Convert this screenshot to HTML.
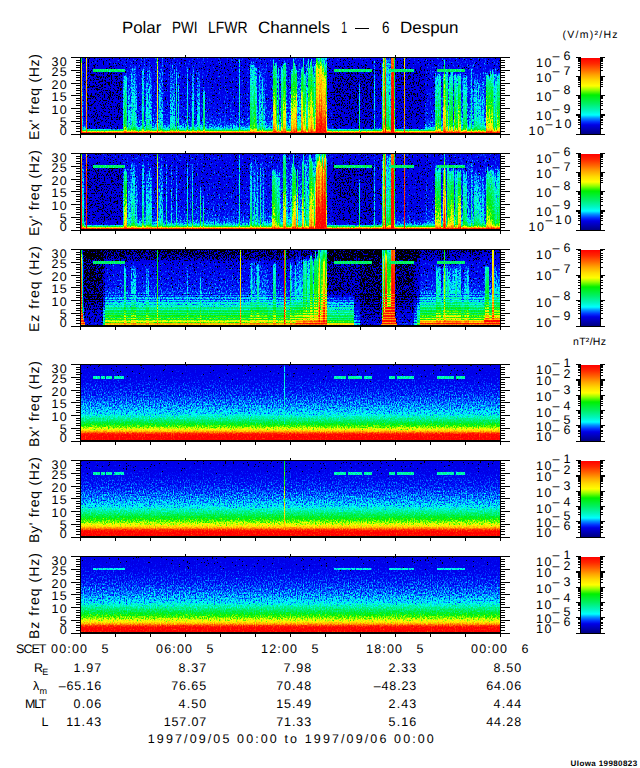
<!DOCTYPE html><html><head><meta charset="utf-8"><title>Polar PWI LFWR</title><style>html,body{margin:0;padding:0;background:#fff}svg{display:block}text{font-family:"Liberation Sans",sans-serif}</style></head><body><svg width="640" height="768" viewBox="0 0 640 768" shape-rendering="crispEdges" text-rendering="geometricPrecision"><rect width="640" height="768" fill="#fff"/><defs><filter id="f1" filterUnits="userSpaceOnUse" x="81" y="57" width="420" height="77" color-interpolation-filters="sRGB"><feTurbulence type="fractalNoise" baseFrequency="0.83 0.55" numOctaves="2" seed="3"/><feColorMatrix type="matrix" values="1 0 0 0 0 1 0 0 0 0 1 0 0 0 0 0 0 0 0 1"/><feComponentTransfer result="nz"><feFuncR type="table" tableValues="0.326 0.354 0.382 0.409 0.434 0.459 0.483 0.507 0.529 0.551 0.572 0.592 0.612 0.631 0.650 0.668 0.685 0.702 0.719 0.735 0.750 0.765 0.780 0.794 0.808 0.821 0.834 0.847 0.859 0.871 0.883 0.895 0.906 0.917 0.928 0.938 0.948 0.958 0.968 0.978 0.987"/><feFuncG type="table" tableValues="0.326 0.354 0.382 0.409 0.434 0.459 0.483 0.507 0.529 0.551 0.572 0.592 0.612 0.631 0.650 0.668 0.685 0.702 0.719 0.735 0.750 0.765 0.780 0.794 0.808 0.821 0.834 0.847 0.859 0.871 0.883 0.895 0.906 0.917 0.928 0.938 0.948 0.958 0.968 0.978 0.987"/><feFuncB type="table" tableValues="0.326 0.354 0.382 0.409 0.434 0.459 0.483 0.507 0.529 0.551 0.572 0.592 0.612 0.631 0.650 0.668 0.685 0.702 0.719 0.735 0.750 0.765 0.780 0.794 0.808 0.821 0.834 0.847 0.859 0.871 0.883 0.895 0.906 0.917 0.928 0.938 0.948 0.958 0.968 0.978 0.987"/></feComponentTransfer><feComponentTransfer in="SourceGraphic" result="amp"><feFuncR type="table" tableValues="1 1 1 1 1 1 1 1 1 1 1 1 1 1 1 1 1 1 1 1 1 0.996 0.99 0.983 0.976 0.97 0.963 0.957 0.95 0.944 0.937 0.931 0.924 0.918 0.911 0.905 0.898 0.892 0.885 0.878 0.872 0.865 0.859 0.852 0.846 0.839 0.833 0.826 0.82 0.813 0.807 0.8"/><feFuncG type="table" tableValues="1 1 1 1 1 1 1 1 1 1 1 1 1 1 1 1 1 1 1 1 1 0.996 0.99 0.983 0.976 0.97 0.963 0.957 0.95 0.944 0.937 0.931 0.924 0.918 0.911 0.905 0.898 0.892 0.885 0.878 0.872 0.865 0.859 0.852 0.846 0.839 0.833 0.826 0.82 0.813 0.807 0.8"/><feFuncB type="table" tableValues="1 1 1 1 1 1 1 1 1 1 1 1 1 1 1 1 1 1 1 1 1 0.996 0.99 0.983 0.976 0.97 0.963 0.957 0.95 0.944 0.937 0.931 0.924 0.918 0.911 0.905 0.898 0.892 0.885 0.878 0.872 0.865 0.859 0.852 0.846 0.839 0.833 0.826 0.82 0.813 0.807 0.8"/></feComponentTransfer><feComponentTransfer in="SourceGraphic" result="iamp"><feFuncR type="table" tableValues="0 0 0 0 0 0 0 0 0 0 0 0 0 0 0 0 0 0 0 0 0 0.004 0.01 0.017 0.024 0.03 0.037 0.043 0.05 0.056 0.063 0.069 0.076 0.082 0.089 0.095 0.102 0.108 0.115 0.122 0.128 0.135 0.141 0.148 0.154 0.161 0.167 0.174 0.18 0.187 0.193 0.2"/><feFuncG type="table" tableValues="0 0 0 0 0 0 0 0 0 0 0 0 0 0 0 0 0 0 0 0 0 0.004 0.01 0.017 0.024 0.03 0.037 0.043 0.05 0.056 0.063 0.069 0.076 0.082 0.089 0.095 0.102 0.108 0.115 0.122 0.128 0.135 0.141 0.148 0.154 0.161 0.167 0.174 0.18 0.187 0.193 0.2"/><feFuncB type="table" tableValues="0 0 0 0 0 0 0 0 0 0 0 0 0 0 0 0 0 0 0 0 0 0.004 0.01 0.017 0.024 0.03 0.037 0.043 0.05 0.056 0.063 0.069 0.076 0.082 0.089 0.095 0.102 0.108 0.115 0.122 0.128 0.135 0.141 0.148 0.154 0.161 0.167 0.174 0.18 0.187 0.193 0.2"/></feComponentTransfer><feComponentTransfer in="SourceGraphic" result="thr"><feFuncR type="table" tableValues="0.631 0.63 0.63 0.629 0.628 0.628 0.627 0.626 0.625 0.625 0.624 0.607 0.529 0.466 0.424 0.388 0.355 0.32 0.281 0.228 0 0 0 0 0 0 0 0 0 0 0 0 0 0 0 0 0 0 0 0 0 0 0 0 0 0 0 0 0 0 0 0"/><feFuncG type="table" tableValues="0.631 0.63 0.63 0.629 0.628 0.628 0.627 0.626 0.625 0.625 0.624 0.607 0.529 0.466 0.424 0.388 0.355 0.32 0.281 0.228 0 0 0 0 0 0 0 0 0 0 0 0 0 0 0 0 0 0 0 0 0 0 0 0 0 0 0 0 0 0 0 0"/><feFuncB type="table" tableValues="0.631 0.63 0.63 0.629 0.628 0.628 0.627 0.626 0.625 0.625 0.624 0.607 0.529 0.466 0.424 0.388 0.355 0.32 0.281 0.228 0 0 0 0 0 0 0 0 0 0 0 0 0 0 0 0 0 0 0 0 0 0 0 0 0 0 0 0 0 0 0 0"/></feComponentTransfer><feComposite in="amp" in2="nz" operator="arithmetic" k1="1" k2="0" k3="0" k4="0" result="m"/><feComposite in="SourceGraphic" in2="m" operator="arithmetic" k1="0" k2="0.5" k3="0.2344" k4="0" result="v1"/><feComposite in="v1" in2="iamp" operator="arithmetic" k1="0" k2="2" k3="0.3516" k4="-0.3516" result="v2"/><feTurbulence type="fractalNoise" baseFrequency="0.87 0.63" numOctaves="2" seed="53"/><feColorMatrix type="matrix" values="1 0 0 0 0 1 0 0 0 0 1 0 0 0 0 0 0 0 0 1" result="n2"/><feComposite in="n2" in2="thr" operator="arithmetic" k1="0" k2="1" k3="-1" k4="1"/><feComponentTransfer result="mask"><feFuncR type="linear" slope="30" intercept="-29"/><feFuncG type="linear" slope="30" intercept="-29"/><feFuncB type="linear" slope="30" intercept="-29"/></feComponentTransfer><feComposite in="v2" in2="mask" operator="arithmetic" k1="1" k2="0" k3="0" k4="0"/><feComponentTransfer><feFuncR type="table" tableValues="0 0 0 0 0 0 0 0 0 0 0 0 0 0 0 0 0 0 0 0 0 0 0 0 0 0 0 0 0 0 0 0 0 0 0 0 0 0 0 0 0 0 0 0 0 0 0 0 0 0 0 0 0 0 0 0 0 0 0 0 0 0 0 0 0 0 0 0 0 0 0 0 0 0 0 0 0 0 0 0 0 0 0.069 0.16 0.252 0.343 0.435 0.526 0.614 0.695 0.776 0.857 0.938 1 1 1 1 1 1 1 1 1 1 1 1 1 1 1 1 1 1 1 1 1 1 1 1 1 1 1 1 1 1 1 1 1 1 1 1"/><feFuncG type="table" tableValues="0 0 0 0 0 0 0 0 0 0 0 0 0 0 0 0 0 0 0 0 0 0 0 0 0 0 0 0 0 0 0 0 0 0 0 0 0 0 0 0 0 0 0 0 0.025 0.076 0.127 0.178 0.248 0.33 0.412 0.493 0.575 0.678 0.786 0.893 1 0.993 0.986 0.98 0.973 0.966 0.96 0.958 0.956 0.953 0.951 0.949 0.947 0.944 0.942 0.941 0.941 0.941 0.941 0.941 0.941 0.941 0.941 0.941 0.941 0.941 0.948 0.957 0.966 0.975 0.985 0.994 1 1 1 1 1 0.995 0.974 0.952 0.931 0.91 0.888 0.867 0.839 0.809 0.779 0.749 0.719 0.689 0.659 0.626 0.59 0.555 0.52 0.484 0.449 0.413 0.379 0.346 0.314 0.281 0.248 0.216 0.183 0.153 0.131 0.109 0.087 0.065 0.044 0.022 0"/><feFuncB type="table" tableValues="0 0 0 0 0 0 0 0 0 0 0 0 0 0 0 0 0 0 0 0 0 0 0 0.109 0.29 0.472 0.653 0.834 0.873 0.875 0.877 0.88 0.882 0.885 0.887 0.89 0.892 0.896 0.903 0.91 0.917 0.924 0.931 0.938 0.949 0.964 0.979 0.994 1 1 1 1 1 1 1 1 1 0.956 0.911 0.867 0.823 0.779 0.735 0.694 0.654 0.613 0.572 0.531 0.49 0.449 0.408 0.37 0.334 0.298 0.262 0.226 0.19 0.154 0.117 0.081 0.045 0.009 0 0 0 0 0 0 0 0 0 0 0 0 0 0 0 0 0 0 0 0 0 0 0 0 0 0 0 0 0 0 0 0 0 0 0 0 0 0 0 0 0 0 0 0 0 0 0"/></feComponentTransfer></filter><linearGradient id="c0" x1="0" y1="0" x2="0" y2="1"><stop offset="0" stop-color="#7d7d7d"/><stop offset="0.07" stop-color="#b3b3b3"/><stop offset="0.08" stop-color="#b5b5b5"/><stop offset="0.16" stop-color="#c9c9c9"/><stop offset="0.2" stop-color="#cbcbcb"/><stop offset="0.331" stop-color="#d1d1d1"/><stop offset="0.45" stop-color="#d7d7d7"/><stop offset="0.5" stop-color="#d9d9d9"/><stop offset="0.591" stop-color="#e2e2e2"/><stop offset="0.75" stop-color="#f0f0f0"/><stop offset="0.76" stop-color="#f1f1f1"/><stop offset="0.864" stop-color="#ffffff"/><stop offset="0.903" stop-color="#ffffff"/><stop offset="0.929" stop-color="#ffffff"/><stop offset="0.942" stop-color="#ffffff"/><stop offset="0.955" stop-color="#ffffff"/><stop offset="0.968" stop-color="#ffffff"/><stop offset="0.981" stop-color="#ffffff"/><stop offset="1" stop-color="#ffffff"/></linearGradient><linearGradient id="c1" x1="0" y1="0" x2="0" y2="1"><stop offset="0" stop-color="#545454"/><stop offset="0.08" stop-color="#545454"/><stop offset="0.1" stop-color="#545454"/><stop offset="0.16" stop-color="#5c5c5c"/><stop offset="0.2" stop-color="#5d5d5d"/><stop offset="0.331" stop-color="#5f5f5f"/><stop offset="0.45" stop-color="#636363"/><stop offset="0.591" stop-color="#676767"/><stop offset="0.76" stop-color="#6c6c6c"/><stop offset="0.864" stop-color="#737373"/><stop offset="0.903" stop-color="#7b7b7b"/><stop offset="0.929" stop-color="#878787"/><stop offset="0.942" stop-color="#929292"/><stop offset="0.955" stop-color="#a8a8a8"/><stop offset="0.968" stop-color="#c9c9c9"/><stop offset="0.981" stop-color="#f3f3f3"/><stop offset="1" stop-color="#ffffff"/></linearGradient><linearGradient id="c2" x1="0" y1="0" x2="0" y2="1"><stop offset="0" stop-color="#4f4f4f"/><stop offset="0.08" stop-color="#4f4f4f"/><stop offset="0.2" stop-color="#4f4f4f"/><stop offset="0.331" stop-color="#4f4f4f"/><stop offset="0.45" stop-color="#505050"/><stop offset="0.591" stop-color="#525252"/><stop offset="0.76" stop-color="#545454"/><stop offset="0.864" stop-color="#595959"/><stop offset="0.903" stop-color="#616161"/><stop offset="0.929" stop-color="#6c6c6c"/><stop offset="0.942" stop-color="#7f7f7f"/><stop offset="0.955" stop-color="#999999"/><stop offset="0.968" stop-color="#c0c0c0"/><stop offset="0.981" stop-color="#f1f1f1"/><stop offset="1" stop-color="#ffffff"/></linearGradient><linearGradient id="c3" x1="0" y1="0" x2="0" y2="1"><stop offset="0" stop-color="#bbbbbb"/><stop offset="0.08" stop-color="#c1c1c1"/><stop offset="0.2" stop-color="#cacaca"/><stop offset="0.331" stop-color="#d1d1d1"/><stop offset="0.45" stop-color="#d3d3d3"/><stop offset="0.591" stop-color="#d5d5d5"/><stop offset="0.76" stop-color="#d7d7d7"/><stop offset="0.864" stop-color="#dadada"/><stop offset="0.903" stop-color="#dcdcdc"/><stop offset="0.929" stop-color="#e0e0e0"/><stop offset="0.942" stop-color="#e2e2e2"/><stop offset="0.955" stop-color="#e8e8e8"/><stop offset="0.968" stop-color="#f1f1f1"/><stop offset="0.981" stop-color="#fcfcfc"/><stop offset="1" stop-color="#ffffff"/></linearGradient><linearGradient id="c4" x1="0" y1="0" x2="0" y2="1"><stop offset="0" stop-color="#515151"/><stop offset="0.08" stop-color="#505050"/><stop offset="0.2" stop-color="#454545"/><stop offset="0.331" stop-color="#454545"/><stop offset="0.45" stop-color="#454545"/><stop offset="0.591" stop-color="#464646"/><stop offset="0.76" stop-color="#474747"/><stop offset="0.864" stop-color="#494949"/><stop offset="0.903" stop-color="#4c4c4c"/><stop offset="0.929" stop-color="#525252"/><stop offset="0.942" stop-color="#777777"/><stop offset="0.955" stop-color="#939393"/><stop offset="0.968" stop-color="#bcbcbc"/><stop offset="0.981" stop-color="#f0f0f0"/><stop offset="1" stop-color="#ffffff"/></linearGradient><linearGradient id="c5" x1="0" y1="0" x2="0" y2="1"><stop offset="0" stop-color="#515151"/><stop offset="0.08" stop-color="#505050"/><stop offset="0.2" stop-color="#474747"/><stop offset="0.331" stop-color="#474747"/><stop offset="0.45" stop-color="#484848"/><stop offset="0.591" stop-color="#494949"/><stop offset="0.76" stop-color="#4a4a4a"/><stop offset="0.864" stop-color="#4c4c4c"/><stop offset="0.903" stop-color="#4f4f4f"/><stop offset="0.929" stop-color="#545454"/><stop offset="0.942" stop-color="#797979"/><stop offset="0.955" stop-color="#959595"/><stop offset="0.968" stop-color="#bdbdbd"/><stop offset="0.981" stop-color="#f0f0f0"/><stop offset="1" stop-color="#ffffff"/></linearGradient><linearGradient id="c6" x1="0" y1="0" x2="0" y2="1"><stop offset="0" stop-color="#515151"/><stop offset="0.08" stop-color="#505050"/><stop offset="0.2" stop-color="#454545"/><stop offset="0.331" stop-color="#454545"/><stop offset="0.45" stop-color="#464646"/><stop offset="0.591" stop-color="#474747"/><stop offset="0.76" stop-color="#484848"/><stop offset="0.864" stop-color="#4a4a4a"/><stop offset="0.903" stop-color="#4d4d4d"/><stop offset="0.929" stop-color="#525252"/><stop offset="0.942" stop-color="#787878"/><stop offset="0.955" stop-color="#939393"/><stop offset="0.968" stop-color="#bcbcbc"/><stop offset="0.981" stop-color="#f0f0f0"/><stop offset="1" stop-color="#ffffff"/></linearGradient><linearGradient id="c7" x1="0" y1="0" x2="0" y2="1"><stop offset="0" stop-color="#515151"/><stop offset="0.08" stop-color="#505050"/><stop offset="0.2" stop-color="#464646"/><stop offset="0.331" stop-color="#464646"/><stop offset="0.45" stop-color="#474747"/><stop offset="0.591" stop-color="#484848"/><stop offset="0.76" stop-color="#494949"/><stop offset="0.864" stop-color="#4b4b4b"/><stop offset="0.903" stop-color="#4e4e4e"/><stop offset="0.929" stop-color="#535353"/><stop offset="0.942" stop-color="#787878"/><stop offset="0.955" stop-color="#949494"/><stop offset="0.968" stop-color="#bdbdbd"/><stop offset="0.981" stop-color="#f0f0f0"/><stop offset="1" stop-color="#ffffff"/></linearGradient><linearGradient id="c8" x1="0" y1="0" x2="0" y2="1"><stop offset="0" stop-color="#515151"/><stop offset="0.08" stop-color="#505050"/><stop offset="0.2" stop-color="#444444"/><stop offset="0.331" stop-color="#444444"/><stop offset="0.45" stop-color="#444444"/><stop offset="0.591" stop-color="#454545"/><stop offset="0.76" stop-color="#464646"/><stop offset="0.864" stop-color="#484848"/><stop offset="0.903" stop-color="#4b4b4b"/><stop offset="0.929" stop-color="#515151"/><stop offset="0.942" stop-color="#767676"/><stop offset="0.955" stop-color="#929292"/><stop offset="0.968" stop-color="#bcbcbc"/><stop offset="0.981" stop-color="#f0f0f0"/><stop offset="1" stop-color="#ffffff"/></linearGradient><linearGradient id="c9" x1="0" y1="0" x2="0" y2="1"><stop offset="0" stop-color="#545454"/><stop offset="0.08" stop-color="#545454"/><stop offset="0.2" stop-color="#545454"/><stop offset="0.26" stop-color="#616161"/><stop offset="0.331" stop-color="#646464"/><stop offset="0.45" stop-color="#696969"/><stop offset="0.591" stop-color="#6f6f6f"/><stop offset="0.76" stop-color="#757575"/><stop offset="0.864" stop-color="#7d7d7d"/><stop offset="0.903" stop-color="#848484"/><stop offset="0.929" stop-color="#909090"/><stop offset="0.942" stop-color="#9a9a9a"/><stop offset="0.955" stop-color="#afafaf"/><stop offset="0.968" stop-color="#cdcdcd"/><stop offset="0.981" stop-color="#f4f4f4"/><stop offset="1" stop-color="#ffffff"/></linearGradient><linearGradient id="c10" x1="0" y1="0" x2="0" y2="1"><stop offset="0" stop-color="#545454"/><stop offset="0.08" stop-color="#545454"/><stop offset="0.2" stop-color="#545454"/><stop offset="0.26" stop-color="#717171"/><stop offset="0.331" stop-color="#777777"/><stop offset="0.45" stop-color="#828282"/><stop offset="0.591" stop-color="#8c8c8c"/><stop offset="0.76" stop-color="#969696"/><stop offset="0.864" stop-color="#9f9f9f"/><stop offset="0.903" stop-color="#a6a6a6"/><stop offset="0.929" stop-color="#b0b0b0"/><stop offset="0.942" stop-color="#b7b7b7"/><stop offset="0.955" stop-color="#c6c6c6"/><stop offset="0.968" stop-color="#dcdcdc"/><stop offset="0.981" stop-color="#f7f7f7"/><stop offset="1" stop-color="#ffffff"/></linearGradient><linearGradient id="c11" x1="0" y1="0" x2="0" y2="1"><stop offset="0" stop-color="#545454"/><stop offset="0.08" stop-color="#545454"/><stop offset="0.2" stop-color="#545454"/><stop offset="0.26" stop-color="#6f6f6f"/><stop offset="0.331" stop-color="#747474"/><stop offset="0.45" stop-color="#7e7e7e"/><stop offset="0.591" stop-color="#888888"/><stop offset="0.76" stop-color="#929292"/><stop offset="0.864" stop-color="#9a9a9a"/><stop offset="0.903" stop-color="#a2a2a2"/><stop offset="0.929" stop-color="#ababab"/><stop offset="0.942" stop-color="#b3b3b3"/><stop offset="0.955" stop-color="#c3c3c3"/><stop offset="0.968" stop-color="#dadada"/><stop offset="0.981" stop-color="#f7f7f7"/><stop offset="1" stop-color="#ffffff"/></linearGradient><linearGradient id="c12" x1="0" y1="0" x2="0" y2="1"><stop offset="0" stop-color="#545454"/><stop offset="0.08" stop-color="#545454"/><stop offset="0.2" stop-color="#545454"/><stop offset="0.26" stop-color="#6a6a6a"/><stop offset="0.331" stop-color="#6f6f6f"/><stop offset="0.45" stop-color="#777777"/><stop offset="0.591" stop-color="#7f7f7f"/><stop offset="0.76" stop-color="#888888"/><stop offset="0.864" stop-color="#919191"/><stop offset="0.903" stop-color="#989898"/><stop offset="0.929" stop-color="#a2a2a2"/><stop offset="0.942" stop-color="#ababab"/><stop offset="0.955" stop-color="#bcbcbc"/><stop offset="0.968" stop-color="#d6d6d6"/><stop offset="0.981" stop-color="#f6f6f6"/><stop offset="1" stop-color="#ffffff"/></linearGradient><linearGradient id="c13" x1="0" y1="0" x2="0" y2="1"><stop offset="0" stop-color="#575757"/><stop offset="0.08" stop-color="#575757"/><stop offset="0.2" stop-color="#575757"/><stop offset="0.331" stop-color="#575757"/><stop offset="0.45" stop-color="#585858"/><stop offset="0.591" stop-color="#5a5a5a"/><stop offset="0.76" stop-color="#5d5d5d"/><stop offset="0.864" stop-color="#626262"/><stop offset="0.903" stop-color="#6b6b6b"/><stop offset="0.929" stop-color="#787878"/><stop offset="0.942" stop-color="#848484"/><stop offset="0.955" stop-color="#9d9d9d"/><stop offset="0.968" stop-color="#c2c2c2"/><stop offset="0.981" stop-color="#f2f2f2"/><stop offset="1" stop-color="#ffffff"/></linearGradient><linearGradient id="c14" x1="0" y1="0" x2="0" y2="1"><stop offset="0" stop-color="#545454"/><stop offset="0.08" stop-color="#545454"/><stop offset="0.2" stop-color="#545454"/><stop offset="0.25" stop-color="#545454"/><stop offset="0.31" stop-color="#616161"/><stop offset="0.331" stop-color="#626262"/><stop offset="0.45" stop-color="#696969"/><stop offset="0.591" stop-color="#6f6f6f"/><stop offset="0.76" stop-color="#757575"/><stop offset="0.864" stop-color="#7d7d7d"/><stop offset="0.903" stop-color="#848484"/><stop offset="0.929" stop-color="#909090"/><stop offset="0.942" stop-color="#9a9a9a"/><stop offset="0.955" stop-color="#afafaf"/><stop offset="0.968" stop-color="#cdcdcd"/><stop offset="0.981" stop-color="#f4f4f4"/><stop offset="1" stop-color="#ffffff"/></linearGradient><linearGradient id="c15" x1="0" y1="0" x2="0" y2="1"><stop offset="0" stop-color="#545454"/><stop offset="0.08" stop-color="#545454"/><stop offset="0.2" stop-color="#545454"/><stop offset="0.26" stop-color="#5c5c5c"/><stop offset="0.331" stop-color="#5e5e5e"/><stop offset="0.45" stop-color="#626262"/><stop offset="0.591" stop-color="#676767"/><stop offset="0.76" stop-color="#6c6c6c"/><stop offset="0.864" stop-color="#737373"/><stop offset="0.903" stop-color="#7b7b7b"/><stop offset="0.929" stop-color="#878787"/><stop offset="0.942" stop-color="#929292"/><stop offset="0.955" stop-color="#a8a8a8"/><stop offset="0.968" stop-color="#c9c9c9"/><stop offset="0.981" stop-color="#f3f3f3"/><stop offset="1" stop-color="#ffffff"/></linearGradient><linearGradient id="c16" x1="0" y1="0" x2="0" y2="1"><stop offset="0" stop-color="#545454"/><stop offset="0.08" stop-color="#545454"/><stop offset="0.1" stop-color="#545454"/><stop offset="0.16" stop-color="#5a5a5a"/><stop offset="0.2" stop-color="#5b5b5b"/><stop offset="0.331" stop-color="#5c5c5c"/><stop offset="0.45" stop-color="#5f5f5f"/><stop offset="0.591" stop-color="#636363"/><stop offset="0.76" stop-color="#676767"/><stop offset="0.864" stop-color="#6e6e6e"/><stop offset="0.903" stop-color="#767676"/><stop offset="0.929" stop-color="#828282"/><stop offset="0.942" stop-color="#8d8d8d"/><stop offset="0.955" stop-color="#a5a5a5"/><stop offset="0.968" stop-color="#c7c7c7"/><stop offset="0.981" stop-color="#f3f3f3"/><stop offset="1" stop-color="#ffffff"/></linearGradient><linearGradient id="c17" x1="0" y1="0" x2="0" y2="1"><stop offset="0" stop-color="#545454"/><stop offset="0.08" stop-color="#545454"/><stop offset="0.1" stop-color="#545454"/><stop offset="0.16" stop-color="#616161"/><stop offset="0.2" stop-color="#626262"/><stop offset="0.331" stop-color="#656565"/><stop offset="0.45" stop-color="#6a6a6a"/><stop offset="0.591" stop-color="#6f6f6f"/><stop offset="0.76" stop-color="#757575"/><stop offset="0.864" stop-color="#7d7d7d"/><stop offset="0.903" stop-color="#848484"/><stop offset="0.929" stop-color="#909090"/><stop offset="0.942" stop-color="#9a9a9a"/><stop offset="0.955" stop-color="#afafaf"/><stop offset="0.968" stop-color="#cdcdcd"/><stop offset="0.981" stop-color="#f4f4f4"/><stop offset="1" stop-color="#ffffff"/></linearGradient><linearGradient id="c18" x1="0" y1="0" x2="0" y2="1"><stop offset="0" stop-color="#545454"/><stop offset="0.08" stop-color="#545454"/><stop offset="0.1" stop-color="#545454"/><stop offset="0.16" stop-color="#666666"/><stop offset="0.2" stop-color="#676767"/><stop offset="0.331" stop-color="#6c6c6c"/><stop offset="0.45" stop-color="#717171"/><stop offset="0.591" stop-color="#777777"/><stop offset="0.76" stop-color="#7f7f7f"/><stop offset="0.864" stop-color="#878787"/><stop offset="0.903" stop-color="#8e8e8e"/><stop offset="0.929" stop-color="#999999"/><stop offset="0.942" stop-color="#a2a2a2"/><stop offset="0.955" stop-color="#b6b6b6"/><stop offset="0.968" stop-color="#d1d1d1"/><stop offset="0.981" stop-color="#f5f5f5"/><stop offset="1" stop-color="#ffffff"/></linearGradient><linearGradient id="c19" x1="0" y1="0" x2="0" y2="1"><stop offset="0" stop-color="#545454"/><stop offset="0.08" stop-color="#545454"/><stop offset="0.1" stop-color="#545454"/><stop offset="0.16" stop-color="#5f5f5f"/><stop offset="0.2" stop-color="#606060"/><stop offset="0.331" stop-color="#626262"/><stop offset="0.45" stop-color="#666666"/><stop offset="0.591" stop-color="#6b6b6b"/><stop offset="0.76" stop-color="#707070"/><stop offset="0.864" stop-color="#787878"/><stop offset="0.903" stop-color="#808080"/><stop offset="0.929" stop-color="#8c8c8c"/><stop offset="0.942" stop-color="#969696"/><stop offset="0.955" stop-color="#acacac"/><stop offset="0.968" stop-color="#cbcbcb"/><stop offset="0.981" stop-color="#f3f3f3"/><stop offset="1" stop-color="#ffffff"/></linearGradient><linearGradient id="c20" x1="0" y1="0" x2="0" y2="1"><stop offset="0" stop-color="#545454"/><stop offset="0.08" stop-color="#545454"/><stop offset="0.2" stop-color="#545454"/><stop offset="0.26" stop-color="#5f5f5f"/><stop offset="0.331" stop-color="#616161"/><stop offset="0.45" stop-color="#666666"/><stop offset="0.591" stop-color="#6b6b6b"/><stop offset="0.76" stop-color="#707070"/><stop offset="0.864" stop-color="#787878"/><stop offset="0.903" stop-color="#808080"/><stop offset="0.929" stop-color="#8c8c8c"/><stop offset="0.942" stop-color="#969696"/><stop offset="0.955" stop-color="#acacac"/><stop offset="0.968" stop-color="#cbcbcb"/><stop offset="0.981" stop-color="#f3f3f3"/><stop offset="1" stop-color="#ffffff"/></linearGradient><linearGradient id="c21" x1="0" y1="0" x2="0" y2="1"><stop offset="0" stop-color="#525252"/><stop offset="0.08" stop-color="#525252"/><stop offset="0.2" stop-color="#525252"/><stop offset="0.331" stop-color="#525252"/><stop offset="0.45" stop-color="#545454"/><stop offset="0.591" stop-color="#555555"/><stop offset="0.76" stop-color="#585858"/><stop offset="0.864" stop-color="#5e5e5e"/><stop offset="0.903" stop-color="#676767"/><stop offset="0.929" stop-color="#757575"/><stop offset="0.942" stop-color="#818181"/><stop offset="0.955" stop-color="#9b9b9b"/><stop offset="0.968" stop-color="#c1c1c1"/><stop offset="0.981" stop-color="#f1f1f1"/><stop offset="1" stop-color="#ffffff"/></linearGradient><linearGradient id="c22" x1="0" y1="0" x2="0" y2="1"><stop offset="0" stop-color="#515151"/><stop offset="0.08" stop-color="#515151"/><stop offset="0.2" stop-color="#515151"/><stop offset="0.331" stop-color="#515151"/><stop offset="0.45" stop-color="#535353"/><stop offset="0.591" stop-color="#545454"/><stop offset="0.76" stop-color="#575757"/><stop offset="0.864" stop-color="#5d5d5d"/><stop offset="0.903" stop-color="#666666"/><stop offset="0.929" stop-color="#747474"/><stop offset="0.942" stop-color="#808080"/><stop offset="0.955" stop-color="#9a9a9a"/><stop offset="0.968" stop-color="#c0c0c0"/><stop offset="0.981" stop-color="#f1f1f1"/><stop offset="1" stop-color="#ffffff"/></linearGradient><linearGradient id="c23" x1="0" y1="0" x2="0" y2="1"><stop offset="0" stop-color="#545454"/><stop offset="0.08" stop-color="#545454"/><stop offset="0.2" stop-color="#545454"/><stop offset="0.331" stop-color="#545454"/><stop offset="0.45" stop-color="#555555"/><stop offset="0.591" stop-color="#575757"/><stop offset="0.76" stop-color="#5a5a5a"/><stop offset="0.864" stop-color="#606060"/><stop offset="0.903" stop-color="#686868"/><stop offset="0.929" stop-color="#767676"/><stop offset="0.942" stop-color="#828282"/><stop offset="0.955" stop-color="#9c9c9c"/><stop offset="0.968" stop-color="#c1c1c1"/><stop offset="0.981" stop-color="#f1f1f1"/><stop offset="1" stop-color="#ffffff"/></linearGradient><linearGradient id="c24" x1="0" y1="0" x2="0" y2="1"><stop offset="0" stop-color="#585858"/><stop offset="0.08" stop-color="#585858"/><stop offset="0.2" stop-color="#585858"/><stop offset="0.331" stop-color="#585858"/><stop offset="0.45" stop-color="#595959"/><stop offset="0.591" stop-color="#5b5b5b"/><stop offset="0.76" stop-color="#5e5e5e"/><stop offset="0.864" stop-color="#636363"/><stop offset="0.903" stop-color="#6c6c6c"/><stop offset="0.929" stop-color="#797979"/><stop offset="0.942" stop-color="#858585"/><stop offset="0.955" stop-color="#9e9e9e"/><stop offset="0.968" stop-color="#c3c3c3"/><stop offset="0.981" stop-color="#f2f2f2"/><stop offset="1" stop-color="#ffffff"/></linearGradient><linearGradient id="c25" x1="0" y1="0" x2="0" y2="1"><stop offset="0" stop-color="#545454"/><stop offset="0.08" stop-color="#545454"/><stop offset="0.1" stop-color="#545454"/><stop offset="0.16" stop-color="#686868"/><stop offset="0.2" stop-color="#696969"/><stop offset="0.331" stop-color="#6f6f6f"/><stop offset="0.45" stop-color="#757575"/><stop offset="0.591" stop-color="#7b7b7b"/><stop offset="0.76" stop-color="#838383"/><stop offset="0.864" stop-color="#8c8c8c"/><stop offset="0.903" stop-color="#939393"/><stop offset="0.929" stop-color="#9e9e9e"/><stop offset="0.942" stop-color="#a6a6a6"/><stop offset="0.955" stop-color="#b9b9b9"/><stop offset="0.968" stop-color="#d3d3d3"/><stop offset="0.981" stop-color="#f5f5f5"/><stop offset="1" stop-color="#ffffff"/></linearGradient><linearGradient id="c26" x1="0" y1="0" x2="0" y2="1"><stop offset="0" stop-color="#545454"/><stop offset="0.08" stop-color="#545454"/><stop offset="0.2" stop-color="#545454"/><stop offset="0.25" stop-color="#545454"/><stop offset="0.31" stop-color="#636363"/><stop offset="0.331" stop-color="#646464"/><stop offset="0.45" stop-color="#6c6c6c"/><stop offset="0.591" stop-color="#737373"/><stop offset="0.76" stop-color="#7a7a7a"/><stop offset="0.864" stop-color="#828282"/><stop offset="0.903" stop-color="#898989"/><stop offset="0.929" stop-color="#959595"/><stop offset="0.942" stop-color="#9e9e9e"/><stop offset="0.955" stop-color="#b2b2b2"/><stop offset="0.968" stop-color="#cfcfcf"/><stop offset="0.981" stop-color="#f4f4f4"/><stop offset="1" stop-color="#ffffff"/></linearGradient><linearGradient id="c27" x1="0" y1="0" x2="0" y2="1"><stop offset="0" stop-color="#545454"/><stop offset="0.05" stop-color="#545454"/><stop offset="0.08" stop-color="#5c5c5c"/><stop offset="0.11" stop-color="#636363"/><stop offset="0.2" stop-color="#666666"/><stop offset="0.331" stop-color="#696969"/><stop offset="0.45" stop-color="#6e6e6e"/><stop offset="0.591" stop-color="#737373"/><stop offset="0.76" stop-color="#7a7a7a"/><stop offset="0.864" stop-color="#828282"/><stop offset="0.903" stop-color="#898989"/><stop offset="0.929" stop-color="#959595"/><stop offset="0.942" stop-color="#9e9e9e"/><stop offset="0.955" stop-color="#b2b2b2"/><stop offset="0.968" stop-color="#cfcfcf"/><stop offset="0.981" stop-color="#f4f4f4"/><stop offset="1" stop-color="#ffffff"/></linearGradient><linearGradient id="c28" x1="0" y1="0" x2="0" y2="1"><stop offset="0" stop-color="#545454"/><stop offset="0.08" stop-color="#545454"/><stop offset="0.15" stop-color="#545454"/><stop offset="0.2" stop-color="#5b5b5b"/><stop offset="0.21" stop-color="#5c5c5c"/><stop offset="0.331" stop-color="#5f5f5f"/><stop offset="0.45" stop-color="#636363"/><stop offset="0.591" stop-color="#676767"/><stop offset="0.76" stop-color="#6c6c6c"/><stop offset="0.864" stop-color="#737373"/><stop offset="0.903" stop-color="#7b7b7b"/><stop offset="0.929" stop-color="#878787"/><stop offset="0.942" stop-color="#929292"/><stop offset="0.955" stop-color="#a8a8a8"/><stop offset="0.968" stop-color="#c9c9c9"/><stop offset="0.981" stop-color="#f3f3f3"/><stop offset="1" stop-color="#ffffff"/></linearGradient><linearGradient id="c29" x1="0" y1="0" x2="0" y2="1"><stop offset="0" stop-color="#505050"/><stop offset="0.08" stop-color="#505050"/><stop offset="0.2" stop-color="#505050"/><stop offset="0.331" stop-color="#505050"/><stop offset="0.45" stop-color="#515151"/><stop offset="0.591" stop-color="#535353"/><stop offset="0.76" stop-color="#565656"/><stop offset="0.864" stop-color="#5b5b5b"/><stop offset="0.903" stop-color="#636363"/><stop offset="0.929" stop-color="#707070"/><stop offset="0.942" stop-color="#7f7f7f"/><stop offset="0.955" stop-color="#9a9a9a"/><stop offset="0.968" stop-color="#c0c0c0"/><stop offset="0.981" stop-color="#f1f1f1"/><stop offset="1" stop-color="#ffffff"/></linearGradient><linearGradient id="c30" x1="0" y1="0" x2="0" y2="1"><stop offset="0" stop-color="#565656"/><stop offset="0.08" stop-color="#565656"/><stop offset="0.2" stop-color="#565656"/><stop offset="0.331" stop-color="#565656"/><stop offset="0.45" stop-color="#575757"/><stop offset="0.591" stop-color="#595959"/><stop offset="0.76" stop-color="#5c5c5c"/><stop offset="0.864" stop-color="#626262"/><stop offset="0.903" stop-color="#6a6a6a"/><stop offset="0.929" stop-color="#787878"/><stop offset="0.942" stop-color="#838383"/><stop offset="0.955" stop-color="#9d9d9d"/><stop offset="0.968" stop-color="#c2c2c2"/><stop offset="0.981" stop-color="#f1f1f1"/><stop offset="1" stop-color="#ffffff"/></linearGradient><linearGradient id="c31" x1="0" y1="0" x2="0" y2="1"><stop offset="0" stop-color="#555555"/><stop offset="0.08" stop-color="#555555"/><stop offset="0.2" stop-color="#555555"/><stop offset="0.331" stop-color="#555555"/><stop offset="0.45" stop-color="#565656"/><stop offset="0.591" stop-color="#585858"/><stop offset="0.76" stop-color="#5b5b5b"/><stop offset="0.864" stop-color="#616161"/><stop offset="0.903" stop-color="#696969"/><stop offset="0.929" stop-color="#777777"/><stop offset="0.942" stop-color="#838383"/><stop offset="0.955" stop-color="#9c9c9c"/><stop offset="0.968" stop-color="#c2c2c2"/><stop offset="0.981" stop-color="#f1f1f1"/><stop offset="1" stop-color="#ffffff"/></linearGradient><linearGradient id="c32" x1="0" y1="0" x2="0" y2="1"><stop offset="0" stop-color="#ababab"/><stop offset="0.08" stop-color="#b0b0b0"/><stop offset="0.2" stop-color="#b8b8b8"/><stop offset="0.331" stop-color="#bebebe"/><stop offset="0.45" stop-color="#c0c0c0"/><stop offset="0.591" stop-color="#c2c2c2"/><stop offset="0.76" stop-color="#c4c4c4"/><stop offset="0.864" stop-color="#c7c7c7"/><stop offset="0.903" stop-color="#cbcbcb"/><stop offset="0.929" stop-color="#d0d0d0"/><stop offset="0.942" stop-color="#d4d4d4"/><stop offset="0.955" stop-color="#dddddd"/><stop offset="0.968" stop-color="#eaeaea"/><stop offset="0.981" stop-color="#fafafa"/><stop offset="1" stop-color="#ffffff"/></linearGradient><linearGradient id="c33" x1="0" y1="0" x2="0" y2="1"><stop offset="0" stop-color="#545454"/><stop offset="0.05" stop-color="#545454"/><stop offset="0.08" stop-color="#565656"/><stop offset="0.11" stop-color="#585858"/><stop offset="0.2" stop-color="#585858"/><stop offset="0.331" stop-color="#595959"/><stop offset="0.45" stop-color="#5c5c5c"/><stop offset="0.591" stop-color="#5e5e5e"/><stop offset="0.76" stop-color="#626262"/><stop offset="0.864" stop-color="#696969"/><stop offset="0.903" stop-color="#717171"/><stop offset="0.929" stop-color="#7e7e7e"/><stop offset="0.942" stop-color="#898989"/><stop offset="0.955" stop-color="#a2a2a2"/><stop offset="0.968" stop-color="#c5c5c5"/><stop offset="0.981" stop-color="#f2f2f2"/><stop offset="1" stop-color="#ffffff"/></linearGradient><linearGradient id="c34" x1="0" y1="0" x2="0" y2="1"><stop offset="0" stop-color="#545454"/><stop offset="0.08" stop-color="#545454"/><stop offset="0.15" stop-color="#545454"/><stop offset="0.2" stop-color="#5f5f5f"/><stop offset="0.21" stop-color="#616161"/><stop offset="0.331" stop-color="#656565"/><stop offset="0.45" stop-color="#6a6a6a"/><stop offset="0.591" stop-color="#6f6f6f"/><stop offset="0.76" stop-color="#757575"/><stop offset="0.864" stop-color="#7d7d7d"/><stop offset="0.903" stop-color="#848484"/><stop offset="0.929" stop-color="#909090"/><stop offset="0.942" stop-color="#9a9a9a"/><stop offset="0.955" stop-color="#afafaf"/><stop offset="0.968" stop-color="#cdcdcd"/><stop offset="0.981" stop-color="#f4f4f4"/><stop offset="1" stop-color="#ffffff"/></linearGradient><linearGradient id="c35" x1="0" y1="0" x2="0" y2="1"><stop offset="0" stop-color="#545454"/><stop offset="0.08" stop-color="#545454"/><stop offset="0.15" stop-color="#545454"/><stop offset="0.2" stop-color="#5d5d5d"/><stop offset="0.21" stop-color="#5f5f5f"/><stop offset="0.331" stop-color="#626262"/><stop offset="0.45" stop-color="#666666"/><stop offset="0.591" stop-color="#6b6b6b"/><stop offset="0.76" stop-color="#707070"/><stop offset="0.864" stop-color="#787878"/><stop offset="0.903" stop-color="#808080"/><stop offset="0.929" stop-color="#8c8c8c"/><stop offset="0.942" stop-color="#969696"/><stop offset="0.955" stop-color="#acacac"/><stop offset="0.968" stop-color="#cbcbcb"/><stop offset="0.981" stop-color="#f3f3f3"/><stop offset="1" stop-color="#ffffff"/></linearGradient><linearGradient id="c36" x1="0" y1="0" x2="0" y2="1"><stop offset="0" stop-color="#545454"/><stop offset="0.05" stop-color="#545454"/><stop offset="0.08" stop-color="#585858"/><stop offset="0.11" stop-color="#5c5c5c"/><stop offset="0.2" stop-color="#5e5e5e"/><stop offset="0.331" stop-color="#606060"/><stop offset="0.45" stop-color="#636363"/><stop offset="0.591" stop-color="#676767"/><stop offset="0.76" stop-color="#6c6c6c"/><stop offset="0.864" stop-color="#737373"/><stop offset="0.903" stop-color="#7b7b7b"/><stop offset="0.929" stop-color="#878787"/><stop offset="0.942" stop-color="#929292"/><stop offset="0.955" stop-color="#a8a8a8"/><stop offset="0.968" stop-color="#c9c9c9"/><stop offset="0.981" stop-color="#f3f3f3"/><stop offset="1" stop-color="#ffffff"/></linearGradient><linearGradient id="c37" x1="0" y1="0" x2="0" y2="1"><stop offset="0" stop-color="#545454"/><stop offset="0.06" stop-color="#5c5c5c"/><stop offset="0.08" stop-color="#5d5d5d"/><stop offset="0.2" stop-color="#5e5e5e"/><stop offset="0.331" stop-color="#606060"/><stop offset="0.45" stop-color="#636363"/><stop offset="0.591" stop-color="#676767"/><stop offset="0.76" stop-color="#6c6c6c"/><stop offset="0.864" stop-color="#737373"/><stop offset="0.903" stop-color="#7b7b7b"/><stop offset="0.929" stop-color="#878787"/><stop offset="0.942" stop-color="#929292"/><stop offset="0.955" stop-color="#a8a8a8"/><stop offset="0.968" stop-color="#c9c9c9"/><stop offset="0.981" stop-color="#f3f3f3"/><stop offset="1" stop-color="#ffffff"/></linearGradient><linearGradient id="c38" x1="0" y1="0" x2="0" y2="1"><stop offset="0" stop-color="#535353"/><stop offset="0.08" stop-color="#535353"/><stop offset="0.2" stop-color="#535353"/><stop offset="0.331" stop-color="#535353"/><stop offset="0.45" stop-color="#545454"/><stop offset="0.591" stop-color="#565656"/><stop offset="0.76" stop-color="#595959"/><stop offset="0.864" stop-color="#5f5f5f"/><stop offset="0.903" stop-color="#686868"/><stop offset="0.929" stop-color="#757575"/><stop offset="0.942" stop-color="#818181"/><stop offset="0.955" stop-color="#9b9b9b"/><stop offset="0.968" stop-color="#c1c1c1"/><stop offset="0.981" stop-color="#f1f1f1"/><stop offset="1" stop-color="#ffffff"/></linearGradient><linearGradient id="c39" x1="0" y1="0" x2="0" y2="1"><stop offset="0" stop-color="#545454"/><stop offset="0.05" stop-color="#545454"/><stop offset="0.08" stop-color="#595959"/><stop offset="0.11" stop-color="#5f5f5f"/><stop offset="0.2" stop-color="#606060"/><stop offset="0.331" stop-color="#636363"/><stop offset="0.45" stop-color="#666666"/><stop offset="0.591" stop-color="#6b6b6b"/><stop offset="0.76" stop-color="#707070"/><stop offset="0.864" stop-color="#787878"/><stop offset="0.903" stop-color="#808080"/><stop offset="0.929" stop-color="#8c8c8c"/><stop offset="0.942" stop-color="#969696"/><stop offset="0.955" stop-color="#acacac"/><stop offset="0.968" stop-color="#cbcbcb"/><stop offset="0.981" stop-color="#f3f3f3"/><stop offset="1" stop-color="#ffffff"/></linearGradient><linearGradient id="c40" x1="0" y1="0" x2="0" y2="1"><stop offset="0" stop-color="#545454"/><stop offset="0.08" stop-color="#545454"/><stop offset="0.1" stop-color="#545454"/><stop offset="0.16" stop-color="#6a6a6a"/><stop offset="0.2" stop-color="#6c6c6c"/><stop offset="0.331" stop-color="#727272"/><stop offset="0.45" stop-color="#787878"/><stop offset="0.591" stop-color="#7f7f7f"/><stop offset="0.76" stop-color="#888888"/><stop offset="0.864" stop-color="#919191"/><stop offset="0.903" stop-color="#989898"/><stop offset="0.929" stop-color="#a2a2a2"/><stop offset="0.942" stop-color="#ababab"/><stop offset="0.955" stop-color="#bcbcbc"/><stop offset="0.968" stop-color="#d6d6d6"/><stop offset="0.981" stop-color="#f6f6f6"/><stop offset="1" stop-color="#ffffff"/></linearGradient><linearGradient id="c41" x1="0" y1="0" x2="0" y2="1"><stop offset="0" stop-color="#545454"/><stop offset="0.08" stop-color="#545454"/><stop offset="0.1" stop-color="#545454"/><stop offset="0.16" stop-color="#636363"/><stop offset="0.2" stop-color="#656565"/><stop offset="0.331" stop-color="#696969"/><stop offset="0.45" stop-color="#6d6d6d"/><stop offset="0.591" stop-color="#737373"/><stop offset="0.76" stop-color="#7a7a7a"/><stop offset="0.864" stop-color="#828282"/><stop offset="0.903" stop-color="#898989"/><stop offset="0.929" stop-color="#959595"/><stop offset="0.942" stop-color="#9e9e9e"/><stop offset="0.955" stop-color="#b2b2b2"/><stop offset="0.968" stop-color="#cfcfcf"/><stop offset="0.981" stop-color="#f4f4f4"/><stop offset="1" stop-color="#ffffff"/></linearGradient><linearGradient id="c42" x1="0" y1="0" x2="0" y2="1"><stop offset="0" stop-color="#545454"/><stop offset="0.08" stop-color="#545454"/><stop offset="0.2" stop-color="#545454"/><stop offset="0.331" stop-color="#545454"/><stop offset="0.4" stop-color="#555555"/><stop offset="0.45" stop-color="#686868"/><stop offset="0.46" stop-color="#6c6c6c"/><stop offset="0.591" stop-color="#7f7f7f"/><stop offset="0.76" stop-color="#888888"/><stop offset="0.864" stop-color="#909090"/><stop offset="0.903" stop-color="#989898"/><stop offset="0.929" stop-color="#a2a2a2"/><stop offset="0.942" stop-color="#ababab"/><stop offset="0.955" stop-color="#bcbcbc"/><stop offset="0.968" stop-color="#d6d6d6"/><stop offset="0.981" stop-color="#f6f6f6"/><stop offset="1" stop-color="#ffffff"/></linearGradient><linearGradient id="c43" x1="0" y1="0" x2="0" y2="1"><stop offset="0" stop-color="#6d6d6d"/><stop offset="0.08" stop-color="#6f6f6f"/><stop offset="0.2" stop-color="#737373"/><stop offset="0.331" stop-color="#757575"/><stop offset="0.45" stop-color="#777777"/><stop offset="0.591" stop-color="#797979"/><stop offset="0.76" stop-color="#7c7c7c"/><stop offset="0.864" stop-color="#818181"/><stop offset="0.903" stop-color="#888888"/><stop offset="0.929" stop-color="#939393"/><stop offset="0.942" stop-color="#9c9c9c"/><stop offset="0.955" stop-color="#b1b1b1"/><stop offset="0.968" stop-color="#cecece"/><stop offset="0.981" stop-color="#f4f4f4"/><stop offset="1" stop-color="#ffffff"/></linearGradient><linearGradient id="c44" x1="0" y1="0" x2="0" y2="1"><stop offset="0" stop-color="#545454"/><stop offset="0.05" stop-color="#545454"/><stop offset="0.08" stop-color="#616161"/><stop offset="0.11" stop-color="#6f6f6f"/><stop offset="0.2" stop-color="#737373"/><stop offset="0.331" stop-color="#797979"/><stop offset="0.45" stop-color="#808080"/><stop offset="0.591" stop-color="#888888"/><stop offset="0.76" stop-color="#929292"/><stop offset="0.864" stop-color="#9a9a9a"/><stop offset="0.903" stop-color="#a2a2a2"/><stop offset="0.929" stop-color="#ababab"/><stop offset="0.942" stop-color="#b3b3b3"/><stop offset="0.955" stop-color="#c3c3c3"/><stop offset="0.968" stop-color="#dadada"/><stop offset="0.981" stop-color="#f7f7f7"/><stop offset="1" stop-color="#ffffff"/></linearGradient><linearGradient id="c45" x1="0" y1="0" x2="0" y2="1"><stop offset="0" stop-color="#545454"/><stop offset="0.05" stop-color="#545454"/><stop offset="0.08" stop-color="#5f5f5f"/><stop offset="0.11" stop-color="#6a6a6a"/><stop offset="0.2" stop-color="#6e6e6e"/><stop offset="0.331" stop-color="#737373"/><stop offset="0.45" stop-color="#787878"/><stop offset="0.591" stop-color="#7f7f7f"/><stop offset="0.76" stop-color="#888888"/><stop offset="0.864" stop-color="#919191"/><stop offset="0.903" stop-color="#989898"/><stop offset="0.929" stop-color="#a2a2a2"/><stop offset="0.942" stop-color="#ababab"/><stop offset="0.955" stop-color="#bcbcbc"/><stop offset="0.968" stop-color="#d6d6d6"/><stop offset="0.981" stop-color="#f6f6f6"/><stop offset="1" stop-color="#ffffff"/></linearGradient><linearGradient id="c46" x1="0" y1="0" x2="0" y2="1"><stop offset="0" stop-color="#545454"/><stop offset="0.08" stop-color="#545454"/><stop offset="0.1" stop-color="#545454"/><stop offset="0.16" stop-color="#737373"/><stop offset="0.2" stop-color="#767676"/><stop offset="0.331" stop-color="#7e7e7e"/><stop offset="0.45" stop-color="#868686"/><stop offset="0.591" stop-color="#909090"/><stop offset="0.76" stop-color="#9b9b9b"/><stop offset="0.864" stop-color="#a4a4a4"/><stop offset="0.903" stop-color="#ababab"/><stop offset="0.929" stop-color="#b4b4b4"/><stop offset="0.942" stop-color="#bbbbbb"/><stop offset="0.955" stop-color="#c9c9c9"/><stop offset="0.968" stop-color="#dedede"/><stop offset="0.981" stop-color="#f8f8f8"/><stop offset="1" stop-color="#ffffff"/></linearGradient><linearGradient id="c47" x1="0" y1="0" x2="0" y2="1"><stop offset="0" stop-color="#545454"/><stop offset="0.08" stop-color="#545454"/><stop offset="0.1" stop-color="#545454"/><stop offset="0.16" stop-color="#6f6f6f"/><stop offset="0.2" stop-color="#717171"/><stop offset="0.331" stop-color="#787878"/><stop offset="0.45" stop-color="#7f7f7f"/><stop offset="0.591" stop-color="#888888"/><stop offset="0.76" stop-color="#929292"/><stop offset="0.864" stop-color="#9a9a9a"/><stop offset="0.903" stop-color="#a2a2a2"/><stop offset="0.929" stop-color="#ababab"/><stop offset="0.942" stop-color="#b3b3b3"/><stop offset="0.955" stop-color="#c3c3c3"/><stop offset="0.968" stop-color="#dadada"/><stop offset="0.981" stop-color="#f7f7f7"/><stop offset="1" stop-color="#ffffff"/></linearGradient><linearGradient id="c48" x1="0" y1="0" x2="0" y2="1"><stop offset="0" stop-color="#545454"/><stop offset="0.08" stop-color="#545454"/><stop offset="0.2" stop-color="#545454"/><stop offset="0.26" stop-color="#686868"/><stop offset="0.331" stop-color="#6c6c6c"/><stop offset="0.45" stop-color="#747474"/><stop offset="0.591" stop-color="#7b7b7b"/><stop offset="0.76" stop-color="#838383"/><stop offset="0.864" stop-color="#8c8c8c"/><stop offset="0.903" stop-color="#939393"/><stop offset="0.929" stop-color="#9e9e9e"/><stop offset="0.942" stop-color="#a6a6a6"/><stop offset="0.955" stop-color="#b9b9b9"/><stop offset="0.968" stop-color="#d3d3d3"/><stop offset="0.981" stop-color="#f5f5f5"/><stop offset="1" stop-color="#ffffff"/></linearGradient><linearGradient id="c49" x1="0" y1="0" x2="0" y2="1"><stop offset="0" stop-color="#545454"/><stop offset="0.06" stop-color="#838383"/><stop offset="0.08" stop-color="#858585"/><stop offset="0.2" stop-color="#8e8e8e"/><stop offset="0.331" stop-color="#979797"/><stop offset="0.45" stop-color="#a0a0a0"/><stop offset="0.591" stop-color="#adadad"/><stop offset="0.76" stop-color="#bdbdbd"/><stop offset="0.864" stop-color="#c7c7c7"/><stop offset="0.903" stop-color="#cdcdcd"/><stop offset="0.929" stop-color="#d4d4d4"/><stop offset="0.942" stop-color="#d8d8d8"/><stop offset="0.955" stop-color="#e1e1e1"/><stop offset="0.968" stop-color="#ececec"/><stop offset="0.981" stop-color="#fbfbfb"/><stop offset="1" stop-color="#ffffff"/></linearGradient><linearGradient id="c50" x1="0" y1="0" x2="0" y2="1"><stop offset="0" stop-color="#545454"/><stop offset="0.08" stop-color="#545454"/><stop offset="0.1" stop-color="#545454"/><stop offset="0.16" stop-color="#888888"/><stop offset="0.2" stop-color="#8c8c8c"/><stop offset="0.331" stop-color="#9a9a9a"/><stop offset="0.45" stop-color="#a7a7a7"/><stop offset="0.591" stop-color="#b5b5b5"/><stop offset="0.76" stop-color="#c6c6c6"/><stop offset="0.864" stop-color="#d1d1d1"/><stop offset="0.903" stop-color="#d7d7d7"/><stop offset="0.929" stop-color="#dddddd"/><stop offset="0.942" stop-color="#e1e1e1"/><stop offset="0.955" stop-color="#e7e7e7"/><stop offset="0.968" stop-color="#f0f0f0"/><stop offset="0.981" stop-color="#fcfcfc"/><stop offset="1" stop-color="#ffffff"/></linearGradient><linearGradient id="c51" x1="0" y1="0" x2="0" y2="1"><stop offset="0" stop-color="#545454"/><stop offset="0.05" stop-color="#545454"/><stop offset="0.08" stop-color="#6a6a6a"/><stop offset="0.11" stop-color="#818181"/><stop offset="0.2" stop-color="#888888"/><stop offset="0.331" stop-color="#929292"/><stop offset="0.45" stop-color="#9c9c9c"/><stop offset="0.591" stop-color="#a9a9a9"/><stop offset="0.76" stop-color="#b8b8b8"/><stop offset="0.864" stop-color="#c2c2c2"/><stop offset="0.903" stop-color="#c9c9c9"/><stop offset="0.929" stop-color="#cfcfcf"/><stop offset="0.942" stop-color="#d4d4d4"/><stop offset="0.955" stop-color="#dddddd"/><stop offset="0.968" stop-color="#eaeaea"/><stop offset="0.981" stop-color="#fafafa"/><stop offset="1" stop-color="#ffffff"/></linearGradient><linearGradient id="c52" x1="0" y1="0" x2="0" y2="1"><stop offset="0" stop-color="#545454"/><stop offset="0.05" stop-color="#545454"/><stop offset="0.08" stop-color="#666666"/><stop offset="0.11" stop-color="#787878"/><stop offset="0.2" stop-color="#7e7e7e"/><stop offset="0.331" stop-color="#868686"/><stop offset="0.45" stop-color="#8e8e8e"/><stop offset="0.591" stop-color="#989898"/><stop offset="0.76" stop-color="#a5a5a5"/><stop offset="0.864" stop-color="#aeaeae"/><stop offset="0.903" stop-color="#b5b5b5"/><stop offset="0.929" stop-color="#bdbdbd"/><stop offset="0.942" stop-color="#c4c4c4"/><stop offset="0.955" stop-color="#d0d0d0"/><stop offset="0.968" stop-color="#e2e2e2"/><stop offset="0.981" stop-color="#f9f9f9"/><stop offset="1" stop-color="#ffffff"/></linearGradient><linearGradient id="c53" x1="0" y1="0" x2="0" y2="1"><stop offset="0" stop-color="#545454"/><stop offset="0.08" stop-color="#545454"/><stop offset="0.1" stop-color="#545454"/><stop offset="0.16" stop-color="#787878"/><stop offset="0.2" stop-color="#7b7b7b"/><stop offset="0.331" stop-color="#848484"/><stop offset="0.45" stop-color="#8e8e8e"/><stop offset="0.591" stop-color="#989898"/><stop offset="0.76" stop-color="#a5a5a5"/><stop offset="0.864" stop-color="#aeaeae"/><stop offset="0.903" stop-color="#b5b5b5"/><stop offset="0.929" stop-color="#bdbdbd"/><stop offset="0.942" stop-color="#c4c4c4"/><stop offset="0.955" stop-color="#d0d0d0"/><stop offset="0.968" stop-color="#e2e2e2"/><stop offset="0.981" stop-color="#f9f9f9"/><stop offset="1" stop-color="#ffffff"/></linearGradient><linearGradient id="c54" x1="0" y1="0" x2="0" y2="1"><stop offset="0" stop-color="#545454"/><stop offset="0.08" stop-color="#545454"/><stop offset="0.1" stop-color="#545454"/><stop offset="0.16" stop-color="#717171"/><stop offset="0.2" stop-color="#737373"/><stop offset="0.331" stop-color="#7b7b7b"/><stop offset="0.45" stop-color="#838383"/><stop offset="0.591" stop-color="#8c8c8c"/><stop offset="0.76" stop-color="#969696"/><stop offset="0.864" stop-color="#9f9f9f"/><stop offset="0.903" stop-color="#a6a6a6"/><stop offset="0.929" stop-color="#b0b0b0"/><stop offset="0.942" stop-color="#b7b7b7"/><stop offset="0.955" stop-color="#c6c6c6"/><stop offset="0.968" stop-color="#dcdcdc"/><stop offset="0.981" stop-color="#f7f7f7"/><stop offset="1" stop-color="#ffffff"/></linearGradient><linearGradient id="c55" x1="0" y1="0" x2="0" y2="1"><stop offset="0" stop-color="#545454"/><stop offset="0.05" stop-color="#545454"/><stop offset="0.08" stop-color="#6c6c6c"/><stop offset="0.11" stop-color="#838383"/><stop offset="0.2" stop-color="#8b8b8b"/><stop offset="0.331" stop-color="#959595"/><stop offset="0.45" stop-color="#a0a0a0"/><stop offset="0.591" stop-color="#adadad"/><stop offset="0.76" stop-color="#bdbdbd"/><stop offset="0.864" stop-color="#c7c7c7"/><stop offset="0.903" stop-color="#cdcdcd"/><stop offset="0.929" stop-color="#d4d4d4"/><stop offset="0.942" stop-color="#d8d8d8"/><stop offset="0.955" stop-color="#e1e1e1"/><stop offset="0.968" stop-color="#ececec"/><stop offset="0.981" stop-color="#fbfbfb"/><stop offset="1" stop-color="#ffffff"/></linearGradient><linearGradient id="c56" x1="0" y1="0" x2="0" y2="1"><stop offset="0" stop-color="#595959"/><stop offset="0.08" stop-color="#595959"/><stop offset="0.2" stop-color="#595959"/><stop offset="0.331" stop-color="#595959"/><stop offset="0.45" stop-color="#5a5a5a"/><stop offset="0.591" stop-color="#5c5c5c"/><stop offset="0.76" stop-color="#5e5e5e"/><stop offset="0.864" stop-color="#646464"/><stop offset="0.903" stop-color="#6d6d6d"/><stop offset="0.929" stop-color="#7a7a7a"/><stop offset="0.942" stop-color="#868686"/><stop offset="0.955" stop-color="#9e9e9e"/><stop offset="0.968" stop-color="#c3c3c3"/><stop offset="0.981" stop-color="#f2f2f2"/><stop offset="1" stop-color="#ffffff"/></linearGradient><linearGradient id="c57" x1="0" y1="0" x2="0" y2="1"><stop offset="0" stop-color="#545454"/><stop offset="0.08" stop-color="#545454"/><stop offset="0.2" stop-color="#545454"/><stop offset="0.3" stop-color="#545454"/><stop offset="0.331" stop-color="#575757"/><stop offset="0.36" stop-color="#5b5b5b"/><stop offset="0.45" stop-color="#5e5e5e"/><stop offset="0.591" stop-color="#636363"/><stop offset="0.76" stop-color="#676767"/><stop offset="0.864" stop-color="#6e6e6e"/><stop offset="0.903" stop-color="#767676"/><stop offset="0.929" stop-color="#828282"/><stop offset="0.942" stop-color="#8d8d8d"/><stop offset="0.955" stop-color="#a5a5a5"/><stop offset="0.968" stop-color="#c7c7c7"/><stop offset="0.981" stop-color="#f3f3f3"/><stop offset="1" stop-color="#ffffff"/></linearGradient><linearGradient id="c58" x1="0" y1="0" x2="0" y2="1"><stop offset="0" stop-color="#545454"/><stop offset="0.08" stop-color="#545454"/><stop offset="0.15" stop-color="#545454"/><stop offset="0.2" stop-color="#7d7d7d"/><stop offset="0.21" stop-color="#868686"/><stop offset="0.331" stop-color="#949494"/><stop offset="0.45" stop-color="#a2a2a2"/><stop offset="0.591" stop-color="#b1b1b1"/><stop offset="0.76" stop-color="#c1c1c1"/><stop offset="0.864" stop-color="#cccccc"/><stop offset="0.903" stop-color="#d2d2d2"/><stop offset="0.929" stop-color="#d8d8d8"/><stop offset="0.942" stop-color="#dddddd"/><stop offset="0.955" stop-color="#e4e4e4"/><stop offset="0.968" stop-color="#eeeeee"/><stop offset="0.981" stop-color="#fbfbfb"/><stop offset="1" stop-color="#ffffff"/></linearGradient><linearGradient id="c59" x1="0" y1="0" x2="0" y2="1"><stop offset="0" stop-color="#545454"/><stop offset="0.08" stop-color="#545454"/><stop offset="0.15" stop-color="#545454"/><stop offset="0.2" stop-color="#787878"/><stop offset="0.21" stop-color="#7f7f7f"/><stop offset="0.331" stop-color="#8b8b8b"/><stop offset="0.45" stop-color="#989898"/><stop offset="0.591" stop-color="#a5a5a5"/><stop offset="0.76" stop-color="#b3b3b3"/><stop offset="0.864" stop-color="#bdbdbd"/><stop offset="0.903" stop-color="#c4c4c4"/><stop offset="0.929" stop-color="#cbcbcb"/><stop offset="0.942" stop-color="#d0d0d0"/><stop offset="0.955" stop-color="#dadada"/><stop offset="0.968" stop-color="#e8e8e8"/><stop offset="0.981" stop-color="#fafafa"/><stop offset="1" stop-color="#ffffff"/></linearGradient><linearGradient id="c60" x1="0" y1="0" x2="0" y2="1"><stop offset="0" stop-color="#545454"/><stop offset="0.06" stop-color="#868686"/><stop offset="0.08" stop-color="#878787"/><stop offset="0.2" stop-color="#909090"/><stop offset="0.331" stop-color="#9a9a9a"/><stop offset="0.45" stop-color="#a4a4a4"/><stop offset="0.591" stop-color="#b1b1b1"/><stop offset="0.76" stop-color="#c1c1c1"/><stop offset="0.864" stop-color="#cccccc"/><stop offset="0.903" stop-color="#d2d2d2"/><stop offset="0.929" stop-color="#d8d8d8"/><stop offset="0.942" stop-color="#dddddd"/><stop offset="0.955" stop-color="#e4e4e4"/><stop offset="0.968" stop-color="#eeeeee"/><stop offset="0.981" stop-color="#fbfbfb"/><stop offset="1" stop-color="#ffffff"/></linearGradient><linearGradient id="c61" x1="0" y1="0" x2="0" y2="1"><stop offset="0" stop-color="#545454"/><stop offset="0.05" stop-color="#545454"/><stop offset="0.08" stop-color="#6d6d6d"/><stop offset="0.11" stop-color="#868686"/><stop offset="0.2" stop-color="#8d8d8d"/><stop offset="0.331" stop-color="#999999"/><stop offset="0.45" stop-color="#a4a4a4"/><stop offset="0.591" stop-color="#b1b1b1"/><stop offset="0.76" stop-color="#c1c1c1"/><stop offset="0.864" stop-color="#cccccc"/><stop offset="0.903" stop-color="#d2d2d2"/><stop offset="0.929" stop-color="#d8d8d8"/><stop offset="0.942" stop-color="#dddddd"/><stop offset="0.955" stop-color="#e4e4e4"/><stop offset="0.968" stop-color="#eeeeee"/><stop offset="0.981" stop-color="#fbfbfb"/><stop offset="1" stop-color="#ffffff"/></linearGradient><linearGradient id="c62" x1="0" y1="0" x2="0" y2="1"><stop offset="0" stop-color="#545454"/><stop offset="0.08" stop-color="#545454"/><stop offset="0.1" stop-color="#545454"/><stop offset="0.16" stop-color="#838383"/><stop offset="0.2" stop-color="#878787"/><stop offset="0.331" stop-color="#939393"/><stop offset="0.45" stop-color="#9f9f9f"/><stop offset="0.591" stop-color="#adadad"/><stop offset="0.76" stop-color="#bdbdbd"/><stop offset="0.864" stop-color="#c7c7c7"/><stop offset="0.903" stop-color="#cdcdcd"/><stop offset="0.929" stop-color="#d4d4d4"/><stop offset="0.942" stop-color="#d8d8d8"/><stop offset="0.955" stop-color="#e1e1e1"/><stop offset="0.968" stop-color="#ececec"/><stop offset="0.981" stop-color="#fbfbfb"/><stop offset="1" stop-color="#ffffff"/></linearGradient><linearGradient id="c63" x1="0" y1="0" x2="0" y2="1"><stop offset="0" stop-color="#545454"/><stop offset="0.08" stop-color="#545454"/><stop offset="0.15" stop-color="#545454"/><stop offset="0.2" stop-color="#858585"/><stop offset="0.21" stop-color="#8f8f8f"/><stop offset="0.331" stop-color="#9f9f9f"/><stop offset="0.45" stop-color="#b0b0b0"/><stop offset="0.591" stop-color="#c2c2c2"/><stop offset="0.76" stop-color="#d4d4d4"/><stop offset="0.864" stop-color="#e0e0e0"/><stop offset="0.903" stop-color="#e6e6e6"/><stop offset="0.929" stop-color="#eaeaea"/><stop offset="0.942" stop-color="#ededed"/><stop offset="0.955" stop-color="#f1f1f1"/><stop offset="0.968" stop-color="#f7f7f7"/><stop offset="0.981" stop-color="#fdfdfd"/><stop offset="1" stop-color="#ffffff"/></linearGradient><linearGradient id="c64" x1="0" y1="0" x2="0" y2="1"><stop offset="0" stop-color="#545454"/><stop offset="0.08" stop-color="#545454"/><stop offset="0.15" stop-color="#545454"/><stop offset="0.2" stop-color="#818181"/><stop offset="0.21" stop-color="#8a8a8a"/><stop offset="0.331" stop-color="#9a9a9a"/><stop offset="0.45" stop-color="#a9a9a9"/><stop offset="0.591" stop-color="#b9b9b9"/><stop offset="0.76" stop-color="#cbcbcb"/><stop offset="0.864" stop-color="#d6d6d6"/><stop offset="0.903" stop-color="#dcdcdc"/><stop offset="0.929" stop-color="#e1e1e1"/><stop offset="0.942" stop-color="#e5e5e5"/><stop offset="0.955" stop-color="#ebebeb"/><stop offset="0.968" stop-color="#f2f2f2"/><stop offset="0.981" stop-color="#fcfcfc"/><stop offset="1" stop-color="#ffffff"/></linearGradient><linearGradient id="c65" x1="0" y1="0" x2="0" y2="1"><stop offset="0" stop-color="#545454"/><stop offset="0.06" stop-color="#7a7a7a"/><stop offset="0.08" stop-color="#7b7b7b"/><stop offset="0.2" stop-color="#828282"/><stop offset="0.331" stop-color="#8a8a8a"/><stop offset="0.45" stop-color="#929292"/><stop offset="0.591" stop-color="#9c9c9c"/><stop offset="0.76" stop-color="#a9a9a9"/><stop offset="0.864" stop-color="#b3b3b3"/><stop offset="0.903" stop-color="#bababa"/><stop offset="0.929" stop-color="#c2c2c2"/><stop offset="0.942" stop-color="#c8c8c8"/><stop offset="0.955" stop-color="#d3d3d3"/><stop offset="0.968" stop-color="#e4e4e4"/><stop offset="0.981" stop-color="#f9f9f9"/><stop offset="1" stop-color="#ffffff"/></linearGradient><linearGradient id="c66" x1="0" y1="0" x2="0" y2="1"><stop offset="0" stop-color="#545454"/><stop offset="0.08" stop-color="#545454"/><stop offset="0.2" stop-color="#545454"/><stop offset="0.26" stop-color="#787878"/><stop offset="0.331" stop-color="#7f7f7f"/><stop offset="0.45" stop-color="#8c8c8c"/><stop offset="0.591" stop-color="#989898"/><stop offset="0.76" stop-color="#a5a5a5"/><stop offset="0.864" stop-color="#aeaeae"/><stop offset="0.903" stop-color="#b5b5b5"/><stop offset="0.929" stop-color="#bdbdbd"/><stop offset="0.942" stop-color="#c4c4c4"/><stop offset="0.955" stop-color="#d0d0d0"/><stop offset="0.968" stop-color="#e2e2e2"/><stop offset="0.981" stop-color="#f9f9f9"/><stop offset="1" stop-color="#ffffff"/></linearGradient><linearGradient id="c67" x1="0" y1="0" x2="0" y2="1"><stop offset="0" stop-color="#545454"/><stop offset="0.08" stop-color="#545454"/><stop offset="0.2" stop-color="#545454"/><stop offset="0.26" stop-color="#818181"/><stop offset="0.331" stop-color="#8a8a8a"/><stop offset="0.45" stop-color="#9a9a9a"/><stop offset="0.591" stop-color="#a9a9a9"/><stop offset="0.76" stop-color="#b8b8b8"/><stop offset="0.864" stop-color="#c2c2c2"/><stop offset="0.903" stop-color="#c9c9c9"/><stop offset="0.929" stop-color="#cfcfcf"/><stop offset="0.942" stop-color="#d4d4d4"/><stop offset="0.955" stop-color="#dddddd"/><stop offset="0.968" stop-color="#eaeaea"/><stop offset="0.981" stop-color="#fafafa"/><stop offset="1" stop-color="#ffffff"/></linearGradient><linearGradient id="c68" x1="0" y1="0" x2="0" y2="1"><stop offset="0" stop-color="#545454"/><stop offset="0.05" stop-color="#545454"/><stop offset="0.08" stop-color="#5d5d5d"/><stop offset="0.11" stop-color="#666666"/><stop offset="0.2" stop-color="#686868"/><stop offset="0.331" stop-color="#6c6c6c"/><stop offset="0.45" stop-color="#717171"/><stop offset="0.591" stop-color="#777777"/><stop offset="0.76" stop-color="#7f7f7f"/><stop offset="0.864" stop-color="#878787"/><stop offset="0.903" stop-color="#8e8e8e"/><stop offset="0.929" stop-color="#999999"/><stop offset="0.942" stop-color="#a2a2a2"/><stop offset="0.955" stop-color="#b6b6b6"/><stop offset="0.968" stop-color="#d1d1d1"/><stop offset="0.981" stop-color="#f5f5f5"/><stop offset="1" stop-color="#ffffff"/></linearGradient><linearGradient id="c69" x1="0" y1="0" x2="0" y2="1"><stop offset="0" stop-color="#545454"/><stop offset="0.06" stop-color="#818181"/><stop offset="0.08" stop-color="#838383"/><stop offset="0.2" stop-color="#8b8b8b"/><stop offset="0.331" stop-color="#949494"/><stop offset="0.45" stop-color="#9d9d9d"/><stop offset="0.591" stop-color="#a9a9a9"/><stop offset="0.76" stop-color="#b8b8b8"/><stop offset="0.864" stop-color="#c2c2c2"/><stop offset="0.903" stop-color="#c9c9c9"/><stop offset="0.929" stop-color="#cfcfcf"/><stop offset="0.942" stop-color="#d4d4d4"/><stop offset="0.955" stop-color="#dddddd"/><stop offset="0.968" stop-color="#eaeaea"/><stop offset="0.981" stop-color="#fafafa"/><stop offset="1" stop-color="#ffffff"/></linearGradient><linearGradient id="c70" x1="0" y1="0" x2="0" y2="1"><stop offset="0" stop-color="#545454"/><stop offset="0.08" stop-color="#545454"/><stop offset="0.1" stop-color="#545454"/><stop offset="0.16" stop-color="#7f7f7f"/><stop offset="0.2" stop-color="#828282"/><stop offset="0.331" stop-color="#8d8d8d"/><stop offset="0.45" stop-color="#989898"/><stop offset="0.591" stop-color="#a5a5a5"/><stop offset="0.76" stop-color="#b3b3b3"/><stop offset="0.864" stop-color="#bdbdbd"/><stop offset="0.903" stop-color="#c4c4c4"/><stop offset="0.929" stop-color="#cbcbcb"/><stop offset="0.942" stop-color="#d0d0d0"/><stop offset="0.955" stop-color="#dadada"/><stop offset="0.968" stop-color="#e8e8e8"/><stop offset="0.981" stop-color="#fafafa"/><stop offset="1" stop-color="#ffffff"/></linearGradient><linearGradient id="c71" x1="0" y1="0" x2="0" y2="1"><stop offset="0" stop-color="#545454"/><stop offset="0.06" stop-color="#8a8a8a"/><stop offset="0.08" stop-color="#8c8c8c"/><stop offset="0.2" stop-color="#969696"/><stop offset="0.331" stop-color="#a1a1a1"/><stop offset="0.45" stop-color="#ababab"/><stop offset="0.591" stop-color="#b9b9b9"/><stop offset="0.76" stop-color="#cbcbcb"/><stop offset="0.864" stop-color="#d6d6d6"/><stop offset="0.903" stop-color="#dcdcdc"/><stop offset="0.929" stop-color="#e1e1e1"/><stop offset="0.942" stop-color="#e5e5e5"/><stop offset="0.955" stop-color="#ebebeb"/><stop offset="0.968" stop-color="#f2f2f2"/><stop offset="0.981" stop-color="#fcfcfc"/><stop offset="1" stop-color="#ffffff"/></linearGradient><linearGradient id="c72" x1="0" y1="0" x2="0" y2="1"><stop offset="0" stop-color="#545454"/><stop offset="0.08" stop-color="#545454"/><stop offset="0.1" stop-color="#545454"/><stop offset="0.16" stop-color="#818181"/><stop offset="0.2" stop-color="#858585"/><stop offset="0.331" stop-color="#909090"/><stop offset="0.45" stop-color="#9c9c9c"/><stop offset="0.591" stop-color="#a9a9a9"/><stop offset="0.76" stop-color="#b8b8b8"/><stop offset="0.864" stop-color="#c2c2c2"/><stop offset="0.903" stop-color="#c9c9c9"/><stop offset="0.929" stop-color="#cfcfcf"/><stop offset="0.942" stop-color="#d4d4d4"/><stop offset="0.955" stop-color="#dddddd"/><stop offset="0.968" stop-color="#eaeaea"/><stop offset="0.981" stop-color="#fafafa"/><stop offset="1" stop-color="#ffffff"/></linearGradient><linearGradient id="c73" x1="0" y1="0" x2="0" y2="1"><stop offset="0" stop-color="#5a5a5a"/><stop offset="0.08" stop-color="#5e5e5e"/><stop offset="0.2" stop-color="#636363"/><stop offset="0.27" stop-color="#828282"/><stop offset="0.331" stop-color="#8b8b8b"/><stop offset="0.36" stop-color="#8f8f8f"/><stop offset="0.45" stop-color="#969696"/><stop offset="0.5" stop-color="#999999"/><stop offset="0.591" stop-color="#9e9e9e"/><stop offset="0.75" stop-color="#a8a8a8"/><stop offset="0.76" stop-color="#a9a9a9"/><stop offset="0.864" stop-color="#b3b3b3"/><stop offset="0.903" stop-color="#bababa"/><stop offset="0.929" stop-color="#c2c2c2"/><stop offset="0.942" stop-color="#c8c8c8"/><stop offset="0.955" stop-color="#d3d3d3"/><stop offset="0.968" stop-color="#e4e4e4"/><stop offset="0.981" stop-color="#f9f9f9"/><stop offset="1" stop-color="#ffffff"/></linearGradient><linearGradient id="c74" x1="0" y1="0" x2="0" y2="1"><stop offset="0" stop-color="#5b5b5b"/><stop offset="0.08" stop-color="#636363"/><stop offset="0.1" stop-color="#646464"/><stop offset="0.17" stop-color="#858585"/><stop offset="0.2" stop-color="#898989"/><stop offset="0.26" stop-color="#929292"/><stop offset="0.331" stop-color="#959595"/><stop offset="0.45" stop-color="#9b9b9b"/><stop offset="0.5" stop-color="#9d9d9d"/><stop offset="0.591" stop-color="#a2a2a2"/><stop offset="0.75" stop-color="#acacac"/><stop offset="0.76" stop-color="#adadad"/><stop offset="0.864" stop-color="#b8b8b8"/><stop offset="0.903" stop-color="#bebebe"/><stop offset="0.929" stop-color="#c6c6c6"/><stop offset="0.942" stop-color="#cbcbcb"/><stop offset="0.955" stop-color="#d6d6d6"/><stop offset="0.968" stop-color="#e6e6e6"/><stop offset="0.981" stop-color="#f9f9f9"/><stop offset="1" stop-color="#ffffff"/></linearGradient><linearGradient id="c75" x1="0" y1="0" x2="0" y2="1"><stop offset="0" stop-color="#7a7a7a"/><stop offset="0.07" stop-color="#adadad"/><stop offset="0.08" stop-color="#afafaf"/><stop offset="0.16" stop-color="#c3c3c3"/><stop offset="0.2" stop-color="#c4c4c4"/><stop offset="0.331" stop-color="#cacaca"/><stop offset="0.45" stop-color="#cfcfcf"/><stop offset="0.5" stop-color="#d2d2d2"/><stop offset="0.591" stop-color="#dadada"/><stop offset="0.75" stop-color="#e8e8e8"/><stop offset="0.76" stop-color="#e9e9e9"/><stop offset="0.864" stop-color="#f6f6f6"/><stop offset="0.903" stop-color="#fafafa"/><stop offset="0.929" stop-color="#fdfdfd"/><stop offset="0.942" stop-color="#ffffff"/><stop offset="0.955" stop-color="#ffffff"/><stop offset="0.968" stop-color="#ffffff"/><stop offset="0.981" stop-color="#ffffff"/><stop offset="1" stop-color="#ffffff"/></linearGradient><linearGradient id="c76" x1="0" y1="0" x2="0" y2="1"><stop offset="0" stop-color="#787878"/><stop offset="0.07" stop-color="#aaaaaa"/><stop offset="0.08" stop-color="#acacac"/><stop offset="0.16" stop-color="#bfbfbf"/><stop offset="0.2" stop-color="#c1c1c1"/><stop offset="0.331" stop-color="#c6c6c6"/><stop offset="0.45" stop-color="#cccccc"/><stop offset="0.5" stop-color="#cecece"/><stop offset="0.591" stop-color="#d6d6d6"/><stop offset="0.75" stop-color="#e3e3e3"/><stop offset="0.76" stop-color="#e5e5e5"/><stop offset="0.864" stop-color="#f1f1f1"/><stop offset="0.903" stop-color="#f6f6f6"/><stop offset="0.929" stop-color="#f9f9f9"/><stop offset="0.942" stop-color="#fbfbfb"/><stop offset="0.955" stop-color="#fcfcfc"/><stop offset="0.968" stop-color="#fdfdfd"/><stop offset="0.981" stop-color="#ffffff"/><stop offset="1" stop-color="#ffffff"/></linearGradient><linearGradient id="c77" x1="0" y1="0" x2="0" y2="1"><stop offset="0" stop-color="#686868"/><stop offset="0.05" stop-color="#757575"/><stop offset="0.08" stop-color="#898989"/><stop offset="0.12" stop-color="#a4a4a4"/><stop offset="0.2" stop-color="#b6b6b6"/><stop offset="0.21" stop-color="#b8b8b8"/><stop offset="0.331" stop-color="#bebebe"/><stop offset="0.45" stop-color="#c4c4c4"/><stop offset="0.5" stop-color="#c6c6c6"/><stop offset="0.591" stop-color="#cecece"/><stop offset="0.75" stop-color="#dbdbdb"/><stop offset="0.76" stop-color="#dcdcdc"/><stop offset="0.864" stop-color="#e8e8e8"/><stop offset="0.903" stop-color="#ededed"/><stop offset="0.929" stop-color="#f1f1f1"/><stop offset="0.942" stop-color="#f4f4f4"/><stop offset="0.955" stop-color="#f7f7f7"/><stop offset="0.968" stop-color="#fafafa"/><stop offset="0.981" stop-color="#fefefe"/><stop offset="1" stop-color="#ffffff"/></linearGradient><linearGradient id="c78" x1="0" y1="0" x2="0" y2="1"><stop offset="0" stop-color="#6d6d6d"/><stop offset="0.05" stop-color="#7b7b7b"/><stop offset="0.08" stop-color="#929292"/><stop offset="0.12" stop-color="#b0b0b0"/><stop offset="0.2" stop-color="#c4c4c4"/><stop offset="0.21" stop-color="#c6c6c6"/><stop offset="0.331" stop-color="#cccccc"/><stop offset="0.45" stop-color="#d3d3d3"/><stop offset="0.5" stop-color="#d5d5d5"/><stop offset="0.591" stop-color="#dedede"/><stop offset="0.75" stop-color="#ececec"/><stop offset="0.76" stop-color="#ededed"/><stop offset="0.864" stop-color="#fafafa"/><stop offset="0.903" stop-color="#ffffff"/><stop offset="0.929" stop-color="#ffffff"/><stop offset="0.942" stop-color="#ffffff"/><stop offset="0.955" stop-color="#ffffff"/><stop offset="0.968" stop-color="#ffffff"/><stop offset="0.981" stop-color="#ffffff"/><stop offset="1" stop-color="#ffffff"/></linearGradient><linearGradient id="c79" x1="0" y1="0" x2="0" y2="1"><stop offset="0" stop-color="#6e6e6e"/><stop offset="0.05" stop-color="#7d7d7d"/><stop offset="0.08" stop-color="#949494"/><stop offset="0.12" stop-color="#b3b3b3"/><stop offset="0.2" stop-color="#c7c7c7"/><stop offset="0.21" stop-color="#c9c9c9"/><stop offset="0.331" stop-color="#d0d0d0"/><stop offset="0.45" stop-color="#d6d6d6"/><stop offset="0.5" stop-color="#d9d9d9"/><stop offset="0.591" stop-color="#e2e2e2"/><stop offset="0.75" stop-color="#f0f0f0"/><stop offset="0.76" stop-color="#f1f1f1"/><stop offset="0.864" stop-color="#ffffff"/><stop offset="0.903" stop-color="#ffffff"/><stop offset="0.929" stop-color="#ffffff"/><stop offset="0.942" stop-color="#ffffff"/><stop offset="0.955" stop-color="#ffffff"/><stop offset="0.968" stop-color="#ffffff"/><stop offset="0.981" stop-color="#ffffff"/><stop offset="1" stop-color="#ffffff"/></linearGradient><linearGradient id="c80" x1="0" y1="0" x2="0" y2="1"><stop offset="0" stop-color="#696969"/><stop offset="0.08" stop-color="#747474"/><stop offset="0.1" stop-color="#777777"/><stop offset="0.17" stop-color="#a7a7a7"/><stop offset="0.2" stop-color="#aeaeae"/><stop offset="0.26" stop-color="#bcbcbc"/><stop offset="0.331" stop-color="#c0c0c0"/><stop offset="0.45" stop-color="#c7c7c7"/><stop offset="0.5" stop-color="#cacaca"/><stop offset="0.591" stop-color="#d2d2d2"/><stop offset="0.75" stop-color="#dfdfdf"/><stop offset="0.76" stop-color="#e0e0e0"/><stop offset="0.864" stop-color="#ededed"/><stop offset="0.903" stop-color="#f2f2f2"/><stop offset="0.929" stop-color="#f5f5f5"/><stop offset="0.942" stop-color="#f7f7f7"/><stop offset="0.955" stop-color="#f9f9f9"/><stop offset="0.968" stop-color="#fcfcfc"/><stop offset="0.981" stop-color="#fefefe"/><stop offset="1" stop-color="#ffffff"/></linearGradient><linearGradient id="c81" x1="0" y1="0" x2="0" y2="1"><stop offset="0" stop-color="#696969"/><stop offset="0.05" stop-color="#777777"/><stop offset="0.08" stop-color="#8b8b8b"/><stop offset="0.12" stop-color="#a7a7a7"/><stop offset="0.2" stop-color="#b9b9b9"/><stop offset="0.21" stop-color="#bcbcbc"/><stop offset="0.331" stop-color="#c1c1c1"/><stop offset="0.45" stop-color="#c8c8c8"/><stop offset="0.5" stop-color="#cacaca"/><stop offset="0.591" stop-color="#d2d2d2"/><stop offset="0.75" stop-color="#dfdfdf"/><stop offset="0.76" stop-color="#e0e0e0"/><stop offset="0.864" stop-color="#ededed"/><stop offset="0.903" stop-color="#f2f2f2"/><stop offset="0.929" stop-color="#f5f5f5"/><stop offset="0.942" stop-color="#f7f7f7"/><stop offset="0.955" stop-color="#f9f9f9"/><stop offset="0.968" stop-color="#fcfcfc"/><stop offset="0.981" stop-color="#fefefe"/><stop offset="1" stop-color="#ffffff"/></linearGradient><linearGradient id="c82" x1="0" y1="0" x2="0" y2="1"><stop offset="0" stop-color="#696969"/><stop offset="0.08" stop-color="#707070"/><stop offset="0.15" stop-color="#777777"/><stop offset="0.2" stop-color="#999999"/><stop offset="0.22" stop-color="#a7a7a7"/><stop offset="0.31" stop-color="#bcbcbc"/><stop offset="0.331" stop-color="#bdbdbd"/><stop offset="0.45" stop-color="#c6c6c6"/><stop offset="0.5" stop-color="#cacaca"/><stop offset="0.591" stop-color="#d2d2d2"/><stop offset="0.75" stop-color="#dfdfdf"/><stop offset="0.76" stop-color="#e0e0e0"/><stop offset="0.864" stop-color="#ededed"/><stop offset="0.903" stop-color="#f2f2f2"/><stop offset="0.929" stop-color="#f5f5f5"/><stop offset="0.942" stop-color="#f7f7f7"/><stop offset="0.955" stop-color="#f9f9f9"/><stop offset="0.968" stop-color="#fcfcfc"/><stop offset="0.981" stop-color="#fefefe"/><stop offset="1" stop-color="#ffffff"/></linearGradient><linearGradient id="c83" x1="0" y1="0" x2="0" y2="1"><stop offset="0" stop-color="#6a6a6a"/><stop offset="0.08" stop-color="#727272"/><stop offset="0.15" stop-color="#787878"/><stop offset="0.2" stop-color="#9c9c9c"/><stop offset="0.22" stop-color="#aaaaaa"/><stop offset="0.31" stop-color="#bfbfbf"/><stop offset="0.331" stop-color="#c1c1c1"/><stop offset="0.45" stop-color="#cacaca"/><stop offset="0.5" stop-color="#cecece"/><stop offset="0.591" stop-color="#d6d6d6"/><stop offset="0.75" stop-color="#e3e3e3"/><stop offset="0.76" stop-color="#e5e5e5"/><stop offset="0.864" stop-color="#f1f1f1"/><stop offset="0.903" stop-color="#f6f6f6"/><stop offset="0.929" stop-color="#f9f9f9"/><stop offset="0.942" stop-color="#fbfbfb"/><stop offset="0.955" stop-color="#fcfcfc"/><stop offset="0.968" stop-color="#fdfdfd"/><stop offset="0.981" stop-color="#ffffff"/><stop offset="1" stop-color="#ffffff"/></linearGradient><linearGradient id="c84" x1="0" y1="0" x2="0" y2="1"><stop offset="0" stop-color="#5c5c5c"/><stop offset="0.05" stop-color="#666666"/><stop offset="0.08" stop-color="#747474"/><stop offset="0.12" stop-color="#878787"/><stop offset="0.2" stop-color="#949494"/><stop offset="0.21" stop-color="#969696"/><stop offset="0.331" stop-color="#9a9a9a"/><stop offset="0.45" stop-color="#9f9f9f"/><stop offset="0.5" stop-color="#a1a1a1"/><stop offset="0.591" stop-color="#a6a6a6"/><stop offset="0.75" stop-color="#b0b0b0"/><stop offset="0.76" stop-color="#b1b1b1"/><stop offset="0.864" stop-color="#bcbcbc"/><stop offset="0.903" stop-color="#c2c2c2"/><stop offset="0.929" stop-color="#cacaca"/><stop offset="0.942" stop-color="#cfcfcf"/><stop offset="0.955" stop-color="#d9d9d9"/><stop offset="0.968" stop-color="#e8e8e8"/><stop offset="0.981" stop-color="#fafafa"/><stop offset="1" stop-color="#ffffff"/></linearGradient><linearGradient id="c85" x1="0" y1="0" x2="0" y2="1"><stop offset="0" stop-color="#515151"/><stop offset="0.08" stop-color="#505050"/><stop offset="0.2" stop-color="#4d4d4d"/><stop offset="0.331" stop-color="#4d4d4d"/><stop offset="0.45" stop-color="#4e4e4e"/><stop offset="0.591" stop-color="#505050"/><stop offset="0.76" stop-color="#515151"/><stop offset="0.864" stop-color="#555555"/><stop offset="0.903" stop-color="#5b5b5b"/><stop offset="0.929" stop-color="#656565"/><stop offset="0.942" stop-color="#7d7d7d"/><stop offset="0.955" stop-color="#989898"/><stop offset="0.968" stop-color="#bfbfbf"/><stop offset="0.981" stop-color="#f1f1f1"/><stop offset="1" stop-color="#ffffff"/></linearGradient><linearGradient id="c86" x1="0" y1="0" x2="0" y2="1"><stop offset="0" stop-color="#515151"/><stop offset="0.08" stop-color="#505050"/><stop offset="0.2" stop-color="#4c4c4c"/><stop offset="0.331" stop-color="#4c4c4c"/><stop offset="0.45" stop-color="#4d4d4d"/><stop offset="0.591" stop-color="#4e4e4e"/><stop offset="0.76" stop-color="#505050"/><stop offset="0.864" stop-color="#535353"/><stop offset="0.903" stop-color="#595959"/><stop offset="0.929" stop-color="#616161"/><stop offset="0.942" stop-color="#7c7c7c"/><stop offset="0.955" stop-color="#979797"/><stop offset="0.968" stop-color="#bfbfbf"/><stop offset="0.981" stop-color="#f1f1f1"/><stop offset="1" stop-color="#ffffff"/></linearGradient><linearGradient id="c87" x1="0" y1="0" x2="0" y2="1"><stop offset="0" stop-color="#515151"/><stop offset="0.08" stop-color="#505050"/><stop offset="0.2" stop-color="#4a4a4a"/><stop offset="0.331" stop-color="#4a4a4a"/><stop offset="0.45" stop-color="#4b4b4b"/><stop offset="0.591" stop-color="#4c4c4c"/><stop offset="0.76" stop-color="#4d4d4d"/><stop offset="0.864" stop-color="#505050"/><stop offset="0.903" stop-color="#535353"/><stop offset="0.929" stop-color="#595959"/><stop offset="0.942" stop-color="#7b7b7b"/><stop offset="0.955" stop-color="#969696"/><stop offset="0.968" stop-color="#bebebe"/><stop offset="0.981" stop-color="#f1f1f1"/><stop offset="1" stop-color="#ffffff"/></linearGradient><linearGradient id="c88" x1="0" y1="0" x2="0" y2="1"><stop offset="0" stop-color="#515151"/><stop offset="0.08" stop-color="#505050"/><stop offset="0.2" stop-color="#4b4b4b"/><stop offset="0.331" stop-color="#4b4b4b"/><stop offset="0.45" stop-color="#4c4c4c"/><stop offset="0.591" stop-color="#4d4d4d"/><stop offset="0.76" stop-color="#4e4e4e"/><stop offset="0.864" stop-color="#525252"/><stop offset="0.903" stop-color="#565656"/><stop offset="0.929" stop-color="#5d5d5d"/><stop offset="0.942" stop-color="#7c7c7c"/><stop offset="0.955" stop-color="#979797"/><stop offset="0.968" stop-color="#bebebe"/><stop offset="0.981" stop-color="#f1f1f1"/><stop offset="1" stop-color="#ffffff"/></linearGradient><linearGradient id="c89" x1="0" y1="0" x2="0" y2="1"><stop offset="0" stop-color="#515151"/><stop offset="0.08" stop-color="#505050"/><stop offset="0.2" stop-color="#434343"/><stop offset="0.331" stop-color="#434343"/><stop offset="0.45" stop-color="#434343"/><stop offset="0.591" stop-color="#444444"/><stop offset="0.76" stop-color="#454545"/><stop offset="0.864" stop-color="#474747"/><stop offset="0.903" stop-color="#4b4b4b"/><stop offset="0.929" stop-color="#505050"/><stop offset="0.942" stop-color="#757575"/><stop offset="0.955" stop-color="#929292"/><stop offset="0.968" stop-color="#bbbbbb"/><stop offset="0.981" stop-color="#f0f0f0"/><stop offset="1" stop-color="#ffffff"/></linearGradient><linearGradient id="c90" x1="0" y1="0" x2="0" y2="1"><stop offset="0" stop-color="#545454"/><stop offset="0.08" stop-color="#545454"/><stop offset="0.2" stop-color="#545454"/><stop offset="0.3" stop-color="#545454"/><stop offset="0.331" stop-color="#5e5e5e"/><stop offset="0.36" stop-color="#686868"/><stop offset="0.45" stop-color="#727272"/><stop offset="0.591" stop-color="#7b7b7b"/><stop offset="0.76" stop-color="#838383"/><stop offset="0.864" stop-color="#8c8c8c"/><stop offset="0.903" stop-color="#939393"/><stop offset="0.929" stop-color="#9e9e9e"/><stop offset="0.942" stop-color="#a6a6a6"/><stop offset="0.955" stop-color="#b9b9b9"/><stop offset="0.968" stop-color="#d3d3d3"/><stop offset="0.981" stop-color="#f5f5f5"/><stop offset="1" stop-color="#ffffff"/></linearGradient><linearGradient id="c91" x1="0" y1="0" x2="0" y2="1"><stop offset="0" stop-color="#515151"/><stop offset="0.08" stop-color="#505050"/><stop offset="0.2" stop-color="#494949"/><stop offset="0.331" stop-color="#494949"/><stop offset="0.45" stop-color="#4a4a4a"/><stop offset="0.591" stop-color="#4b4b4b"/><stop offset="0.76" stop-color="#4c4c4c"/><stop offset="0.864" stop-color="#4e4e4e"/><stop offset="0.903" stop-color="#515151"/><stop offset="0.929" stop-color="#565656"/><stop offset="0.942" stop-color="#7a7a7a"/><stop offset="0.955" stop-color="#969696"/><stop offset="0.968" stop-color="#bebebe"/><stop offset="0.981" stop-color="#f0f0f0"/><stop offset="1" stop-color="#ffffff"/></linearGradient><linearGradient id="c92" x1="0" y1="0" x2="0" y2="1"><stop offset="0" stop-color="#646464"/><stop offset="0.08" stop-color="#656565"/><stop offset="0.2" stop-color="#686868"/><stop offset="0.331" stop-color="#6a6a6a"/><stop offset="0.45" stop-color="#6c6c6c"/><stop offset="0.591" stop-color="#6e6e6e"/><stop offset="0.76" stop-color="#707070"/><stop offset="0.864" stop-color="#767676"/><stop offset="0.903" stop-color="#7d7d7d"/><stop offset="0.929" stop-color="#898989"/><stop offset="0.942" stop-color="#949494"/><stop offset="0.955" stop-color="#aaaaaa"/><stop offset="0.968" stop-color="#cacaca"/><stop offset="0.981" stop-color="#f3f3f3"/><stop offset="1" stop-color="#ffffff"/></linearGradient><linearGradient id="c93" x1="0" y1="0" x2="0" y2="1"><stop offset="0" stop-color="#b2b2b2"/><stop offset="0.08" stop-color="#b7b7b7"/><stop offset="0.2" stop-color="#bfbfbf"/><stop offset="0.331" stop-color="#c6c6c6"/><stop offset="0.45" stop-color="#c8c8c8"/><stop offset="0.591" stop-color="#c9c9c9"/><stop offset="0.76" stop-color="#cccccc"/><stop offset="0.864" stop-color="#cfcfcf"/><stop offset="0.903" stop-color="#d2d2d2"/><stop offset="0.929" stop-color="#d6d6d6"/><stop offset="0.942" stop-color="#dadada"/><stop offset="0.955" stop-color="#e1e1e1"/><stop offset="0.968" stop-color="#ededed"/><stop offset="0.981" stop-color="#fbfbfb"/><stop offset="1" stop-color="#ffffff"/></linearGradient><linearGradient id="c94" x1="0" y1="0" x2="0" y2="1"><stop offset="0" stop-color="#919191"/><stop offset="0.08" stop-color="#959595"/><stop offset="0.2" stop-color="#9b9b9b"/><stop offset="0.331" stop-color="#a0a0a0"/><stop offset="0.45" stop-color="#a1a1a1"/><stop offset="0.591" stop-color="#a3a3a3"/><stop offset="0.76" stop-color="#a6a6a6"/><stop offset="0.864" stop-color="#aaaaaa"/><stop offset="0.903" stop-color="#aeaeae"/><stop offset="0.929" stop-color="#b6b6b6"/><stop offset="0.942" stop-color="#bcbcbc"/><stop offset="0.955" stop-color="#cacaca"/><stop offset="0.968" stop-color="#dedede"/><stop offset="0.981" stop-color="#f8f8f8"/><stop offset="1" stop-color="#ffffff"/></linearGradient><linearGradient id="c95" x1="0" y1="0" x2="0" y2="1"><stop offset="0" stop-color="#d5d5d5"/><stop offset="0.08" stop-color="#dcdcdc"/><stop offset="0.2" stop-color="#e7e7e7"/><stop offset="0.331" stop-color="#f0f0f0"/><stop offset="0.45" stop-color="#f2f2f2"/><stop offset="0.591" stop-color="#f4f4f4"/><stop offset="0.76" stop-color="#f6f6f6"/><stop offset="0.864" stop-color="#f7f7f7"/><stop offset="0.903" stop-color="#f8f8f8"/><stop offset="0.929" stop-color="#f9f9f9"/><stop offset="0.942" stop-color="#fafafa"/><stop offset="0.955" stop-color="#fbfbfb"/><stop offset="0.968" stop-color="#fdfdfd"/><stop offset="0.981" stop-color="#fefefe"/><stop offset="1" stop-color="#ffffff"/></linearGradient><linearGradient id="c96" x1="0" y1="0" x2="0" y2="1"><stop offset="0" stop-color="#545454"/><stop offset="0.06" stop-color="#6f6f6f"/><stop offset="0.08" stop-color="#707070"/><stop offset="0.2" stop-color="#757575"/><stop offset="0.331" stop-color="#7a7a7a"/><stop offset="0.45" stop-color="#808080"/><stop offset="0.591" stop-color="#888888"/><stop offset="0.76" stop-color="#929292"/><stop offset="0.864" stop-color="#9a9a9a"/><stop offset="0.903" stop-color="#a2a2a2"/><stop offset="0.929" stop-color="#ababab"/><stop offset="0.942" stop-color="#b3b3b3"/><stop offset="0.955" stop-color="#c3c3c3"/><stop offset="0.968" stop-color="#dadada"/><stop offset="0.981" stop-color="#f7f7f7"/><stop offset="1" stop-color="#ffffff"/></linearGradient><linearGradient id="c97" x1="0" y1="0" x2="0" y2="1"><stop offset="0" stop-color="#545454"/><stop offset="0.06" stop-color="#6a6a6a"/><stop offset="0.08" stop-color="#6b6b6b"/><stop offset="0.2" stop-color="#6f6f6f"/><stop offset="0.331" stop-color="#737373"/><stop offset="0.45" stop-color="#797979"/><stop offset="0.591" stop-color="#7f7f7f"/><stop offset="0.76" stop-color="#888888"/><stop offset="0.864" stop-color="#919191"/><stop offset="0.903" stop-color="#989898"/><stop offset="0.929" stop-color="#a2a2a2"/><stop offset="0.942" stop-color="#ababab"/><stop offset="0.955" stop-color="#bcbcbc"/><stop offset="0.968" stop-color="#d6d6d6"/><stop offset="0.981" stop-color="#f6f6f6"/><stop offset="1" stop-color="#ffffff"/></linearGradient><linearGradient id="c98" x1="0" y1="0" x2="0" y2="1"><stop offset="0" stop-color="#545454"/><stop offset="0.06" stop-color="#666666"/><stop offset="0.08" stop-color="#666666"/><stop offset="0.2" stop-color="#696969"/><stop offset="0.331" stop-color="#6d6d6d"/><stop offset="0.45" stop-color="#717171"/><stop offset="0.591" stop-color="#777777"/><stop offset="0.76" stop-color="#7f7f7f"/><stop offset="0.864" stop-color="#878787"/><stop offset="0.903" stop-color="#8e8e8e"/><stop offset="0.929" stop-color="#999999"/><stop offset="0.942" stop-color="#a2a2a2"/><stop offset="0.955" stop-color="#b6b6b6"/><stop offset="0.968" stop-color="#d1d1d1"/><stop offset="0.981" stop-color="#f5f5f5"/><stop offset="1" stop-color="#ffffff"/></linearGradient><linearGradient id="c99" x1="0" y1="0" x2="0" y2="1"><stop offset="0" stop-color="#dcdcdc"/><stop offset="0.08" stop-color="#e3e3e3"/><stop offset="0.2" stop-color="#eeeeee"/><stop offset="0.331" stop-color="#f8f8f8"/><stop offset="0.45" stop-color="#f9f9f9"/><stop offset="0.591" stop-color="#fbfbfb"/><stop offset="0.76" stop-color="#fdfdfd"/><stop offset="0.864" stop-color="#ffffff"/><stop offset="0.903" stop-color="#ffffff"/><stop offset="0.929" stop-color="#ffffff"/><stop offset="0.942" stop-color="#ffffff"/><stop offset="0.955" stop-color="#ffffff"/><stop offset="0.968" stop-color="#ffffff"/><stop offset="0.981" stop-color="#ffffff"/><stop offset="1" stop-color="#ffffff"/></linearGradient><linearGradient id="c100" x1="0" y1="0" x2="0" y2="1"><stop offset="0" stop-color="#515151"/><stop offset="0.08" stop-color="#505050"/><stop offset="0.2" stop-color="#484848"/><stop offset="0.331" stop-color="#484848"/><stop offset="0.45" stop-color="#494949"/><stop offset="0.591" stop-color="#4a4a4a"/><stop offset="0.76" stop-color="#4b4b4b"/><stop offset="0.864" stop-color="#4d4d4d"/><stop offset="0.903" stop-color="#505050"/><stop offset="0.929" stop-color="#555555"/><stop offset="0.942" stop-color="#7a7a7a"/><stop offset="0.955" stop-color="#959595"/><stop offset="0.968" stop-color="#bdbdbd"/><stop offset="0.981" stop-color="#f0f0f0"/><stop offset="1" stop-color="#ffffff"/></linearGradient><linearGradient id="c101" x1="0" y1="0" x2="0" y2="1"><stop offset="0" stop-color="#545454"/><stop offset="0.08" stop-color="#545454"/><stop offset="0.15" stop-color="#545454"/><stop offset="0.2" stop-color="#656565"/><stop offset="0.21" stop-color="#686868"/><stop offset="0.331" stop-color="#6e6e6e"/><stop offset="0.45" stop-color="#747474"/><stop offset="0.591" stop-color="#7b7b7b"/><stop offset="0.76" stop-color="#838383"/><stop offset="0.864" stop-color="#8c8c8c"/><stop offset="0.903" stop-color="#939393"/><stop offset="0.929" stop-color="#9e9e9e"/><stop offset="0.942" stop-color="#a6a6a6"/><stop offset="0.955" stop-color="#b9b9b9"/><stop offset="0.968" stop-color="#d3d3d3"/><stop offset="0.981" stop-color="#f5f5f5"/><stop offset="1" stop-color="#ffffff"/></linearGradient><linearGradient id="c102" x1="0" y1="0" x2="0" y2="1"><stop offset="0" stop-color="#545454"/><stop offset="0.08" stop-color="#545454"/><stop offset="0.2" stop-color="#545454"/><stop offset="0.26" stop-color="#737373"/><stop offset="0.331" stop-color="#7a7a7a"/><stop offset="0.45" stop-color="#858585"/><stop offset="0.591" stop-color="#909090"/><stop offset="0.76" stop-color="#9b9b9b"/><stop offset="0.864" stop-color="#a4a4a4"/><stop offset="0.903" stop-color="#ababab"/><stop offset="0.929" stop-color="#b4b4b4"/><stop offset="0.942" stop-color="#bbbbbb"/><stop offset="0.955" stop-color="#c9c9c9"/><stop offset="0.968" stop-color="#dedede"/><stop offset="0.981" stop-color="#f8f8f8"/><stop offset="1" stop-color="#ffffff"/></linearGradient><linearGradient id="c103" x1="0" y1="0" x2="0" y2="1"><stop offset="0" stop-color="#545454"/><stop offset="0.08" stop-color="#545454"/><stop offset="0.15" stop-color="#545454"/><stop offset="0.2" stop-color="#666666"/><stop offset="0.21" stop-color="#6a6a6a"/><stop offset="0.331" stop-color="#707070"/><stop offset="0.45" stop-color="#787878"/><stop offset="0.591" stop-color="#7f7f7f"/><stop offset="0.76" stop-color="#888888"/><stop offset="0.864" stop-color="#919191"/><stop offset="0.903" stop-color="#989898"/><stop offset="0.929" stop-color="#a2a2a2"/><stop offset="0.942" stop-color="#ababab"/><stop offset="0.955" stop-color="#bcbcbc"/><stop offset="0.968" stop-color="#d6d6d6"/><stop offset="0.981" stop-color="#f6f6f6"/><stop offset="1" stop-color="#ffffff"/></linearGradient><linearGradient id="c104" x1="0" y1="0" x2="0" y2="1"><stop offset="0" stop-color="#636363"/><stop offset="0.05" stop-color="#6f6f6f"/><stop offset="0.08" stop-color="#818181"/><stop offset="0.12" stop-color="#999999"/><stop offset="0.2" stop-color="#a8a8a8"/><stop offset="0.21" stop-color="#aaaaaa"/><stop offset="0.331" stop-color="#afafaf"/><stop offset="0.45" stop-color="#b5b5b5"/><stop offset="0.5" stop-color="#b7b7b7"/><stop offset="0.591" stop-color="#bebebe"/><stop offset="0.75" stop-color="#cacaca"/><stop offset="0.76" stop-color="#cbcbcb"/><stop offset="0.864" stop-color="#d7d7d7"/><stop offset="0.903" stop-color="#dcdcdc"/><stop offset="0.929" stop-color="#e1e1e1"/><stop offset="0.942" stop-color="#e5e5e5"/><stop offset="0.955" stop-color="#ebebeb"/><stop offset="0.968" stop-color="#f2f2f2"/><stop offset="0.981" stop-color="#fcfcfc"/><stop offset="1" stop-color="#ffffff"/></linearGradient><linearGradient id="c105" x1="0" y1="0" x2="0" y2="1"><stop offset="0" stop-color="#545454"/><stop offset="0.08" stop-color="#545454"/><stop offset="0.15" stop-color="#545454"/><stop offset="0.2" stop-color="#6c6c6c"/><stop offset="0.21" stop-color="#717171"/><stop offset="0.331" stop-color="#797979"/><stop offset="0.45" stop-color="#828282"/><stop offset="0.591" stop-color="#8c8c8c"/><stop offset="0.76" stop-color="#969696"/><stop offset="0.864" stop-color="#9f9f9f"/><stop offset="0.903" stop-color="#a6a6a6"/><stop offset="0.929" stop-color="#b0b0b0"/><stop offset="0.942" stop-color="#b7b7b7"/><stop offset="0.955" stop-color="#c6c6c6"/><stop offset="0.968" stop-color="#dcdcdc"/><stop offset="0.981" stop-color="#f7f7f7"/><stop offset="1" stop-color="#ffffff"/></linearGradient><linearGradient id="c106" x1="0" y1="0" x2="0" y2="1"><stop offset="0" stop-color="#545454"/><stop offset="0.08" stop-color="#545454"/><stop offset="0.15" stop-color="#545454"/><stop offset="0.2" stop-color="#747474"/><stop offset="0.21" stop-color="#7a7a7a"/><stop offset="0.331" stop-color="#858585"/><stop offset="0.45" stop-color="#919191"/><stop offset="0.591" stop-color="#9c9c9c"/><stop offset="0.76" stop-color="#a9a9a9"/><stop offset="0.864" stop-color="#b3b3b3"/><stop offset="0.903" stop-color="#bababa"/><stop offset="0.929" stop-color="#c2c2c2"/><stop offset="0.942" stop-color="#c8c8c8"/><stop offset="0.955" stop-color="#d3d3d3"/><stop offset="0.968" stop-color="#e4e4e4"/><stop offset="0.981" stop-color="#f9f9f9"/><stop offset="1" stop-color="#ffffff"/></linearGradient><linearGradient id="c107" x1="0" y1="0" x2="0" y2="1"><stop offset="0" stop-color="#545454"/><stop offset="0.08" stop-color="#545454"/><stop offset="0.15" stop-color="#545454"/><stop offset="0.2" stop-color="#6e6e6e"/><stop offset="0.21" stop-color="#737373"/><stop offset="0.331" stop-color="#7c7c7c"/><stop offset="0.45" stop-color="#868686"/><stop offset="0.591" stop-color="#909090"/><stop offset="0.76" stop-color="#9b9b9b"/><stop offset="0.864" stop-color="#a4a4a4"/><stop offset="0.903" stop-color="#ababab"/><stop offset="0.929" stop-color="#b4b4b4"/><stop offset="0.942" stop-color="#bbbbbb"/><stop offset="0.955" stop-color="#c9c9c9"/><stop offset="0.968" stop-color="#dedede"/><stop offset="0.981" stop-color="#f8f8f8"/><stop offset="1" stop-color="#ffffff"/></linearGradient><linearGradient id="c108" x1="0" y1="0" x2="0" y2="1"><stop offset="0" stop-color="#545454"/><stop offset="0.08" stop-color="#545454"/><stop offset="0.15" stop-color="#545454"/><stop offset="0.2" stop-color="#575757"/><stop offset="0.21" stop-color="#585858"/><stop offset="0.331" stop-color="#595959"/><stop offset="0.45" stop-color="#5c5c5c"/><stop offset="0.591" stop-color="#5e5e5e"/><stop offset="0.76" stop-color="#626262"/><stop offset="0.864" stop-color="#696969"/><stop offset="0.903" stop-color="#717171"/><stop offset="0.929" stop-color="#7e7e7e"/><stop offset="0.942" stop-color="#898989"/><stop offset="0.955" stop-color="#a2a2a2"/><stop offset="0.968" stop-color="#c5c5c5"/><stop offset="0.981" stop-color="#f2f2f2"/><stop offset="1" stop-color="#ffffff"/></linearGradient><linearGradient id="c109" x1="0" y1="0" x2="0" y2="1"><stop offset="0" stop-color="#545454"/><stop offset="0.08" stop-color="#545454"/><stop offset="0.2" stop-color="#545454"/><stop offset="0.26" stop-color="#6d6d6d"/><stop offset="0.331" stop-color="#717171"/><stop offset="0.45" stop-color="#7b7b7b"/><stop offset="0.591" stop-color="#848484"/><stop offset="0.76" stop-color="#8d8d8d"/><stop offset="0.864" stop-color="#969696"/><stop offset="0.903" stop-color="#9d9d9d"/><stop offset="0.929" stop-color="#a7a7a7"/><stop offset="0.942" stop-color="#afafaf"/><stop offset="0.955" stop-color="#bfbfbf"/><stop offset="0.968" stop-color="#d8d8d8"/><stop offset="0.981" stop-color="#f6f6f6"/><stop offset="1" stop-color="#ffffff"/></linearGradient><linearGradient id="c110" x1="0" y1="0" x2="0" y2="1"><stop offset="0" stop-color="#545454"/><stop offset="0.08" stop-color="#545454"/><stop offset="0.2" stop-color="#545454"/><stop offset="0.26" stop-color="#7f7f7f"/><stop offset="0.331" stop-color="#878787"/><stop offset="0.45" stop-color="#979797"/><stop offset="0.591" stop-color="#a5a5a5"/><stop offset="0.76" stop-color="#b3b3b3"/><stop offset="0.864" stop-color="#bdbdbd"/><stop offset="0.903" stop-color="#c4c4c4"/><stop offset="0.929" stop-color="#cbcbcb"/><stop offset="0.942" stop-color="#d0d0d0"/><stop offset="0.955" stop-color="#dadada"/><stop offset="0.968" stop-color="#e8e8e8"/><stop offset="0.981" stop-color="#fafafa"/><stop offset="1" stop-color="#ffffff"/></linearGradient><linearGradient id="c111" x1="0" y1="0" x2="0" y2="1"><stop offset="0" stop-color="#545454"/><stop offset="0.08" stop-color="#545454"/><stop offset="0.2" stop-color="#545454"/><stop offset="0.26" stop-color="#767676"/><stop offset="0.331" stop-color="#7c7c7c"/><stop offset="0.45" stop-color="#898989"/><stop offset="0.591" stop-color="#949494"/><stop offset="0.76" stop-color="#a0a0a0"/><stop offset="0.864" stop-color="#a9a9a9"/><stop offset="0.903" stop-color="#b0b0b0"/><stop offset="0.929" stop-color="#b9b9b9"/><stop offset="0.942" stop-color="#bfbfbf"/><stop offset="0.955" stop-color="#cdcdcd"/><stop offset="0.968" stop-color="#e0e0e0"/><stop offset="0.981" stop-color="#f8f8f8"/><stop offset="1" stop-color="#ffffff"/></linearGradient><linearGradient id="c112" x1="0" y1="0" x2="0" y2="1"><stop offset="0" stop-color="#545454"/><stop offset="0.05" stop-color="#545454"/><stop offset="0.08" stop-color="#575757"/><stop offset="0.11" stop-color="#5a5a5a"/><stop offset="0.2" stop-color="#5b5b5b"/><stop offset="0.331" stop-color="#5d5d5d"/><stop offset="0.45" stop-color="#5f5f5f"/><stop offset="0.591" stop-color="#636363"/><stop offset="0.76" stop-color="#676767"/><stop offset="0.864" stop-color="#6e6e6e"/><stop offset="0.903" stop-color="#767676"/><stop offset="0.929" stop-color="#828282"/><stop offset="0.942" stop-color="#8d8d8d"/><stop offset="0.955" stop-color="#a5a5a5"/><stop offset="0.968" stop-color="#c7c7c7"/><stop offset="0.981" stop-color="#f3f3f3"/><stop offset="1" stop-color="#ffffff"/></linearGradient><linearGradient id="c113" x1="0" y1="0" x2="0" y2="1"><stop offset="0" stop-color="#545454"/><stop offset="0.08" stop-color="#545454"/><stop offset="0.2" stop-color="#545454"/><stop offset="0.25" stop-color="#545454"/><stop offset="0.31" stop-color="#666666"/><stop offset="0.331" stop-color="#676767"/><stop offset="0.45" stop-color="#707070"/><stop offset="0.591" stop-color="#777777"/><stop offset="0.76" stop-color="#7f7f7f"/><stop offset="0.864" stop-color="#878787"/><stop offset="0.903" stop-color="#8e8e8e"/><stop offset="0.929" stop-color="#999999"/><stop offset="0.942" stop-color="#a2a2a2"/><stop offset="0.955" stop-color="#b6b6b6"/><stop offset="0.968" stop-color="#d1d1d1"/><stop offset="0.981" stop-color="#f5f5f5"/><stop offset="1" stop-color="#ffffff"/></linearGradient><linearGradient id="c114" x1="0" y1="0" x2="0" y2="1"><stop offset="0" stop-color="#545454"/><stop offset="0.08" stop-color="#545454"/><stop offset="0.2" stop-color="#545454"/><stop offset="0.25" stop-color="#545454"/><stop offset="0.31" stop-color="#5c5c5c"/><stop offset="0.331" stop-color="#5d5d5d"/><stop offset="0.45" stop-color="#626262"/><stop offset="0.591" stop-color="#676767"/><stop offset="0.76" stop-color="#6c6c6c"/><stop offset="0.864" stop-color="#737373"/><stop offset="0.903" stop-color="#7b7b7b"/><stop offset="0.929" stop-color="#878787"/><stop offset="0.942" stop-color="#929292"/><stop offset="0.955" stop-color="#a8a8a8"/><stop offset="0.968" stop-color="#c9c9c9"/><stop offset="0.981" stop-color="#f3f3f3"/><stop offset="1" stop-color="#ffffff"/></linearGradient><linearGradient id="c115" x1="0" y1="0" x2="0" y2="1"><stop offset="0" stop-color="#545454"/><stop offset="0.08" stop-color="#545454"/><stop offset="0.2" stop-color="#545454"/><stop offset="0.26" stop-color="#5a5a5a"/><stop offset="0.331" stop-color="#5b5b5b"/><stop offset="0.45" stop-color="#5f5f5f"/><stop offset="0.591" stop-color="#636363"/><stop offset="0.76" stop-color="#676767"/><stop offset="0.864" stop-color="#6e6e6e"/><stop offset="0.903" stop-color="#767676"/><stop offset="0.929" stop-color="#828282"/><stop offset="0.942" stop-color="#8d8d8d"/><stop offset="0.955" stop-color="#a5a5a5"/><stop offset="0.968" stop-color="#c7c7c7"/><stop offset="0.981" stop-color="#f3f3f3"/><stop offset="1" stop-color="#ffffff"/></linearGradient><linearGradient id="c116" x1="0" y1="0" x2="0" y2="1"><stop offset="0" stop-color="#545454"/><stop offset="0.08" stop-color="#545454"/><stop offset="0.2" stop-color="#545454"/><stop offset="0.25" stop-color="#545454"/><stop offset="0.31" stop-color="#5f5f5f"/><stop offset="0.331" stop-color="#606060"/><stop offset="0.45" stop-color="#666666"/><stop offset="0.591" stop-color="#6b6b6b"/><stop offset="0.76" stop-color="#707070"/><stop offset="0.864" stop-color="#787878"/><stop offset="0.903" stop-color="#808080"/><stop offset="0.929" stop-color="#8c8c8c"/><stop offset="0.942" stop-color="#969696"/><stop offset="0.955" stop-color="#acacac"/><stop offset="0.968" stop-color="#cbcbcb"/><stop offset="0.981" stop-color="#f3f3f3"/><stop offset="1" stop-color="#ffffff"/></linearGradient><linearGradient id="c117" x1="0" y1="0" x2="0" y2="1"><stop offset="0" stop-color="#545454"/><stop offset="0.08" stop-color="#545454"/><stop offset="0.2" stop-color="#545454"/><stop offset="0.26" stop-color="#838383"/><stop offset="0.331" stop-color="#8d8d8d"/><stop offset="0.45" stop-color="#9d9d9d"/><stop offset="0.591" stop-color="#adadad"/><stop offset="0.76" stop-color="#bdbdbd"/><stop offset="0.864" stop-color="#c7c7c7"/><stop offset="0.903" stop-color="#cdcdcd"/><stop offset="0.929" stop-color="#d4d4d4"/><stop offset="0.942" stop-color="#d8d8d8"/><stop offset="0.955" stop-color="#e1e1e1"/><stop offset="0.968" stop-color="#ececec"/><stop offset="0.981" stop-color="#fbfbfb"/><stop offset="1" stop-color="#ffffff"/></linearGradient><linearGradient id="c118" x1="0" y1="0" x2="0" y2="1"><stop offset="0" stop-color="#545454"/><stop offset="0.08" stop-color="#545454"/><stop offset="0.2" stop-color="#545454"/><stop offset="0.26" stop-color="#7a7a7a"/><stop offset="0.331" stop-color="#828282"/><stop offset="0.45" stop-color="#909090"/><stop offset="0.591" stop-color="#9c9c9c"/><stop offset="0.76" stop-color="#a9a9a9"/><stop offset="0.864" stop-color="#b3b3b3"/><stop offset="0.903" stop-color="#bababa"/><stop offset="0.929" stop-color="#c2c2c2"/><stop offset="0.942" stop-color="#c8c8c8"/><stop offset="0.955" stop-color="#d3d3d3"/><stop offset="0.968" stop-color="#e4e4e4"/><stop offset="0.981" stop-color="#f9f9f9"/><stop offset="1" stop-color="#ffffff"/></linearGradient><linearGradient id="c119" x1="0" y1="0" x2="0" y2="1"><stop offset="0" stop-color="#545454"/><stop offset="0.08" stop-color="#545454"/><stop offset="0.2" stop-color="#545454"/><stop offset="0.25" stop-color="#545454"/><stop offset="0.31" stop-color="#7f7f7f"/><stop offset="0.331" stop-color="#828282"/><stop offset="0.45" stop-color="#959595"/><stop offset="0.591" stop-color="#a5a5a5"/><stop offset="0.76" stop-color="#b3b3b3"/><stop offset="0.864" stop-color="#bdbdbd"/><stop offset="0.903" stop-color="#c4c4c4"/><stop offset="0.929" stop-color="#cbcbcb"/><stop offset="0.942" stop-color="#d0d0d0"/><stop offset="0.955" stop-color="#dadada"/><stop offset="0.968" stop-color="#e8e8e8"/><stop offset="0.981" stop-color="#fafafa"/><stop offset="1" stop-color="#ffffff"/></linearGradient><linearGradient id="c120" x1="0" y1="0" x2="0" y2="1"><stop offset="0" stop-color="#545454"/><stop offset="0.08" stop-color="#545454"/><stop offset="0.2" stop-color="#545454"/><stop offset="0.26" stop-color="#7d7d7d"/><stop offset="0.331" stop-color="#858585"/><stop offset="0.45" stop-color="#939393"/><stop offset="0.591" stop-color="#a1a1a1"/><stop offset="0.76" stop-color="#aeaeae"/><stop offset="0.864" stop-color="#b8b8b8"/><stop offset="0.903" stop-color="#bfbfbf"/><stop offset="0.929" stop-color="#c6c6c6"/><stop offset="0.942" stop-color="#cccccc"/><stop offset="0.955" stop-color="#d7d7d7"/><stop offset="0.968" stop-color="#e6e6e6"/><stop offset="0.981" stop-color="#f9f9f9"/><stop offset="1" stop-color="#ffffff"/></linearGradient><linearGradient id="c121" x1="0" y1="0" x2="0" y2="1"><stop offset="0" stop-color="#545454"/><stop offset="0.08" stop-color="#545454"/><stop offset="0.15" stop-color="#545454"/><stop offset="0.2" stop-color="#767676"/><stop offset="0.21" stop-color="#7d7d7d"/><stop offset="0.331" stop-color="#888888"/><stop offset="0.45" stop-color="#949494"/><stop offset="0.591" stop-color="#a1a1a1"/><stop offset="0.76" stop-color="#aeaeae"/><stop offset="0.864" stop-color="#b8b8b8"/><stop offset="0.903" stop-color="#bfbfbf"/><stop offset="0.929" stop-color="#c6c6c6"/><stop offset="0.942" stop-color="#cccccc"/><stop offset="0.955" stop-color="#d7d7d7"/><stop offset="0.968" stop-color="#e6e6e6"/><stop offset="0.981" stop-color="#f9f9f9"/><stop offset="1" stop-color="#ffffff"/></linearGradient><linearGradient id="c122" x1="0" y1="0" x2="0" y2="1"><stop offset="0" stop-color="#545454"/><stop offset="0.08" stop-color="#545454"/><stop offset="0.15" stop-color="#545454"/><stop offset="0.2" stop-color="#6a6a6a"/><stop offset="0.21" stop-color="#6f6f6f"/><stop offset="0.331" stop-color="#767676"/><stop offset="0.45" stop-color="#7f7f7f"/><stop offset="0.591" stop-color="#888888"/><stop offset="0.76" stop-color="#929292"/><stop offset="0.864" stop-color="#9a9a9a"/><stop offset="0.903" stop-color="#a2a2a2"/><stop offset="0.929" stop-color="#ababab"/><stop offset="0.942" stop-color="#b3b3b3"/><stop offset="0.955" stop-color="#c3c3c3"/><stop offset="0.968" stop-color="#dadada"/><stop offset="0.981" stop-color="#f7f7f7"/><stop offset="1" stop-color="#ffffff"/></linearGradient><linearGradient id="c123" x1="0" y1="0" x2="0" y2="1"><stop offset="0" stop-color="#545454"/><stop offset="0.08" stop-color="#545454"/><stop offset="0.2" stop-color="#545454"/><stop offset="0.26" stop-color="#636363"/><stop offset="0.331" stop-color="#666666"/><stop offset="0.45" stop-color="#6d6d6d"/><stop offset="0.591" stop-color="#737373"/><stop offset="0.76" stop-color="#7a7a7a"/><stop offset="0.864" stop-color="#828282"/><stop offset="0.903" stop-color="#898989"/><stop offset="0.929" stop-color="#959595"/><stop offset="0.942" stop-color="#9e9e9e"/><stop offset="0.955" stop-color="#b2b2b2"/><stop offset="0.968" stop-color="#cfcfcf"/><stop offset="0.981" stop-color="#f4f4f4"/><stop offset="1" stop-color="#ffffff"/></linearGradient><linearGradient id="c124" x1="0" y1="0" x2="0" y2="1"><stop offset="0" stop-color="#545454"/><stop offset="0.08" stop-color="#545454"/><stop offset="0.15" stop-color="#545454"/><stop offset="0.2" stop-color="#686868"/><stop offset="0.21" stop-color="#6d6d6d"/><stop offset="0.331" stop-color="#737373"/><stop offset="0.45" stop-color="#7b7b7b"/><stop offset="0.591" stop-color="#848484"/><stop offset="0.76" stop-color="#8d8d8d"/><stop offset="0.864" stop-color="#969696"/><stop offset="0.903" stop-color="#9d9d9d"/><stop offset="0.929" stop-color="#a7a7a7"/><stop offset="0.942" stop-color="#afafaf"/><stop offset="0.955" stop-color="#bfbfbf"/><stop offset="0.968" stop-color="#d8d8d8"/><stop offset="0.981" stop-color="#f6f6f6"/><stop offset="1" stop-color="#ffffff"/></linearGradient><linearGradient id="c125" x1="0" y1="0" x2="0" y2="1"><stop offset="0" stop-color="#545454"/><stop offset="0.08" stop-color="#545454"/><stop offset="0.2" stop-color="#545454"/><stop offset="0.26" stop-color="#666666"/><stop offset="0.331" stop-color="#696969"/><stop offset="0.45" stop-color="#707070"/><stop offset="0.591" stop-color="#777777"/><stop offset="0.76" stop-color="#7f7f7f"/><stop offset="0.864" stop-color="#878787"/><stop offset="0.903" stop-color="#8e8e8e"/><stop offset="0.929" stop-color="#999999"/><stop offset="0.942" stop-color="#a2a2a2"/><stop offset="0.955" stop-color="#b6b6b6"/><stop offset="0.968" stop-color="#d1d1d1"/><stop offset="0.981" stop-color="#f5f5f5"/><stop offset="1" stop-color="#ffffff"/></linearGradient><filter id="f2" filterUnits="userSpaceOnUse" x="81" y="153" width="420" height="77" color-interpolation-filters="sRGB"><feTurbulence type="fractalNoise" baseFrequency="0.83 0.55" numOctaves="2" seed="4"/><feColorMatrix type="matrix" values="1 0 0 0 0 1 0 0 0 0 1 0 0 0 0 0 0 0 0 1"/><feComponentTransfer result="nz"><feFuncR type="table" tableValues="0.326 0.354 0.382 0.409 0.434 0.459 0.483 0.507 0.529 0.551 0.572 0.592 0.612 0.631 0.650 0.668 0.685 0.702 0.719 0.735 0.750 0.765 0.780 0.794 0.808 0.821 0.834 0.847 0.859 0.871 0.883 0.895 0.906 0.917 0.928 0.938 0.948 0.958 0.968 0.978 0.987"/><feFuncG type="table" tableValues="0.326 0.354 0.382 0.409 0.434 0.459 0.483 0.507 0.529 0.551 0.572 0.592 0.612 0.631 0.650 0.668 0.685 0.702 0.719 0.735 0.750 0.765 0.780 0.794 0.808 0.821 0.834 0.847 0.859 0.871 0.883 0.895 0.906 0.917 0.928 0.938 0.948 0.958 0.968 0.978 0.987"/><feFuncB type="table" tableValues="0.326 0.354 0.382 0.409 0.434 0.459 0.483 0.507 0.529 0.551 0.572 0.592 0.612 0.631 0.650 0.668 0.685 0.702 0.719 0.735 0.750 0.765 0.780 0.794 0.808 0.821 0.834 0.847 0.859 0.871 0.883 0.895 0.906 0.917 0.928 0.938 0.948 0.958 0.968 0.978 0.987"/></feComponentTransfer><feComponentTransfer in="SourceGraphic" result="amp"><feFuncR type="table" tableValues="1 1 1 1 1 1 1 1 1 1 1 1 1 1 1 1 1 1 1 1 1 0.996 0.99 0.983 0.976 0.97 0.963 0.957 0.95 0.944 0.937 0.931 0.924 0.918 0.911 0.905 0.898 0.892 0.885 0.878 0.872 0.865 0.859 0.852 0.846 0.839 0.833 0.826 0.82 0.813 0.807 0.8"/><feFuncG type="table" tableValues="1 1 1 1 1 1 1 1 1 1 1 1 1 1 1 1 1 1 1 1 1 0.996 0.99 0.983 0.976 0.97 0.963 0.957 0.95 0.944 0.937 0.931 0.924 0.918 0.911 0.905 0.898 0.892 0.885 0.878 0.872 0.865 0.859 0.852 0.846 0.839 0.833 0.826 0.82 0.813 0.807 0.8"/><feFuncB type="table" tableValues="1 1 1 1 1 1 1 1 1 1 1 1 1 1 1 1 1 1 1 1 1 0.996 0.99 0.983 0.976 0.97 0.963 0.957 0.95 0.944 0.937 0.931 0.924 0.918 0.911 0.905 0.898 0.892 0.885 0.878 0.872 0.865 0.859 0.852 0.846 0.839 0.833 0.826 0.82 0.813 0.807 0.8"/></feComponentTransfer><feComponentTransfer in="SourceGraphic" result="iamp"><feFuncR type="table" tableValues="0 0 0 0 0 0 0 0 0 0 0 0 0 0 0 0 0 0 0 0 0 0.004 0.01 0.017 0.024 0.03 0.037 0.043 0.05 0.056 0.063 0.069 0.076 0.082 0.089 0.095 0.102 0.108 0.115 0.122 0.128 0.135 0.141 0.148 0.154 0.161 0.167 0.174 0.18 0.187 0.193 0.2"/><feFuncG type="table" tableValues="0 0 0 0 0 0 0 0 0 0 0 0 0 0 0 0 0 0 0 0 0 0.004 0.01 0.017 0.024 0.03 0.037 0.043 0.05 0.056 0.063 0.069 0.076 0.082 0.089 0.095 0.102 0.108 0.115 0.122 0.128 0.135 0.141 0.148 0.154 0.161 0.167 0.174 0.18 0.187 0.193 0.2"/><feFuncB type="table" tableValues="0 0 0 0 0 0 0 0 0 0 0 0 0 0 0 0 0 0 0 0 0 0.004 0.01 0.017 0.024 0.03 0.037 0.043 0.05 0.056 0.063 0.069 0.076 0.082 0.089 0.095 0.102 0.108 0.115 0.122 0.128 0.135 0.141 0.148 0.154 0.161 0.167 0.174 0.18 0.187 0.193 0.2"/></feComponentTransfer><feComponentTransfer in="SourceGraphic" result="thr"><feFuncR type="table" tableValues="0.631 0.63 0.63 0.629 0.628 0.628 0.627 0.626 0.625 0.625 0.624 0.607 0.529 0.466 0.424 0.388 0.355 0.32 0.281 0.228 0 0 0 0 0 0 0 0 0 0 0 0 0 0 0 0 0 0 0 0 0 0 0 0 0 0 0 0 0 0 0 0"/><feFuncG type="table" tableValues="0.631 0.63 0.63 0.629 0.628 0.628 0.627 0.626 0.625 0.625 0.624 0.607 0.529 0.466 0.424 0.388 0.355 0.32 0.281 0.228 0 0 0 0 0 0 0 0 0 0 0 0 0 0 0 0 0 0 0 0 0 0 0 0 0 0 0 0 0 0 0 0"/><feFuncB type="table" tableValues="0.631 0.63 0.63 0.629 0.628 0.628 0.627 0.626 0.625 0.625 0.624 0.607 0.529 0.466 0.424 0.388 0.355 0.32 0.281 0.228 0 0 0 0 0 0 0 0 0 0 0 0 0 0 0 0 0 0 0 0 0 0 0 0 0 0 0 0 0 0 0 0"/></feComponentTransfer><feComposite in="amp" in2="nz" operator="arithmetic" k1="1" k2="0" k3="0" k4="0" result="m"/><feComposite in="SourceGraphic" in2="m" operator="arithmetic" k1="0" k2="0.5" k3="0.2344" k4="0" result="v1"/><feComposite in="v1" in2="iamp" operator="arithmetic" k1="0" k2="2" k3="0.3516" k4="-0.3516" result="v2"/><feTurbulence type="fractalNoise" baseFrequency="0.87 0.63" numOctaves="2" seed="54"/><feColorMatrix type="matrix" values="1 0 0 0 0 1 0 0 0 0 1 0 0 0 0 0 0 0 0 1" result="n2"/><feComposite in="n2" in2="thr" operator="arithmetic" k1="0" k2="1" k3="-1" k4="1"/><feComponentTransfer result="mask"><feFuncR type="linear" slope="30" intercept="-29"/><feFuncG type="linear" slope="30" intercept="-29"/><feFuncB type="linear" slope="30" intercept="-29"/></feComponentTransfer><feComposite in="v2" in2="mask" operator="arithmetic" k1="1" k2="0" k3="0" k4="0"/><feComponentTransfer><feFuncR type="table" tableValues="0 0 0 0 0 0 0 0 0 0 0 0 0 0 0 0 0 0 0 0 0 0 0 0 0 0 0 0 0 0 0 0 0 0 0 0 0 0 0 0 0 0 0 0 0 0 0 0 0 0 0 0 0 0 0 0 0 0 0 0 0 0 0 0 0 0 0 0 0 0 0 0 0 0 0 0 0 0 0 0 0 0 0.069 0.16 0.252 0.343 0.435 0.526 0.614 0.695 0.776 0.857 0.938 1 1 1 1 1 1 1 1 1 1 1 1 1 1 1 1 1 1 1 1 1 1 1 1 1 1 1 1 1 1 1 1 1 1 1 1"/><feFuncG type="table" tableValues="0 0 0 0 0 0 0 0 0 0 0 0 0 0 0 0 0 0 0 0 0 0 0 0 0 0 0 0 0 0 0 0 0 0 0 0 0 0 0 0 0 0 0 0 0.025 0.076 0.127 0.178 0.248 0.33 0.412 0.493 0.575 0.678 0.786 0.893 1 0.993 0.986 0.98 0.973 0.966 0.96 0.958 0.956 0.953 0.951 0.949 0.947 0.944 0.942 0.941 0.941 0.941 0.941 0.941 0.941 0.941 0.941 0.941 0.941 0.941 0.948 0.957 0.966 0.975 0.985 0.994 1 1 1 1 1 0.995 0.974 0.952 0.931 0.91 0.888 0.867 0.839 0.809 0.779 0.749 0.719 0.689 0.659 0.626 0.59 0.555 0.52 0.484 0.449 0.413 0.379 0.346 0.314 0.281 0.248 0.216 0.183 0.153 0.131 0.109 0.087 0.065 0.044 0.022 0"/><feFuncB type="table" tableValues="0 0 0 0 0 0 0 0 0 0 0 0 0 0 0 0 0 0 0 0 0 0 0 0.109 0.29 0.472 0.653 0.834 0.873 0.875 0.877 0.88 0.882 0.885 0.887 0.89 0.892 0.896 0.903 0.91 0.917 0.924 0.931 0.938 0.949 0.964 0.979 0.994 1 1 1 1 1 1 1 1 1 0.956 0.911 0.867 0.823 0.779 0.735 0.694 0.654 0.613 0.572 0.531 0.49 0.449 0.408 0.37 0.334 0.298 0.262 0.226 0.19 0.154 0.117 0.081 0.045 0.009 0 0 0 0 0 0 0 0 0 0 0 0 0 0 0 0 0 0 0 0 0 0 0 0 0 0 0 0 0 0 0 0 0 0 0 0 0 0 0 0 0 0 0 0 0 0 0"/></feComponentTransfer></filter><linearGradient id="c126" x1="0" y1="0" x2="0" y2="1"><stop offset="0" stop-color="#898989"/><stop offset="0.07" stop-color="#c9c9c9"/><stop offset="0.08" stop-color="#cdcdcd"/><stop offset="0.16" stop-color="#e5e5e5"/><stop offset="0.2" stop-color="#e7e7e7"/><stop offset="0.331" stop-color="#eeeeee"/><stop offset="0.45" stop-color="#f5f5f5"/><stop offset="0.5" stop-color="#f7f7f7"/><stop offset="0.591" stop-color="#ffffff"/><stop offset="0.75" stop-color="#ffffff"/><stop offset="0.76" stop-color="#ffffff"/><stop offset="0.864" stop-color="#ffffff"/><stop offset="0.903" stop-color="#ffffff"/><stop offset="0.929" stop-color="#ffffff"/><stop offset="0.942" stop-color="#ffffff"/><stop offset="0.955" stop-color="#ffffff"/><stop offset="0.968" stop-color="#ffffff"/><stop offset="0.981" stop-color="#ffffff"/><stop offset="1" stop-color="#ffffff"/></linearGradient><linearGradient id="c127" x1="0" y1="0" x2="0" y2="1"><stop offset="0" stop-color="#545454"/><stop offset="0.08" stop-color="#545454"/><stop offset="0.15" stop-color="#545454"/><stop offset="0.2" stop-color="#595959"/><stop offset="0.21" stop-color="#5a5a5a"/><stop offset="0.331" stop-color="#5c5c5c"/><stop offset="0.45" stop-color="#5f5f5f"/><stop offset="0.591" stop-color="#636363"/><stop offset="0.76" stop-color="#676767"/><stop offset="0.864" stop-color="#6e6e6e"/><stop offset="0.903" stop-color="#767676"/><stop offset="0.929" stop-color="#828282"/><stop offset="0.942" stop-color="#8d8d8d"/><stop offset="0.955" stop-color="#a5a5a5"/><stop offset="0.968" stop-color="#c7c7c7"/><stop offset="0.981" stop-color="#f3f3f3"/><stop offset="1" stop-color="#ffffff"/></linearGradient><linearGradient id="c128" x1="0" y1="0" x2="0" y2="1"><stop offset="0" stop-color="#545454"/><stop offset="0.08" stop-color="#545454"/><stop offset="0.15" stop-color="#545454"/><stop offset="0.2" stop-color="#636363"/><stop offset="0.21" stop-color="#666666"/><stop offset="0.331" stop-color="#6b6b6b"/><stop offset="0.45" stop-color="#717171"/><stop offset="0.591" stop-color="#777777"/><stop offset="0.76" stop-color="#7f7f7f"/><stop offset="0.864" stop-color="#878787"/><stop offset="0.903" stop-color="#8e8e8e"/><stop offset="0.929" stop-color="#999999"/><stop offset="0.942" stop-color="#a2a2a2"/><stop offset="0.955" stop-color="#b6b6b6"/><stop offset="0.968" stop-color="#d1d1d1"/><stop offset="0.981" stop-color="#f5f5f5"/><stop offset="1" stop-color="#ffffff"/></linearGradient><linearGradient id="c129" x1="0" y1="0" x2="0" y2="1"><stop offset="0" stop-color="#545454"/><stop offset="0.06" stop-color="#5f5f5f"/><stop offset="0.08" stop-color="#5f5f5f"/><stop offset="0.2" stop-color="#616161"/><stop offset="0.331" stop-color="#636363"/><stop offset="0.45" stop-color="#676767"/><stop offset="0.591" stop-color="#6b6b6b"/><stop offset="0.76" stop-color="#707070"/><stop offset="0.864" stop-color="#787878"/><stop offset="0.903" stop-color="#808080"/><stop offset="0.929" stop-color="#8c8c8c"/><stop offset="0.942" stop-color="#969696"/><stop offset="0.955" stop-color="#acacac"/><stop offset="0.968" stop-color="#cbcbcb"/><stop offset="0.981" stop-color="#f3f3f3"/><stop offset="1" stop-color="#ffffff"/></linearGradient><linearGradient id="c130" x1="0" y1="0" x2="0" y2="1"><stop offset="0" stop-color="#545454"/><stop offset="0.08" stop-color="#545454"/><stop offset="0.2" stop-color="#545454"/><stop offset="0.331" stop-color="#545454"/><stop offset="0.45" stop-color="#555555"/><stop offset="0.55" stop-color="#575757"/><stop offset="0.591" stop-color="#656565"/><stop offset="0.61" stop-color="#6b6b6b"/><stop offset="0.76" stop-color="#7f7f7f"/><stop offset="0.864" stop-color="#8a8a8a"/><stop offset="0.903" stop-color="#929292"/><stop offset="0.929" stop-color="#9d9d9d"/><stop offset="0.942" stop-color="#a6a6a6"/><stop offset="0.955" stop-color="#b9b9b9"/><stop offset="0.968" stop-color="#d3d3d3"/><stop offset="0.981" stop-color="#f5f5f5"/><stop offset="1" stop-color="#ffffff"/></linearGradient><linearGradient id="c131" x1="0" y1="0" x2="0" y2="1"><stop offset="0" stop-color="#545454"/><stop offset="0.08" stop-color="#545454"/><stop offset="0.15" stop-color="#545454"/><stop offset="0.2" stop-color="#616161"/><stop offset="0.21" stop-color="#636363"/><stop offset="0.331" stop-color="#686868"/><stop offset="0.45" stop-color="#6d6d6d"/><stop offset="0.591" stop-color="#737373"/><stop offset="0.76" stop-color="#7a7a7a"/><stop offset="0.864" stop-color="#828282"/><stop offset="0.903" stop-color="#898989"/><stop offset="0.929" stop-color="#959595"/><stop offset="0.942" stop-color="#9e9e9e"/><stop offset="0.955" stop-color="#b2b2b2"/><stop offset="0.968" stop-color="#cfcfcf"/><stop offset="0.981" stop-color="#f4f4f4"/><stop offset="1" stop-color="#ffffff"/></linearGradient><linearGradient id="c132" x1="0" y1="0" x2="0" y2="1"><stop offset="0" stop-color="#545454"/><stop offset="0.08" stop-color="#545454"/><stop offset="0.2" stop-color="#545454"/><stop offset="0.25" stop-color="#545454"/><stop offset="0.31" stop-color="#717171"/><stop offset="0.331" stop-color="#737373"/><stop offset="0.45" stop-color="#818181"/><stop offset="0.591" stop-color="#8c8c8c"/><stop offset="0.76" stop-color="#969696"/><stop offset="0.864" stop-color="#9f9f9f"/><stop offset="0.903" stop-color="#a6a6a6"/><stop offset="0.929" stop-color="#b0b0b0"/><stop offset="0.942" stop-color="#b7b7b7"/><stop offset="0.955" stop-color="#c6c6c6"/><stop offset="0.968" stop-color="#dcdcdc"/><stop offset="0.981" stop-color="#f7f7f7"/><stop offset="1" stop-color="#ffffff"/></linearGradient><linearGradient id="c133" x1="0" y1="0" x2="0" y2="1"><stop offset="0" stop-color="#545454"/><stop offset="0.08" stop-color="#545454"/><stop offset="0.2" stop-color="#545454"/><stop offset="0.25" stop-color="#545454"/><stop offset="0.31" stop-color="#6f6f6f"/><stop offset="0.331" stop-color="#717171"/><stop offset="0.45" stop-color="#7d7d7d"/><stop offset="0.591" stop-color="#888888"/><stop offset="0.76" stop-color="#929292"/><stop offset="0.864" stop-color="#9a9a9a"/><stop offset="0.903" stop-color="#a2a2a2"/><stop offset="0.929" stop-color="#ababab"/><stop offset="0.942" stop-color="#b3b3b3"/><stop offset="0.955" stop-color="#c3c3c3"/><stop offset="0.968" stop-color="#dadada"/><stop offset="0.981" stop-color="#f7f7f7"/><stop offset="1" stop-color="#ffffff"/></linearGradient><linearGradient id="c134" x1="0" y1="0" x2="0" y2="1"><stop offset="0" stop-color="#545454"/><stop offset="0.08" stop-color="#545454"/><stop offset="0.1" stop-color="#545454"/><stop offset="0.16" stop-color="#7a7a7a"/><stop offset="0.2" stop-color="#7d7d7d"/><stop offset="0.331" stop-color="#878787"/><stop offset="0.45" stop-color="#919191"/><stop offset="0.591" stop-color="#9c9c9c"/><stop offset="0.76" stop-color="#a9a9a9"/><stop offset="0.864" stop-color="#b3b3b3"/><stop offset="0.903" stop-color="#bababa"/><stop offset="0.929" stop-color="#c2c2c2"/><stop offset="0.942" stop-color="#c8c8c8"/><stop offset="0.955" stop-color="#d3d3d3"/><stop offset="0.968" stop-color="#e4e4e4"/><stop offset="0.981" stop-color="#f9f9f9"/><stop offset="1" stop-color="#ffffff"/></linearGradient><linearGradient id="c135" x1="0" y1="0" x2="0" y2="1"><stop offset="0" stop-color="#545454"/><stop offset="0.08" stop-color="#545454"/><stop offset="0.2" stop-color="#545454"/><stop offset="0.26" stop-color="#868686"/><stop offset="0.331" stop-color="#909090"/><stop offset="0.45" stop-color="#a1a1a1"/><stop offset="0.591" stop-color="#b1b1b1"/><stop offset="0.76" stop-color="#c1c1c1"/><stop offset="0.864" stop-color="#cccccc"/><stop offset="0.903" stop-color="#d2d2d2"/><stop offset="0.929" stop-color="#d8d8d8"/><stop offset="0.942" stop-color="#dddddd"/><stop offset="0.955" stop-color="#e4e4e4"/><stop offset="0.968" stop-color="#eeeeee"/><stop offset="0.981" stop-color="#fbfbfb"/><stop offset="1" stop-color="#ffffff"/></linearGradient><linearGradient id="c136" x1="0" y1="0" x2="0" y2="1"><stop offset="0" stop-color="#545454"/><stop offset="0.06" stop-color="#7d7d7d"/><stop offset="0.08" stop-color="#7e7e7e"/><stop offset="0.2" stop-color="#858585"/><stop offset="0.331" stop-color="#8d8d8d"/><stop offset="0.45" stop-color="#969696"/><stop offset="0.591" stop-color="#a1a1a1"/><stop offset="0.76" stop-color="#aeaeae"/><stop offset="0.864" stop-color="#b8b8b8"/><stop offset="0.903" stop-color="#bfbfbf"/><stop offset="0.929" stop-color="#c6c6c6"/><stop offset="0.942" stop-color="#cccccc"/><stop offset="0.955" stop-color="#d7d7d7"/><stop offset="0.968" stop-color="#e6e6e6"/><stop offset="0.981" stop-color="#f9f9f9"/><stop offset="1" stop-color="#ffffff"/></linearGradient><linearGradient id="c137" x1="0" y1="0" x2="0" y2="1"><stop offset="0" stop-color="#545454"/><stop offset="0.06" stop-color="#7f7f7f"/><stop offset="0.08" stop-color="#808080"/><stop offset="0.2" stop-color="#888888"/><stop offset="0.331" stop-color="#919191"/><stop offset="0.45" stop-color="#999999"/><stop offset="0.591" stop-color="#a5a5a5"/><stop offset="0.76" stop-color="#b3b3b3"/><stop offset="0.864" stop-color="#bdbdbd"/><stop offset="0.903" stop-color="#c4c4c4"/><stop offset="0.929" stop-color="#cbcbcb"/><stop offset="0.942" stop-color="#d0d0d0"/><stop offset="0.955" stop-color="#dadada"/><stop offset="0.968" stop-color="#e8e8e8"/><stop offset="0.981" stop-color="#fafafa"/><stop offset="1" stop-color="#ffffff"/></linearGradient><linearGradient id="c138" x1="0" y1="0" x2="0" y2="1"><stop offset="0" stop-color="#545454"/><stop offset="0.05" stop-color="#545454"/><stop offset="0.08" stop-color="#6f6f6f"/><stop offset="0.11" stop-color="#8a8a8a"/><stop offset="0.2" stop-color="#939393"/><stop offset="0.331" stop-color="#9f9f9f"/><stop offset="0.45" stop-color="#ababab"/><stop offset="0.591" stop-color="#b9b9b9"/><stop offset="0.76" stop-color="#cbcbcb"/><stop offset="0.864" stop-color="#d6d6d6"/><stop offset="0.903" stop-color="#dcdcdc"/><stop offset="0.929" stop-color="#e1e1e1"/><stop offset="0.942" stop-color="#e5e5e5"/><stop offset="0.955" stop-color="#ebebeb"/><stop offset="0.968" stop-color="#f2f2f2"/><stop offset="0.981" stop-color="#fcfcfc"/><stop offset="1" stop-color="#ffffff"/></linearGradient><linearGradient id="c139" x1="0" y1="0" x2="0" y2="1"><stop offset="0" stop-color="#5f5f5f"/><stop offset="0.08" stop-color="#626262"/><stop offset="0.2" stop-color="#676767"/><stop offset="0.25" stop-color="#696969"/><stop offset="0.32" stop-color="#8d8d8d"/><stop offset="0.331" stop-color="#8f8f8f"/><stop offset="0.41" stop-color="#9d9d9d"/><stop offset="0.45" stop-color="#a2a2a2"/><stop offset="0.5" stop-color="#a8a8a8"/><stop offset="0.591" stop-color="#aeaeae"/><stop offset="0.75" stop-color="#b9b9b9"/><stop offset="0.76" stop-color="#bababa"/><stop offset="0.864" stop-color="#c5c5c5"/><stop offset="0.903" stop-color="#cbcbcb"/><stop offset="0.929" stop-color="#d2d2d2"/><stop offset="0.942" stop-color="#d6d6d6"/><stop offset="0.955" stop-color="#dfdfdf"/><stop offset="0.968" stop-color="#ebebeb"/><stop offset="0.981" stop-color="#fbfbfb"/><stop offset="1" stop-color="#ffffff"/></linearGradient><linearGradient id="c140" x1="0" y1="0" x2="0" y2="1"><stop offset="0" stop-color="#646464"/><stop offset="0.08" stop-color="#686868"/><stop offset="0.2" stop-color="#6e6e6e"/><stop offset="0.25" stop-color="#717171"/><stop offset="0.32" stop-color="#9c9c9c"/><stop offset="0.331" stop-color="#9e9e9e"/><stop offset="0.41" stop-color="#aeaeae"/><stop offset="0.45" stop-color="#b4b4b4"/><stop offset="0.5" stop-color="#bbbbbb"/><stop offset="0.591" stop-color="#c2c2c2"/><stop offset="0.75" stop-color="#cecece"/><stop offset="0.76" stop-color="#cfcfcf"/><stop offset="0.864" stop-color="#dbdbdb"/><stop offset="0.903" stop-color="#e1e1e1"/><stop offset="0.929" stop-color="#e5e5e5"/><stop offset="0.942" stop-color="#e9e9e9"/><stop offset="0.955" stop-color="#eeeeee"/><stop offset="0.968" stop-color="#f4f4f4"/><stop offset="0.981" stop-color="#fdfdfd"/><stop offset="1" stop-color="#ffffff"/></linearGradient><linearGradient id="c141" x1="0" y1="0" x2="0" y2="1"><stop offset="0" stop-color="#767676"/><stop offset="0.08" stop-color="#7f7f7f"/><stop offset="0.15" stop-color="#888888"/><stop offset="0.2" stop-color="#b5b5b5"/><stop offset="0.22" stop-color="#c7c7c7"/><stop offset="0.31" stop-color="#e2e2e2"/><stop offset="0.331" stop-color="#e4e4e4"/><stop offset="0.45" stop-color="#efefef"/><stop offset="0.5" stop-color="#f4f4f4"/><stop offset="0.591" stop-color="#fdfdfd"/><stop offset="0.75" stop-color="#ffffff"/><stop offset="0.76" stop-color="#ffffff"/><stop offset="0.864" stop-color="#ffffff"/><stop offset="0.903" stop-color="#ffffff"/><stop offset="0.929" stop-color="#ffffff"/><stop offset="0.942" stop-color="#ffffff"/><stop offset="0.955" stop-color="#ffffff"/><stop offset="0.968" stop-color="#ffffff"/><stop offset="0.981" stop-color="#ffffff"/><stop offset="1" stop-color="#ffffff"/></linearGradient><linearGradient id="c142" x1="0" y1="0" x2="0" y2="1"><stop offset="0" stop-color="#727272"/><stop offset="0.05" stop-color="#838383"/><stop offset="0.08" stop-color="#9c9c9c"/><stop offset="0.12" stop-color="#bebebe"/><stop offset="0.2" stop-color="#d4d4d4"/><stop offset="0.21" stop-color="#d7d7d7"/><stop offset="0.331" stop-color="#dedede"/><stop offset="0.45" stop-color="#e5e5e5"/><stop offset="0.5" stop-color="#e8e8e8"/><stop offset="0.591" stop-color="#f2f2f2"/><stop offset="0.75" stop-color="#ffffff"/><stop offset="0.76" stop-color="#ffffff"/><stop offset="0.864" stop-color="#ffffff"/><stop offset="0.903" stop-color="#ffffff"/><stop offset="0.929" stop-color="#ffffff"/><stop offset="0.942" stop-color="#ffffff"/><stop offset="0.955" stop-color="#ffffff"/><stop offset="0.968" stop-color="#ffffff"/><stop offset="0.981" stop-color="#ffffff"/><stop offset="1" stop-color="#ffffff"/></linearGradient><linearGradient id="c143" x1="0" y1="0" x2="0" y2="1"><stop offset="0" stop-color="#808080"/><stop offset="0.07" stop-color="#b8b8b8"/><stop offset="0.08" stop-color="#bbbbbb"/><stop offset="0.16" stop-color="#d0d0d0"/><stop offset="0.2" stop-color="#d2d2d2"/><stop offset="0.331" stop-color="#d8d8d8"/><stop offset="0.45" stop-color="#dedede"/><stop offset="0.5" stop-color="#e1e1e1"/><stop offset="0.591" stop-color="#eaeaea"/><stop offset="0.75" stop-color="#f9f9f9"/><stop offset="0.76" stop-color="#fafafa"/><stop offset="0.864" stop-color="#ffffff"/><stop offset="0.903" stop-color="#ffffff"/><stop offset="0.929" stop-color="#ffffff"/><stop offset="0.942" stop-color="#ffffff"/><stop offset="0.955" stop-color="#ffffff"/><stop offset="0.968" stop-color="#ffffff"/><stop offset="0.981" stop-color="#ffffff"/><stop offset="1" stop-color="#ffffff"/></linearGradient><linearGradient id="c144" x1="0" y1="0" x2="0" y2="1"><stop offset="0" stop-color="#707070"/><stop offset="0.08" stop-color="#7d7d7d"/><stop offset="0.1" stop-color="#808080"/><stop offset="0.17" stop-color="#b8b8b8"/><stop offset="0.2" stop-color="#c0c0c0"/><stop offset="0.26" stop-color="#d0d0d0"/><stop offset="0.331" stop-color="#d5d5d5"/><stop offset="0.45" stop-color="#dddddd"/><stop offset="0.5" stop-color="#e1e1e1"/><stop offset="0.591" stop-color="#eaeaea"/><stop offset="0.75" stop-color="#f9f9f9"/><stop offset="0.76" stop-color="#fafafa"/><stop offset="0.864" stop-color="#ffffff"/><stop offset="0.903" stop-color="#ffffff"/><stop offset="0.929" stop-color="#ffffff"/><stop offset="0.942" stop-color="#ffffff"/><stop offset="0.955" stop-color="#ffffff"/><stop offset="0.968" stop-color="#ffffff"/><stop offset="0.981" stop-color="#ffffff"/><stop offset="1" stop-color="#ffffff"/></linearGradient><linearGradient id="c145" x1="0" y1="0" x2="0" y2="1"><stop offset="0" stop-color="#888888"/><stop offset="0.07" stop-color="#c7c7c7"/><stop offset="0.08" stop-color="#cacaca"/><stop offset="0.16" stop-color="#e2e2e2"/><stop offset="0.2" stop-color="#e4e4e4"/><stop offset="0.331" stop-color="#ebebeb"/><stop offset="0.45" stop-color="#f1f1f1"/><stop offset="0.5" stop-color="#f4f4f4"/><stop offset="0.591" stop-color="#fdfdfd"/><stop offset="0.75" stop-color="#ffffff"/><stop offset="0.76" stop-color="#ffffff"/><stop offset="0.864" stop-color="#ffffff"/><stop offset="0.903" stop-color="#ffffff"/><stop offset="0.929" stop-color="#ffffff"/><stop offset="0.942" stop-color="#ffffff"/><stop offset="0.955" stop-color="#ffffff"/><stop offset="0.968" stop-color="#ffffff"/><stop offset="0.981" stop-color="#ffffff"/><stop offset="1" stop-color="#ffffff"/></linearGradient><linearGradient id="c146" x1="0" y1="0" x2="0" y2="1"><stop offset="0" stop-color="#707070"/><stop offset="0.08" stop-color="#797979"/><stop offset="0.15" stop-color="#808080"/><stop offset="0.2" stop-color="#a8a8a8"/><stop offset="0.22" stop-color="#b8b8b8"/><stop offset="0.31" stop-color="#d0d0d0"/><stop offset="0.331" stop-color="#d2d2d2"/><stop offset="0.45" stop-color="#dcdcdc"/><stop offset="0.5" stop-color="#e1e1e1"/><stop offset="0.591" stop-color="#eaeaea"/><stop offset="0.75" stop-color="#f9f9f9"/><stop offset="0.76" stop-color="#fafafa"/><stop offset="0.864" stop-color="#ffffff"/><stop offset="0.903" stop-color="#ffffff"/><stop offset="0.929" stop-color="#ffffff"/><stop offset="0.942" stop-color="#ffffff"/><stop offset="0.955" stop-color="#ffffff"/><stop offset="0.968" stop-color="#ffffff"/><stop offset="0.981" stop-color="#ffffff"/><stop offset="1" stop-color="#ffffff"/></linearGradient><linearGradient id="c147" x1="0" y1="0" x2="0" y2="1"><stop offset="0" stop-color="#868686"/><stop offset="0.07" stop-color="#c4c4c4"/><stop offset="0.08" stop-color="#c7c7c7"/><stop offset="0.16" stop-color="#dedede"/><stop offset="0.2" stop-color="#e0e0e0"/><stop offset="0.331" stop-color="#e7e7e7"/><stop offset="0.45" stop-color="#ededed"/><stop offset="0.5" stop-color="#f0f0f0"/><stop offset="0.591" stop-color="#f9f9f9"/><stop offset="0.75" stop-color="#ffffff"/><stop offset="0.76" stop-color="#ffffff"/><stop offset="0.864" stop-color="#ffffff"/><stop offset="0.903" stop-color="#ffffff"/><stop offset="0.929" stop-color="#ffffff"/><stop offset="0.942" stop-color="#ffffff"/><stop offset="0.955" stop-color="#ffffff"/><stop offset="0.968" stop-color="#ffffff"/><stop offset="0.981" stop-color="#ffffff"/><stop offset="1" stop-color="#ffffff"/></linearGradient><linearGradient id="c148" x1="0" y1="0" x2="0" y2="1"><stop offset="0" stop-color="#858585"/><stop offset="0.07" stop-color="#c1c1c1"/><stop offset="0.08" stop-color="#c4c4c4"/><stop offset="0.16" stop-color="#dbdbdb"/><stop offset="0.2" stop-color="#dddddd"/><stop offset="0.331" stop-color="#e3e3e3"/><stop offset="0.45" stop-color="#eaeaea"/><stop offset="0.5" stop-color="#ececec"/><stop offset="0.591" stop-color="#f5f5f5"/><stop offset="0.75" stop-color="#ffffff"/><stop offset="0.76" stop-color="#ffffff"/><stop offset="0.864" stop-color="#ffffff"/><stop offset="0.903" stop-color="#ffffff"/><stop offset="0.929" stop-color="#ffffff"/><stop offset="0.942" stop-color="#ffffff"/><stop offset="0.955" stop-color="#ffffff"/><stop offset="0.968" stop-color="#ffffff"/><stop offset="0.981" stop-color="#ffffff"/><stop offset="1" stop-color="#ffffff"/></linearGradient><linearGradient id="c149" x1="0" y1="0" x2="0" y2="1"><stop offset="0" stop-color="#545454"/><stop offset="0.06" stop-color="#6d6d6d"/><stop offset="0.08" stop-color="#6d6d6d"/><stop offset="0.2" stop-color="#727272"/><stop offset="0.331" stop-color="#777777"/><stop offset="0.45" stop-color="#7c7c7c"/><stop offset="0.591" stop-color="#848484"/><stop offset="0.76" stop-color="#8d8d8d"/><stop offset="0.864" stop-color="#969696"/><stop offset="0.903" stop-color="#9d9d9d"/><stop offset="0.929" stop-color="#a7a7a7"/><stop offset="0.942" stop-color="#afafaf"/><stop offset="0.955" stop-color="#bfbfbf"/><stop offset="0.968" stop-color="#d8d8d8"/><stop offset="0.981" stop-color="#f6f6f6"/><stop offset="1" stop-color="#ffffff"/></linearGradient><linearGradient id="c150" x1="0" y1="0" x2="0" y2="1"><stop offset="0" stop-color="#515151"/><stop offset="0.08" stop-color="#505050"/><stop offset="0.2" stop-color="#4e4e4e"/><stop offset="0.331" stop-color="#4e4e4e"/><stop offset="0.45" stop-color="#4f4f4f"/><stop offset="0.591" stop-color="#515151"/><stop offset="0.76" stop-color="#535353"/><stop offset="0.864" stop-color="#575757"/><stop offset="0.903" stop-color="#5e5e5e"/><stop offset="0.929" stop-color="#696969"/><stop offset="0.942" stop-color="#7e7e7e"/><stop offset="0.955" stop-color="#989898"/><stop offset="0.968" stop-color="#bfbfbf"/><stop offset="0.981" stop-color="#f1f1f1"/><stop offset="1" stop-color="#ffffff"/></linearGradient><linearGradient id="c151" x1="0" y1="0" x2="0" y2="1"><stop offset="0" stop-color="#d2d2d2"/><stop offset="0.08" stop-color="#d9d9d9"/><stop offset="0.2" stop-color="#e3e3e3"/><stop offset="0.331" stop-color="#ececec"/><stop offset="0.45" stop-color="#eeeeee"/><stop offset="0.591" stop-color="#f0f0f0"/><stop offset="0.76" stop-color="#f2f2f2"/><stop offset="0.864" stop-color="#f4f4f4"/><stop offset="0.903" stop-color="#f5f5f5"/><stop offset="0.929" stop-color="#f6f6f6"/><stop offset="0.942" stop-color="#f7f7f7"/><stop offset="0.955" stop-color="#f9f9f9"/><stop offset="0.968" stop-color="#fbfbfb"/><stop offset="0.981" stop-color="#fefefe"/><stop offset="1" stop-color="#ffffff"/></linearGradient><linearGradient id="c152" x1="0" y1="0" x2="0" y2="1"><stop offset="0" stop-color="#545454"/><stop offset="0.08" stop-color="#545454"/><stop offset="0.15" stop-color="#545454"/><stop offset="0.2" stop-color="#727272"/><stop offset="0.21" stop-color="#787878"/><stop offset="0.331" stop-color="#828282"/><stop offset="0.45" stop-color="#8d8d8d"/><stop offset="0.591" stop-color="#989898"/><stop offset="0.76" stop-color="#a5a5a5"/><stop offset="0.864" stop-color="#aeaeae"/><stop offset="0.903" stop-color="#b5b5b5"/><stop offset="0.929" stop-color="#bdbdbd"/><stop offset="0.942" stop-color="#c4c4c4"/><stop offset="0.955" stop-color="#d0d0d0"/><stop offset="0.968" stop-color="#e2e2e2"/><stop offset="0.981" stop-color="#f9f9f9"/><stop offset="1" stop-color="#ffffff"/></linearGradient><linearGradient id="c153" x1="0" y1="0" x2="0" y2="1"><stop offset="0" stop-color="#545454"/><stop offset="0.08" stop-color="#545454"/><stop offset="0.2" stop-color="#545454"/><stop offset="0.26" stop-color="#8a8a8a"/><stop offset="0.331" stop-color="#959595"/><stop offset="0.45" stop-color="#a8a8a8"/><stop offset="0.591" stop-color="#b9b9b9"/><stop offset="0.76" stop-color="#cbcbcb"/><stop offset="0.864" stop-color="#d6d6d6"/><stop offset="0.903" stop-color="#dcdcdc"/><stop offset="0.929" stop-color="#e1e1e1"/><stop offset="0.942" stop-color="#e5e5e5"/><stop offset="0.955" stop-color="#ebebeb"/><stop offset="0.968" stop-color="#f2f2f2"/><stop offset="0.981" stop-color="#fcfcfc"/><stop offset="1" stop-color="#ffffff"/></linearGradient><linearGradient id="c154" x1="0" y1="0" x2="0" y2="1"><stop offset="0" stop-color="#6b6b6b"/><stop offset="0.05" stop-color="#7a7a7a"/><stop offset="0.08" stop-color="#909090"/><stop offset="0.12" stop-color="#adadad"/><stop offset="0.2" stop-color="#c0c0c0"/><stop offset="0.21" stop-color="#c3c3c3"/><stop offset="0.331" stop-color="#c9c9c9"/><stop offset="0.45" stop-color="#cfcfcf"/><stop offset="0.5" stop-color="#d2d2d2"/><stop offset="0.591" stop-color="#dadada"/><stop offset="0.75" stop-color="#e8e8e8"/><stop offset="0.76" stop-color="#e9e9e9"/><stop offset="0.864" stop-color="#f6f6f6"/><stop offset="0.903" stop-color="#fafafa"/><stop offset="0.929" stop-color="#fdfdfd"/><stop offset="0.942" stop-color="#ffffff"/><stop offset="0.955" stop-color="#ffffff"/><stop offset="0.968" stop-color="#ffffff"/><stop offset="0.981" stop-color="#ffffff"/><stop offset="1" stop-color="#ffffff"/></linearGradient><linearGradient id="c155" x1="0" y1="0" x2="0" y2="1"><stop offset="0" stop-color="#545454"/><stop offset="0.08" stop-color="#545454"/><stop offset="0.2" stop-color="#545454"/><stop offset="0.26" stop-color="#888888"/><stop offset="0.331" stop-color="#929292"/><stop offset="0.45" stop-color="#a4a4a4"/><stop offset="0.591" stop-color="#b5b5b5"/><stop offset="0.76" stop-color="#c6c6c6"/><stop offset="0.864" stop-color="#d1d1d1"/><stop offset="0.903" stop-color="#d7d7d7"/><stop offset="0.929" stop-color="#dddddd"/><stop offset="0.942" stop-color="#e1e1e1"/><stop offset="0.955" stop-color="#e7e7e7"/><stop offset="0.968" stop-color="#f0f0f0"/><stop offset="0.981" stop-color="#fcfcfc"/><stop offset="1" stop-color="#ffffff"/></linearGradient><linearGradient id="c156" x1="0" y1="0" x2="0" y2="1"><stop offset="0" stop-color="#545454"/><stop offset="0.08" stop-color="#545454"/><stop offset="0.2" stop-color="#545454"/><stop offset="0.25" stop-color="#545454"/><stop offset="0.31" stop-color="#686868"/><stop offset="0.331" stop-color="#696969"/><stop offset="0.45" stop-color="#737373"/><stop offset="0.591" stop-color="#7b7b7b"/><stop offset="0.76" stop-color="#838383"/><stop offset="0.864" stop-color="#8c8c8c"/><stop offset="0.903" stop-color="#939393"/><stop offset="0.929" stop-color="#9e9e9e"/><stop offset="0.942" stop-color="#a6a6a6"/><stop offset="0.955" stop-color="#b9b9b9"/><stop offset="0.968" stop-color="#d3d3d3"/><stop offset="0.981" stop-color="#f5f5f5"/><stop offset="1" stop-color="#ffffff"/></linearGradient><linearGradient id="c157" x1="0" y1="0" x2="0" y2="1"><stop offset="0" stop-color="#545454"/><stop offset="0.08" stop-color="#545454"/><stop offset="0.2" stop-color="#545454"/><stop offset="0.25" stop-color="#545454"/><stop offset="0.31" stop-color="#5a5a5a"/><stop offset="0.331" stop-color="#5b5b5b"/><stop offset="0.45" stop-color="#5f5f5f"/><stop offset="0.591" stop-color="#636363"/><stop offset="0.76" stop-color="#676767"/><stop offset="0.864" stop-color="#6e6e6e"/><stop offset="0.903" stop-color="#767676"/><stop offset="0.929" stop-color="#828282"/><stop offset="0.942" stop-color="#8d8d8d"/><stop offset="0.955" stop-color="#a5a5a5"/><stop offset="0.968" stop-color="#c7c7c7"/><stop offset="0.981" stop-color="#f3f3f3"/><stop offset="1" stop-color="#ffffff"/></linearGradient><linearGradient id="c158" x1="0" y1="0" x2="0" y2="1"><stop offset="0" stop-color="#545454"/><stop offset="0.08" stop-color="#545454"/><stop offset="0.2" stop-color="#545454"/><stop offset="0.25" stop-color="#545454"/><stop offset="0.31" stop-color="#6d6d6d"/><stop offset="0.331" stop-color="#6e6e6e"/><stop offset="0.45" stop-color="#7a7a7a"/><stop offset="0.591" stop-color="#848484"/><stop offset="0.76" stop-color="#8d8d8d"/><stop offset="0.864" stop-color="#969696"/><stop offset="0.903" stop-color="#9d9d9d"/><stop offset="0.929" stop-color="#a7a7a7"/><stop offset="0.942" stop-color="#afafaf"/><stop offset="0.955" stop-color="#bfbfbf"/><stop offset="0.968" stop-color="#d8d8d8"/><stop offset="0.981" stop-color="#f6f6f6"/><stop offset="1" stop-color="#ffffff"/></linearGradient><filter id="f3" filterUnits="userSpaceOnUse" x="81" y="249" width="420" height="77" color-interpolation-filters="sRGB"><feTurbulence type="fractalNoise" baseFrequency="0.83 0.55" numOctaves="2" seed="9"/><feColorMatrix type="matrix" values="1 0 0 0 0 1 0 0 0 0 1 0 0 0 0 0 0 0 0 1"/><feComponentTransfer result="nz"><feFuncR type="table" tableValues="0.326 0.354 0.382 0.409 0.434 0.459 0.483 0.507 0.529 0.551 0.572 0.592 0.612 0.631 0.650 0.668 0.685 0.702 0.719 0.735 0.750 0.765 0.780 0.794 0.808 0.821 0.834 0.847 0.859 0.871 0.883 0.895 0.906 0.917 0.928 0.938 0.948 0.958 0.968 0.978 0.987"/><feFuncG type="table" tableValues="0.326 0.354 0.382 0.409 0.434 0.459 0.483 0.507 0.529 0.551 0.572 0.592 0.612 0.631 0.650 0.668 0.685 0.702 0.719 0.735 0.750 0.765 0.780 0.794 0.808 0.821 0.834 0.847 0.859 0.871 0.883 0.895 0.906 0.917 0.928 0.938 0.948 0.958 0.968 0.978 0.987"/><feFuncB type="table" tableValues="0.326 0.354 0.382 0.409 0.434 0.459 0.483 0.507 0.529 0.551 0.572 0.592 0.612 0.631 0.650 0.668 0.685 0.702 0.719 0.735 0.750 0.765 0.780 0.794 0.808 0.821 0.834 0.847 0.859 0.871 0.883 0.895 0.906 0.917 0.928 0.938 0.948 0.958 0.968 0.978 0.987"/></feComponentTransfer><feComponentTransfer in="SourceGraphic" result="amp"><feFuncR type="table" tableValues="1.1 1.1 1.1 1.1 1.1 1.1 1.1 1.1 1.1 1.1 1.1 1.1 1.1 1.1 1.1 1.1 1.1 1.1 1.079 1.005 0.93 0.876 0.837 0.798 0.759 0.72 0.68 0.641 0.602 0.596 0.592 0.587 0.583 0.578 0.574 0.57 0.565 0.561 0.557 0.552 0.548 0.544 0.539 0.535 0.531 0.526 0.522 0.517 0.513 0.509 0.504 0.5"/><feFuncG type="table" tableValues="1.1 1.1 1.1 1.1 1.1 1.1 1.1 1.1 1.1 1.1 1.1 1.1 1.1 1.1 1.1 1.1 1.1 1.1 1.079 1.005 0.93 0.876 0.837 0.798 0.759 0.72 0.68 0.641 0.602 0.596 0.592 0.587 0.583 0.578 0.574 0.57 0.565 0.561 0.557 0.552 0.548 0.544 0.539 0.535 0.531 0.526 0.522 0.517 0.513 0.509 0.504 0.5"/><feFuncB type="table" tableValues="1.1 1.1 1.1 1.1 1.1 1.1 1.1 1.1 1.1 1.1 1.1 1.1 1.1 1.1 1.1 1.1 1.1 1.1 1.079 1.005 0.93 0.876 0.837 0.798 0.759 0.72 0.68 0.641 0.602 0.596 0.592 0.587 0.583 0.578 0.574 0.57 0.565 0.561 0.557 0.552 0.548 0.544 0.539 0.535 0.531 0.526 0.522 0.517 0.513 0.509 0.504 0.5"/></feComponentTransfer><feComponentTransfer in="SourceGraphic" result="iamp"><feFuncR type="table" tableValues="-0.1 -0.1 -0.1 -0.1 -0.1 -0.1 -0.1 -0.1 -0.1 -0.1 -0.1 -0.1 -0.1 -0.1 -0.1 -0.1 -0.1 -0.1 -0.079 -0.005 0.07 0.124 0.163 0.202 0.241 0.28 0.32 0.359 0.398 0.404 0.408 0.413 0.417 0.422 0.426 0.43 0.435 0.439 0.443 0.448 0.452 0.456 0.461 0.465 0.469 0.474 0.478 0.483 0.487 0.491 0.496 0.5"/><feFuncG type="table" tableValues="-0.1 -0.1 -0.1 -0.1 -0.1 -0.1 -0.1 -0.1 -0.1 -0.1 -0.1 -0.1 -0.1 -0.1 -0.1 -0.1 -0.1 -0.1 -0.079 -0.005 0.07 0.124 0.163 0.202 0.241 0.28 0.32 0.359 0.398 0.404 0.408 0.413 0.417 0.422 0.426 0.43 0.435 0.439 0.443 0.448 0.452 0.456 0.461 0.465 0.469 0.474 0.478 0.483 0.487 0.491 0.496 0.5"/><feFuncB type="table" tableValues="-0.1 -0.1 -0.1 -0.1 -0.1 -0.1 -0.1 -0.1 -0.1 -0.1 -0.1 -0.1 -0.1 -0.1 -0.1 -0.1 -0.1 -0.1 -0.079 -0.005 0.07 0.124 0.163 0.202 0.241 0.28 0.32 0.359 0.398 0.404 0.408 0.413 0.417 0.422 0.426 0.43 0.435 0.439 0.443 0.448 0.452 0.456 0.461 0.465 0.469 0.474 0.478 0.483 0.487 0.491 0.496 0.5"/></feComponentTransfer><feComponentTransfer in="SourceGraphic" result="thr"><feFuncR type="table" tableValues="0.631 0.63 0.63 0.629 0.628 0.628 0.627 0.626 0.625 0.625 0.624 0.607 0.529 0.466 0.424 0.388 0.355 0.32 0.281 0.228 0 0 0 0 0 0 0 0 0 0 0 0 0 0 0 0 0 0 0 0 0 0 0 0 0 0 0 0 0 0 0 0"/><feFuncG type="table" tableValues="0.631 0.63 0.63 0.629 0.628 0.628 0.627 0.626 0.625 0.625 0.624 0.607 0.529 0.466 0.424 0.388 0.355 0.32 0.281 0.228 0 0 0 0 0 0 0 0 0 0 0 0 0 0 0 0 0 0 0 0 0 0 0 0 0 0 0 0 0 0 0 0"/><feFuncB type="table" tableValues="0.631 0.63 0.63 0.629 0.628 0.628 0.627 0.626 0.625 0.625 0.624 0.607 0.529 0.466 0.424 0.388 0.355 0.32 0.281 0.228 0 0 0 0 0 0 0 0 0 0 0 0 0 0 0 0 0 0 0 0 0 0 0 0 0 0 0 0 0 0 0 0"/></feComponentTransfer><feComposite in="amp" in2="nz" operator="arithmetic" k1="1" k2="0" k3="0" k4="0" result="m"/><feComposite in="SourceGraphic" in2="m" operator="arithmetic" k1="0" k2="0.5" k3="0.2344" k4="0" result="v1"/><feComposite in="v1" in2="iamp" operator="arithmetic" k1="0" k2="2" k3="0.3516" k4="-0.3516" result="v2"/><feTurbulence type="fractalNoise" baseFrequency="0.87 0.63" numOctaves="2" seed="59"/><feColorMatrix type="matrix" values="1 0 0 0 0 1 0 0 0 0 1 0 0 0 0 0 0 0 0 1" result="n2"/><feComposite in="n2" in2="thr" operator="arithmetic" k1="0" k2="1" k3="-1" k4="1"/><feComponentTransfer result="mask"><feFuncR type="linear" slope="30" intercept="-29"/><feFuncG type="linear" slope="30" intercept="-29"/><feFuncB type="linear" slope="30" intercept="-29"/></feComponentTransfer><feComposite in="v2" in2="mask" operator="arithmetic" k1="1" k2="0" k3="0" k4="0"/><feComponentTransfer><feFuncR type="table" tableValues="0 0 0 0 0 0 0 0 0 0 0 0 0 0 0 0 0 0 0 0 0 0 0 0 0 0 0 0 0 0 0 0 0 0 0 0 0 0 0 0 0 0 0 0 0 0 0 0 0 0 0 0 0 0 0 0 0 0 0 0 0 0 0 0 0 0 0 0 0 0 0 0 0 0 0 0 0 0 0 0 0 0 0.069 0.16 0.252 0.343 0.435 0.526 0.614 0.695 0.776 0.857 0.938 1 1 1 1 1 1 1 1 1 1 1 1 1 1 1 1 1 1 1 1 1 1 1 1 1 1 1 1 1 1 1 1 1 1 1 1"/><feFuncG type="table" tableValues="0 0 0 0 0 0 0 0 0 0 0 0 0 0 0 0 0 0 0 0 0 0 0 0 0 0 0 0 0 0 0 0 0 0 0 0 0 0 0 0 0 0 0 0 0.025 0.076 0.127 0.178 0.248 0.33 0.412 0.493 0.575 0.678 0.786 0.893 1 0.993 0.986 0.98 0.973 0.966 0.96 0.958 0.956 0.953 0.951 0.949 0.947 0.944 0.942 0.941 0.941 0.941 0.941 0.941 0.941 0.941 0.941 0.941 0.941 0.941 0.948 0.957 0.966 0.975 0.985 0.994 1 1 1 1 1 0.995 0.974 0.952 0.931 0.91 0.888 0.867 0.839 0.809 0.779 0.749 0.719 0.689 0.659 0.626 0.59 0.555 0.52 0.484 0.449 0.413 0.379 0.346 0.314 0.281 0.248 0.216 0.183 0.153 0.131 0.109 0.087 0.065 0.044 0.022 0"/><feFuncB type="table" tableValues="0 0 0 0 0 0 0 0 0 0 0 0 0 0 0 0 0 0 0 0 0 0 0 0.109 0.29 0.472 0.653 0.834 0.873 0.875 0.877 0.88 0.882 0.885 0.887 0.89 0.892 0.896 0.903 0.91 0.917 0.924 0.931 0.938 0.949 0.964 0.979 0.994 1 1 1 1 1 1 1 1 1 0.956 0.911 0.867 0.823 0.779 0.735 0.694 0.654 0.613 0.572 0.531 0.49 0.449 0.408 0.37 0.334 0.298 0.262 0.226 0.19 0.154 0.117 0.081 0.045 0.009 0 0 0 0 0 0 0 0 0 0 0 0 0 0 0 0 0 0 0 0 0 0 0 0 0 0 0 0 0 0 0 0 0 0 0 0 0 0 0 0 0 0 0 0 0 0 0"/></feComponentTransfer></filter><linearGradient id="c159" x1="0" y1="0" x2="0" y2="1"><stop offset="0" stop-color="#909090"/><stop offset="0.06" stop-color="#a8a8a8"/><stop offset="0.12" stop-color="#b9b9b9"/><stop offset="0.17" stop-color="#cdcdcd"/><stop offset="0.2" stop-color="#d6d6d6"/><stop offset="0.35" stop-color="#dfdfdf"/><stop offset="0.5" stop-color="#e8e8e8"/><stop offset="0.55" stop-color="#eeeeee"/><stop offset="0.6" stop-color="#f7f7f7"/><stop offset="0.66" stop-color="#ffffff"/><stop offset="0.72" stop-color="#ffffff"/><stop offset="0.78" stop-color="#ffffff"/><stop offset="0.8" stop-color="#ffffff"/><stop offset="0.84" stop-color="#ffffff"/><stop offset="0.89" stop-color="#ffffff"/><stop offset="0.93" stop-color="#ffffff"/><stop offset="0.96" stop-color="#ffffff"/><stop offset="0.985" stop-color="#ffffff"/><stop offset="1" stop-color="#ffffff"/></linearGradient><linearGradient id="c160" x1="0" y1="0" x2="0" y2="1"><stop offset="0" stop-color="#5c5c5c"/><stop offset="0.06" stop-color="#656565"/><stop offset="0.12" stop-color="#6b6b6b"/><stop offset="0.17" stop-color="#757575"/><stop offset="0.2" stop-color="#797979"/><stop offset="0.35" stop-color="#7d7d7d"/><stop offset="0.5" stop-color="#818181"/><stop offset="0.55" stop-color="#848484"/><stop offset="0.6" stop-color="#888888"/><stop offset="0.66" stop-color="#8d8d8d"/><stop offset="0.72" stop-color="#939393"/><stop offset="0.78" stop-color="#a1a1a1"/><stop offset="0.8" stop-color="#a6a6a6"/><stop offset="0.84" stop-color="#b1b1b1"/><stop offset="0.89" stop-color="#bbbbbb"/><stop offset="0.93" stop-color="#c6c6c6"/><stop offset="0.96" stop-color="#dcdcdc"/><stop offset="0.985" stop-color="#ffffff"/><stop offset="1" stop-color="#ffffff"/></linearGradient><linearGradient id="c161" x1="0" y1="0" x2="0" y2="1"><stop offset="0" stop-color="#383838"/><stop offset="0.12" stop-color="#3b3b3b"/><stop offset="0.17" stop-color="#444444"/><stop offset="0.35" stop-color="#464646"/><stop offset="0.5" stop-color="#484848"/><stop offset="0.55" stop-color="#494949"/><stop offset="0.6" stop-color="#4e4e4e"/><stop offset="0.66" stop-color="#525252"/><stop offset="0.72" stop-color="#595959"/><stop offset="0.78" stop-color="#616161"/><stop offset="0.84" stop-color="#696969"/><stop offset="0.89" stop-color="#6e6e6e"/><stop offset="0.93" stop-color="#737373"/><stop offset="0.96" stop-color="#7e7e7e"/><stop offset="0.985" stop-color="#939393"/><stop offset="1" stop-color="#9b9b9b"/></linearGradient><linearGradient id="c162" x1="0" y1="0" x2="0" y2="1"><stop offset="0" stop-color="#373737"/><stop offset="0.12" stop-color="#383838"/><stop offset="0.17" stop-color="#3c3c3c"/><stop offset="0.35" stop-color="#3c3c3c"/><stop offset="0.5" stop-color="#3d3d3d"/><stop offset="0.55" stop-color="#3e3e3e"/><stop offset="0.6" stop-color="#404040"/><stop offset="0.66" stop-color="#414141"/><stop offset="0.72" stop-color="#444444"/><stop offset="0.78" stop-color="#474747"/><stop offset="0.84" stop-color="#4a4a4a"/><stop offset="0.89" stop-color="#4c4c4c"/><stop offset="0.93" stop-color="#4f4f4f"/><stop offset="0.96" stop-color="#535353"/><stop offset="0.985" stop-color="#5b5b5b"/><stop offset="1" stop-color="#5e5e5e"/></linearGradient><linearGradient id="c163" x1="0" y1="0" x2="0" y2="1"><stop offset="0" stop-color="#383838"/><stop offset="0.12" stop-color="#3c3c3c"/><stop offset="0.17" stop-color="#464646"/><stop offset="0.35" stop-color="#494949"/><stop offset="0.5" stop-color="#4b4b4b"/><stop offset="0.55" stop-color="#4d4d4d"/><stop offset="0.6" stop-color="#535353"/><stop offset="0.66" stop-color="#585858"/><stop offset="0.72" stop-color="#5f5f5f"/><stop offset="0.78" stop-color="#6a6a6a"/><stop offset="0.84" stop-color="#737373"/><stop offset="0.89" stop-color="#797979"/><stop offset="0.93" stop-color="#808080"/><stop offset="0.96" stop-color="#8c8c8c"/><stop offset="0.985" stop-color="#a5a5a5"/><stop offset="1" stop-color="#afafaf"/></linearGradient><linearGradient id="c164" x1="0" y1="0" x2="0" y2="1"><stop offset="0" stop-color="#3a3a3a"/><stop offset="0.12" stop-color="#404040"/><stop offset="0.17" stop-color="#515151"/><stop offset="0.35" stop-color="#565656"/><stop offset="0.5" stop-color="#5a5a5a"/><stop offset="0.55" stop-color="#5c5c5c"/><stop offset="0.6" stop-color="#666666"/><stop offset="0.66" stop-color="#6f6f6f"/><stop offset="0.72" stop-color="#7b7b7b"/><stop offset="0.78" stop-color="#8c8c8c"/><stop offset="0.84" stop-color="#9c9c9c"/><stop offset="0.89" stop-color="#a5a5a5"/><stop offset="0.93" stop-color="#b1b1b1"/><stop offset="0.96" stop-color="#c6c6c6"/><stop offset="0.985" stop-color="#f0f0f0"/><stop offset="1" stop-color="#ffffff"/></linearGradient><linearGradient id="c165" x1="0" y1="0" x2="0" y2="1"><stop offset="0" stop-color="#404040"/><stop offset="0.12" stop-color="#404040"/><stop offset="0.17" stop-color="#515151"/><stop offset="0.2" stop-color="#525252"/><stop offset="0.26" stop-color="#717171"/><stop offset="0.35" stop-color="#777777"/><stop offset="0.5" stop-color="#818181"/><stop offset="0.55" stop-color="#838383"/><stop offset="0.6" stop-color="#878787"/><stop offset="0.66" stop-color="#8b8b8b"/><stop offset="0.72" stop-color="#909090"/><stop offset="0.78" stop-color="#9f9f9f"/><stop offset="0.84" stop-color="#afafaf"/><stop offset="0.89" stop-color="#b9b9b9"/><stop offset="0.93" stop-color="#c5c5c5"/><stop offset="0.96" stop-color="#dadada"/><stop offset="0.985" stop-color="#ffffff"/><stop offset="1" stop-color="#ffffff"/></linearGradient><linearGradient id="c166" x1="0" y1="0" x2="0" y2="1"><stop offset="0" stop-color="#404040"/><stop offset="0.12" stop-color="#404040"/><stop offset="0.17" stop-color="#515151"/><stop offset="0.2" stop-color="#525252"/><stop offset="0.26" stop-color="#6e6e6e"/><stop offset="0.35" stop-color="#747474"/><stop offset="0.5" stop-color="#7d7d7d"/><stop offset="0.55" stop-color="#7f7f7f"/><stop offset="0.6" stop-color="#838383"/><stop offset="0.66" stop-color="#878787"/><stop offset="0.72" stop-color="#8d8d8d"/><stop offset="0.78" stop-color="#9e9e9e"/><stop offset="0.84" stop-color="#aeaeae"/><stop offset="0.89" stop-color="#b8b8b8"/><stop offset="0.93" stop-color="#c3c3c3"/><stop offset="0.96" stop-color="#d9d9d9"/><stop offset="0.985" stop-color="#ffffff"/><stop offset="1" stop-color="#ffffff"/></linearGradient><linearGradient id="c167" x1="0" y1="0" x2="0" y2="1"><stop offset="0" stop-color="#404040"/><stop offset="0.12" stop-color="#404040"/><stop offset="0.17" stop-color="#515151"/><stop offset="0.2" stop-color="#525252"/><stop offset="0.26" stop-color="#656565"/><stop offset="0.35" stop-color="#6a6a6a"/><stop offset="0.5" stop-color="#727272"/><stop offset="0.55" stop-color="#737373"/><stop offset="0.6" stop-color="#777777"/><stop offset="0.66" stop-color="#7c7c7c"/><stop offset="0.72" stop-color="#898989"/><stop offset="0.78" stop-color="#9a9a9a"/><stop offset="0.84" stop-color="#aaaaaa"/><stop offset="0.89" stop-color="#b4b4b4"/><stop offset="0.93" stop-color="#bfbfbf"/><stop offset="0.96" stop-color="#d5d5d5"/><stop offset="0.985" stop-color="#ffffff"/><stop offset="1" stop-color="#ffffff"/></linearGradient><linearGradient id="c168" x1="0" y1="0" x2="0" y2="1"><stop offset="0" stop-color="#404040"/><stop offset="0.12" stop-color="#404040"/><stop offset="0.17" stop-color="#515151"/><stop offset="0.2" stop-color="#525252"/><stop offset="0.26" stop-color="#5f5f5f"/><stop offset="0.35" stop-color="#636363"/><stop offset="0.5" stop-color="#6a6a6a"/><stop offset="0.55" stop-color="#6b6b6b"/><stop offset="0.6" stop-color="#717171"/><stop offset="0.66" stop-color="#7a7a7a"/><stop offset="0.72" stop-color="#868686"/><stop offset="0.78" stop-color="#989898"/><stop offset="0.84" stop-color="#a7a7a7"/><stop offset="0.89" stop-color="#b1b1b1"/><stop offset="0.93" stop-color="#bdbdbd"/><stop offset="0.96" stop-color="#d2d2d2"/><stop offset="0.985" stop-color="#fcfcfc"/><stop offset="1" stop-color="#ffffff"/></linearGradient><linearGradient id="c169" x1="0" y1="0" x2="0" y2="1"><stop offset="0" stop-color="#404040"/><stop offset="0.12" stop-color="#404040"/><stop offset="0.15" stop-color="#4a4a4a"/><stop offset="0.17" stop-color="#545454"/><stop offset="0.21" stop-color="#626262"/><stop offset="0.35" stop-color="#686868"/><stop offset="0.5" stop-color="#6e6e6e"/><stop offset="0.55" stop-color="#6f6f6f"/><stop offset="0.6" stop-color="#737373"/><stop offset="0.66" stop-color="#7b7b7b"/><stop offset="0.72" stop-color="#888888"/><stop offset="0.78" stop-color="#999999"/><stop offset="0.84" stop-color="#a9a9a9"/><stop offset="0.89" stop-color="#b2b2b2"/><stop offset="0.93" stop-color="#bebebe"/><stop offset="0.96" stop-color="#d3d3d3"/><stop offset="0.985" stop-color="#fdfdfd"/><stop offset="1" stop-color="#ffffff"/></linearGradient><linearGradient id="c170" x1="0" y1="0" x2="0" y2="1"><stop offset="0" stop-color="#404040"/><stop offset="0.12" stop-color="#404040"/><stop offset="0.17" stop-color="#515151"/><stop offset="0.2" stop-color="#525252"/><stop offset="0.26" stop-color="#686868"/><stop offset="0.35" stop-color="#6d6d6d"/><stop offset="0.5" stop-color="#757575"/><stop offset="0.55" stop-color="#777777"/><stop offset="0.6" stop-color="#7b7b7b"/><stop offset="0.66" stop-color="#7f7f7f"/><stop offset="0.72" stop-color="#8a8a8a"/><stop offset="0.78" stop-color="#9c9c9c"/><stop offset="0.84" stop-color="#ababab"/><stop offset="0.89" stop-color="#b5b5b5"/><stop offset="0.93" stop-color="#c1c1c1"/><stop offset="0.96" stop-color="#d6d6d6"/><stop offset="0.985" stop-color="#ffffff"/><stop offset="1" stop-color="#ffffff"/></linearGradient><linearGradient id="c171" x1="0" y1="0" x2="0" y2="1"><stop offset="0" stop-color="#404040"/><stop offset="0.12" stop-color="#404040"/><stop offset="0.17" stop-color="#515151"/><stop offset="0.2" stop-color="#525252"/><stop offset="0.26" stop-color="#626262"/><stop offset="0.35" stop-color="#676767"/><stop offset="0.5" stop-color="#6e6e6e"/><stop offset="0.55" stop-color="#6f6f6f"/><stop offset="0.6" stop-color="#737373"/><stop offset="0.66" stop-color="#7b7b7b"/><stop offset="0.72" stop-color="#888888"/><stop offset="0.78" stop-color="#999999"/><stop offset="0.84" stop-color="#a9a9a9"/><stop offset="0.89" stop-color="#b2b2b2"/><stop offset="0.93" stop-color="#bebebe"/><stop offset="0.96" stop-color="#d3d3d3"/><stop offset="0.985" stop-color="#fdfdfd"/><stop offset="1" stop-color="#ffffff"/></linearGradient><linearGradient id="c172" x1="0" y1="0" x2="0" y2="1"><stop offset="0" stop-color="#969696"/><stop offset="0.12" stop-color="#989898"/><stop offset="0.17" stop-color="#9d9d9d"/><stop offset="0.35" stop-color="#a1a1a1"/><stop offset="0.5" stop-color="#a5a5a5"/><stop offset="0.55" stop-color="#a6a6a6"/><stop offset="0.6" stop-color="#aaaaaa"/><stop offset="0.66" stop-color="#adadad"/><stop offset="0.72" stop-color="#b2b2b2"/><stop offset="0.78" stop-color="#b8b8b8"/><stop offset="0.84" stop-color="#bdbdbd"/><stop offset="0.89" stop-color="#c3c3c3"/><stop offset="0.93" stop-color="#cecece"/><stop offset="0.96" stop-color="#e4e4e4"/><stop offset="0.985" stop-color="#ffffff"/><stop offset="1" stop-color="#ffffff"/></linearGradient><linearGradient id="c173" x1="0" y1="0" x2="0" y2="1"><stop offset="0" stop-color="#404040"/><stop offset="0.12" stop-color="#404040"/><stop offset="0.17" stop-color="#515151"/><stop offset="0.3" stop-color="#545454"/><stop offset="0.35" stop-color="#636363"/><stop offset="0.36" stop-color="#696969"/><stop offset="0.5" stop-color="#757575"/><stop offset="0.55" stop-color="#777777"/><stop offset="0.6" stop-color="#7b7b7b"/><stop offset="0.66" stop-color="#7f7f7f"/><stop offset="0.72" stop-color="#8a8a8a"/><stop offset="0.78" stop-color="#9c9c9c"/><stop offset="0.84" stop-color="#ababab"/><stop offset="0.89" stop-color="#b5b5b5"/><stop offset="0.93" stop-color="#c1c1c1"/><stop offset="0.96" stop-color="#d6d6d6"/><stop offset="0.985" stop-color="#ffffff"/><stop offset="1" stop-color="#ffffff"/></linearGradient><linearGradient id="c174" x1="0" y1="0" x2="0" y2="1"><stop offset="0" stop-color="#b5b5b5"/><stop offset="0.12" stop-color="#b7b7b7"/><stop offset="0.17" stop-color="#bdbdbd"/><stop offset="0.35" stop-color="#c2c2c2"/><stop offset="0.5" stop-color="#c6c6c6"/><stop offset="0.55" stop-color="#c8c8c8"/><stop offset="0.6" stop-color="#cccccc"/><stop offset="0.66" stop-color="#d0d0d0"/><stop offset="0.72" stop-color="#d5d5d5"/><stop offset="0.78" stop-color="#dbdbdb"/><stop offset="0.84" stop-color="#e1e1e1"/><stop offset="0.89" stop-color="#e5e5e5"/><stop offset="0.93" stop-color="#e9e9e9"/><stop offset="0.96" stop-color="#f0f0f0"/><stop offset="0.985" stop-color="#ffffff"/><stop offset="1" stop-color="#ffffff"/></linearGradient><linearGradient id="c175" x1="0" y1="0" x2="0" y2="1"><stop offset="0" stop-color="#404040"/><stop offset="0.12" stop-color="#404040"/><stop offset="0.15" stop-color="#4a4a4a"/><stop offset="0.17" stop-color="#535353"/><stop offset="0.21" stop-color="#5c5c5c"/><stop offset="0.35" stop-color="#616161"/><stop offset="0.5" stop-color="#666666"/><stop offset="0.55" stop-color="#686868"/><stop offset="0.6" stop-color="#707070"/><stop offset="0.66" stop-color="#787878"/><stop offset="0.72" stop-color="#858585"/><stop offset="0.78" stop-color="#969696"/><stop offset="0.84" stop-color="#a6a6a6"/><stop offset="0.89" stop-color="#b0b0b0"/><stop offset="0.93" stop-color="#bbbbbb"/><stop offset="0.96" stop-color="#d0d0d0"/><stop offset="0.985" stop-color="#fbfbfb"/><stop offset="1" stop-color="#ffffff"/></linearGradient><linearGradient id="c176" x1="0" y1="0" x2="0" y2="1"><stop offset="0" stop-color="#404040"/><stop offset="0.12" stop-color="#404040"/><stop offset="0.15" stop-color="#4a4a4a"/><stop offset="0.17" stop-color="#555555"/><stop offset="0.21" stop-color="#6d6d6d"/><stop offset="0.35" stop-color="#757575"/><stop offset="0.5" stop-color="#7d7d7d"/><stop offset="0.55" stop-color="#7f7f7f"/><stop offset="0.6" stop-color="#838383"/><stop offset="0.66" stop-color="#878787"/><stop offset="0.72" stop-color="#8d8d8d"/><stop offset="0.78" stop-color="#9e9e9e"/><stop offset="0.84" stop-color="#aeaeae"/><stop offset="0.89" stop-color="#b8b8b8"/><stop offset="0.93" stop-color="#c3c3c3"/><stop offset="0.96" stop-color="#d9d9d9"/><stop offset="0.985" stop-color="#ffffff"/><stop offset="1" stop-color="#ffffff"/></linearGradient><linearGradient id="c177" x1="0" y1="0" x2="0" y2="1"><stop offset="0" stop-color="#404040"/><stop offset="0.1" stop-color="#404040"/><stop offset="0.12" stop-color="#484848"/><stop offset="0.16" stop-color="#5e5e5e"/><stop offset="0.17" stop-color="#5f5f5f"/><stop offset="0.35" stop-color="#656565"/><stop offset="0.5" stop-color="#6a6a6a"/><stop offset="0.55" stop-color="#6b6b6b"/><stop offset="0.6" stop-color="#717171"/><stop offset="0.66" stop-color="#7a7a7a"/><stop offset="0.72" stop-color="#868686"/><stop offset="0.78" stop-color="#989898"/><stop offset="0.84" stop-color="#a7a7a7"/><stop offset="0.89" stop-color="#b1b1b1"/><stop offset="0.93" stop-color="#bdbdbd"/><stop offset="0.96" stop-color="#d2d2d2"/><stop offset="0.985" stop-color="#fcfcfc"/><stop offset="1" stop-color="#ffffff"/></linearGradient><linearGradient id="c178" x1="0" y1="0" x2="0" y2="1"><stop offset="0" stop-color="#404040"/><stop offset="0.12" stop-color="#404040"/><stop offset="0.15" stop-color="#4a4a4a"/><stop offset="0.17" stop-color="#535353"/><stop offset="0.21" stop-color="#595959"/><stop offset="0.35" stop-color="#5e5e5e"/><stop offset="0.5" stop-color="#626262"/><stop offset="0.55" stop-color="#656565"/><stop offset="0.6" stop-color="#6e6e6e"/><stop offset="0.66" stop-color="#777777"/><stop offset="0.72" stop-color="#848484"/><stop offset="0.78" stop-color="#959595"/><stop offset="0.84" stop-color="#a5a5a5"/><stop offset="0.89" stop-color="#aeaeae"/><stop offset="0.93" stop-color="#bababa"/><stop offset="0.96" stop-color="#cfcfcf"/><stop offset="0.985" stop-color="#f9f9f9"/><stop offset="1" stop-color="#ffffff"/></linearGradient><linearGradient id="c179" x1="0" y1="0" x2="0" y2="1"><stop offset="0" stop-color="#404040"/><stop offset="0.1" stop-color="#404040"/><stop offset="0.12" stop-color="#454545"/><stop offset="0.16" stop-color="#525252"/><stop offset="0.17" stop-color="#555555"/><stop offset="0.35" stop-color="#5b5b5b"/><stop offset="0.5" stop-color="#5f5f5f"/><stop offset="0.55" stop-color="#626262"/><stop offset="0.6" stop-color="#6c6c6c"/><stop offset="0.66" stop-color="#757575"/><stop offset="0.72" stop-color="#818181"/><stop offset="0.78" stop-color="#939393"/><stop offset="0.84" stop-color="#a2a2a2"/><stop offset="0.89" stop-color="#acacac"/><stop offset="0.93" stop-color="#b7b7b7"/><stop offset="0.96" stop-color="#cccccc"/><stop offset="0.985" stop-color="#f7f7f7"/><stop offset="1" stop-color="#ffffff"/></linearGradient><linearGradient id="c180" x1="0" y1="0" x2="0" y2="1"><stop offset="0" stop-color="#404040"/><stop offset="0.1" stop-color="#404040"/><stop offset="0.12" stop-color="#474747"/><stop offset="0.16" stop-color="#5b5b5b"/><stop offset="0.17" stop-color="#5c5c5c"/><stop offset="0.35" stop-color="#626262"/><stop offset="0.5" stop-color="#666666"/><stop offset="0.55" stop-color="#686868"/><stop offset="0.6" stop-color="#707070"/><stop offset="0.66" stop-color="#787878"/><stop offset="0.72" stop-color="#858585"/><stop offset="0.78" stop-color="#969696"/><stop offset="0.84" stop-color="#a6a6a6"/><stop offset="0.89" stop-color="#b0b0b0"/><stop offset="0.93" stop-color="#bbbbbb"/><stop offset="0.96" stop-color="#d0d0d0"/><stop offset="0.985" stop-color="#fbfbfb"/><stop offset="1" stop-color="#ffffff"/></linearGradient><linearGradient id="c181" x1="0" y1="0" x2="0" y2="1"><stop offset="0" stop-color="#404040"/><stop offset="0.12" stop-color="#404040"/><stop offset="0.15" stop-color="#4a4a4a"/><stop offset="0.17" stop-color="#535353"/><stop offset="0.21" stop-color="#575757"/><stop offset="0.35" stop-color="#5c5c5c"/><stop offset="0.5" stop-color="#606060"/><stop offset="0.55" stop-color="#636363"/><stop offset="0.6" stop-color="#6d6d6d"/><stop offset="0.66" stop-color="#767676"/><stop offset="0.72" stop-color="#838383"/><stop offset="0.78" stop-color="#949494"/><stop offset="0.84" stop-color="#a3a3a3"/><stop offset="0.89" stop-color="#adadad"/><stop offset="0.93" stop-color="#b9b9b9"/><stop offset="0.96" stop-color="#cecece"/><stop offset="0.985" stop-color="#f8f8f8"/><stop offset="1" stop-color="#ffffff"/></linearGradient><linearGradient id="c182" x1="0" y1="0" x2="0" y2="1"><stop offset="0" stop-color="#404040"/><stop offset="0.1" stop-color="#404040"/><stop offset="0.12" stop-color="#464646"/><stop offset="0.16" stop-color="#585858"/><stop offset="0.17" stop-color="#595959"/><stop offset="0.35" stop-color="#5e5e5e"/><stop offset="0.5" stop-color="#626262"/><stop offset="0.55" stop-color="#656565"/><stop offset="0.6" stop-color="#6e6e6e"/><stop offset="0.66" stop-color="#777777"/><stop offset="0.72" stop-color="#848484"/><stop offset="0.78" stop-color="#959595"/><stop offset="0.84" stop-color="#a5a5a5"/><stop offset="0.89" stop-color="#aeaeae"/><stop offset="0.93" stop-color="#bababa"/><stop offset="0.96" stop-color="#cfcfcf"/><stop offset="0.985" stop-color="#f9f9f9"/><stop offset="1" stop-color="#ffffff"/></linearGradient><linearGradient id="c183" x1="0" y1="0" x2="0" y2="1"><stop offset="0" stop-color="#404040"/><stop offset="0.1" stop-color="#404040"/><stop offset="0.12" stop-color="#454545"/><stop offset="0.16" stop-color="#555555"/><stop offset="0.17" stop-color="#565656"/><stop offset="0.35" stop-color="#5c5c5c"/><stop offset="0.5" stop-color="#606060"/><stop offset="0.55" stop-color="#636363"/><stop offset="0.6" stop-color="#6d6d6d"/><stop offset="0.66" stop-color="#767676"/><stop offset="0.72" stop-color="#838383"/><stop offset="0.78" stop-color="#949494"/><stop offset="0.84" stop-color="#a3a3a3"/><stop offset="0.89" stop-color="#adadad"/><stop offset="0.93" stop-color="#b9b9b9"/><stop offset="0.96" stop-color="#cecece"/><stop offset="0.985" stop-color="#f8f8f8"/><stop offset="1" stop-color="#ffffff"/></linearGradient><linearGradient id="c184" x1="0" y1="0" x2="0" y2="1"><stop offset="0" stop-color="#404040"/><stop offset="0.12" stop-color="#404040"/><stop offset="0.17" stop-color="#515151"/><stop offset="0.2" stop-color="#525252"/><stop offset="0.26" stop-color="#5d5d5d"/><stop offset="0.35" stop-color="#606060"/><stop offset="0.5" stop-color="#666666"/><stop offset="0.55" stop-color="#686868"/><stop offset="0.6" stop-color="#707070"/><stop offset="0.66" stop-color="#787878"/><stop offset="0.72" stop-color="#858585"/><stop offset="0.78" stop-color="#969696"/><stop offset="0.84" stop-color="#a6a6a6"/><stop offset="0.89" stop-color="#b0b0b0"/><stop offset="0.93" stop-color="#bbbbbb"/><stop offset="0.96" stop-color="#d0d0d0"/><stop offset="0.985" stop-color="#fbfbfb"/><stop offset="1" stop-color="#ffffff"/></linearGradient><linearGradient id="c185" x1="0" y1="0" x2="0" y2="1"><stop offset="0" stop-color="#404040"/><stop offset="0.12" stop-color="#404040"/><stop offset="0.15" stop-color="#4a4a4a"/><stop offset="0.17" stop-color="#525252"/><stop offset="0.21" stop-color="#565656"/><stop offset="0.35" stop-color="#5b5b5b"/><stop offset="0.5" stop-color="#5f5f5f"/><stop offset="0.55" stop-color="#626262"/><stop offset="0.6" stop-color="#6c6c6c"/><stop offset="0.66" stop-color="#757575"/><stop offset="0.72" stop-color="#818181"/><stop offset="0.78" stop-color="#939393"/><stop offset="0.84" stop-color="#a2a2a2"/><stop offset="0.89" stop-color="#acacac"/><stop offset="0.93" stop-color="#b7b7b7"/><stop offset="0.96" stop-color="#cccccc"/><stop offset="0.985" stop-color="#f7f7f7"/><stop offset="1" stop-color="#ffffff"/></linearGradient><linearGradient id="c186" x1="0" y1="0" x2="0" y2="1"><stop offset="0" stop-color="#404040"/><stop offset="0.12" stop-color="#404040"/><stop offset="0.15" stop-color="#4a4a4a"/><stop offset="0.17" stop-color="#565656"/><stop offset="0.21" stop-color="#737373"/><stop offset="0.35" stop-color="#7c7c7c"/><stop offset="0.5" stop-color="#858585"/><stop offset="0.55" stop-color="#878787"/><stop offset="0.6" stop-color="#8b8b8b"/><stop offset="0.66" stop-color="#8f8f8f"/><stop offset="0.72" stop-color="#949494"/><stop offset="0.78" stop-color="#a1a1a1"/><stop offset="0.84" stop-color="#b0b0b0"/><stop offset="0.89" stop-color="#bababa"/><stop offset="0.93" stop-color="#c6c6c6"/><stop offset="0.96" stop-color="#dbdbdb"/><stop offset="0.985" stop-color="#ffffff"/><stop offset="1" stop-color="#ffffff"/></linearGradient><linearGradient id="c187" x1="0" y1="0" x2="0" y2="1"><stop offset="0" stop-color="#404040"/><stop offset="0.12" stop-color="#404040"/><stop offset="0.15" stop-color="#4a4a4a"/><stop offset="0.17" stop-color="#555555"/><stop offset="0.21" stop-color="#707070"/><stop offset="0.35" stop-color="#787878"/><stop offset="0.5" stop-color="#818181"/><stop offset="0.55" stop-color="#838383"/><stop offset="0.6" stop-color="#878787"/><stop offset="0.66" stop-color="#8b8b8b"/><stop offset="0.72" stop-color="#909090"/><stop offset="0.78" stop-color="#9f9f9f"/><stop offset="0.84" stop-color="#afafaf"/><stop offset="0.89" stop-color="#b9b9b9"/><stop offset="0.93" stop-color="#c5c5c5"/><stop offset="0.96" stop-color="#dadada"/><stop offset="0.985" stop-color="#ffffff"/><stop offset="1" stop-color="#ffffff"/></linearGradient><linearGradient id="c188" x1="0" y1="0" x2="0" y2="1"><stop offset="0" stop-color="#e5e5e5"/><stop offset="0.12" stop-color="#e8e8e8"/><stop offset="0.17" stop-color="#efefef"/><stop offset="0.35" stop-color="#f5f5f5"/><stop offset="0.5" stop-color="#fbfbfb"/><stop offset="0.55" stop-color="#fdfdfd"/><stop offset="0.6" stop-color="#ffffff"/><stop offset="0.66" stop-color="#ffffff"/><stop offset="0.72" stop-color="#ffffff"/><stop offset="0.78" stop-color="#ffffff"/><stop offset="0.84" stop-color="#ffffff"/><stop offset="0.89" stop-color="#ffffff"/><stop offset="0.93" stop-color="#ffffff"/><stop offset="0.96" stop-color="#ffffff"/><stop offset="0.985" stop-color="#ffffff"/><stop offset="1" stop-color="#ffffff"/></linearGradient><linearGradient id="c189" x1="0" y1="0" x2="0" y2="1"><stop offset="0" stop-color="#404040"/><stop offset="0.12" stop-color="#404040"/><stop offset="0.15" stop-color="#4a4a4a"/><stop offset="0.17" stop-color="#565656"/><stop offset="0.21" stop-color="#767676"/><stop offset="0.35" stop-color="#7f7f7f"/><stop offset="0.5" stop-color="#898989"/><stop offset="0.55" stop-color="#8b8b8b"/><stop offset="0.6" stop-color="#8f8f8f"/><stop offset="0.66" stop-color="#939393"/><stop offset="0.72" stop-color="#989898"/><stop offset="0.78" stop-color="#a2a2a2"/><stop offset="0.84" stop-color="#b2b2b2"/><stop offset="0.89" stop-color="#bcbcbc"/><stop offset="0.93" stop-color="#c7c7c7"/><stop offset="0.96" stop-color="#dddddd"/><stop offset="0.985" stop-color="#ffffff"/><stop offset="1" stop-color="#ffffff"/></linearGradient><linearGradient id="c190" x1="0" y1="0" x2="0" y2="1"><stop offset="0" stop-color="#404040"/><stop offset="0.12" stop-color="#404040"/><stop offset="0.15" stop-color="#4a4a4a"/><stop offset="0.17" stop-color="#545454"/><stop offset="0.21" stop-color="#5f5f5f"/><stop offset="0.35" stop-color="#646464"/><stop offset="0.5" stop-color="#6a6a6a"/><stop offset="0.55" stop-color="#6b6b6b"/><stop offset="0.6" stop-color="#717171"/><stop offset="0.66" stop-color="#7a7a7a"/><stop offset="0.72" stop-color="#868686"/><stop offset="0.78" stop-color="#989898"/><stop offset="0.84" stop-color="#a7a7a7"/><stop offset="0.89" stop-color="#b1b1b1"/><stop offset="0.93" stop-color="#bdbdbd"/><stop offset="0.96" stop-color="#d2d2d2"/><stop offset="0.985" stop-color="#fcfcfc"/><stop offset="1" stop-color="#ffffff"/></linearGradient><linearGradient id="c191" x1="0" y1="0" x2="0" y2="1"><stop offset="0" stop-color="#404040"/><stop offset="0.05" stop-color="#404040"/><stop offset="0.11" stop-color="#5b5b5b"/><stop offset="0.12" stop-color="#5c5c5c"/><stop offset="0.17" stop-color="#606060"/><stop offset="0.35" stop-color="#666666"/><stop offset="0.5" stop-color="#6a6a6a"/><stop offset="0.55" stop-color="#6d6d6d"/><stop offset="0.6" stop-color="#747474"/><stop offset="0.66" stop-color="#7e7e7e"/><stop offset="0.72" stop-color="#8c8c8c"/><stop offset="0.78" stop-color="#9d9d9d"/><stop offset="0.84" stop-color="#ababab"/><stop offset="0.89" stop-color="#b7b7b7"/><stop offset="0.93" stop-color="#cacaca"/><stop offset="0.96" stop-color="#f3f3f3"/><stop offset="0.985" stop-color="#ffffff"/><stop offset="1" stop-color="#ffffff"/></linearGradient><linearGradient id="c192" x1="0" y1="0" x2="0" y2="1"><stop offset="0" stop-color="#404040"/><stop offset="0.1" stop-color="#404040"/><stop offset="0.12" stop-color="#494949"/><stop offset="0.16" stop-color="#5c5c5c"/><stop offset="0.17" stop-color="#5c5c5c"/><stop offset="0.35" stop-color="#626262"/><stop offset="0.5" stop-color="#666666"/><stop offset="0.55" stop-color="#6a6a6a"/><stop offset="0.6" stop-color="#727272"/><stop offset="0.66" stop-color="#7c7c7c"/><stop offset="0.72" stop-color="#8b8b8b"/><stop offset="0.78" stop-color="#9b9b9b"/><stop offset="0.84" stop-color="#aaaaaa"/><stop offset="0.89" stop-color="#b5b5b5"/><stop offset="0.93" stop-color="#c9c9c9"/><stop offset="0.96" stop-color="#f1f1f1"/><stop offset="0.985" stop-color="#ffffff"/><stop offset="1" stop-color="#ffffff"/></linearGradient><linearGradient id="c193" x1="0" y1="0" x2="0" y2="1"><stop offset="0" stop-color="#404040"/><stop offset="0.05" stop-color="#404040"/><stop offset="0.11" stop-color="#5d5d5d"/><stop offset="0.12" stop-color="#5f5f5f"/><stop offset="0.17" stop-color="#636363"/><stop offset="0.35" stop-color="#696969"/><stop offset="0.5" stop-color="#6e6e6e"/><stop offset="0.55" stop-color="#707070"/><stop offset="0.6" stop-color="#757575"/><stop offset="0.66" stop-color="#7f7f7f"/><stop offset="0.72" stop-color="#8d8d8d"/><stop offset="0.78" stop-color="#9e9e9e"/><stop offset="0.84" stop-color="#acacac"/><stop offset="0.89" stop-color="#b8b8b8"/><stop offset="0.93" stop-color="#cccccc"/><stop offset="0.96" stop-color="#f4f4f4"/><stop offset="0.985" stop-color="#ffffff"/><stop offset="1" stop-color="#ffffff"/></linearGradient><linearGradient id="c194" x1="0" y1="0" x2="0" y2="1"><stop offset="0" stop-color="#404040"/><stop offset="0.12" stop-color="#464646"/><stop offset="0.17" stop-color="#515151"/><stop offset="0.2" stop-color="#525252"/><stop offset="0.26" stop-color="#656565"/><stop offset="0.35" stop-color="#6a6a6a"/><stop offset="0.5" stop-color="#727272"/><stop offset="0.55" stop-color="#747474"/><stop offset="0.6" stop-color="#787878"/><stop offset="0.66" stop-color="#808080"/><stop offset="0.72" stop-color="#8e8e8e"/><stop offset="0.78" stop-color="#9f9f9f"/><stop offset="0.84" stop-color="#aeaeae"/><stop offset="0.89" stop-color="#b9b9b9"/><stop offset="0.93" stop-color="#cdcdcd"/><stop offset="0.96" stop-color="#f5f5f5"/><stop offset="0.985" stop-color="#ffffff"/><stop offset="1" stop-color="#ffffff"/></linearGradient><linearGradient id="c195" x1="0" y1="0" x2="0" y2="1"><stop offset="0" stop-color="#404040"/><stop offset="0.1" stop-color="#404040"/><stop offset="0.12" stop-color="#4a4a4a"/><stop offset="0.16" stop-color="#5f5f5f"/><stop offset="0.17" stop-color="#5f5f5f"/><stop offset="0.35" stop-color="#656565"/><stop offset="0.5" stop-color="#6a6a6a"/><stop offset="0.55" stop-color="#6d6d6d"/><stop offset="0.6" stop-color="#747474"/><stop offset="0.66" stop-color="#7e7e7e"/><stop offset="0.72" stop-color="#8c8c8c"/><stop offset="0.78" stop-color="#9d9d9d"/><stop offset="0.84" stop-color="#ababab"/><stop offset="0.89" stop-color="#b7b7b7"/><stop offset="0.93" stop-color="#cacaca"/><stop offset="0.96" stop-color="#f3f3f3"/><stop offset="0.985" stop-color="#ffffff"/><stop offset="1" stop-color="#ffffff"/></linearGradient><linearGradient id="c196" x1="0" y1="0" x2="0" y2="1"><stop offset="0" stop-color="#404040"/><stop offset="0.12" stop-color="#464646"/><stop offset="0.17" stop-color="#515151"/><stop offset="0.2" stop-color="#525252"/><stop offset="0.26" stop-color="#606060"/><stop offset="0.35" stop-color="#646464"/><stop offset="0.5" stop-color="#6a6a6a"/><stop offset="0.55" stop-color="#6d6d6d"/><stop offset="0.6" stop-color="#747474"/><stop offset="0.66" stop-color="#7e7e7e"/><stop offset="0.72" stop-color="#8c8c8c"/><stop offset="0.78" stop-color="#9d9d9d"/><stop offset="0.84" stop-color="#ababab"/><stop offset="0.89" stop-color="#b7b7b7"/><stop offset="0.93" stop-color="#cacaca"/><stop offset="0.96" stop-color="#f3f3f3"/><stop offset="0.985" stop-color="#ffffff"/><stop offset="1" stop-color="#ffffff"/></linearGradient><linearGradient id="c197" x1="0" y1="0" x2="0" y2="1"><stop offset="0" stop-color="#404040"/><stop offset="0.1" stop-color="#404040"/><stop offset="0.12" stop-color="#555555"/><stop offset="0.16" stop-color="#7e7e7e"/><stop offset="0.17" stop-color="#7f7f7f"/><stop offset="0.35" stop-color="#8b8b8b"/><stop offset="0.5" stop-color="#949494"/><stop offset="0.55" stop-color="#989898"/><stop offset="0.6" stop-color="#9c9c9c"/><stop offset="0.66" stop-color="#a0a0a0"/><stop offset="0.72" stop-color="#a6a6a6"/><stop offset="0.78" stop-color="#adadad"/><stop offset="0.84" stop-color="#b9b9b9"/><stop offset="0.89" stop-color="#c5c5c5"/><stop offset="0.93" stop-color="#d9d9d9"/><stop offset="0.96" stop-color="#ffffff"/><stop offset="0.985" stop-color="#ffffff"/><stop offset="1" stop-color="#ffffff"/></linearGradient><linearGradient id="c198" x1="0" y1="0" x2="0" y2="1"><stop offset="0" stop-color="#404040"/><stop offset="0.1" stop-color="#404040"/><stop offset="0.12" stop-color="#525252"/><stop offset="0.16" stop-color="#767676"/><stop offset="0.17" stop-color="#767676"/><stop offset="0.35" stop-color="#808080"/><stop offset="0.5" stop-color="#898989"/><stop offset="0.55" stop-color="#8c8c8c"/><stop offset="0.6" stop-color="#909090"/><stop offset="0.66" stop-color="#949494"/><stop offset="0.72" stop-color="#9a9a9a"/><stop offset="0.78" stop-color="#a7a7a7"/><stop offset="0.84" stop-color="#b5b5b5"/><stop offset="0.89" stop-color="#c1c1c1"/><stop offset="0.93" stop-color="#d5d5d5"/><stop offset="0.96" stop-color="#fefefe"/><stop offset="0.985" stop-color="#ffffff"/><stop offset="1" stop-color="#ffffff"/></linearGradient><linearGradient id="c199" x1="0" y1="0" x2="0" y2="1"><stop offset="0" stop-color="#404040"/><stop offset="0.1" stop-color="#404040"/><stop offset="0.12" stop-color="#505050"/><stop offset="0.16" stop-color="#707070"/><stop offset="0.17" stop-color="#717171"/><stop offset="0.35" stop-color="#7a7a7a"/><stop offset="0.5" stop-color="#818181"/><stop offset="0.55" stop-color="#848484"/><stop offset="0.6" stop-color="#888888"/><stop offset="0.66" stop-color="#8c8c8c"/><stop offset="0.72" stop-color="#939393"/><stop offset="0.78" stop-color="#a4a4a4"/><stop offset="0.84" stop-color="#b3b3b3"/><stop offset="0.89" stop-color="#bfbfbf"/><stop offset="0.93" stop-color="#d2d2d2"/><stop offset="0.96" stop-color="#fbfbfb"/><stop offset="0.985" stop-color="#ffffff"/><stop offset="1" stop-color="#ffffff"/></linearGradient><linearGradient id="c200" x1="0" y1="0" x2="0" y2="1"><stop offset="0" stop-color="#404040"/><stop offset="0.1" stop-color="#404040"/><stop offset="0.12" stop-color="#565656"/><stop offset="0.16" stop-color="#818181"/><stop offset="0.17" stop-color="#828282"/><stop offset="0.35" stop-color="#8e8e8e"/><stop offset="0.5" stop-color="#989898"/><stop offset="0.55" stop-color="#9b9b9b"/><stop offset="0.6" stop-color="#a0a0a0"/><stop offset="0.66" stop-color="#a4a4a4"/><stop offset="0.72" stop-color="#ababab"/><stop offset="0.78" stop-color="#b2b2b2"/><stop offset="0.84" stop-color="#bbbbbb"/><stop offset="0.89" stop-color="#c7c7c7"/><stop offset="0.93" stop-color="#dbdbdb"/><stop offset="0.96" stop-color="#ffffff"/><stop offset="0.985" stop-color="#ffffff"/><stop offset="1" stop-color="#ffffff"/></linearGradient><linearGradient id="c201" x1="0" y1="0" x2="0" y2="1"><stop offset="0" stop-color="#404040"/><stop offset="0.1" stop-color="#404040"/><stop offset="0.12" stop-color="#4d4d4d"/><stop offset="0.16" stop-color="#676767"/><stop offset="0.17" stop-color="#686868"/><stop offset="0.35" stop-color="#6f6f6f"/><stop offset="0.5" stop-color="#767676"/><stop offset="0.55" stop-color="#787878"/><stop offset="0.6" stop-color="#7c7c7c"/><stop offset="0.66" stop-color="#818181"/><stop offset="0.72" stop-color="#909090"/><stop offset="0.78" stop-color="#a1a1a1"/><stop offset="0.84" stop-color="#afafaf"/><stop offset="0.89" stop-color="#bbbbbb"/><stop offset="0.93" stop-color="#cecece"/><stop offset="0.96" stop-color="#f7f7f7"/><stop offset="0.985" stop-color="#ffffff"/><stop offset="1" stop-color="#ffffff"/></linearGradient><linearGradient id="c202" x1="0" y1="0" x2="0" y2="1"><stop offset="0" stop-color="#404040"/><stop offset="0.1" stop-color="#404040"/><stop offset="0.12" stop-color="#4f4f4f"/><stop offset="0.16" stop-color="#6d6d6d"/><stop offset="0.17" stop-color="#6e6e6e"/><stop offset="0.35" stop-color="#767676"/><stop offset="0.5" stop-color="#7d7d7d"/><stop offset="0.55" stop-color="#808080"/><stop offset="0.6" stop-color="#848484"/><stop offset="0.66" stop-color="#888888"/><stop offset="0.72" stop-color="#929292"/><stop offset="0.78" stop-color="#a3a3a3"/><stop offset="0.84" stop-color="#b2b2b2"/><stop offset="0.89" stop-color="#bdbdbd"/><stop offset="0.93" stop-color="#d1d1d1"/><stop offset="0.96" stop-color="#f9f9f9"/><stop offset="0.985" stop-color="#ffffff"/><stop offset="1" stop-color="#ffffff"/></linearGradient><linearGradient id="c203" x1="0" y1="0" x2="0" y2="1"><stop offset="0" stop-color="#404040"/><stop offset="0.1" stop-color="#404040"/><stop offset="0.12" stop-color="#4e4e4e"/><stop offset="0.16" stop-color="#6a6a6a"/><stop offset="0.17" stop-color="#6b6b6b"/><stop offset="0.35" stop-color="#737373"/><stop offset="0.5" stop-color="#7a7a7a"/><stop offset="0.55" stop-color="#7c7c7c"/><stop offset="0.6" stop-color="#808080"/><stop offset="0.66" stop-color="#848484"/><stop offset="0.72" stop-color="#919191"/><stop offset="0.78" stop-color="#a2a2a2"/><stop offset="0.84" stop-color="#b0b0b0"/><stop offset="0.89" stop-color="#bcbcbc"/><stop offset="0.93" stop-color="#d0d0d0"/><stop offset="0.96" stop-color="#f8f8f8"/><stop offset="0.985" stop-color="#ffffff"/><stop offset="1" stop-color="#ffffff"/></linearGradient><linearGradient id="c204" x1="0" y1="0" x2="0" y2="1"><stop offset="0" stop-color="#404040"/><stop offset="0.05" stop-color="#404040"/><stop offset="0.11" stop-color="#838383"/><stop offset="0.12" stop-color="#848484"/><stop offset="0.17" stop-color="#8a8a8a"/><stop offset="0.35" stop-color="#969696"/><stop offset="0.5" stop-color="#a0a0a0"/><stop offset="0.55" stop-color="#a3a3a3"/><stop offset="0.6" stop-color="#a8a8a8"/><stop offset="0.66" stop-color="#adadad"/><stop offset="0.72" stop-color="#b3b3b3"/><stop offset="0.78" stop-color="#bababa"/><stop offset="0.84" stop-color="#c0c0c0"/><stop offset="0.89" stop-color="#c9c9c9"/><stop offset="0.93" stop-color="#dddddd"/><stop offset="0.96" stop-color="#ffffff"/><stop offset="0.985" stop-color="#ffffff"/><stop offset="1" stop-color="#ffffff"/></linearGradient><linearGradient id="c205" x1="0" y1="0" x2="0" y2="1"><stop offset="0" stop-color="#404040"/><stop offset="0.1" stop-color="#404040"/><stop offset="0.12" stop-color="#4b4b4b"/><stop offset="0.16" stop-color="#626262"/><stop offset="0.17" stop-color="#626262"/><stop offset="0.35" stop-color="#696969"/><stop offset="0.5" stop-color="#6e6e6e"/><stop offset="0.55" stop-color="#707070"/><stop offset="0.6" stop-color="#757575"/><stop offset="0.66" stop-color="#7f7f7f"/><stop offset="0.72" stop-color="#8d8d8d"/><stop offset="0.78" stop-color="#9e9e9e"/><stop offset="0.84" stop-color="#acacac"/><stop offset="0.89" stop-color="#b8b8b8"/><stop offset="0.93" stop-color="#cccccc"/><stop offset="0.96" stop-color="#f4f4f4"/><stop offset="0.985" stop-color="#ffffff"/><stop offset="1" stop-color="#ffffff"/></linearGradient><linearGradient id="c206" x1="0" y1="0" x2="0" y2="1"><stop offset="0" stop-color="#404040"/><stop offset="0.1" stop-color="#404040"/><stop offset="0.12" stop-color="#595959"/><stop offset="0.16" stop-color="#8a8a8a"/><stop offset="0.17" stop-color="#8b8b8b"/><stop offset="0.35" stop-color="#989898"/><stop offset="0.5" stop-color="#a4a4a4"/><stop offset="0.55" stop-color="#a7a7a7"/><stop offset="0.6" stop-color="#acacac"/><stop offset="0.66" stop-color="#b1b1b1"/><stop offset="0.72" stop-color="#b7b7b7"/><stop offset="0.78" stop-color="#bebebe"/><stop offset="0.84" stop-color="#c5c5c5"/><stop offset="0.89" stop-color="#cbcbcb"/><stop offset="0.93" stop-color="#dfdfdf"/><stop offset="0.96" stop-color="#ffffff"/><stop offset="0.985" stop-color="#ffffff"/><stop offset="1" stop-color="#ffffff"/></linearGradient><linearGradient id="c207" x1="0" y1="0" x2="0" y2="1"><stop offset="0" stop-color="#404040"/><stop offset="0.06" stop-color="#828282"/><stop offset="0.12" stop-color="#878787"/><stop offset="0.17" stop-color="#8d8d8d"/><stop offset="0.35" stop-color="#979797"/><stop offset="0.5" stop-color="#a0a0a0"/><stop offset="0.55" stop-color="#a3a3a3"/><stop offset="0.6" stop-color="#a8a8a8"/><stop offset="0.66" stop-color="#adadad"/><stop offset="0.72" stop-color="#b3b3b3"/><stop offset="0.78" stop-color="#bababa"/><stop offset="0.84" stop-color="#c0c0c0"/><stop offset="0.89" stop-color="#c9c9c9"/><stop offset="0.93" stop-color="#dddddd"/><stop offset="0.96" stop-color="#ffffff"/><stop offset="0.985" stop-color="#ffffff"/><stop offset="1" stop-color="#ffffff"/></linearGradient><linearGradient id="c208" x1="0" y1="0" x2="0" y2="1"><stop offset="0" stop-color="#404040"/><stop offset="0.05" stop-color="#404040"/><stop offset="0.11" stop-color="#7d7d7d"/><stop offset="0.12" stop-color="#7f7f7f"/><stop offset="0.17" stop-color="#848484"/><stop offset="0.35" stop-color="#8f8f8f"/><stop offset="0.5" stop-color="#989898"/><stop offset="0.55" stop-color="#9b9b9b"/><stop offset="0.6" stop-color="#a0a0a0"/><stop offset="0.66" stop-color="#a4a4a4"/><stop offset="0.72" stop-color="#ababab"/><stop offset="0.78" stop-color="#b2b2b2"/><stop offset="0.84" stop-color="#bbbbbb"/><stop offset="0.89" stop-color="#c7c7c7"/><stop offset="0.93" stop-color="#dbdbdb"/><stop offset="0.96" stop-color="#ffffff"/><stop offset="0.985" stop-color="#ffffff"/><stop offset="1" stop-color="#ffffff"/></linearGradient><linearGradient id="c209" x1="0" y1="0" x2="0" y2="1"><stop offset="0" stop-color="#757575"/><stop offset="0.06" stop-color="#858585"/><stop offset="0.12" stop-color="#939393"/><stop offset="0.17" stop-color="#a0a0a0"/><stop offset="0.2" stop-color="#a6a6a6"/><stop offset="0.35" stop-color="#acacac"/><stop offset="0.5" stop-color="#b3b3b3"/><stop offset="0.55" stop-color="#b8b8b8"/><stop offset="0.6" stop-color="#bebebe"/><stop offset="0.66" stop-color="#c6c6c6"/><stop offset="0.72" stop-color="#cecece"/><stop offset="0.78" stop-color="#d7d7d7"/><stop offset="0.8" stop-color="#dadada"/><stop offset="0.84" stop-color="#dfdfdf"/><stop offset="0.89" stop-color="#e5e5e5"/><stop offset="0.93" stop-color="#ededed"/><stop offset="0.96" stop-color="#ffffff"/><stop offset="0.985" stop-color="#ffffff"/><stop offset="1" stop-color="#ffffff"/></linearGradient><linearGradient id="c210" x1="0" y1="0" x2="0" y2="1"><stop offset="0" stop-color="#858585"/><stop offset="0.06" stop-color="#999999"/><stop offset="0.12" stop-color="#aaaaaa"/><stop offset="0.17" stop-color="#bababa"/><stop offset="0.2" stop-color="#c1c1c1"/><stop offset="0.35" stop-color="#c9c9c9"/><stop offset="0.5" stop-color="#d2d2d2"/><stop offset="0.55" stop-color="#d8d8d8"/><stop offset="0.6" stop-color="#dfdfdf"/><stop offset="0.66" stop-color="#e7e7e7"/><stop offset="0.72" stop-color="#f1f1f1"/><stop offset="0.78" stop-color="#fcfcfc"/><stop offset="0.8" stop-color="#ffffff"/><stop offset="0.84" stop-color="#ffffff"/><stop offset="0.89" stop-color="#ffffff"/><stop offset="0.93" stop-color="#ffffff"/><stop offset="0.96" stop-color="#ffffff"/><stop offset="0.985" stop-color="#ffffff"/><stop offset="1" stop-color="#ffffff"/></linearGradient><linearGradient id="c211" x1="0" y1="0" x2="0" y2="1"><stop offset="0" stop-color="#666666"/><stop offset="0.06" stop-color="#717171"/><stop offset="0.12" stop-color="#7c7c7c"/><stop offset="0.17" stop-color="#868686"/><stop offset="0.2" stop-color="#8a8a8a"/><stop offset="0.35" stop-color="#8f8f8f"/><stop offset="0.5" stop-color="#949494"/><stop offset="0.55" stop-color="#999999"/><stop offset="0.6" stop-color="#9e9e9e"/><stop offset="0.66" stop-color="#a4a4a4"/><stop offset="0.72" stop-color="#ababab"/><stop offset="0.78" stop-color="#b3b3b3"/><stop offset="0.8" stop-color="#b6b6b6"/><stop offset="0.84" stop-color="#bbbbbb"/><stop offset="0.89" stop-color="#c7c7c7"/><stop offset="0.93" stop-color="#dbdbdb"/><stop offset="0.96" stop-color="#ffffff"/><stop offset="0.985" stop-color="#ffffff"/><stop offset="1" stop-color="#ffffff"/></linearGradient><linearGradient id="c212" x1="0" y1="0" x2="0" y2="1"><stop offset="0" stop-color="#717171"/><stop offset="0.06" stop-color="#808080"/><stop offset="0.12" stop-color="#8d8d8d"/><stop offset="0.17" stop-color="#999999"/><stop offset="0.2" stop-color="#9f9f9f"/><stop offset="0.35" stop-color="#a5a5a5"/><stop offset="0.5" stop-color="#ababab"/><stop offset="0.55" stop-color="#b0b0b0"/><stop offset="0.6" stop-color="#b6b6b6"/><stop offset="0.66" stop-color="#bdbdbd"/><stop offset="0.72" stop-color="#c5c5c5"/><stop offset="0.78" stop-color="#cecece"/><stop offset="0.8" stop-color="#d1d1d1"/><stop offset="0.84" stop-color="#d6d6d6"/><stop offset="0.89" stop-color="#dcdcdc"/><stop offset="0.93" stop-color="#e4e4e4"/><stop offset="0.96" stop-color="#ffffff"/><stop offset="0.985" stop-color="#ffffff"/><stop offset="1" stop-color="#ffffff"/></linearGradient><linearGradient id="c213" x1="0" y1="0" x2="0" y2="1"><stop offset="0" stop-color="#737373"/><stop offset="0.06" stop-color="#838383"/><stop offset="0.12" stop-color="#909090"/><stop offset="0.17" stop-color="#9c9c9c"/><stop offset="0.2" stop-color="#a2a2a2"/><stop offset="0.35" stop-color="#a9a9a9"/><stop offset="0.5" stop-color="#afafaf"/><stop offset="0.55" stop-color="#b4b4b4"/><stop offset="0.6" stop-color="#bababa"/><stop offset="0.66" stop-color="#c1c1c1"/><stop offset="0.72" stop-color="#cacaca"/><stop offset="0.78" stop-color="#d3d3d3"/><stop offset="0.8" stop-color="#d6d6d6"/><stop offset="0.84" stop-color="#dadada"/><stop offset="0.89" stop-color="#e0e0e0"/><stop offset="0.93" stop-color="#e8e8e8"/><stop offset="0.96" stop-color="#ffffff"/><stop offset="0.985" stop-color="#ffffff"/><stop offset="1" stop-color="#ffffff"/></linearGradient><linearGradient id="c214" x1="0" y1="0" x2="0" y2="1"><stop offset="0" stop-color="#818181"/><stop offset="0.06" stop-color="#949494"/><stop offset="0.12" stop-color="#a4a4a4"/><stop offset="0.17" stop-color="#b3b3b3"/><stop offset="0.2" stop-color="#bababa"/><stop offset="0.35" stop-color="#c2c2c2"/><stop offset="0.5" stop-color="#cacaca"/><stop offset="0.55" stop-color="#d0d0d0"/><stop offset="0.6" stop-color="#d7d7d7"/><stop offset="0.66" stop-color="#dfdfdf"/><stop offset="0.72" stop-color="#e8e8e8"/><stop offset="0.78" stop-color="#f3f3f3"/><stop offset="0.8" stop-color="#f6f6f6"/><stop offset="0.84" stop-color="#fbfbfb"/><stop offset="0.89" stop-color="#ffffff"/><stop offset="0.93" stop-color="#ffffff"/><stop offset="0.96" stop-color="#ffffff"/><stop offset="0.985" stop-color="#ffffff"/><stop offset="1" stop-color="#ffffff"/></linearGradient><linearGradient id="c215" x1="0" y1="0" x2="0" y2="1"><stop offset="0" stop-color="#777777"/><stop offset="0.06" stop-color="#888888"/><stop offset="0.12" stop-color="#969696"/><stop offset="0.17" stop-color="#a3a3a3"/><stop offset="0.2" stop-color="#a9a9a9"/><stop offset="0.35" stop-color="#b0b0b0"/><stop offset="0.5" stop-color="#b7b7b7"/><stop offset="0.55" stop-color="#bcbcbc"/><stop offset="0.6" stop-color="#c2c2c2"/><stop offset="0.66" stop-color="#cacaca"/><stop offset="0.72" stop-color="#d2d2d2"/><stop offset="0.78" stop-color="#dcdcdc"/><stop offset="0.8" stop-color="#dfdfdf"/><stop offset="0.84" stop-color="#e4e4e4"/><stop offset="0.89" stop-color="#eaeaea"/><stop offset="0.93" stop-color="#f2f2f2"/><stop offset="0.96" stop-color="#ffffff"/><stop offset="0.985" stop-color="#ffffff"/><stop offset="1" stop-color="#ffffff"/></linearGradient><linearGradient id="c216" x1="0" y1="0" x2="0" y2="1"><stop offset="0" stop-color="#383838"/><stop offset="0.12" stop-color="#383838"/><stop offset="0.14" stop-color="#383838"/><stop offset="0.17" stop-color="#3c3c3c"/><stop offset="0.2" stop-color="#404040"/><stop offset="0.35" stop-color="#404040"/><stop offset="0.5" stop-color="#414141"/><stop offset="0.55" stop-color="#414141"/><stop offset="0.6" stop-color="#545454"/><stop offset="0.66" stop-color="#666666"/><stop offset="0.72" stop-color="#717171"/><stop offset="0.78" stop-color="#808080"/><stop offset="0.84" stop-color="#8d8d8d"/><stop offset="0.89" stop-color="#959595"/><stop offset="0.93" stop-color="#9f9f9f"/><stop offset="0.96" stop-color="#b7b7b7"/><stop offset="0.975" stop-color="#d9d9d9"/><stop offset="0.985" stop-color="#e9e9e9"/><stop offset="1" stop-color="#ffffff"/></linearGradient><linearGradient id="c217" x1="0" y1="0" x2="0" y2="1"><stop offset="0" stop-color="#383838"/><stop offset="0.12" stop-color="#3a3a3a"/><stop offset="0.17" stop-color="#414141"/><stop offset="0.35" stop-color="#434343"/><stop offset="0.5" stop-color="#444444"/><stop offset="0.55" stop-color="#454545"/><stop offset="0.6" stop-color="#494949"/><stop offset="0.66" stop-color="#4d4d4d"/><stop offset="0.72" stop-color="#525252"/><stop offset="0.78" stop-color="#595959"/><stop offset="0.84" stop-color="#5f5f5f"/><stop offset="0.89" stop-color="#636363"/><stop offset="0.93" stop-color="#676767"/><stop offset="0.96" stop-color="#707070"/><stop offset="0.985" stop-color="#808080"/><stop offset="1" stop-color="#878787"/></linearGradient><linearGradient id="c218" x1="0" y1="0" x2="0" y2="1"><stop offset="0" stop-color="#737373"/><stop offset="0.12" stop-color="#747474"/><stop offset="0.17" stop-color="#7a7a7a"/><stop offset="0.35" stop-color="#7d7d7d"/><stop offset="0.5" stop-color="#7f7f7f"/><stop offset="0.55" stop-color="#818181"/><stop offset="0.6" stop-color="#848484"/><stop offset="0.66" stop-color="#878787"/><stop offset="0.72" stop-color="#8c8c8c"/><stop offset="0.78" stop-color="#9e9e9e"/><stop offset="0.84" stop-color="#adadad"/><stop offset="0.89" stop-color="#b7b7b7"/><stop offset="0.93" stop-color="#c2c2c2"/><stop offset="0.96" stop-color="#d8d8d8"/><stop offset="0.985" stop-color="#ffffff"/><stop offset="1" stop-color="#ffffff"/></linearGradient><linearGradient id="c219" x1="0" y1="0" x2="0" y2="1"><stop offset="0" stop-color="#888888"/><stop offset="0.06" stop-color="#9e9e9e"/><stop offset="0.12" stop-color="#aeaeae"/><stop offset="0.17" stop-color="#c0c0c0"/><stop offset="0.2" stop-color="#c8c8c8"/><stop offset="0.35" stop-color="#d0d0d0"/><stop offset="0.5" stop-color="#d9d9d9"/><stop offset="0.55" stop-color="#dfdfdf"/><stop offset="0.6" stop-color="#e6e6e6"/><stop offset="0.66" stop-color="#efefef"/><stop offset="0.72" stop-color="#f8f8f8"/><stop offset="0.78" stop-color="#ffffff"/><stop offset="0.8" stop-color="#ffffff"/><stop offset="0.84" stop-color="#ffffff"/><stop offset="0.89" stop-color="#ffffff"/><stop offset="0.93" stop-color="#ffffff"/><stop offset="0.96" stop-color="#ffffff"/><stop offset="0.985" stop-color="#ffffff"/><stop offset="1" stop-color="#ffffff"/></linearGradient><linearGradient id="c220" x1="0" y1="0" x2="0" y2="1"><stop offset="0" stop-color="#6a6a6a"/><stop offset="0.06" stop-color="#767676"/><stop offset="0.12" stop-color="#7f7f7f"/><stop offset="0.17" stop-color="#8c8c8c"/><stop offset="0.2" stop-color="#919191"/><stop offset="0.35" stop-color="#969696"/><stop offset="0.5" stop-color="#9c9c9c"/><stop offset="0.55" stop-color="#9f9f9f"/><stop offset="0.6" stop-color="#a5a5a5"/><stop offset="0.66" stop-color="#ababab"/><stop offset="0.72" stop-color="#b2b2b2"/><stop offset="0.78" stop-color="#bbbbbb"/><stop offset="0.8" stop-color="#bdbdbd"/><stop offset="0.84" stop-color="#c2c2c2"/><stop offset="0.89" stop-color="#c7c7c7"/><stop offset="0.93" stop-color="#d1d1d1"/><stop offset="0.96" stop-color="#e6e6e6"/><stop offset="0.985" stop-color="#ffffff"/><stop offset="1" stop-color="#ffffff"/></linearGradient><linearGradient id="c221" x1="0" y1="0" x2="0" y2="1"><stop offset="0" stop-color="#949494"/><stop offset="0.06" stop-color="#adadad"/><stop offset="0.12" stop-color="#bfbfbf"/><stop offset="0.17" stop-color="#d3d3d3"/><stop offset="0.2" stop-color="#dddddd"/><stop offset="0.35" stop-color="#e6e6e6"/><stop offset="0.5" stop-color="#f0f0f0"/><stop offset="0.55" stop-color="#f6f6f6"/><stop offset="0.6" stop-color="#ffffff"/><stop offset="0.66" stop-color="#ffffff"/><stop offset="0.72" stop-color="#ffffff"/><stop offset="0.78" stop-color="#ffffff"/><stop offset="0.8" stop-color="#ffffff"/><stop offset="0.84" stop-color="#ffffff"/><stop offset="0.89" stop-color="#ffffff"/><stop offset="0.93" stop-color="#ffffff"/><stop offset="0.96" stop-color="#ffffff"/><stop offset="0.985" stop-color="#ffffff"/><stop offset="1" stop-color="#ffffff"/></linearGradient><linearGradient id="c222" x1="0" y1="0" x2="0" y2="1"><stop offset="0" stop-color="#929292"/><stop offset="0.06" stop-color="#ababab"/><stop offset="0.12" stop-color="#bcbcbc"/><stop offset="0.17" stop-color="#d0d0d0"/><stop offset="0.2" stop-color="#d9d9d9"/><stop offset="0.35" stop-color="#e3e3e3"/><stop offset="0.5" stop-color="#ececec"/><stop offset="0.55" stop-color="#f2f2f2"/><stop offset="0.6" stop-color="#fbfbfb"/><stop offset="0.66" stop-color="#ffffff"/><stop offset="0.72" stop-color="#ffffff"/><stop offset="0.78" stop-color="#ffffff"/><stop offset="0.8" stop-color="#ffffff"/><stop offset="0.84" stop-color="#ffffff"/><stop offset="0.89" stop-color="#ffffff"/><stop offset="0.93" stop-color="#ffffff"/><stop offset="0.96" stop-color="#ffffff"/><stop offset="0.985" stop-color="#ffffff"/><stop offset="1" stop-color="#ffffff"/></linearGradient><linearGradient id="c223" x1="0" y1="0" x2="0" y2="1"><stop offset="0" stop-color="#717171"/><stop offset="0.06" stop-color="#808080"/><stop offset="0.12" stop-color="#8b8b8b"/><stop offset="0.17" stop-color="#999999"/><stop offset="0.2" stop-color="#9f9f9f"/><stop offset="0.35" stop-color="#a5a5a5"/><stop offset="0.5" stop-color="#ababab"/><stop offset="0.55" stop-color="#afafaf"/><stop offset="0.6" stop-color="#b5b5b5"/><stop offset="0.66" stop-color="#bcbcbc"/><stop offset="0.72" stop-color="#c4c4c4"/><stop offset="0.78" stop-color="#cdcdcd"/><stop offset="0.8" stop-color="#d0d0d0"/><stop offset="0.84" stop-color="#d5d5d5"/><stop offset="0.89" stop-color="#dadada"/><stop offset="0.93" stop-color="#dfdfdf"/><stop offset="0.96" stop-color="#ececec"/><stop offset="0.985" stop-color="#ffffff"/><stop offset="1" stop-color="#ffffff"/></linearGradient><linearGradient id="c224" x1="0" y1="0" x2="0" y2="1"><stop offset="0" stop-color="#6c6c6c"/><stop offset="0.06" stop-color="#797979"/><stop offset="0.12" stop-color="#828282"/><stop offset="0.17" stop-color="#8f8f8f"/><stop offset="0.2" stop-color="#949494"/><stop offset="0.35" stop-color="#9a9a9a"/><stop offset="0.5" stop-color="#9f9f9f"/><stop offset="0.55" stop-color="#a3a3a3"/><stop offset="0.6" stop-color="#a9a9a9"/><stop offset="0.66" stop-color="#afafaf"/><stop offset="0.72" stop-color="#b6b6b6"/><stop offset="0.78" stop-color="#bfbfbf"/><stop offset="0.8" stop-color="#c2c2c2"/><stop offset="0.84" stop-color="#c7c7c7"/><stop offset="0.89" stop-color="#cccccc"/><stop offset="0.93" stop-color="#d2d2d2"/><stop offset="0.96" stop-color="#e7e7e7"/><stop offset="0.985" stop-color="#ffffff"/><stop offset="1" stop-color="#ffffff"/></linearGradient><linearGradient id="c225" x1="0" y1="0" x2="0" y2="1"><stop offset="0" stop-color="#707070"/><stop offset="0.06" stop-color="#7e7e7e"/><stop offset="0.12" stop-color="#888888"/><stop offset="0.17" stop-color="#969696"/><stop offset="0.2" stop-color="#9b9b9b"/><stop offset="0.35" stop-color="#a1a1a1"/><stop offset="0.5" stop-color="#a7a7a7"/><stop offset="0.55" stop-color="#ababab"/><stop offset="0.6" stop-color="#b1b1b1"/><stop offset="0.66" stop-color="#b8b8b8"/><stop offset="0.72" stop-color="#bfbfbf"/><stop offset="0.78" stop-color="#c8c8c8"/><stop offset="0.8" stop-color="#cbcbcb"/><stop offset="0.84" stop-color="#d0d0d0"/><stop offset="0.89" stop-color="#d5d5d5"/><stop offset="0.93" stop-color="#dbdbdb"/><stop offset="0.96" stop-color="#eaeaea"/><stop offset="0.985" stop-color="#ffffff"/><stop offset="1" stop-color="#ffffff"/></linearGradient><linearGradient id="c226" x1="0" y1="0" x2="0" y2="1"><stop offset="0" stop-color="#737373"/><stop offset="0.06" stop-color="#838383"/><stop offset="0.12" stop-color="#8e8e8e"/><stop offset="0.17" stop-color="#9c9c9c"/><stop offset="0.2" stop-color="#a2a2a2"/><stop offset="0.35" stop-color="#a8a8a8"/><stop offset="0.5" stop-color="#afafaf"/><stop offset="0.55" stop-color="#b3b3b3"/><stop offset="0.6" stop-color="#b9b9b9"/><stop offset="0.66" stop-color="#c0c0c0"/><stop offset="0.72" stop-color="#c8c8c8"/><stop offset="0.78" stop-color="#d1d1d1"/><stop offset="0.8" stop-color="#d4d4d4"/><stop offset="0.84" stop-color="#d9d9d9"/><stop offset="0.89" stop-color="#dfdfdf"/><stop offset="0.93" stop-color="#e4e4e4"/><stop offset="0.96" stop-color="#ededed"/><stop offset="0.985" stop-color="#ffffff"/><stop offset="1" stop-color="#ffffff"/></linearGradient><linearGradient id="c227" x1="0" y1="0" x2="0" y2="1"><stop offset="0" stop-color="#dedede"/><stop offset="0.12" stop-color="#e1e1e1"/><stop offset="0.17" stop-color="#e8e8e8"/><stop offset="0.35" stop-color="#eeeeee"/><stop offset="0.5" stop-color="#f3f3f3"/><stop offset="0.55" stop-color="#f5f5f5"/><stop offset="0.6" stop-color="#f9f9f9"/><stop offset="0.66" stop-color="#fefefe"/><stop offset="0.72" stop-color="#ffffff"/><stop offset="0.78" stop-color="#ffffff"/><stop offset="0.84" stop-color="#ffffff"/><stop offset="0.89" stop-color="#ffffff"/><stop offset="0.93" stop-color="#ffffff"/><stop offset="0.96" stop-color="#ffffff"/><stop offset="0.985" stop-color="#ffffff"/><stop offset="1" stop-color="#ffffff"/></linearGradient><linearGradient id="c228" x1="0" y1="0" x2="0" y2="1"><stop offset="0" stop-color="#e8e8e8"/><stop offset="0.12" stop-color="#ececec"/><stop offset="0.17" stop-color="#f2f2f2"/><stop offset="0.35" stop-color="#f9f9f9"/><stop offset="0.5" stop-color="#fefefe"/><stop offset="0.55" stop-color="#ffffff"/><stop offset="0.6" stop-color="#ffffff"/><stop offset="0.66" stop-color="#ffffff"/><stop offset="0.72" stop-color="#ffffff"/><stop offset="0.78" stop-color="#ffffff"/><stop offset="0.84" stop-color="#ffffff"/><stop offset="0.89" stop-color="#ffffff"/><stop offset="0.93" stop-color="#ffffff"/><stop offset="0.96" stop-color="#ffffff"/><stop offset="0.985" stop-color="#ffffff"/><stop offset="1" stop-color="#ffffff"/></linearGradient><linearGradient id="c229" x1="0" y1="0" x2="0" y2="1"><stop offset="0" stop-color="#e2e2e2"/><stop offset="0.12" stop-color="#e5e5e5"/><stop offset="0.17" stop-color="#ebebeb"/><stop offset="0.35" stop-color="#f2f2f2"/><stop offset="0.5" stop-color="#f7f7f7"/><stop offset="0.55" stop-color="#f9f9f9"/><stop offset="0.6" stop-color="#fdfdfd"/><stop offset="0.66" stop-color="#ffffff"/><stop offset="0.72" stop-color="#ffffff"/><stop offset="0.78" stop-color="#ffffff"/><stop offset="0.84" stop-color="#ffffff"/><stop offset="0.89" stop-color="#ffffff"/><stop offset="0.93" stop-color="#ffffff"/><stop offset="0.96" stop-color="#ffffff"/><stop offset="0.985" stop-color="#ffffff"/><stop offset="1" stop-color="#ffffff"/></linearGradient><linearGradient id="c230" x1="0" y1="0" x2="0" y2="1"><stop offset="0" stop-color="#373737"/><stop offset="0.12" stop-color="#393939"/><stop offset="0.17" stop-color="#3d3d3d"/><stop offset="0.35" stop-color="#3e3e3e"/><stop offset="0.5" stop-color="#3f3f3f"/><stop offset="0.55" stop-color="#404040"/><stop offset="0.6" stop-color="#424242"/><stop offset="0.66" stop-color="#444444"/><stop offset="0.72" stop-color="#474747"/><stop offset="0.78" stop-color="#4c4c4c"/><stop offset="0.84" stop-color="#505050"/><stop offset="0.89" stop-color="#525252"/><stop offset="0.93" stop-color="#555555"/><stop offset="0.96" stop-color="#5a5a5a"/><stop offset="0.985" stop-color="#656565"/><stop offset="1" stop-color="#686868"/></linearGradient><linearGradient id="c231" x1="0" y1="0" x2="0" y2="1"><stop offset="0" stop-color="#383838"/><stop offset="0.12" stop-color="#3a3a3a"/><stop offset="0.17" stop-color="#424242"/><stop offset="0.35" stop-color="#444444"/><stop offset="0.5" stop-color="#464646"/><stop offset="0.55" stop-color="#474747"/><stop offset="0.6" stop-color="#4c4c4c"/><stop offset="0.66" stop-color="#505050"/><stop offset="0.72" stop-color="#555555"/><stop offset="0.78" stop-color="#5d5d5d"/><stop offset="0.84" stop-color="#646464"/><stop offset="0.89" stop-color="#686868"/><stop offset="0.93" stop-color="#6d6d6d"/><stop offset="0.96" stop-color="#777777"/><stop offset="0.985" stop-color="#8a8a8a"/><stop offset="1" stop-color="#919191"/></linearGradient><linearGradient id="c232" x1="0" y1="0" x2="0" y2="1"><stop offset="0" stop-color="#393939"/><stop offset="0.12" stop-color="#3d3d3d"/><stop offset="0.17" stop-color="#4a4a4a"/><stop offset="0.35" stop-color="#4e4e4e"/><stop offset="0.5" stop-color="#515151"/><stop offset="0.55" stop-color="#535353"/><stop offset="0.6" stop-color="#5a5a5a"/><stop offset="0.66" stop-color="#616161"/><stop offset="0.72" stop-color="#6a6a6a"/><stop offset="0.78" stop-color="#777777"/><stop offset="0.84" stop-color="#828282"/><stop offset="0.89" stop-color="#898989"/><stop offset="0.93" stop-color="#929292"/><stop offset="0.96" stop-color="#a2a2a2"/><stop offset="0.985" stop-color="#c1c1c1"/><stop offset="1" stop-color="#cdcdcd"/></linearGradient><linearGradient id="c233" x1="0" y1="0" x2="0" y2="1"><stop offset="0" stop-color="#3b3b3b"/><stop offset="0.12" stop-color="#494949"/><stop offset="0.17" stop-color="#525252"/><stop offset="0.35" stop-color="#565656"/><stop offset="0.5" stop-color="#5b5b5b"/><stop offset="0.55" stop-color="#616161"/><stop offset="0.6" stop-color="#6a6a6a"/><stop offset="0.66" stop-color="#747474"/><stop offset="0.72" stop-color="#828282"/><stop offset="0.78" stop-color="#939393"/><stop offset="0.84" stop-color="#a1a1a1"/><stop offset="0.89" stop-color="#adadad"/><stop offset="0.93" stop-color="#c3c3c3"/><stop offset="0.96" stop-color="#f1f1f1"/><stop offset="0.985" stop-color="#ffffff"/><stop offset="1" stop-color="#ffffff"/></linearGradient><linearGradient id="c234" x1="0" y1="0" x2="0" y2="1"><stop offset="0" stop-color="#404040"/><stop offset="0.12" stop-color="#494949"/><stop offset="0.17" stop-color="#525252"/><stop offset="0.2" stop-color="#525252"/><stop offset="0.26" stop-color="#717171"/><stop offset="0.35" stop-color="#777777"/><stop offset="0.5" stop-color="#818181"/><stop offset="0.55" stop-color="#848484"/><stop offset="0.6" stop-color="#888888"/><stop offset="0.66" stop-color="#8c8c8c"/><stop offset="0.72" stop-color="#959595"/><stop offset="0.78" stop-color="#a6a6a6"/><stop offset="0.84" stop-color="#b4b4b4"/><stop offset="0.89" stop-color="#c0c0c0"/><stop offset="0.93" stop-color="#d7d7d7"/><stop offset="0.96" stop-color="#ffffff"/><stop offset="0.985" stop-color="#ffffff"/><stop offset="1" stop-color="#ffffff"/></linearGradient><linearGradient id="c235" x1="0" y1="0" x2="0" y2="1"><stop offset="0" stop-color="#404040"/><stop offset="0.12" stop-color="#494949"/><stop offset="0.17" stop-color="#525252"/><stop offset="0.2" stop-color="#525252"/><stop offset="0.26" stop-color="#6b6b6b"/><stop offset="0.35" stop-color="#717171"/><stop offset="0.5" stop-color="#7a7a7a"/><stop offset="0.55" stop-color="#7d7d7d"/><stop offset="0.6" stop-color="#808080"/><stop offset="0.66" stop-color="#848484"/><stop offset="0.72" stop-color="#939393"/><stop offset="0.78" stop-color="#a3a3a3"/><stop offset="0.84" stop-color="#b1b1b1"/><stop offset="0.89" stop-color="#bebebe"/><stop offset="0.93" stop-color="#d4d4d4"/><stop offset="0.96" stop-color="#ffffff"/><stop offset="0.985" stop-color="#ffffff"/><stop offset="1" stop-color="#ffffff"/></linearGradient><linearGradient id="c236" x1="0" y1="0" x2="0" y2="1"><stop offset="0" stop-color="#404040"/><stop offset="0.12" stop-color="#494949"/><stop offset="0.17" stop-color="#525252"/><stop offset="0.2" stop-color="#525252"/><stop offset="0.26" stop-color="#686868"/><stop offset="0.35" stop-color="#6d6d6d"/><stop offset="0.5" stop-color="#767676"/><stop offset="0.55" stop-color="#797979"/><stop offset="0.6" stop-color="#7c7c7c"/><stop offset="0.66" stop-color="#838383"/><stop offset="0.72" stop-color="#919191"/><stop offset="0.78" stop-color="#a2a2a2"/><stop offset="0.84" stop-color="#b0b0b0"/><stop offset="0.89" stop-color="#bcbcbc"/><stop offset="0.93" stop-color="#d3d3d3"/><stop offset="0.96" stop-color="#ffffff"/><stop offset="0.985" stop-color="#ffffff"/><stop offset="1" stop-color="#ffffff"/></linearGradient><linearGradient id="c237" x1="0" y1="0" x2="0" y2="1"><stop offset="0" stop-color="#404040"/><stop offset="0.12" stop-color="#494949"/><stop offset="0.17" stop-color="#525252"/><stop offset="0.2" stop-color="#525252"/><stop offset="0.26" stop-color="#656565"/><stop offset="0.35" stop-color="#6a6a6a"/><stop offset="0.5" stop-color="#727272"/><stop offset="0.55" stop-color="#757575"/><stop offset="0.6" stop-color="#787878"/><stop offset="0.66" stop-color="#818181"/><stop offset="0.72" stop-color="#909090"/><stop offset="0.78" stop-color="#a1a1a1"/><stop offset="0.84" stop-color="#afafaf"/><stop offset="0.89" stop-color="#bbbbbb"/><stop offset="0.93" stop-color="#d2d2d2"/><stop offset="0.96" stop-color="#ffffff"/><stop offset="0.985" stop-color="#ffffff"/><stop offset="1" stop-color="#ffffff"/></linearGradient><linearGradient id="c238" x1="0" y1="0" x2="0" y2="1"><stop offset="0" stop-color="#a0a0a0"/><stop offset="0.12" stop-color="#a5a5a5"/><stop offset="0.17" stop-color="#a8a8a8"/><stop offset="0.35" stop-color="#adadad"/><stop offset="0.5" stop-color="#b0b0b0"/><stop offset="0.55" stop-color="#b3b3b3"/><stop offset="0.6" stop-color="#b6b6b6"/><stop offset="0.66" stop-color="#bababa"/><stop offset="0.72" stop-color="#c0c0c0"/><stop offset="0.78" stop-color="#c6c6c6"/><stop offset="0.84" stop-color="#cbcbcb"/><stop offset="0.89" stop-color="#cfcfcf"/><stop offset="0.93" stop-color="#e4e4e4"/><stop offset="0.96" stop-color="#ffffff"/><stop offset="0.985" stop-color="#ffffff"/><stop offset="1" stop-color="#ffffff"/></linearGradient><linearGradient id="c239" x1="0" y1="0" x2="0" y2="1"><stop offset="0" stop-color="#404040"/><stop offset="0.12" stop-color="#494949"/><stop offset="0.17" stop-color="#525252"/><stop offset="0.2" stop-color="#525252"/><stop offset="0.26" stop-color="#777777"/><stop offset="0.35" stop-color="#7d7d7d"/><stop offset="0.5" stop-color="#898989"/><stop offset="0.55" stop-color="#8c8c8c"/><stop offset="0.6" stop-color="#909090"/><stop offset="0.66" stop-color="#959595"/><stop offset="0.72" stop-color="#9b9b9b"/><stop offset="0.78" stop-color="#a9a9a9"/><stop offset="0.84" stop-color="#b7b7b7"/><stop offset="0.89" stop-color="#c3c3c3"/><stop offset="0.93" stop-color="#dadada"/><stop offset="0.96" stop-color="#ffffff"/><stop offset="0.985" stop-color="#ffffff"/><stop offset="1" stop-color="#ffffff"/></linearGradient><linearGradient id="c240" x1="0" y1="0" x2="0" y2="1"><stop offset="0" stop-color="#404040"/><stop offset="0.12" stop-color="#494949"/><stop offset="0.15" stop-color="#515151"/><stop offset="0.17" stop-color="#555555"/><stop offset="0.21" stop-color="#626262"/><stop offset="0.35" stop-color="#686868"/><stop offset="0.5" stop-color="#6e6e6e"/><stop offset="0.55" stop-color="#717171"/><stop offset="0.6" stop-color="#767676"/><stop offset="0.66" stop-color="#808080"/><stop offset="0.72" stop-color="#8f8f8f"/><stop offset="0.78" stop-color="#a0a0a0"/><stop offset="0.84" stop-color="#aeaeae"/><stop offset="0.89" stop-color="#bababa"/><stop offset="0.93" stop-color="#d0d0d0"/><stop offset="0.96" stop-color="#fefefe"/><stop offset="0.985" stop-color="#ffffff"/><stop offset="1" stop-color="#ffffff"/></linearGradient><linearGradient id="c241" x1="0" y1="0" x2="0" y2="1"><stop offset="0" stop-color="#404040"/><stop offset="0.12" stop-color="#494949"/><stop offset="0.17" stop-color="#525252"/><stop offset="0.2" stop-color="#525252"/><stop offset="0.26" stop-color="#747474"/><stop offset="0.35" stop-color="#7a7a7a"/><stop offset="0.5" stop-color="#858585"/><stop offset="0.55" stop-color="#888888"/><stop offset="0.6" stop-color="#8c8c8c"/><stop offset="0.66" stop-color="#919191"/><stop offset="0.72" stop-color="#969696"/><stop offset="0.78" stop-color="#a7a7a7"/><stop offset="0.84" stop-color="#b5b5b5"/><stop offset="0.89" stop-color="#c2c2c2"/><stop offset="0.93" stop-color="#d8d8d8"/><stop offset="0.96" stop-color="#ffffff"/><stop offset="0.985" stop-color="#ffffff"/><stop offset="1" stop-color="#ffffff"/></linearGradient><linearGradient id="c242" x1="0" y1="0" x2="0" y2="1"><stop offset="0" stop-color="#404040"/><stop offset="0.12" stop-color="#494949"/><stop offset="0.17" stop-color="#525252"/><stop offset="0.25" stop-color="#545454"/><stop offset="0.31" stop-color="#6c6c6c"/><stop offset="0.35" stop-color="#6e6e6e"/><stop offset="0.5" stop-color="#7a7a7a"/><stop offset="0.55" stop-color="#7d7d7d"/><stop offset="0.6" stop-color="#808080"/><stop offset="0.66" stop-color="#848484"/><stop offset="0.72" stop-color="#939393"/><stop offset="0.78" stop-color="#a3a3a3"/><stop offset="0.84" stop-color="#b1b1b1"/><stop offset="0.89" stop-color="#bebebe"/><stop offset="0.93" stop-color="#d4d4d4"/><stop offset="0.96" stop-color="#ffffff"/><stop offset="0.985" stop-color="#ffffff"/><stop offset="1" stop-color="#ffffff"/></linearGradient><linearGradient id="c243" x1="0" y1="0" x2="0" y2="1"><stop offset="0" stop-color="#404040"/><stop offset="0.12" stop-color="#494949"/><stop offset="0.17" stop-color="#525252"/><stop offset="0.2" stop-color="#525252"/><stop offset="0.26" stop-color="#636363"/><stop offset="0.35" stop-color="#676767"/><stop offset="0.5" stop-color="#6e6e6e"/><stop offset="0.55" stop-color="#717171"/><stop offset="0.6" stop-color="#767676"/><stop offset="0.66" stop-color="#808080"/><stop offset="0.72" stop-color="#8f8f8f"/><stop offset="0.78" stop-color="#a0a0a0"/><stop offset="0.84" stop-color="#aeaeae"/><stop offset="0.89" stop-color="#bababa"/><stop offset="0.93" stop-color="#d0d0d0"/><stop offset="0.96" stop-color="#fefefe"/><stop offset="0.985" stop-color="#ffffff"/><stop offset="1" stop-color="#ffffff"/></linearGradient><linearGradient id="c244" x1="0" y1="0" x2="0" y2="1"><stop offset="0" stop-color="#404040"/><stop offset="0.12" stop-color="#494949"/><stop offset="0.17" stop-color="#525252"/><stop offset="0.2" stop-color="#525252"/><stop offset="0.26" stop-color="#5d5d5d"/><stop offset="0.35" stop-color="#606060"/><stop offset="0.5" stop-color="#676767"/><stop offset="0.55" stop-color="#6b6b6b"/><stop offset="0.6" stop-color="#737373"/><stop offset="0.66" stop-color="#7e7e7e"/><stop offset="0.72" stop-color="#8c8c8c"/><stop offset="0.78" stop-color="#9d9d9d"/><stop offset="0.84" stop-color="#ababab"/><stop offset="0.89" stop-color="#b7b7b7"/><stop offset="0.93" stop-color="#cecece"/><stop offset="0.96" stop-color="#fcfcfc"/><stop offset="0.985" stop-color="#ffffff"/><stop offset="1" stop-color="#ffffff"/></linearGradient><linearGradient id="c245" x1="0" y1="0" x2="0" y2="1"><stop offset="0" stop-color="#404040"/><stop offset="0.12" stop-color="#494949"/><stop offset="0.17" stop-color="#525252"/><stop offset="0.2" stop-color="#525252"/><stop offset="0.26" stop-color="#6e6e6e"/><stop offset="0.35" stop-color="#747474"/><stop offset="0.5" stop-color="#7d7d7d"/><stop offset="0.55" stop-color="#808080"/><stop offset="0.6" stop-color="#848484"/><stop offset="0.66" stop-color="#888888"/><stop offset="0.72" stop-color="#949494"/><stop offset="0.78" stop-color="#a5a5a5"/><stop offset="0.84" stop-color="#b3b3b3"/><stop offset="0.89" stop-color="#bfbfbf"/><stop offset="0.93" stop-color="#d6d6d6"/><stop offset="0.96" stop-color="#ffffff"/><stop offset="0.985" stop-color="#ffffff"/><stop offset="1" stop-color="#ffffff"/></linearGradient><linearGradient id="c246" x1="0" y1="0" x2="0" y2="1"><stop offset="0" stop-color="#404040"/><stop offset="0.12" stop-color="#494949"/><stop offset="0.15" stop-color="#515151"/><stop offset="0.17" stop-color="#555555"/><stop offset="0.21" stop-color="#656565"/><stop offset="0.35" stop-color="#6b6b6b"/><stop offset="0.5" stop-color="#727272"/><stop offset="0.55" stop-color="#757575"/><stop offset="0.6" stop-color="#787878"/><stop offset="0.66" stop-color="#818181"/><stop offset="0.72" stop-color="#909090"/><stop offset="0.78" stop-color="#a1a1a1"/><stop offset="0.84" stop-color="#afafaf"/><stop offset="0.89" stop-color="#bbbbbb"/><stop offset="0.93" stop-color="#d2d2d2"/><stop offset="0.96" stop-color="#ffffff"/><stop offset="0.985" stop-color="#ffffff"/><stop offset="1" stop-color="#ffffff"/></linearGradient><linearGradient id="c247" x1="0" y1="0" x2="0" y2="1"><stop offset="0" stop-color="#404040"/><stop offset="0.12" stop-color="#494949"/><stop offset="0.17" stop-color="#525252"/><stop offset="0.2" stop-color="#525252"/><stop offset="0.26" stop-color="#606060"/><stop offset="0.35" stop-color="#646464"/><stop offset="0.5" stop-color="#6a6a6a"/><stop offset="0.55" stop-color="#6d6d6d"/><stop offset="0.6" stop-color="#747474"/><stop offset="0.66" stop-color="#7f7f7f"/><stop offset="0.72" stop-color="#8e8e8e"/><stop offset="0.78" stop-color="#9e9e9e"/><stop offset="0.84" stop-color="#acacac"/><stop offset="0.89" stop-color="#b9b9b9"/><stop offset="0.93" stop-color="#cfcfcf"/><stop offset="0.96" stop-color="#fdfdfd"/><stop offset="0.985" stop-color="#ffffff"/><stop offset="1" stop-color="#ffffff"/></linearGradient><linearGradient id="c248" x1="0" y1="0" x2="0" y2="1"><stop offset="0" stop-color="#3d3d3d"/><stop offset="0.12" stop-color="#515151"/><stop offset="0.17" stop-color="#535353"/><stop offset="0.35" stop-color="#575757"/><stop offset="0.5" stop-color="#5f5f5f"/><stop offset="0.55" stop-color="#686868"/><stop offset="0.6" stop-color="#707070"/><stop offset="0.66" stop-color="#7c7c7c"/><stop offset="0.72" stop-color="#8e8e8e"/><stop offset="0.78" stop-color="#9d9d9d"/><stop offset="0.84" stop-color="#a9a9a9"/><stop offset="0.89" stop-color="#c2c2c2"/><stop offset="0.93" stop-color="#fafafa"/><stop offset="0.96" stop-color="#ffffff"/><stop offset="0.985" stop-color="#ffffff"/><stop offset="1" stop-color="#ffffff"/></linearGradient><linearGradient id="c249" x1="0" y1="0" x2="0" y2="1"><stop offset="0" stop-color="#404040"/><stop offset="0.12" stop-color="#515151"/><stop offset="0.17" stop-color="#535353"/><stop offset="0.2" stop-color="#535353"/><stop offset="0.26" stop-color="#7a7a7a"/><stop offset="0.35" stop-color="#818181"/><stop offset="0.5" stop-color="#8e8e8e"/><stop offset="0.55" stop-color="#929292"/><stop offset="0.6" stop-color="#969696"/><stop offset="0.66" stop-color="#9b9b9b"/><stop offset="0.72" stop-color="#a4a4a4"/><stop offset="0.78" stop-color="#b3b3b3"/><stop offset="0.84" stop-color="#c1c1c1"/><stop offset="0.89" stop-color="#dadada"/><stop offset="0.93" stop-color="#ffffff"/><stop offset="0.96" stop-color="#ffffff"/><stop offset="0.985" stop-color="#ffffff"/><stop offset="1" stop-color="#ffffff"/></linearGradient><linearGradient id="c250" x1="0" y1="0" x2="0" y2="1"><stop offset="0" stop-color="#404040"/><stop offset="0.12" stop-color="#515151"/><stop offset="0.17" stop-color="#535353"/><stop offset="0.2" stop-color="#535353"/><stop offset="0.26" stop-color="#808080"/><stop offset="0.35" stop-color="#878787"/><stop offset="0.5" stop-color="#969696"/><stop offset="0.55" stop-color="#9a9a9a"/><stop offset="0.6" stop-color="#9e9e9e"/><stop offset="0.66" stop-color="#a3a3a3"/><stop offset="0.72" stop-color="#aaaaaa"/><stop offset="0.78" stop-color="#b6b6b6"/><stop offset="0.84" stop-color="#c3c3c3"/><stop offset="0.89" stop-color="#dddddd"/><stop offset="0.93" stop-color="#ffffff"/><stop offset="0.96" stop-color="#ffffff"/><stop offset="0.985" stop-color="#ffffff"/><stop offset="1" stop-color="#ffffff"/></linearGradient><linearGradient id="c251" x1="0" y1="0" x2="0" y2="1"><stop offset="0" stop-color="#b5b5b5"/><stop offset="0.12" stop-color="#bcbcbc"/><stop offset="0.17" stop-color="#bebebe"/><stop offset="0.35" stop-color="#c3c3c3"/><stop offset="0.5" stop-color="#c8c8c8"/><stop offset="0.55" stop-color="#cccccc"/><stop offset="0.6" stop-color="#cfcfcf"/><stop offset="0.66" stop-color="#d4d4d4"/><stop offset="0.72" stop-color="#dadada"/><stop offset="0.78" stop-color="#e0e0e0"/><stop offset="0.84" stop-color="#e5e5e5"/><stop offset="0.89" stop-color="#ededed"/><stop offset="0.93" stop-color="#ffffff"/><stop offset="0.96" stop-color="#ffffff"/><stop offset="0.985" stop-color="#ffffff"/><stop offset="1" stop-color="#ffffff"/></linearGradient><linearGradient id="c252" x1="0" y1="0" x2="0" y2="1"><stop offset="0" stop-color="#bcbcbc"/><stop offset="0.12" stop-color="#c3c3c3"/><stop offset="0.17" stop-color="#c5c5c5"/><stop offset="0.35" stop-color="#cacaca"/><stop offset="0.5" stop-color="#cfcfcf"/><stop offset="0.55" stop-color="#d3d3d3"/><stop offset="0.6" stop-color="#d6d6d6"/><stop offset="0.66" stop-color="#dcdcdc"/><stop offset="0.72" stop-color="#e2e2e2"/><stop offset="0.78" stop-color="#e8e8e8"/><stop offset="0.84" stop-color="#ededed"/><stop offset="0.89" stop-color="#f5f5f5"/><stop offset="0.93" stop-color="#ffffff"/><stop offset="0.96" stop-color="#ffffff"/><stop offset="0.985" stop-color="#ffffff"/><stop offset="1" stop-color="#ffffff"/></linearGradient><linearGradient id="c253" x1="0" y1="0" x2="0" y2="1"><stop offset="0" stop-color="#404040"/><stop offset="0.12" stop-color="#515151"/><stop offset="0.17" stop-color="#535353"/><stop offset="0.2" stop-color="#535353"/><stop offset="0.26" stop-color="#666666"/><stop offset="0.35" stop-color="#6a6a6a"/><stop offset="0.5" stop-color="#737373"/><stop offset="0.55" stop-color="#777777"/><stop offset="0.6" stop-color="#7d7d7d"/><stop offset="0.66" stop-color="#8a8a8a"/><stop offset="0.72" stop-color="#9b9b9b"/><stop offset="0.78" stop-color="#ababab"/><stop offset="0.84" stop-color="#b8b8b8"/><stop offset="0.89" stop-color="#d1d1d1"/><stop offset="0.93" stop-color="#ffffff"/><stop offset="0.96" stop-color="#ffffff"/><stop offset="0.985" stop-color="#ffffff"/><stop offset="1" stop-color="#ffffff"/></linearGradient><linearGradient id="c254" x1="0" y1="0" x2="0" y2="1"><stop offset="0" stop-color="#404040"/><stop offset="0.12" stop-color="#515151"/><stop offset="0.17" stop-color="#535353"/><stop offset="0.2" stop-color="#535353"/><stop offset="0.26" stop-color="#5d5d5d"/><stop offset="0.35" stop-color="#616161"/><stop offset="0.5" stop-color="#686868"/><stop offset="0.55" stop-color="#727272"/><stop offset="0.6" stop-color="#797979"/><stop offset="0.66" stop-color="#868686"/><stop offset="0.72" stop-color="#989898"/><stop offset="0.78" stop-color="#a7a7a7"/><stop offset="0.84" stop-color="#b4b4b4"/><stop offset="0.89" stop-color="#cdcdcd"/><stop offset="0.93" stop-color="#ffffff"/><stop offset="0.96" stop-color="#ffffff"/><stop offset="0.985" stop-color="#ffffff"/><stop offset="1" stop-color="#ffffff"/></linearGradient><linearGradient id="c255" x1="0" y1="0" x2="0" y2="1"><stop offset="0" stop-color="#404040"/><stop offset="0.12" stop-color="#515151"/><stop offset="0.17" stop-color="#535353"/><stop offset="0.25" stop-color="#555555"/><stop offset="0.31" stop-color="#5d5d5d"/><stop offset="0.35" stop-color="#5f5f5f"/><stop offset="0.5" stop-color="#686868"/><stop offset="0.55" stop-color="#727272"/><stop offset="0.6" stop-color="#797979"/><stop offset="0.66" stop-color="#868686"/><stop offset="0.72" stop-color="#989898"/><stop offset="0.78" stop-color="#a7a7a7"/><stop offset="0.84" stop-color="#b4b4b4"/><stop offset="0.89" stop-color="#cdcdcd"/><stop offset="0.93" stop-color="#ffffff"/><stop offset="0.96" stop-color="#ffffff"/><stop offset="0.985" stop-color="#ffffff"/><stop offset="1" stop-color="#ffffff"/></linearGradient><linearGradient id="c256" x1="0" y1="0" x2="0" y2="1"><stop offset="0" stop-color="#404040"/><stop offset="0.12" stop-color="#515151"/><stop offset="0.17" stop-color="#535353"/><stop offset="0.25" stop-color="#555555"/><stop offset="0.31" stop-color="#606060"/><stop offset="0.35" stop-color="#626262"/><stop offset="0.5" stop-color="#6c6c6c"/><stop offset="0.55" stop-color="#737373"/><stop offset="0.6" stop-color="#7a7a7a"/><stop offset="0.66" stop-color="#878787"/><stop offset="0.72" stop-color="#999999"/><stop offset="0.78" stop-color="#a8a8a8"/><stop offset="0.84" stop-color="#b5b5b5"/><stop offset="0.89" stop-color="#cecece"/><stop offset="0.93" stop-color="#ffffff"/><stop offset="0.96" stop-color="#ffffff"/><stop offset="0.985" stop-color="#ffffff"/><stop offset="1" stop-color="#ffffff"/></linearGradient><linearGradient id="bb0" x1="0" y1="0" x2="0" y2="1"><stop offset="0.000" stop-color="#4e4e4e"/><stop offset="0.201" stop-color="#555555"/><stop offset="0.377" stop-color="#5c5c5c"/><stop offset="0.526" stop-color="#666666"/><stop offset="0.649" stop-color="#707070"/><stop offset="0.727" stop-color="#888888"/><stop offset="0.786" stop-color="#9f9f9f"/><stop offset="0.825" stop-color="#afafaf"/><stop offset="0.851" stop-color="#bcbcbc"/><stop offset="0.879" stop-color="#d5d5d5"/><stop offset="0.901" stop-color="#f0f0f0"/><stop offset="0.922" stop-color="#ffffff"/><stop offset="1.000" stop-color="#ffffff"/></linearGradient><filter id="f4" filterUnits="userSpaceOnUse" x="81" y="364" width="420" height="77" color-interpolation-filters="sRGB"><feTurbulence type="fractalNoise" baseFrequency="0.83 0.55" numOctaves="2" seed="14"/><feColorMatrix type="matrix" values="1 0 0 0 0 1 0 0 0 0 1 0 0 0 0 0 0 0 0 1"/><feComponentTransfer result="nz"><feFuncR type="table" tableValues="0.411 0.434 0.456 0.477 0.497 0.517 0.537 0.555 0.573 0.591 0.608 0.624 0.640 0.655 0.670 0.684 0.698 0.712 0.725 0.738 0.750 0.762 0.774 0.785 0.796 0.807 0.817 0.828 0.837 0.847 0.857 0.866 0.875 0.884 0.892 0.900 0.909 0.917 0.924 0.932 0.940"/><feFuncG type="table" tableValues="0.411 0.434 0.456 0.477 0.497 0.517 0.537 0.555 0.573 0.591 0.608 0.624 0.640 0.655 0.670 0.684 0.698 0.712 0.725 0.738 0.750 0.762 0.774 0.785 0.796 0.807 0.817 0.828 0.837 0.847 0.857 0.866 0.875 0.884 0.892 0.900 0.909 0.917 0.924 0.932 0.940"/><feFuncB type="table" tableValues="0.411 0.434 0.456 0.477 0.497 0.517 0.537 0.555 0.573 0.591 0.608 0.624 0.640 0.655 0.670 0.684 0.698 0.712 0.725 0.738 0.750 0.762 0.774 0.785 0.796 0.807 0.817 0.828 0.837 0.847 0.857 0.866 0.875 0.884 0.892 0.900 0.909 0.917 0.924 0.932 0.940"/></feComponentTransfer><feComponentTransfer in="SourceGraphic" result="amp"><feFuncR type="table" tableValues="0.8 0.8 0.8 0.8 0.8 0.8 0.8 0.8 0.8 0.8 0.8 0.8 0.8 0.8 0.8 0.8 0.8 0.867 1.024 1.104 1.113 1.122 1.131 1.139 1.148 1.157 1.165 1.174 1.183 1.192 1.2 1.209 1.218 1.226 1.235 1.244 1.247 1.237 1.227 1.218 1.208 1.198 1.188 1.178 1.169 1.159 1.149 1.139 1.129 1.12 1.11 1.1"/><feFuncG type="table" tableValues="0.8 0.8 0.8 0.8 0.8 0.8 0.8 0.8 0.8 0.8 0.8 0.8 0.8 0.8 0.8 0.8 0.8 0.867 1.024 1.104 1.113 1.122 1.131 1.139 1.148 1.157 1.165 1.174 1.183 1.192 1.2 1.209 1.218 1.226 1.235 1.244 1.247 1.237 1.227 1.218 1.208 1.198 1.188 1.178 1.169 1.159 1.149 1.139 1.129 1.12 1.11 1.1"/><feFuncB type="table" tableValues="0.8 0.8 0.8 0.8 0.8 0.8 0.8 0.8 0.8 0.8 0.8 0.8 0.8 0.8 0.8 0.8 0.8 0.867 1.024 1.104 1.113 1.122 1.131 1.139 1.148 1.157 1.165 1.174 1.183 1.192 1.2 1.209 1.218 1.226 1.235 1.244 1.247 1.237 1.227 1.218 1.208 1.198 1.188 1.178 1.169 1.159 1.149 1.139 1.129 1.12 1.11 1.1"/></feComponentTransfer><feComponentTransfer in="SourceGraphic" result="iamp"><feFuncR type="table" tableValues="0.2 0.2 0.2 0.2 0.2 0.2 0.2 0.2 0.2 0.2 0.2 0.2 0.2 0.2 0.2 0.2 0.2 0.133 -0.024 -0.104 -0.113 -0.122 -0.131 -0.139 -0.148 -0.157 -0.165 -0.174 -0.183 -0.192 -0.2 -0.209 -0.218 -0.226 -0.235 -0.244 -0.247 -0.237 -0.227 -0.218 -0.208 -0.198 -0.188 -0.178 -0.169 -0.159 -0.149 -0.139 -0.129 -0.12 -0.11 -0.1"/><feFuncG type="table" tableValues="0.2 0.2 0.2 0.2 0.2 0.2 0.2 0.2 0.2 0.2 0.2 0.2 0.2 0.2 0.2 0.2 0.2 0.133 -0.024 -0.104 -0.113 -0.122 -0.131 -0.139 -0.148 -0.157 -0.165 -0.174 -0.183 -0.192 -0.2 -0.209 -0.218 -0.226 -0.235 -0.244 -0.247 -0.237 -0.227 -0.218 -0.208 -0.198 -0.188 -0.178 -0.169 -0.159 -0.149 -0.139 -0.129 -0.12 -0.11 -0.1"/><feFuncB type="table" tableValues="0.2 0.2 0.2 0.2 0.2 0.2 0.2 0.2 0.2 0.2 0.2 0.2 0.2 0.2 0.2 0.2 0.2 0.133 -0.024 -0.104 -0.113 -0.122 -0.131 -0.139 -0.148 -0.157 -0.165 -0.174 -0.183 -0.192 -0.2 -0.209 -0.218 -0.226 -0.235 -0.244 -0.247 -0.237 -0.227 -0.218 -0.208 -0.198 -0.188 -0.178 -0.169 -0.159 -0.149 -0.139 -0.129 -0.12 -0.11 -0.1"/></feComponentTransfer><feComponentTransfer in="SourceGraphic" result="thr"><feFuncR type="table" tableValues="0.328 0.327 0.327 0.327 0.327 0.327 0.326 0.326 0.326 0.326 0.326 0.325 0.325 0.325 0.325 0.324 0.301 0.218 0 0 0 0 0 0 0 0 0 0 0 0 0 0 0 0 0 0 0 0 0 0 0 0 0 0 0 0 0 0 0 0 0 0"/><feFuncG type="table" tableValues="0.328 0.327 0.327 0.327 0.327 0.327 0.326 0.326 0.326 0.326 0.326 0.325 0.325 0.325 0.325 0.324 0.301 0.218 0 0 0 0 0 0 0 0 0 0 0 0 0 0 0 0 0 0 0 0 0 0 0 0 0 0 0 0 0 0 0 0 0 0"/><feFuncB type="table" tableValues="0.328 0.327 0.327 0.327 0.327 0.327 0.326 0.326 0.326 0.326 0.326 0.325 0.325 0.325 0.325 0.324 0.301 0.218 0 0 0 0 0 0 0 0 0 0 0 0 0 0 0 0 0 0 0 0 0 0 0 0 0 0 0 0 0 0 0 0 0 0"/></feComponentTransfer><feComposite in="amp" in2="nz" operator="arithmetic" k1="1" k2="0" k3="0" k4="0" result="m"/><feComposite in="SourceGraphic" in2="m" operator="arithmetic" k1="0" k2="0.5" k3="0.2344" k4="0" result="v1"/><feComposite in="v1" in2="iamp" operator="arithmetic" k1="0" k2="2" k3="0.3516" k4="-0.3516" result="v2"/><feTurbulence type="fractalNoise" baseFrequency="0.87 0.63" numOctaves="2" seed="64"/><feColorMatrix type="matrix" values="1 0 0 0 0 1 0 0 0 0 1 0 0 0 0 0 0 0 0 1" result="n2"/><feComposite in="n2" in2="thr" operator="arithmetic" k1="0" k2="1" k3="-1" k4="1"/><feComponentTransfer result="mask"><feFuncR type="linear" slope="30" intercept="-29"/><feFuncG type="linear" slope="30" intercept="-29"/><feFuncB type="linear" slope="30" intercept="-29"/></feComponentTransfer><feComposite in="v2" in2="mask" operator="arithmetic" k1="1" k2="0" k3="0" k4="0"/><feComponentTransfer><feFuncR type="table" tableValues="0 0 0 0 0 0 0 0 0 0 0 0 0 0 0 0 0 0 0 0 0 0 0 0 0 0 0 0 0 0 0 0 0 0 0 0 0 0 0 0 0 0 0 0 0 0 0 0 0 0 0 0 0 0 0 0 0 0 0 0 0 0 0 0 0 0 0 0 0 0 0 0 0 0 0 0 0 0 0 0 0 0 0.069 0.16 0.252 0.343 0.435 0.526 0.614 0.695 0.776 0.857 0.938 1 1 1 1 1 1 1 1 1 1 1 1 1 1 1 1 1 1 1 1 1 1 1 1 1 1 1 1 1 1 1 1 1 1 1 1"/><feFuncG type="table" tableValues="0 0 0 0 0 0 0 0 0 0 0 0 0 0 0 0 0 0 0 0 0 0 0 0 0 0 0 0 0 0 0 0 0 0 0 0 0 0 0 0 0 0 0 0 0.025 0.076 0.127 0.178 0.248 0.33 0.412 0.493 0.575 0.678 0.786 0.893 1 0.993 0.986 0.98 0.973 0.966 0.96 0.958 0.956 0.953 0.951 0.949 0.947 0.944 0.942 0.941 0.941 0.941 0.941 0.941 0.941 0.941 0.941 0.941 0.941 0.941 0.948 0.957 0.966 0.975 0.985 0.994 1 1 1 1 1 0.995 0.974 0.952 0.931 0.91 0.888 0.867 0.839 0.809 0.779 0.749 0.719 0.689 0.659 0.626 0.59 0.555 0.52 0.484 0.449 0.413 0.379 0.346 0.314 0.281 0.248 0.216 0.183 0.153 0.131 0.109 0.087 0.065 0.044 0.022 0"/><feFuncB type="table" tableValues="0 0 0 0 0 0 0 0 0 0 0 0 0 0 0 0 0 0 0 0 0 0 0 0.109 0.29 0.472 0.653 0.834 0.873 0.875 0.877 0.88 0.882 0.885 0.887 0.89 0.892 0.896 0.903 0.91 0.917 0.924 0.931 0.938 0.949 0.964 0.979 0.994 1 1 1 1 1 1 1 1 1 0.956 0.911 0.867 0.823 0.779 0.735 0.694 0.654 0.613 0.572 0.531 0.49 0.449 0.408 0.37 0.334 0.298 0.262 0.226 0.19 0.154 0.117 0.081 0.045 0.009 0 0 0 0 0 0 0 0 0 0 0 0 0 0 0 0 0 0 0 0 0 0 0 0 0 0 0 0 0 0 0 0 0 0 0 0 0 0 0 0 0 0 0 0 0 0 0"/></feComponentTransfer></filter><linearGradient id="bb1" x1="0" y1="0" x2="0" y2="1"><stop offset="0.000" stop-color="#4e4e4e"/><stop offset="0.195" stop-color="#555555"/><stop offset="0.351" stop-color="#5c5c5c"/><stop offset="0.494" stop-color="#666666"/><stop offset="0.604" stop-color="#707070"/><stop offset="0.688" stop-color="#888888"/><stop offset="0.760" stop-color="#9f9f9f"/><stop offset="0.809" stop-color="#afafaf"/><stop offset="0.851" stop-color="#bebebe"/><stop offset="0.883" stop-color="#d5d5d5"/><stop offset="0.906" stop-color="#f0f0f0"/><stop offset="0.929" stop-color="#ffffff"/><stop offset="1.000" stop-color="#ffffff"/></linearGradient><filter id="f5" filterUnits="userSpaceOnUse" x="81" y="460" width="420" height="77" color-interpolation-filters="sRGB"><feTurbulence type="fractalNoise" baseFrequency="0.83 0.55" numOctaves="2" seed="15"/><feColorMatrix type="matrix" values="1 0 0 0 0 1 0 0 0 0 1 0 0 0 0 0 0 0 0 1"/><feComponentTransfer result="nz"><feFuncR type="table" tableValues="0.411 0.434 0.456 0.477 0.497 0.517 0.537 0.555 0.573 0.591 0.608 0.624 0.640 0.655 0.670 0.684 0.698 0.712 0.725 0.738 0.750 0.762 0.774 0.785 0.796 0.807 0.817 0.828 0.837 0.847 0.857 0.866 0.875 0.884 0.892 0.900 0.909 0.917 0.924 0.932 0.940"/><feFuncG type="table" tableValues="0.411 0.434 0.456 0.477 0.497 0.517 0.537 0.555 0.573 0.591 0.608 0.624 0.640 0.655 0.670 0.684 0.698 0.712 0.725 0.738 0.750 0.762 0.774 0.785 0.796 0.807 0.817 0.828 0.837 0.847 0.857 0.866 0.875 0.884 0.892 0.900 0.909 0.917 0.924 0.932 0.940"/><feFuncB type="table" tableValues="0.411 0.434 0.456 0.477 0.497 0.517 0.537 0.555 0.573 0.591 0.608 0.624 0.640 0.655 0.670 0.684 0.698 0.712 0.725 0.738 0.750 0.762 0.774 0.785 0.796 0.807 0.817 0.828 0.837 0.847 0.857 0.866 0.875 0.884 0.892 0.900 0.909 0.917 0.924 0.932 0.940"/></feComponentTransfer><feComponentTransfer in="SourceGraphic" result="amp"><feFuncR type="table" tableValues="0.8 0.8 0.8 0.8 0.8 0.8 0.8 0.8 0.8 0.8 0.8 0.8 0.8 0.8 0.8 0.8 0.8 0.867 1.024 1.104 1.113 1.122 1.131 1.139 1.148 1.157 1.165 1.174 1.183 1.192 1.2 1.209 1.218 1.226 1.235 1.244 1.247 1.237 1.227 1.218 1.208 1.198 1.188 1.178 1.169 1.159 1.149 1.139 1.129 1.12 1.11 1.1"/><feFuncG type="table" tableValues="0.8 0.8 0.8 0.8 0.8 0.8 0.8 0.8 0.8 0.8 0.8 0.8 0.8 0.8 0.8 0.8 0.8 0.867 1.024 1.104 1.113 1.122 1.131 1.139 1.148 1.157 1.165 1.174 1.183 1.192 1.2 1.209 1.218 1.226 1.235 1.244 1.247 1.237 1.227 1.218 1.208 1.198 1.188 1.178 1.169 1.159 1.149 1.139 1.129 1.12 1.11 1.1"/><feFuncB type="table" tableValues="0.8 0.8 0.8 0.8 0.8 0.8 0.8 0.8 0.8 0.8 0.8 0.8 0.8 0.8 0.8 0.8 0.8 0.867 1.024 1.104 1.113 1.122 1.131 1.139 1.148 1.157 1.165 1.174 1.183 1.192 1.2 1.209 1.218 1.226 1.235 1.244 1.247 1.237 1.227 1.218 1.208 1.198 1.188 1.178 1.169 1.159 1.149 1.139 1.129 1.12 1.11 1.1"/></feComponentTransfer><feComponentTransfer in="SourceGraphic" result="iamp"><feFuncR type="table" tableValues="0.2 0.2 0.2 0.2 0.2 0.2 0.2 0.2 0.2 0.2 0.2 0.2 0.2 0.2 0.2 0.2 0.2 0.133 -0.024 -0.104 -0.113 -0.122 -0.131 -0.139 -0.148 -0.157 -0.165 -0.174 -0.183 -0.192 -0.2 -0.209 -0.218 -0.226 -0.235 -0.244 -0.247 -0.237 -0.227 -0.218 -0.208 -0.198 -0.188 -0.178 -0.169 -0.159 -0.149 -0.139 -0.129 -0.12 -0.11 -0.1"/><feFuncG type="table" tableValues="0.2 0.2 0.2 0.2 0.2 0.2 0.2 0.2 0.2 0.2 0.2 0.2 0.2 0.2 0.2 0.2 0.2 0.133 -0.024 -0.104 -0.113 -0.122 -0.131 -0.139 -0.148 -0.157 -0.165 -0.174 -0.183 -0.192 -0.2 -0.209 -0.218 -0.226 -0.235 -0.244 -0.247 -0.237 -0.227 -0.218 -0.208 -0.198 -0.188 -0.178 -0.169 -0.159 -0.149 -0.139 -0.129 -0.12 -0.11 -0.1"/><feFuncB type="table" tableValues="0.2 0.2 0.2 0.2 0.2 0.2 0.2 0.2 0.2 0.2 0.2 0.2 0.2 0.2 0.2 0.2 0.2 0.133 -0.024 -0.104 -0.113 -0.122 -0.131 -0.139 -0.148 -0.157 -0.165 -0.174 -0.183 -0.192 -0.2 -0.209 -0.218 -0.226 -0.235 -0.244 -0.247 -0.237 -0.227 -0.218 -0.208 -0.198 -0.188 -0.178 -0.169 -0.159 -0.149 -0.139 -0.129 -0.12 -0.11 -0.1"/></feComponentTransfer><feComponentTransfer in="SourceGraphic" result="thr"><feFuncR type="table" tableValues="0.328 0.327 0.327 0.327 0.327 0.327 0.326 0.326 0.326 0.326 0.326 0.325 0.325 0.325 0.325 0.324 0.301 0.218 0 0 0 0 0 0 0 0 0 0 0 0 0 0 0 0 0 0 0 0 0 0 0 0 0 0 0 0 0 0 0 0 0 0"/><feFuncG type="table" tableValues="0.328 0.327 0.327 0.327 0.327 0.327 0.326 0.326 0.326 0.326 0.326 0.325 0.325 0.325 0.325 0.324 0.301 0.218 0 0 0 0 0 0 0 0 0 0 0 0 0 0 0 0 0 0 0 0 0 0 0 0 0 0 0 0 0 0 0 0 0 0"/><feFuncB type="table" tableValues="0.328 0.327 0.327 0.327 0.327 0.327 0.326 0.326 0.326 0.326 0.326 0.325 0.325 0.325 0.325 0.324 0.301 0.218 0 0 0 0 0 0 0 0 0 0 0 0 0 0 0 0 0 0 0 0 0 0 0 0 0 0 0 0 0 0 0 0 0 0"/></feComponentTransfer><feComposite in="amp" in2="nz" operator="arithmetic" k1="1" k2="0" k3="0" k4="0" result="m"/><feComposite in="SourceGraphic" in2="m" operator="arithmetic" k1="0" k2="0.5" k3="0.2344" k4="0" result="v1"/><feComposite in="v1" in2="iamp" operator="arithmetic" k1="0" k2="2" k3="0.3516" k4="-0.3516" result="v2"/><feTurbulence type="fractalNoise" baseFrequency="0.87 0.63" numOctaves="2" seed="65"/><feColorMatrix type="matrix" values="1 0 0 0 0 1 0 0 0 0 1 0 0 0 0 0 0 0 0 1" result="n2"/><feComposite in="n2" in2="thr" operator="arithmetic" k1="0" k2="1" k3="-1" k4="1"/><feComponentTransfer result="mask"><feFuncR type="linear" slope="30" intercept="-29"/><feFuncG type="linear" slope="30" intercept="-29"/><feFuncB type="linear" slope="30" intercept="-29"/></feComponentTransfer><feComposite in="v2" in2="mask" operator="arithmetic" k1="1" k2="0" k3="0" k4="0"/><feComponentTransfer><feFuncR type="table" tableValues="0 0 0 0 0 0 0 0 0 0 0 0 0 0 0 0 0 0 0 0 0 0 0 0 0 0 0 0 0 0 0 0 0 0 0 0 0 0 0 0 0 0 0 0 0 0 0 0 0 0 0 0 0 0 0 0 0 0 0 0 0 0 0 0 0 0 0 0 0 0 0 0 0 0 0 0 0 0 0 0 0 0 0.069 0.16 0.252 0.343 0.435 0.526 0.614 0.695 0.776 0.857 0.938 1 1 1 1 1 1 1 1 1 1 1 1 1 1 1 1 1 1 1 1 1 1 1 1 1 1 1 1 1 1 1 1 1 1 1 1"/><feFuncG type="table" tableValues="0 0 0 0 0 0 0 0 0 0 0 0 0 0 0 0 0 0 0 0 0 0 0 0 0 0 0 0 0 0 0 0 0 0 0 0 0 0 0 0 0 0 0 0 0.025 0.076 0.127 0.178 0.248 0.33 0.412 0.493 0.575 0.678 0.786 0.893 1 0.993 0.986 0.98 0.973 0.966 0.96 0.958 0.956 0.953 0.951 0.949 0.947 0.944 0.942 0.941 0.941 0.941 0.941 0.941 0.941 0.941 0.941 0.941 0.941 0.941 0.948 0.957 0.966 0.975 0.985 0.994 1 1 1 1 1 0.995 0.974 0.952 0.931 0.91 0.888 0.867 0.839 0.809 0.779 0.749 0.719 0.689 0.659 0.626 0.59 0.555 0.52 0.484 0.449 0.413 0.379 0.346 0.314 0.281 0.248 0.216 0.183 0.153 0.131 0.109 0.087 0.065 0.044 0.022 0"/><feFuncB type="table" tableValues="0 0 0 0 0 0 0 0 0 0 0 0 0 0 0 0 0 0 0 0 0 0 0 0.109 0.29 0.472 0.653 0.834 0.873 0.875 0.877 0.88 0.882 0.885 0.887 0.89 0.892 0.896 0.903 0.91 0.917 0.924 0.931 0.938 0.949 0.964 0.979 0.994 1 1 1 1 1 1 1 1 1 0.956 0.911 0.867 0.823 0.779 0.735 0.694 0.654 0.613 0.572 0.531 0.49 0.449 0.408 0.37 0.334 0.298 0.262 0.226 0.19 0.154 0.117 0.081 0.045 0.009 0 0 0 0 0 0 0 0 0 0 0 0 0 0 0 0 0 0 0 0 0 0 0 0 0 0 0 0 0 0 0 0 0 0 0 0 0 0 0 0 0 0 0 0 0 0 0"/></feComponentTransfer></filter><linearGradient id="ln5" x1="0" y1="0" x2="0" y2="1"><stop offset="0.000" stop-color="#969696"/><stop offset="0.500" stop-color="#b2b2b2"/><stop offset="1.000" stop-color="#d9d9d9"/></linearGradient><linearGradient id="bb2" x1="0" y1="0" x2="0" y2="1"><stop offset="0.000" stop-color="#4e4e4e"/><stop offset="0.195" stop-color="#555555"/><stop offset="0.351" stop-color="#5c5c5c"/><stop offset="0.494" stop-color="#666666"/><stop offset="0.604" stop-color="#707070"/><stop offset="0.688" stop-color="#888888"/><stop offset="0.760" stop-color="#9f9f9f"/><stop offset="0.809" stop-color="#afafaf"/><stop offset="0.851" stop-color="#bebebe"/><stop offset="0.883" stop-color="#d5d5d5"/><stop offset="0.906" stop-color="#f0f0f0"/><stop offset="0.929" stop-color="#ffffff"/><stop offset="1.000" stop-color="#ffffff"/></linearGradient><filter id="f6" filterUnits="userSpaceOnUse" x="81" y="556" width="420" height="77" color-interpolation-filters="sRGB"><feTurbulence type="fractalNoise" baseFrequency="0.83 0.55" numOctaves="2" seed="16"/><feColorMatrix type="matrix" values="1 0 0 0 0 1 0 0 0 0 1 0 0 0 0 0 0 0 0 1"/><feComponentTransfer result="nz"><feFuncR type="table" tableValues="0.411 0.434 0.456 0.477 0.497 0.517 0.537 0.555 0.573 0.591 0.608 0.624 0.640 0.655 0.670 0.684 0.698 0.712 0.725 0.738 0.750 0.762 0.774 0.785 0.796 0.807 0.817 0.828 0.837 0.847 0.857 0.866 0.875 0.884 0.892 0.900 0.909 0.917 0.924 0.932 0.940"/><feFuncG type="table" tableValues="0.411 0.434 0.456 0.477 0.497 0.517 0.537 0.555 0.573 0.591 0.608 0.624 0.640 0.655 0.670 0.684 0.698 0.712 0.725 0.738 0.750 0.762 0.774 0.785 0.796 0.807 0.817 0.828 0.837 0.847 0.857 0.866 0.875 0.884 0.892 0.900 0.909 0.917 0.924 0.932 0.940"/><feFuncB type="table" tableValues="0.411 0.434 0.456 0.477 0.497 0.517 0.537 0.555 0.573 0.591 0.608 0.624 0.640 0.655 0.670 0.684 0.698 0.712 0.725 0.738 0.750 0.762 0.774 0.785 0.796 0.807 0.817 0.828 0.837 0.847 0.857 0.866 0.875 0.884 0.892 0.900 0.909 0.917 0.924 0.932 0.940"/></feComponentTransfer><feComponentTransfer in="SourceGraphic" result="amp"><feFuncR type="table" tableValues="0.8 0.8 0.8 0.8 0.8 0.8 0.8 0.8 0.8 0.8 0.8 0.8 0.8 0.8 0.8 0.8 0.8 0.867 1.024 1.104 1.113 1.122 1.131 1.139 1.148 1.157 1.165 1.174 1.183 1.192 1.2 1.209 1.218 1.226 1.235 1.244 1.247 1.237 1.227 1.218 1.208 1.198 1.188 1.178 1.169 1.159 1.149 1.139 1.129 1.12 1.11 1.1"/><feFuncG type="table" tableValues="0.8 0.8 0.8 0.8 0.8 0.8 0.8 0.8 0.8 0.8 0.8 0.8 0.8 0.8 0.8 0.8 0.8 0.867 1.024 1.104 1.113 1.122 1.131 1.139 1.148 1.157 1.165 1.174 1.183 1.192 1.2 1.209 1.218 1.226 1.235 1.244 1.247 1.237 1.227 1.218 1.208 1.198 1.188 1.178 1.169 1.159 1.149 1.139 1.129 1.12 1.11 1.1"/><feFuncB type="table" tableValues="0.8 0.8 0.8 0.8 0.8 0.8 0.8 0.8 0.8 0.8 0.8 0.8 0.8 0.8 0.8 0.8 0.8 0.867 1.024 1.104 1.113 1.122 1.131 1.139 1.148 1.157 1.165 1.174 1.183 1.192 1.2 1.209 1.218 1.226 1.235 1.244 1.247 1.237 1.227 1.218 1.208 1.198 1.188 1.178 1.169 1.159 1.149 1.139 1.129 1.12 1.11 1.1"/></feComponentTransfer><feComponentTransfer in="SourceGraphic" result="iamp"><feFuncR type="table" tableValues="0.2 0.2 0.2 0.2 0.2 0.2 0.2 0.2 0.2 0.2 0.2 0.2 0.2 0.2 0.2 0.2 0.2 0.133 -0.024 -0.104 -0.113 -0.122 -0.131 -0.139 -0.148 -0.157 -0.165 -0.174 -0.183 -0.192 -0.2 -0.209 -0.218 -0.226 -0.235 -0.244 -0.247 -0.237 -0.227 -0.218 -0.208 -0.198 -0.188 -0.178 -0.169 -0.159 -0.149 -0.139 -0.129 -0.12 -0.11 -0.1"/><feFuncG type="table" tableValues="0.2 0.2 0.2 0.2 0.2 0.2 0.2 0.2 0.2 0.2 0.2 0.2 0.2 0.2 0.2 0.2 0.2 0.133 -0.024 -0.104 -0.113 -0.122 -0.131 -0.139 -0.148 -0.157 -0.165 -0.174 -0.183 -0.192 -0.2 -0.209 -0.218 -0.226 -0.235 -0.244 -0.247 -0.237 -0.227 -0.218 -0.208 -0.198 -0.188 -0.178 -0.169 -0.159 -0.149 -0.139 -0.129 -0.12 -0.11 -0.1"/><feFuncB type="table" tableValues="0.2 0.2 0.2 0.2 0.2 0.2 0.2 0.2 0.2 0.2 0.2 0.2 0.2 0.2 0.2 0.2 0.2 0.133 -0.024 -0.104 -0.113 -0.122 -0.131 -0.139 -0.148 -0.157 -0.165 -0.174 -0.183 -0.192 -0.2 -0.209 -0.218 -0.226 -0.235 -0.244 -0.247 -0.237 -0.227 -0.218 -0.208 -0.198 -0.188 -0.178 -0.169 -0.159 -0.149 -0.139 -0.129 -0.12 -0.11 -0.1"/></feComponentTransfer><feComponentTransfer in="SourceGraphic" result="thr"><feFuncR type="table" tableValues="0.328 0.327 0.327 0.327 0.327 0.327 0.326 0.326 0.326 0.326 0.326 0.325 0.325 0.325 0.325 0.324 0.301 0.218 0 0 0 0 0 0 0 0 0 0 0 0 0 0 0 0 0 0 0 0 0 0 0 0 0 0 0 0 0 0 0 0 0 0"/><feFuncG type="table" tableValues="0.328 0.327 0.327 0.327 0.327 0.327 0.326 0.326 0.326 0.326 0.326 0.325 0.325 0.325 0.325 0.324 0.301 0.218 0 0 0 0 0 0 0 0 0 0 0 0 0 0 0 0 0 0 0 0 0 0 0 0 0 0 0 0 0 0 0 0 0 0"/><feFuncB type="table" tableValues="0.328 0.327 0.327 0.327 0.327 0.327 0.326 0.326 0.326 0.326 0.326 0.325 0.325 0.325 0.325 0.324 0.301 0.218 0 0 0 0 0 0 0 0 0 0 0 0 0 0 0 0 0 0 0 0 0 0 0 0 0 0 0 0 0 0 0 0 0 0"/></feComponentTransfer><feComposite in="amp" in2="nz" operator="arithmetic" k1="1" k2="0" k3="0" k4="0" result="m"/><feComposite in="SourceGraphic" in2="m" operator="arithmetic" k1="0" k2="0.5" k3="0.2344" k4="0" result="v1"/><feComposite in="v1" in2="iamp" operator="arithmetic" k1="0" k2="2" k3="0.3516" k4="-0.3516" result="v2"/><feTurbulence type="fractalNoise" baseFrequency="0.87 0.63" numOctaves="2" seed="66"/><feColorMatrix type="matrix" values="1 0 0 0 0 1 0 0 0 0 1 0 0 0 0 0 0 0 0 1" result="n2"/><feComposite in="n2" in2="thr" operator="arithmetic" k1="0" k2="1" k3="-1" k4="1"/><feComponentTransfer result="mask"><feFuncR type="linear" slope="30" intercept="-29"/><feFuncG type="linear" slope="30" intercept="-29"/><feFuncB type="linear" slope="30" intercept="-29"/></feComponentTransfer><feComposite in="v2" in2="mask" operator="arithmetic" k1="1" k2="0" k3="0" k4="0"/><feComponentTransfer><feFuncR type="table" tableValues="0 0 0 0 0 0 0 0 0 0 0 0 0 0 0 0 0 0 0 0 0 0 0 0 0 0 0 0 0 0 0 0 0 0 0 0 0 0 0 0 0 0 0 0 0 0 0 0 0 0 0 0 0 0 0 0 0 0 0 0 0 0 0 0 0 0 0 0 0 0 0 0 0 0 0 0 0 0 0 0 0 0 0.069 0.16 0.252 0.343 0.435 0.526 0.614 0.695 0.776 0.857 0.938 1 1 1 1 1 1 1 1 1 1 1 1 1 1 1 1 1 1 1 1 1 1 1 1 1 1 1 1 1 1 1 1 1 1 1 1"/><feFuncG type="table" tableValues="0 0 0 0 0 0 0 0 0 0 0 0 0 0 0 0 0 0 0 0 0 0 0 0 0 0 0 0 0 0 0 0 0 0 0 0 0 0 0 0 0 0 0 0 0.025 0.076 0.127 0.178 0.248 0.33 0.412 0.493 0.575 0.678 0.786 0.893 1 0.993 0.986 0.98 0.973 0.966 0.96 0.958 0.956 0.953 0.951 0.949 0.947 0.944 0.942 0.941 0.941 0.941 0.941 0.941 0.941 0.941 0.941 0.941 0.941 0.941 0.948 0.957 0.966 0.975 0.985 0.994 1 1 1 1 1 0.995 0.974 0.952 0.931 0.91 0.888 0.867 0.839 0.809 0.779 0.749 0.719 0.689 0.659 0.626 0.59 0.555 0.52 0.484 0.449 0.413 0.379 0.346 0.314 0.281 0.248 0.216 0.183 0.153 0.131 0.109 0.087 0.065 0.044 0.022 0"/><feFuncB type="table" tableValues="0 0 0 0 0 0 0 0 0 0 0 0 0 0 0 0 0 0 0 0 0 0 0 0.109 0.29 0.472 0.653 0.834 0.873 0.875 0.877 0.88 0.882 0.885 0.887 0.89 0.892 0.896 0.903 0.91 0.917 0.924 0.931 0.938 0.949 0.964 0.979 0.994 1 1 1 1 1 1 1 1 1 0.956 0.911 0.867 0.823 0.779 0.735 0.694 0.654 0.613 0.572 0.531 0.49 0.449 0.408 0.37 0.334 0.298 0.262 0.226 0.19 0.154 0.117 0.081 0.045 0.009 0 0 0 0 0 0 0 0 0 0 0 0 0 0 0 0 0 0 0 0 0 0 0 0 0 0 0 0 0 0 0 0 0 0 0 0 0 0 0 0 0 0 0 0 0 0 0"/></feComponentTransfer></filter><linearGradient id="cb" x1="0" y1="0" x2="0" y2="1"><stop offset="0.000" stop-color="rgb(255,0,0)"/><stop offset="0.075" stop-color="rgb(255,40,0)"/><stop offset="0.150" stop-color="rgb(255,100,0)"/><stop offset="0.225" stop-color="rgb(255,165,0)"/><stop offset="0.300" stop-color="rgb(255,220,0)"/><stop offset="0.367" stop-color="rgb(255,255,0)"/><stop offset="0.420" stop-color="rgb(150,255,0)"/><stop offset="0.487" stop-color="rgb(0,240,0)"/><stop offset="0.600" stop-color="rgb(0,240,100)"/><stop offset="0.690" stop-color="rgb(0,245,190)"/><stop offset="0.750" stop-color="rgb(0,255,255)"/><stop offset="0.790" stop-color="rgb(0,150,255)"/><stop offset="0.840" stop-color="rgb(0,50,255)"/><stop offset="0.880" stop-color="rgb(0,0,230)"/><stop offset="1.000" stop-color="rgb(0,0,130)"/></linearGradient></defs><g filter="url(#f1)"><rect x="81" y="57" width="1" height="77" fill="url(#c0)"/><rect x="82" y="57" width="1" height="77" fill="url(#c1)"/><rect x="83" y="57" width="3" height="77" fill="url(#c2)"/><rect x="86" y="57" width="1" height="77" fill="url(#c3)"/><rect x="87" y="57" width="2" height="77" fill="url(#c4)"/><rect x="89" y="57" width="1" height="77" fill="url(#c5)"/><rect x="90" y="57" width="1" height="77" fill="url(#c6)"/><rect x="91" y="57" width="1" height="77" fill="url(#c4)"/><rect x="92" y="57" width="1" height="77" fill="url(#c5)"/><rect x="93" y="57" width="1" height="77" fill="url(#c6)"/><rect x="94" y="57" width="1" height="77" fill="url(#c7)"/><rect x="95" y="57" width="3" height="77" fill="url(#c4)"/><rect x="98" y="57" width="1" height="77" fill="url(#c7)"/><rect x="99" y="57" width="2" height="77" fill="url(#c6)"/><rect x="101" y="57" width="1" height="77" fill="url(#c7)"/><rect x="102" y="57" width="2" height="77" fill="url(#c6)"/><rect x="104" y="57" width="1" height="77" fill="url(#c4)"/><rect x="105" y="57" width="1" height="77" fill="url(#c6)"/><rect x="106" y="57" width="1" height="77" fill="url(#c7)"/><rect x="107" y="57" width="1" height="77" fill="url(#c6)"/><rect x="108" y="57" width="1" height="77" fill="url(#c8)"/><rect x="109" y="57" width="1" height="77" fill="url(#c6)"/><rect x="110" y="57" width="1" height="77" fill="url(#c5)"/><rect x="111" y="57" width="1" height="77" fill="url(#c8)"/><rect x="112" y="57" width="1" height="77" fill="url(#c6)"/><rect x="113" y="57" width="1" height="77" fill="url(#c5)"/><rect x="114" y="57" width="2" height="77" fill="url(#c7)"/><rect x="116" y="57" width="1" height="77" fill="url(#c4)"/><rect x="117" y="57" width="1" height="77" fill="url(#c7)"/><rect x="118" y="57" width="3" height="77" fill="url(#c4)"/><rect x="121" y="57" width="1" height="77" fill="url(#c6)"/><rect x="122" y="57" width="1" height="77" fill="url(#c7)"/><rect x="123" y="57" width="1" height="77" fill="url(#c9)"/><rect x="124" y="57" width="1" height="77" fill="url(#c10)"/><rect x="125" y="57" width="1" height="77" fill="url(#c11)"/><rect x="126" y="57" width="1" height="77" fill="url(#c12)"/><rect x="127" y="57" width="1" height="77" fill="url(#c13)"/><rect x="128" y="57" width="1" height="77" fill="url(#c14)"/><rect x="129" y="57" width="1" height="77" fill="url(#c15)"/><rect x="130" y="57" width="1" height="77" fill="url(#c16)"/><rect x="131" y="57" width="1" height="77" fill="url(#c17)"/><rect x="132" y="57" width="1" height="77" fill="url(#c18)"/><rect x="133" y="57" width="1" height="77" fill="url(#c17)"/><rect x="134" y="57" width="1" height="77" fill="url(#c18)"/><rect x="135" y="57" width="1" height="77" fill="url(#c19)"/><rect x="136" y="57" width="1" height="77" fill="url(#c20)"/><rect x="137" y="57" width="1" height="77" fill="url(#c21)"/><rect x="138" y="57" width="1" height="77" fill="url(#c22)"/><rect x="139" y="57" width="1" height="77" fill="url(#c13)"/><rect x="140" y="57" width="1" height="77" fill="url(#c23)"/><rect x="141" y="57" width="1" height="77" fill="url(#c24)"/><rect x="142" y="57" width="2" height="77" fill="url(#c25)"/><rect x="144" y="57" width="2" height="77" fill="url(#c13)"/><rect x="146" y="57" width="1" height="77" fill="url(#c26)"/><rect x="147" y="57" width="1" height="77" fill="url(#c17)"/><rect x="148" y="57" width="1" height="77" fill="url(#c1)"/><rect x="149" y="57" width="1" height="77" fill="url(#c27)"/><rect x="150" y="57" width="2" height="77" fill="url(#c28)"/><rect x="152" y="57" width="1" height="77" fill="url(#c29)"/><rect x="153" y="57" width="1" height="77" fill="url(#c30)"/><rect x="154" y="57" width="1" height="77" fill="url(#c22)"/><rect x="155" y="57" width="1" height="77" fill="url(#c31)"/><rect x="156" y="57" width="1" height="77" fill="url(#c24)"/><rect x="157" y="57" width="1" height="77" fill="url(#c32)"/><rect x="158" y="57" width="1" height="77" fill="url(#c33)"/><rect x="159" y="57" width="1" height="77" fill="url(#c34)"/><rect x="160" y="57" width="1" height="77" fill="url(#c35)"/><rect x="161" y="57" width="1" height="77" fill="url(#c36)"/><rect x="162" y="57" width="1" height="77" fill="url(#c37)"/><rect x="163" y="57" width="1" height="77" fill="url(#c23)"/><rect x="164" y="57" width="1" height="77" fill="url(#c38)"/><rect x="165" y="57" width="1" height="77" fill="url(#c22)"/><rect x="166" y="57" width="1" height="77" fill="url(#c29)"/><rect x="167" y="57" width="1" height="77" fill="url(#c21)"/><rect x="168" y="57" width="1" height="77" fill="url(#c38)"/><rect x="169" y="57" width="1" height="77" fill="url(#c29)"/><rect x="170" y="57" width="1" height="77" fill="url(#c39)"/><rect x="171" y="57" width="1" height="77" fill="url(#c1)"/><rect x="172" y="57" width="1" height="77" fill="url(#c39)"/><rect x="173" y="57" width="1" height="77" fill="url(#c28)"/><rect x="174" y="57" width="1" height="77" fill="url(#c39)"/><rect x="175" y="57" width="1" height="77" fill="url(#c31)"/><rect x="176" y="57" width="1" height="77" fill="url(#c40)"/><rect x="177" y="57" width="1" height="77" fill="url(#c23)"/><rect x="178" y="57" width="1" height="77" fill="url(#c41)"/><rect x="179" y="57" width="3" height="77" fill="url(#c38)"/><rect x="182" y="57" width="1" height="77" fill="url(#c31)"/><rect x="183" y="57" width="1" height="77" fill="url(#c21)"/><rect x="184" y="57" width="1" height="77" fill="url(#c2)"/><rect x="185" y="57" width="2" height="77" fill="url(#c23)"/><rect x="187" y="57" width="1" height="77" fill="url(#c25)"/><rect x="188" y="57" width="1" height="77" fill="url(#c38)"/><rect x="189" y="57" width="1" height="77" fill="url(#c23)"/><rect x="190" y="57" width="1" height="77" fill="url(#c21)"/><rect x="191" y="57" width="1" height="77" fill="url(#c38)"/><rect x="192" y="57" width="2" height="77" fill="url(#c41)"/><rect x="194" y="57" width="1" height="77" fill="url(#c23)"/><rect x="195" y="57" width="1" height="77" fill="url(#c22)"/><rect x="196" y="57" width="1" height="77" fill="url(#c38)"/><rect x="197" y="57" width="1" height="77" fill="url(#c28)"/><rect x="198" y="57" width="2" height="77" fill="url(#c35)"/><rect x="200" y="57" width="1" height="77" fill="url(#c22)"/><rect x="201" y="57" width="1" height="77" fill="url(#c21)"/><rect x="202" y="57" width="1" height="77" fill="url(#c23)"/><rect x="203" y="57" width="2" height="77" fill="url(#c42)"/><rect x="205" y="57" width="1" height="77" fill="url(#c21)"/><rect x="206" y="57" width="1" height="77" fill="url(#c38)"/><rect x="207" y="57" width="1" height="77" fill="url(#c31)"/><rect x="208" y="57" width="1" height="77" fill="url(#c2)"/><rect x="209" y="57" width="1" height="77" fill="url(#c22)"/><rect x="210" y="57" width="2" height="77" fill="url(#c23)"/><rect x="212" y="57" width="1" height="77" fill="url(#c22)"/><rect x="213" y="57" width="1" height="77" fill="url(#c29)"/><rect x="214" y="57" width="2" height="77" fill="url(#c22)"/><rect x="216" y="57" width="2" height="77" fill="url(#c29)"/><rect x="218" y="57" width="1" height="77" fill="url(#c21)"/><rect x="219" y="57" width="1" height="77" fill="url(#c31)"/><rect x="220" y="57" width="1" height="77" fill="url(#c38)"/><rect x="221" y="57" width="2" height="77" fill="url(#c29)"/><rect x="223" y="57" width="1" height="77" fill="url(#c2)"/><rect x="224" y="57" width="1" height="77" fill="url(#c31)"/><rect x="225" y="57" width="1" height="77" fill="url(#c21)"/><rect x="226" y="57" width="1" height="77" fill="url(#c29)"/><rect x="227" y="57" width="1" height="77" fill="url(#c31)"/><rect x="228" y="57" width="2" height="77" fill="url(#c2)"/><rect x="230" y="57" width="1" height="77" fill="url(#c21)"/><rect x="231" y="57" width="1" height="77" fill="url(#c23)"/><rect x="232" y="57" width="1" height="77" fill="url(#c22)"/><rect x="233" y="57" width="1" height="77" fill="url(#c23)"/><rect x="234" y="57" width="1" height="77" fill="url(#c38)"/><rect x="235" y="57" width="1" height="77" fill="url(#c22)"/><rect x="236" y="57" width="1" height="77" fill="url(#c21)"/><rect x="237" y="57" width="1" height="77" fill="url(#c29)"/><rect x="238" y="57" width="1" height="77" fill="url(#c22)"/><rect x="239" y="57" width="1" height="77" fill="url(#c43)"/><rect x="240" y="57" width="1" height="77" fill="url(#c29)"/><rect x="241" y="57" width="1" height="77" fill="url(#c31)"/><rect x="242" y="57" width="1" height="77" fill="url(#c23)"/><rect x="243" y="57" width="3" height="77" fill="url(#c2)"/><rect x="246" y="57" width="1" height="77" fill="url(#c29)"/><rect x="247" y="57" width="1" height="77" fill="url(#c31)"/><rect x="248" y="57" width="1" height="77" fill="url(#c38)"/><rect x="249" y="57" width="1" height="77" fill="url(#c29)"/><rect x="250" y="57" width="2" height="77" fill="url(#c44)"/><rect x="252" y="57" width="1" height="77" fill="url(#c45)"/><rect x="253" y="57" width="1" height="77" fill="url(#c44)"/><rect x="254" y="57" width="1" height="77" fill="url(#c46)"/><rect x="255" y="57" width="1" height="77" fill="url(#c47)"/><rect x="256" y="57" width="1" height="77" fill="url(#c25)"/><rect x="257" y="57" width="2" height="77" fill="url(#c33)"/><rect x="259" y="57" width="1" height="77" fill="url(#c41)"/><rect x="260" y="57" width="1" height="77" fill="url(#c35)"/><rect x="261" y="57" width="1" height="77" fill="url(#c19)"/><rect x="262" y="57" width="1" height="77" fill="url(#c48)"/><rect x="263" y="57" width="1" height="77" fill="url(#c16)"/><rect x="264" y="57" width="1" height="77" fill="url(#c28)"/><rect x="265" y="57" width="2" height="77" fill="url(#c24)"/><rect x="267" y="57" width="1" height="77" fill="url(#c22)"/><rect x="268" y="57" width="1" height="77" fill="url(#c38)"/><rect x="269" y="57" width="1" height="77" fill="url(#c31)"/><rect x="270" y="57" width="1" height="77" fill="url(#c30)"/><rect x="271" y="57" width="1" height="77" fill="url(#c23)"/><rect x="272" y="57" width="1" height="77" fill="url(#c33)"/><rect x="273" y="57" width="1" height="77" fill="url(#c49)"/><rect x="274" y="57" width="1" height="77" fill="url(#c50)"/><rect x="275" y="57" width="1" height="77" fill="url(#c51)"/><rect x="276" y="57" width="1" height="77" fill="url(#c52)"/><rect x="277" y="57" width="1" height="77" fill="url(#c35)"/><rect x="278" y="57" width="1" height="77" fill="url(#c46)"/><rect x="279" y="57" width="2" height="77" fill="url(#c33)"/><rect x="281" y="57" width="1" height="77" fill="url(#c53)"/><rect x="282" y="57" width="1" height="77" fill="url(#c54)"/><rect x="283" y="57" width="2" height="77" fill="url(#c55)"/><rect x="285" y="57" width="1" height="77" fill="url(#c51)"/><rect x="286" y="57" width="1" height="77" fill="url(#c36)"/><rect x="287" y="57" width="1" height="77" fill="url(#c56)"/><rect x="288" y="57" width="1" height="77" fill="url(#c13)"/><rect x="289" y="57" width="1" height="77" fill="url(#c33)"/><rect x="290" y="57" width="1" height="77" fill="url(#c57)"/><rect x="291" y="57" width="1" height="77" fill="url(#c58)"/><rect x="292" y="57" width="1" height="77" fill="url(#c59)"/><rect x="293" y="57" width="1" height="77" fill="url(#c60)"/><rect x="294" y="57" width="1" height="77" fill="url(#c61)"/><rect x="295" y="57" width="1" height="77" fill="url(#c62)"/><rect x="296" y="57" width="1" height="77" fill="url(#c63)"/><rect x="297" y="57" width="1" height="77" fill="url(#c35)"/><rect x="298" y="57" width="1" height="77" fill="url(#c36)"/><rect x="299" y="57" width="1" height="77" fill="url(#c39)"/><rect x="300" y="57" width="1" height="77" fill="url(#c36)"/><rect x="301" y="57" width="1" height="77" fill="url(#c64)"/><rect x="302" y="57" width="1" height="77" fill="url(#c50)"/><rect x="303" y="57" width="1" height="77" fill="url(#c65)"/><rect x="304" y="57" width="1" height="77" fill="url(#c66)"/><rect x="305" y="57" width="1" height="77" fill="url(#c67)"/><rect x="306" y="57" width="1" height="77" fill="url(#c68)"/><rect x="307" y="57" width="1" height="77" fill="url(#c27)"/><rect x="308" y="57" width="1" height="77" fill="url(#c69)"/><rect x="309" y="57" width="1" height="77" fill="url(#c70)"/><rect x="310" y="57" width="1" height="77" fill="url(#c55)"/><rect x="311" y="57" width="1" height="77" fill="url(#c71)"/><rect x="312" y="57" width="1" height="77" fill="url(#c72)"/><rect x="313" y="57" width="1" height="77" fill="url(#c73)"/><rect x="314" y="57" width="1" height="77" fill="url(#c45)"/><rect x="315" y="57" width="1" height="77" fill="url(#c74)"/><rect x="316" y="57" width="1" height="77" fill="url(#c75)"/><rect x="317" y="57" width="1" height="77" fill="url(#c76)"/><rect x="318" y="57" width="1" height="77" fill="url(#c77)"/><rect x="319" y="57" width="1" height="77" fill="url(#c78)"/><rect x="320" y="57" width="1" height="77" fill="url(#c75)"/><rect x="321" y="57" width="1" height="77" fill="url(#c79)"/><rect x="322" y="57" width="1" height="77" fill="url(#c80)"/><rect x="323" y="57" width="1" height="77" fill="url(#c81)"/><rect x="324" y="57" width="1" height="77" fill="url(#c82)"/><rect x="325" y="57" width="1" height="77" fill="url(#c83)"/><rect x="326" y="57" width="1" height="77" fill="url(#c84)"/><rect x="327" y="57" width="1" height="77" fill="url(#c85)"/><rect x="328" y="57" width="1" height="77" fill="url(#c86)"/><rect x="329" y="57" width="1" height="77" fill="url(#c87)"/><rect x="330" y="57" width="1" height="77" fill="url(#c88)"/><rect x="331" y="57" width="2" height="77" fill="url(#c86)"/><rect x="333" y="57" width="1" height="77" fill="url(#c4)"/><rect x="334" y="57" width="1" height="77" fill="url(#c8)"/><rect x="335" y="57" width="1" height="77" fill="url(#c7)"/><rect x="336" y="57" width="1" height="77" fill="url(#c89)"/><rect x="337" y="57" width="1" height="77" fill="url(#c4)"/><rect x="338" y="57" width="1" height="77" fill="url(#c8)"/><rect x="339" y="57" width="1" height="77" fill="url(#c4)"/><rect x="340" y="57" width="1" height="77" fill="url(#c8)"/><rect x="341" y="57" width="1" height="77" fill="url(#c4)"/><rect x="342" y="57" width="1" height="77" fill="url(#c8)"/><rect x="343" y="57" width="1" height="77" fill="url(#c6)"/><rect x="344" y="57" width="1" height="77" fill="url(#c4)"/><rect x="345" y="57" width="1" height="77" fill="url(#c7)"/><rect x="346" y="57" width="2" height="77" fill="url(#c6)"/><rect x="348" y="57" width="1" height="77" fill="url(#c7)"/><rect x="349" y="57" width="1" height="77" fill="url(#c89)"/><rect x="350" y="57" width="1" height="77" fill="url(#c8)"/><rect x="351" y="57" width="1" height="77" fill="url(#c89)"/><rect x="352" y="57" width="3" height="77" fill="url(#c6)"/><rect x="355" y="57" width="1" height="77" fill="url(#c4)"/><rect x="356" y="57" width="1" height="77" fill="url(#c8)"/><rect x="357" y="57" width="2" height="77" fill="url(#c89)"/><rect x="359" y="57" width="1" height="77" fill="url(#c90)"/><rect x="360" y="57" width="1" height="77" fill="url(#c8)"/><rect x="361" y="57" width="1" height="77" fill="url(#c6)"/><rect x="362" y="57" width="1" height="77" fill="url(#c8)"/><rect x="363" y="57" width="1" height="77" fill="url(#c6)"/><rect x="364" y="57" width="1" height="77" fill="url(#c7)"/><rect x="365" y="57" width="1" height="77" fill="url(#c8)"/><rect x="366" y="57" width="1" height="77" fill="url(#c89)"/><rect x="367" y="57" width="1" height="77" fill="url(#c4)"/><rect x="368" y="57" width="1" height="77" fill="url(#c7)"/><rect x="369" y="57" width="1" height="77" fill="url(#c8)"/><rect x="370" y="57" width="1" height="77" fill="url(#c89)"/><rect x="371" y="57" width="1" height="77" fill="url(#c8)"/><rect x="372" y="57" width="1" height="77" fill="url(#c6)"/><rect x="373" y="57" width="1" height="77" fill="url(#c91)"/><rect x="374" y="57" width="1" height="77" fill="url(#c92)"/><rect x="375" y="57" width="1" height="77" fill="url(#c88)"/><rect x="376" y="57" width="1" height="77" fill="url(#c86)"/><rect x="377" y="57" width="2" height="77" fill="url(#c87)"/><rect x="379" y="57" width="1" height="77" fill="url(#c88)"/><rect x="380" y="57" width="1" height="77" fill="url(#c86)"/><rect x="381" y="57" width="1" height="77" fill="url(#c87)"/><rect x="382" y="57" width="1" height="77" fill="url(#c45)"/><rect x="383" y="57" width="1" height="77" fill="url(#c93)"/><rect x="384" y="57" width="1" height="77" fill="url(#c94)"/><rect x="385" y="57" width="1" height="77" fill="url(#c95)"/><rect x="386" y="57" width="1" height="77" fill="url(#c96)"/><rect x="387" y="57" width="1" height="77" fill="url(#c97)"/><rect x="388" y="57" width="1" height="77" fill="url(#c96)"/><rect x="389" y="57" width="2" height="77" fill="url(#c98)"/><rect x="391" y="57" width="3" height="77" fill="url(#c99)"/><rect x="394" y="57" width="1" height="77" fill="url(#c94)"/><rect x="395" y="57" width="1" height="77" fill="url(#c91)"/><rect x="396" y="57" width="1" height="77" fill="url(#c100)"/><rect x="397" y="57" width="1" height="77" fill="url(#c5)"/><rect x="398" y="57" width="1" height="77" fill="url(#c7)"/><rect x="399" y="57" width="1" height="77" fill="url(#c5)"/><rect x="400" y="57" width="1" height="77" fill="url(#c7)"/><rect x="401" y="57" width="1" height="77" fill="url(#c91)"/><rect x="402" y="57" width="1" height="77" fill="url(#c100)"/><rect x="403" y="57" width="1" height="77" fill="url(#c5)"/><rect x="404" y="57" width="1" height="77" fill="url(#c3)"/><rect x="405" y="57" width="2" height="77" fill="url(#c100)"/><rect x="407" y="57" width="1" height="77" fill="url(#c7)"/><rect x="408" y="57" width="1" height="77" fill="url(#c5)"/><rect x="409" y="57" width="1" height="77" fill="url(#c7)"/><rect x="410" y="57" width="1" height="77" fill="url(#c100)"/><rect x="411" y="57" width="2" height="77" fill="url(#c5)"/><rect x="413" y="57" width="1" height="77" fill="url(#c100)"/><rect x="414" y="57" width="1" height="77" fill="url(#c6)"/><rect x="415" y="57" width="1" height="77" fill="url(#c100)"/><rect x="416" y="57" width="1" height="77" fill="url(#c7)"/><rect x="417" y="57" width="1" height="77" fill="url(#c100)"/><rect x="418" y="57" width="1" height="77" fill="url(#c5)"/><rect x="419" y="57" width="2" height="77" fill="url(#c7)"/><rect x="421" y="57" width="1" height="77" fill="url(#c91)"/><rect x="422" y="57" width="1" height="77" fill="url(#c100)"/><rect x="423" y="57" width="2" height="77" fill="url(#c5)"/><rect x="425" y="57" width="1" height="77" fill="url(#c38)"/><rect x="426" y="57" width="3" height="77" fill="url(#c21)"/><rect x="429" y="57" width="1" height="77" fill="url(#c22)"/><rect x="430" y="57" width="1" height="77" fill="url(#c23)"/><rect x="431" y="57" width="1" height="77" fill="url(#c29)"/><rect x="432" y="57" width="2" height="77" fill="url(#c23)"/><rect x="434" y="57" width="1" height="77" fill="url(#c21)"/><rect x="435" y="57" width="1" height="77" fill="url(#c101)"/><rect x="436" y="57" width="1" height="77" fill="url(#c10)"/><rect x="437" y="57" width="1" height="77" fill="url(#c48)"/><rect x="438" y="57" width="1" height="77" fill="url(#c102)"/><rect x="439" y="57" width="1" height="77" fill="url(#c103)"/><rect x="440" y="57" width="1" height="77" fill="url(#c10)"/><rect x="441" y="57" width="1" height="77" fill="url(#c33)"/><rect x="442" y="57" width="1" height="77" fill="url(#c13)"/><rect x="443" y="57" width="1" height="77" fill="url(#c67)"/><rect x="444" y="57" width="1" height="77" fill="url(#c104)"/><rect x="445" y="57" width="1" height="77" fill="url(#c67)"/><rect x="446" y="57" width="1" height="77" fill="url(#c105)"/><rect x="447" y="57" width="1" height="77" fill="url(#c106)"/><rect x="448" y="57" width="1" height="77" fill="url(#c15)"/><rect x="449" y="57" width="1" height="77" fill="url(#c11)"/><rect x="450" y="57" width="1" height="77" fill="url(#c10)"/><rect x="451" y="57" width="2" height="77" fill="url(#c107)"/><rect x="453" y="57" width="1" height="77" fill="url(#c108)"/><rect x="454" y="57" width="1" height="77" fill="url(#c66)"/><rect x="455" y="57" width="1" height="77" fill="url(#c10)"/><rect x="456" y="57" width="1" height="77" fill="url(#c109)"/><rect x="457" y="57" width="1" height="77" fill="url(#c12)"/><rect x="458" y="57" width="1" height="77" fill="url(#c110)"/><rect x="459" y="57" width="1" height="77" fill="url(#c66)"/><rect x="460" y="57" width="1" height="77" fill="url(#c111)"/><rect x="461" y="57" width="2" height="77" fill="url(#c33)"/><rect x="463" y="57" width="2" height="77" fill="url(#c12)"/><rect x="465" y="57" width="1" height="77" fill="url(#c48)"/><rect x="466" y="57" width="1" height="77" fill="url(#c11)"/><rect x="467" y="57" width="1" height="77" fill="url(#c33)"/><rect x="468" y="57" width="1" height="77" fill="url(#c31)"/><rect x="469" y="57" width="1" height="77" fill="url(#c33)"/><rect x="470" y="57" width="1" height="77" fill="url(#c112)"/><rect x="471" y="57" width="1" height="77" fill="url(#c25)"/><rect x="472" y="57" width="1" height="77" fill="url(#c112)"/><rect x="473" y="57" width="1" height="77" fill="url(#c33)"/><rect x="474" y="57" width="1" height="77" fill="url(#c113)"/><rect x="475" y="57" width="1" height="77" fill="url(#c9)"/><rect x="476" y="57" width="1" height="77" fill="url(#c26)"/><rect x="477" y="57" width="1" height="77" fill="url(#c20)"/><rect x="478" y="57" width="1" height="77" fill="url(#c113)"/><rect x="479" y="57" width="1" height="77" fill="url(#c114)"/><rect x="480" y="57" width="1" height="77" fill="url(#c35)"/><rect x="481" y="57" width="1" height="77" fill="url(#c115)"/><rect x="482" y="57" width="1" height="77" fill="url(#c116)"/><rect x="483" y="57" width="1" height="77" fill="url(#c34)"/><rect x="484" y="57" width="2" height="77" fill="url(#c56)"/><rect x="486" y="57" width="1" height="77" fill="url(#c117)"/><rect x="487" y="57" width="2" height="77" fill="url(#c118)"/><rect x="489" y="57" width="1" height="77" fill="url(#c119)"/><rect x="490" y="57" width="1" height="77" fill="url(#c106)"/><rect x="491" y="57" width="1" height="77" fill="url(#c120)"/><rect x="492" y="57" width="1" height="77" fill="url(#c121)"/><rect x="493" y="57" width="1" height="77" fill="url(#c122)"/><rect x="494" y="57" width="1" height="77" fill="url(#c123)"/><rect x="495" y="57" width="1" height="77" fill="url(#c124)"/><rect x="496" y="57" width="1" height="77" fill="url(#c125)"/><rect x="497" y="57" width="1" height="77" fill="url(#c66)"/><rect x="498" y="57" width="1" height="77" fill="url(#c102)"/><rect x="499" y="57" width="1" height="77" fill="url(#c111)"/><rect x="500" y="57" width="1" height="77" fill="url(#c10)"/><rect x="93" y="68.7" width="32" height="3.2" fill="#8c8c8c"/><rect x="334" y="68.7" width="38" height="3.2" fill="#8c8c8c"/><rect x="389" y="68.7" width="25" height="3.2" fill="#8c8c8c"/><rect x="437" y="68.7" width="28" height="3.2" fill="#8c8c8c"/></g><g filter="url(#f2)"><rect x="81" y="153" width="1" height="77" fill="url(#c126)"/><rect x="82" y="153" width="2" height="77" fill="url(#c41)"/><rect x="84" y="153" width="2" height="77" fill="url(#c2)"/><rect x="86" y="153" width="1" height="77" fill="url(#c95)"/><rect x="87" y="153" width="1" height="77" fill="url(#c4)"/><rect x="88" y="153" width="1" height="77" fill="url(#c6)"/><rect x="89" y="153" width="1" height="77" fill="url(#c4)"/><rect x="90" y="153" width="1" height="77" fill="url(#c7)"/><rect x="91" y="153" width="1" height="77" fill="url(#c4)"/><rect x="92" y="153" width="1" height="77" fill="url(#c8)"/><rect x="93" y="153" width="2" height="77" fill="url(#c7)"/><rect x="95" y="153" width="1" height="77" fill="url(#c4)"/><rect x="96" y="153" width="1" height="77" fill="url(#c5)"/><rect x="97" y="153" width="1" height="77" fill="url(#c7)"/><rect x="98" y="153" width="1" height="77" fill="url(#c8)"/><rect x="99" y="153" width="1" height="77" fill="url(#c4)"/><rect x="100" y="153" width="1" height="77" fill="url(#c5)"/><rect x="101" y="153" width="2" height="77" fill="url(#c8)"/><rect x="103" y="153" width="1" height="77" fill="url(#c6)"/><rect x="104" y="153" width="1" height="77" fill="url(#c8)"/><rect x="105" y="153" width="1" height="77" fill="url(#c6)"/><rect x="106" y="153" width="1" height="77" fill="url(#c7)"/><rect x="107" y="153" width="2" height="77" fill="url(#c6)"/><rect x="109" y="153" width="2" height="77" fill="url(#c4)"/><rect x="111" y="153" width="1" height="77" fill="url(#c6)"/><rect x="112" y="153" width="1" height="77" fill="url(#c7)"/><rect x="113" y="153" width="2" height="77" fill="url(#c4)"/><rect x="115" y="153" width="1" height="77" fill="url(#c5)"/><rect x="116" y="153" width="1" height="77" fill="url(#c4)"/><rect x="117" y="153" width="1" height="77" fill="url(#c6)"/><rect x="118" y="153" width="1" height="77" fill="url(#c4)"/><rect x="119" y="153" width="1" height="77" fill="url(#c5)"/><rect x="120" y="153" width="3" height="77" fill="url(#c4)"/><rect x="123" y="153" width="1" height="77" fill="url(#c9)"/><rect x="124" y="153" width="2" height="77" fill="url(#c110)"/><rect x="126" y="153" width="1" height="77" fill="url(#c67)"/><rect x="127" y="153" width="1" height="77" fill="url(#c13)"/><rect x="128" y="153" width="1" height="77" fill="url(#c35)"/><rect x="129" y="153" width="1" height="77" fill="url(#c114)"/><rect x="130" y="153" width="1" height="77" fill="url(#c28)"/><rect x="131" y="153" width="1" height="77" fill="url(#c41)"/><rect x="132" y="153" width="1" height="77" fill="url(#c18)"/><rect x="133" y="153" width="1" height="77" fill="url(#c25)"/><rect x="134" y="153" width="1" height="77" fill="url(#c18)"/><rect x="135" y="153" width="1" height="77" fill="url(#c127)"/><rect x="136" y="153" width="1" height="77" fill="url(#c14)"/><rect x="137" y="153" width="1" height="77" fill="url(#c13)"/><rect x="138" y="153" width="1" height="77" fill="url(#c23)"/><rect x="139" y="153" width="1" height="77" fill="url(#c31)"/><rect x="140" y="153" width="1" height="77" fill="url(#c23)"/><rect x="141" y="153" width="1" height="77" fill="url(#c22)"/><rect x="142" y="153" width="2" height="77" fill="url(#c25)"/><rect x="144" y="153" width="2" height="77" fill="url(#c13)"/><rect x="146" y="153" width="1" height="77" fill="url(#c26)"/><rect x="147" y="153" width="1" height="77" fill="url(#c20)"/><rect x="148" y="153" width="1" height="77" fill="url(#c17)"/><rect x="149" y="153" width="1" height="77" fill="url(#c35)"/><rect x="150" y="153" width="1" height="77" fill="url(#c128)"/><rect x="151" y="153" width="1" height="77" fill="url(#c116)"/><rect x="152" y="153" width="1" height="77" fill="url(#c29)"/><rect x="153" y="153" width="1" height="77" fill="url(#c23)"/><rect x="154" y="153" width="1" height="77" fill="url(#c29)"/><rect x="155" y="153" width="2" height="77" fill="url(#c22)"/><rect x="157" y="153" width="1" height="77" fill="url(#c32)"/><rect x="158" y="153" width="1" height="77" fill="url(#c33)"/><rect x="159" y="153" width="1" height="77" fill="url(#c129)"/><rect x="160" y="153" width="1" height="77" fill="url(#c35)"/><rect x="161" y="153" width="1" height="77" fill="url(#c129)"/><rect x="162" y="153" width="1" height="77" fill="url(#c35)"/><rect x="163" y="153" width="1" height="77" fill="url(#c23)"/><rect x="164" y="153" width="1" height="77" fill="url(#c38)"/><rect x="165" y="153" width="1" height="77" fill="url(#c29)"/><rect x="166" y="153" width="1" height="77" fill="url(#c41)"/><rect x="167" y="153" width="2" height="77" fill="url(#c22)"/><rect x="169" y="153" width="1" height="77" fill="url(#c29)"/><rect x="170" y="153" width="1" height="77" fill="url(#c22)"/><rect x="171" y="153" width="1" height="77" fill="url(#c35)"/><rect x="172" y="153" width="1" height="77" fill="url(#c21)"/><rect x="173" y="153" width="1" height="77" fill="url(#c23)"/><rect x="174" y="153" width="1" height="77" fill="url(#c29)"/><rect x="175" y="153" width="1" height="77" fill="url(#c2)"/><rect x="176" y="153" width="1" height="77" fill="url(#c17)"/><rect x="177" y="153" width="1" height="77" fill="url(#c23)"/><rect x="178" y="153" width="1" height="77" fill="url(#c29)"/><rect x="179" y="153" width="1" height="77" fill="url(#c38)"/><rect x="180" y="153" width="1" height="77" fill="url(#c31)"/><rect x="181" y="153" width="1" height="77" fill="url(#c22)"/><rect x="182" y="153" width="1" height="77" fill="url(#c2)"/><rect x="183" y="153" width="1" height="77" fill="url(#c29)"/><rect x="184" y="153" width="1" height="77" fill="url(#c23)"/><rect x="185" y="153" width="1" height="77" fill="url(#c29)"/><rect x="186" y="153" width="1" height="77" fill="url(#c21)"/><rect x="187" y="153" width="1" height="77" fill="url(#c25)"/><rect x="188" y="153" width="2" height="77" fill="url(#c29)"/><rect x="190" y="153" width="1" height="77" fill="url(#c31)"/><rect x="191" y="153" width="1" height="77" fill="url(#c23)"/><rect x="192" y="153" width="1" height="77" fill="url(#c25)"/><rect x="193" y="153" width="1" height="77" fill="url(#c23)"/><rect x="194" y="153" width="1" height="77" fill="url(#c38)"/><rect x="195" y="153" width="1" height="77" fill="url(#c22)"/><rect x="196" y="153" width="1" height="77" fill="url(#c23)"/><rect x="197" y="153" width="1" height="77" fill="url(#c31)"/><rect x="198" y="153" width="1" height="77" fill="url(#c23)"/><rect x="199" y="153" width="1" height="77" fill="url(#c2)"/><rect x="200" y="153" width="1" height="77" fill="url(#c42)"/><rect x="201" y="153" width="1" height="77" fill="url(#c38)"/><rect x="202" y="153" width="1" height="77" fill="url(#c23)"/><rect x="203" y="153" width="1" height="77" fill="url(#c130)"/><rect x="204" y="153" width="2" height="77" fill="url(#c22)"/><rect x="206" y="153" width="1" height="77" fill="url(#c38)"/><rect x="207" y="153" width="1" height="77" fill="url(#c22)"/><rect x="208" y="153" width="1" height="77" fill="url(#c21)"/><rect x="209" y="153" width="1" height="77" fill="url(#c38)"/><rect x="210" y="153" width="2" height="77" fill="url(#c23)"/><rect x="212" y="153" width="1" height="77" fill="url(#c38)"/><rect x="213" y="153" width="1" height="77" fill="url(#c23)"/><rect x="214" y="153" width="1" height="77" fill="url(#c38)"/><rect x="215" y="153" width="1" height="77" fill="url(#c23)"/><rect x="216" y="153" width="1" height="77" fill="url(#c22)"/><rect x="217" y="153" width="1" height="77" fill="url(#c23)"/><rect x="218" y="153" width="1" height="77" fill="url(#c21)"/><rect x="219" y="153" width="1" height="77" fill="url(#c23)"/><rect x="220" y="153" width="1" height="77" fill="url(#c29)"/><rect x="221" y="153" width="2" height="77" fill="url(#c2)"/><rect x="223" y="153" width="1" height="77" fill="url(#c38)"/><rect x="224" y="153" width="1" height="77" fill="url(#c23)"/><rect x="225" y="153" width="1" height="77" fill="url(#c29)"/><rect x="226" y="153" width="1" height="77" fill="url(#c21)"/><rect x="227" y="153" width="1" height="77" fill="url(#c23)"/><rect x="228" y="153" width="2" height="77" fill="url(#c38)"/><rect x="230" y="153" width="1" height="77" fill="url(#c22)"/><rect x="231" y="153" width="1" height="77" fill="url(#c38)"/><rect x="232" y="153" width="1" height="77" fill="url(#c2)"/><rect x="233" y="153" width="1" height="77" fill="url(#c31)"/><rect x="234" y="153" width="1" height="77" fill="url(#c23)"/><rect x="235" y="153" width="1" height="77" fill="url(#c2)"/><rect x="236" y="153" width="1" height="77" fill="url(#c23)"/><rect x="237" y="153" width="1" height="77" fill="url(#c29)"/><rect x="238" y="153" width="1" height="77" fill="url(#c38)"/><rect x="239" y="153" width="1" height="77" fill="url(#c43)"/><rect x="240" y="153" width="1" height="77" fill="url(#c2)"/><rect x="241" y="153" width="1" height="77" fill="url(#c29)"/><rect x="242" y="153" width="1" height="77" fill="url(#c38)"/><rect x="243" y="153" width="1" height="77" fill="url(#c22)"/><rect x="244" y="153" width="2" height="77" fill="url(#c2)"/><rect x="246" y="153" width="1" height="77" fill="url(#c38)"/><rect x="247" y="153" width="1" height="77" fill="url(#c31)"/><rect x="248" y="153" width="1" height="77" fill="url(#c2)"/><rect x="249" y="153" width="1" height="77" fill="url(#c21)"/><rect x="250" y="153" width="2" height="77" fill="url(#c25)"/><rect x="252" y="153" width="1" height="77" fill="url(#c33)"/><rect x="253" y="153" width="1" height="77" fill="url(#c112)"/><rect x="254" y="153" width="1" height="77" fill="url(#c131)"/><rect x="255" y="153" width="2" height="77" fill="url(#c112)"/><rect x="257" y="153" width="1" height="77" fill="url(#c131)"/><rect x="258" y="153" width="1" height="77" fill="url(#c33)"/><rect x="259" y="153" width="1" height="77" fill="url(#c38)"/><rect x="260" y="153" width="1" height="77" fill="url(#c25)"/><rect x="261" y="153" width="1" height="77" fill="url(#c24)"/><rect x="262" y="153" width="1" height="77" fill="url(#c33)"/><rect x="263" y="153" width="1" height="77" fill="url(#c34)"/><rect x="264" y="153" width="1" height="77" fill="url(#c13)"/><rect x="265" y="153" width="1" height="77" fill="url(#c30)"/><rect x="266" y="153" width="1" height="77" fill="url(#c31)"/><rect x="267" y="153" width="1" height="77" fill="url(#c21)"/><rect x="268" y="153" width="1" height="77" fill="url(#c23)"/><rect x="269" y="153" width="1" height="77" fill="url(#c13)"/><rect x="270" y="153" width="1" height="77" fill="url(#c38)"/><rect x="271" y="153" width="1" height="77" fill="url(#c56)"/><rect x="272" y="153" width="1" height="77" fill="url(#c66)"/><rect x="273" y="153" width="1" height="77" fill="url(#c120)"/><rect x="274" y="153" width="1" height="77" fill="url(#c118)"/><rect x="275" y="153" width="1" height="77" fill="url(#c102)"/><rect x="276" y="153" width="1" height="77" fill="url(#c132)"/><rect x="277" y="153" width="1" height="77" fill="url(#c101)"/><rect x="278" y="153" width="1" height="77" fill="url(#c133)"/><rect x="279" y="153" width="1" height="77" fill="url(#c48)"/><rect x="280" y="153" width="1" height="77" fill="url(#c112)"/><rect x="281" y="153" width="2" height="77" fill="url(#c33)"/><rect x="283" y="153" width="2" height="77" fill="url(#c69)"/><rect x="285" y="153" width="1" height="77" fill="url(#c60)"/><rect x="286" y="153" width="1" height="77" fill="url(#c39)"/><rect x="287" y="153" width="1" height="77" fill="url(#c36)"/><rect x="288" y="153" width="1" height="77" fill="url(#c33)"/><rect x="289" y="153" width="1" height="77" fill="url(#c56)"/><rect x="290" y="153" width="1" height="77" fill="url(#c20)"/><rect x="291" y="153" width="1" height="77" fill="url(#c19)"/><rect x="292" y="153" width="1" height="77" fill="url(#c134)"/><rect x="293" y="153" width="1" height="77" fill="url(#c69)"/><rect x="294" y="153" width="1" height="77" fill="url(#c58)"/><rect x="295" y="153" width="1" height="77" fill="url(#c135)"/><rect x="296" y="153" width="1" height="77" fill="url(#c15)"/><rect x="297" y="153" width="1" height="77" fill="url(#c135)"/><rect x="298" y="153" width="1" height="77" fill="url(#c112)"/><rect x="299" y="153" width="1" height="77" fill="url(#c36)"/><rect x="300" y="153" width="1" height="77" fill="url(#c112)"/><rect x="301" y="153" width="1" height="77" fill="url(#c16)"/><rect x="302" y="153" width="1" height="77" fill="url(#c62)"/><rect x="303" y="153" width="1" height="77" fill="url(#c136)"/><rect x="304" y="153" width="1" height="77" fill="url(#c36)"/><rect x="305" y="153" width="1" height="77" fill="url(#c46)"/><rect x="306" y="153" width="1" height="77" fill="url(#c68)"/><rect x="307" y="153" width="1" height="77" fill="url(#c27)"/><rect x="308" y="153" width="1" height="77" fill="url(#c129)"/><rect x="309" y="153" width="1" height="77" fill="url(#c137)"/><rect x="310" y="153" width="1" height="77" fill="url(#c60)"/><rect x="311" y="153" width="1" height="77" fill="url(#c138)"/><rect x="312" y="153" width="1" height="77" fill="url(#c72)"/><rect x="313" y="153" width="1" height="77" fill="url(#c139)"/><rect x="314" y="153" width="1" height="77" fill="url(#c45)"/><rect x="315" y="153" width="1" height="77" fill="url(#c140)"/><rect x="316" y="153" width="1" height="77" fill="url(#c141)"/><rect x="317" y="153" width="1" height="77" fill="url(#c79)"/><rect x="318" y="153" width="1" height="77" fill="url(#c142)"/><rect x="319" y="153" width="1" height="77" fill="url(#c143)"/><rect x="320" y="153" width="1" height="77" fill="url(#c78)"/><rect x="321" y="153" width="1" height="77" fill="url(#c144)"/><rect x="322" y="153" width="1" height="77" fill="url(#c145)"/><rect x="323" y="153" width="1" height="77" fill="url(#c146)"/><rect x="324" y="153" width="1" height="77" fill="url(#c147)"/><rect x="325" y="153" width="1" height="77" fill="url(#c148)"/><rect x="326" y="153" width="1" height="77" fill="url(#c84)"/><rect x="327" y="153" width="1" height="77" fill="url(#c88)"/><rect x="328" y="153" width="1" height="77" fill="url(#c87)"/><rect x="329" y="153" width="2" height="77" fill="url(#c88)"/><rect x="331" y="153" width="1" height="77" fill="url(#c86)"/><rect x="332" y="153" width="1" height="77" fill="url(#c88)"/><rect x="333" y="153" width="3" height="77" fill="url(#c4)"/><rect x="336" y="153" width="2" height="77" fill="url(#c6)"/><rect x="338" y="153" width="2" height="77" fill="url(#c8)"/><rect x="340" y="153" width="1" height="77" fill="url(#c89)"/><rect x="341" y="153" width="1" height="77" fill="url(#c7)"/><rect x="342" y="153" width="1" height="77" fill="url(#c89)"/><rect x="343" y="153" width="1" height="77" fill="url(#c6)"/><rect x="344" y="153" width="1" height="77" fill="url(#c8)"/><rect x="345" y="153" width="1" height="77" fill="url(#c89)"/><rect x="346" y="153" width="1" height="77" fill="url(#c7)"/><rect x="347" y="153" width="1" height="77" fill="url(#c4)"/><rect x="348" y="153" width="1" height="77" fill="url(#c6)"/><rect x="349" y="153" width="2" height="77" fill="url(#c89)"/><rect x="351" y="153" width="1" height="77" fill="url(#c4)"/><rect x="352" y="153" width="1" height="77" fill="url(#c6)"/><rect x="353" y="153" width="1" height="77" fill="url(#c4)"/><rect x="354" y="153" width="1" height="77" fill="url(#c89)"/><rect x="355" y="153" width="1" height="77" fill="url(#c6)"/><rect x="356" y="153" width="1" height="77" fill="url(#c4)"/><rect x="357" y="153" width="2" height="77" fill="url(#c7)"/><rect x="359" y="153" width="1" height="77" fill="url(#c90)"/><rect x="360" y="153" width="2" height="77" fill="url(#c6)"/><rect x="362" y="153" width="2" height="77" fill="url(#c4)"/><rect x="364" y="153" width="1" height="77" fill="url(#c6)"/><rect x="365" y="153" width="1" height="77" fill="url(#c8)"/><rect x="366" y="153" width="1" height="77" fill="url(#c6)"/><rect x="367" y="153" width="1" height="77" fill="url(#c7)"/><rect x="368" y="153" width="1" height="77" fill="url(#c89)"/><rect x="369" y="153" width="1" height="77" fill="url(#c4)"/><rect x="370" y="153" width="1" height="77" fill="url(#c8)"/><rect x="371" y="153" width="1" height="77" fill="url(#c89)"/><rect x="372" y="153" width="1" height="77" fill="url(#c4)"/><rect x="373" y="153" width="1" height="77" fill="url(#c86)"/><rect x="374" y="153" width="1" height="77" fill="url(#c92)"/><rect x="375" y="153" width="1" height="77" fill="url(#c88)"/><rect x="376" y="153" width="1" height="77" fill="url(#c85)"/><rect x="377" y="153" width="2" height="77" fill="url(#c87)"/><rect x="379" y="153" width="1" height="77" fill="url(#c85)"/><rect x="380" y="153" width="2" height="77" fill="url(#c88)"/><rect x="382" y="153" width="1" height="77" fill="url(#c45)"/><rect x="383" y="153" width="1" height="77" fill="url(#c93)"/><rect x="384" y="153" width="1" height="77" fill="url(#c94)"/><rect x="385" y="153" width="1" height="77" fill="url(#c95)"/><rect x="386" y="153" width="1" height="77" fill="url(#c98)"/><rect x="387" y="153" width="1" height="77" fill="url(#c149)"/><rect x="388" y="153" width="1" height="77" fill="url(#c98)"/><rect x="389" y="153" width="2" height="77" fill="url(#c96)"/><rect x="391" y="153" width="3" height="77" fill="url(#c99)"/><rect x="394" y="153" width="1" height="77" fill="url(#c94)"/><rect x="395" y="153" width="2" height="77" fill="url(#c85)"/><rect x="397" y="153" width="4" height="77" fill="url(#c150)"/><rect x="401" y="153" width="1" height="77" fill="url(#c2)"/><rect x="402" y="153" width="1" height="77" fill="url(#c150)"/><rect x="403" y="153" width="1" height="77" fill="url(#c29)"/><rect x="404" y="153" width="1" height="77" fill="url(#c151)"/><rect x="405" y="153" width="1" height="77" fill="url(#c29)"/><rect x="406" y="153" width="1" height="77" fill="url(#c86)"/><rect x="407" y="153" width="3" height="77" fill="url(#c29)"/><rect x="410" y="153" width="1" height="77" fill="url(#c2)"/><rect x="411" y="153" width="1" height="77" fill="url(#c85)"/><rect x="412" y="153" width="1" height="77" fill="url(#c150)"/><rect x="413" y="153" width="1" height="77" fill="url(#c86)"/><rect x="414" y="153" width="1" height="77" fill="url(#c150)"/><rect x="415" y="153" width="1" height="77" fill="url(#c85)"/><rect x="416" y="153" width="1" height="77" fill="url(#c86)"/><rect x="417" y="153" width="1" height="77" fill="url(#c85)"/><rect x="418" y="153" width="2" height="77" fill="url(#c150)"/><rect x="420" y="153" width="1" height="77" fill="url(#c2)"/><rect x="421" y="153" width="2" height="77" fill="url(#c85)"/><rect x="423" y="153" width="1" height="77" fill="url(#c150)"/><rect x="424" y="153" width="1" height="77" fill="url(#c2)"/><rect x="425" y="153" width="1" height="77" fill="url(#c29)"/><rect x="426" y="153" width="1" height="77" fill="url(#c23)"/><rect x="427" y="153" width="1" height="77" fill="url(#c22)"/><rect x="428" y="153" width="2" height="77" fill="url(#c38)"/><rect x="430" y="153" width="2" height="77" fill="url(#c21)"/><rect x="432" y="153" width="1" height="77" fill="url(#c22)"/><rect x="433" y="153" width="1" height="77" fill="url(#c21)"/><rect x="434" y="153" width="1" height="77" fill="url(#c29)"/><rect x="435" y="153" width="1" height="77" fill="url(#c59)"/><rect x="436" y="153" width="1" height="77" fill="url(#c152)"/><rect x="437" y="153" width="2" height="77" fill="url(#c118)"/><rect x="439" y="153" width="1" height="77" fill="url(#c152)"/><rect x="440" y="153" width="1" height="77" fill="url(#c121)"/><rect x="441" y="153" width="1" height="77" fill="url(#c24)"/><rect x="442" y="153" width="1" height="77" fill="url(#c33)"/><rect x="443" y="153" width="1" height="77" fill="url(#c153)"/><rect x="444" y="153" width="1" height="77" fill="url(#c154)"/><rect x="445" y="153" width="1" height="77" fill="url(#c155)"/><rect x="446" y="153" width="1" height="77" fill="url(#c108)"/><rect x="447" y="153" width="1" height="77" fill="url(#c107)"/><rect x="448" y="153" width="1" height="77" fill="url(#c152)"/><rect x="449" y="153" width="1" height="77" fill="url(#c111)"/><rect x="450" y="153" width="1" height="77" fill="url(#c66)"/><rect x="451" y="153" width="1" height="77" fill="url(#c67)"/><rect x="452" y="153" width="1" height="77" fill="url(#c120)"/><rect x="453" y="153" width="1" height="77" fill="url(#c106)"/><rect x="454" y="153" width="1" height="77" fill="url(#c127)"/><rect x="455" y="153" width="1" height="77" fill="url(#c102)"/><rect x="456" y="153" width="1" height="77" fill="url(#c48)"/><rect x="457" y="153" width="1" height="77" fill="url(#c11)"/><rect x="458" y="153" width="2" height="77" fill="url(#c67)"/><rect x="460" y="153" width="1" height="77" fill="url(#c117)"/><rect x="461" y="153" width="2" height="77" fill="url(#c33)"/><rect x="463" y="153" width="1" height="77" fill="url(#c109)"/><rect x="464" y="153" width="1" height="77" fill="url(#c12)"/><rect x="465" y="153" width="1" height="77" fill="url(#c125)"/><rect x="466" y="153" width="1" height="77" fill="url(#c12)"/><rect x="467" y="153" width="1" height="77" fill="url(#c112)"/><rect x="468" y="153" width="1" height="77" fill="url(#c36)"/><rect x="469" y="153" width="1" height="77" fill="url(#c33)"/><rect x="470" y="153" width="1" height="77" fill="url(#c56)"/><rect x="471" y="153" width="1" height="77" fill="url(#c25)"/><rect x="472" y="153" width="1" height="77" fill="url(#c36)"/><rect x="473" y="153" width="1" height="77" fill="url(#c33)"/><rect x="474" y="153" width="1" height="77" fill="url(#c156)"/><rect x="475" y="153" width="1" height="77" fill="url(#c123)"/><rect x="476" y="153" width="1" height="77" fill="url(#c125)"/><rect x="477" y="153" width="1" height="77" fill="url(#c9)"/><rect x="478" y="153" width="1" height="77" fill="url(#c26)"/><rect x="479" y="153" width="1" height="77" fill="url(#c14)"/><rect x="480" y="153" width="1" height="77" fill="url(#c20)"/><rect x="481" y="153" width="1" height="77" fill="url(#c157)"/><rect x="482" y="153" width="1" height="77" fill="url(#c9)"/><rect x="483" y="153" width="1" height="77" fill="url(#c14)"/><rect x="484" y="153" width="2" height="77" fill="url(#c56)"/><rect x="486" y="153" width="1" height="77" fill="url(#c132)"/><rect x="487" y="153" width="1" height="77" fill="url(#c121)"/><rect x="488" y="153" width="1" height="77" fill="url(#c66)"/><rect x="489" y="153" width="1" height="77" fill="url(#c118)"/><rect x="490" y="153" width="1" height="77" fill="url(#c111)"/><rect x="491" y="153" width="1" height="77" fill="url(#c152)"/><rect x="492" y="153" width="2" height="77" fill="url(#c10)"/><rect x="494" y="153" width="1" height="77" fill="url(#c158)"/><rect x="495" y="153" width="1" height="77" fill="url(#c128)"/><rect x="496" y="153" width="1" height="77" fill="url(#c156)"/><rect x="497" y="153" width="1" height="77" fill="url(#c122)"/><rect x="498" y="153" width="1" height="77" fill="url(#c101)"/><rect x="499" y="153" width="1" height="77" fill="url(#c10)"/><rect x="500" y="153" width="1" height="77" fill="url(#c132)"/><rect x="93" y="164.7" width="32" height="3.2" fill="#8c8c8c"/><rect x="334" y="164.7" width="38" height="3.2" fill="#8c8c8c"/><rect x="389" y="164.7" width="25" height="3.2" fill="#8c8c8c"/><rect x="437" y="164.7" width="28" height="3.2" fill="#8c8c8c"/></g><g filter="url(#f3)"><rect x="81" y="249" width="1" height="77" fill="url(#c159)"/><rect x="82" y="249" width="1" height="77" fill="url(#c160)"/><rect x="83" y="249" width="1" height="77" fill="url(#c161)"/><rect x="84" y="249" width="19" height="77" fill="url(#c162)"/><rect x="103" y="249" width="2" height="77" fill="url(#c163)"/><rect x="105" y="249" width="19" height="77" fill="url(#c164)"/><rect x="124" y="249" width="1" height="77" fill="url(#c165)"/><rect x="125" y="249" width="1" height="77" fill="url(#c166)"/><rect x="126" y="249" width="5" height="77" fill="url(#c164)"/><rect x="131" y="249" width="1" height="77" fill="url(#c167)"/><rect x="132" y="249" width="1" height="77" fill="url(#c168)"/><rect x="133" y="249" width="1" height="77" fill="url(#c169)"/><rect x="134" y="249" width="1" height="77" fill="url(#c167)"/><rect x="135" y="249" width="1" height="77" fill="url(#c170)"/><rect x="136" y="249" width="10" height="77" fill="url(#c164)"/><rect x="146" y="249" width="1" height="77" fill="url(#c171)"/><rect x="147" y="249" width="1" height="77" fill="url(#c168)"/><rect x="148" y="249" width="1" height="77" fill="url(#c171)"/><rect x="149" y="249" width="8" height="77" fill="url(#c164)"/><rect x="157" y="249" width="1" height="77" fill="url(#c172)"/><rect x="158" y="249" width="29" height="77" fill="url(#c164)"/><rect x="187" y="249" width="1" height="77" fill="url(#c171)"/><rect x="188" y="249" width="12" height="77" fill="url(#c164)"/><rect x="200" y="249" width="1" height="77" fill="url(#c173)"/><rect x="201" y="249" width="39" height="77" fill="url(#c164)"/><rect x="240" y="249" width="1" height="77" fill="url(#c174)"/><rect x="241" y="249" width="9" height="77" fill="url(#c164)"/><rect x="250" y="249" width="1" height="77" fill="url(#c175)"/><rect x="251" y="249" width="1" height="77" fill="url(#c176)"/><rect x="252" y="249" width="1" height="77" fill="url(#c177)"/><rect x="253" y="249" width="1" height="77" fill="url(#c178)"/><rect x="254" y="249" width="1" height="77" fill="url(#c177)"/><rect x="255" y="249" width="1" height="77" fill="url(#c179)"/><rect x="256" y="249" width="1" height="77" fill="url(#c177)"/><rect x="257" y="249" width="2" height="77" fill="url(#c176)"/><rect x="259" y="249" width="1" height="77" fill="url(#c180)"/><rect x="260" y="249" width="1" height="77" fill="url(#c178)"/><rect x="261" y="249" width="1" height="77" fill="url(#c181)"/><rect x="262" y="249" width="1" height="77" fill="url(#c182)"/><rect x="263" y="249" width="1" height="77" fill="url(#c183)"/><rect x="264" y="249" width="1" height="77" fill="url(#c184)"/><rect x="265" y="249" width="1" height="77" fill="url(#c182)"/><rect x="266" y="249" width="1" height="77" fill="url(#c184)"/><rect x="267" y="249" width="1" height="77" fill="url(#c185)"/><rect x="268" y="249" width="5" height="77" fill="url(#c164)"/><rect x="273" y="249" width="1" height="77" fill="url(#c186)"/><rect x="274" y="249" width="1" height="77" fill="url(#c187)"/><rect x="275" y="249" width="1" height="77" fill="url(#c186)"/><rect x="276" y="249" width="8" height="77" fill="url(#c164)"/><rect x="284" y="249" width="1" height="77" fill="url(#c188)"/><rect x="285" y="249" width="1" height="77" fill="url(#c172)"/><rect x="286" y="249" width="4" height="77" fill="url(#c164)"/><rect x="290" y="249" width="1" height="77" fill="url(#c189)"/><rect x="291" y="249" width="1" height="77" fill="url(#c169)"/><rect x="292" y="249" width="1" height="77" fill="url(#c180)"/><rect x="293" y="249" width="1" height="77" fill="url(#c183)"/><rect x="294" y="249" width="1" height="77" fill="url(#c190)"/><rect x="295" y="249" width="1" height="77" fill="url(#c166)"/><rect x="296" y="249" width="1" height="77" fill="url(#c191)"/><rect x="297" y="249" width="2" height="77" fill="url(#c192)"/><rect x="299" y="249" width="1" height="77" fill="url(#c193)"/><rect x="300" y="249" width="1" height="77" fill="url(#c194)"/><rect x="301" y="249" width="1" height="77" fill="url(#c195)"/><rect x="302" y="249" width="1" height="77" fill="url(#c196)"/><rect x="303" y="249" width="1" height="77" fill="url(#c197)"/><rect x="304" y="249" width="1" height="77" fill="url(#c198)"/><rect x="305" y="249" width="1" height="77" fill="url(#c199)"/><rect x="306" y="249" width="1" height="77" fill="url(#c200)"/><rect x="307" y="249" width="1" height="77" fill="url(#c201)"/><rect x="308" y="249" width="1" height="77" fill="url(#c202)"/><rect x="309" y="249" width="1" height="77" fill="url(#c203)"/><rect x="310" y="249" width="2" height="77" fill="url(#c204)"/><rect x="312" y="249" width="1" height="77" fill="url(#c197)"/><rect x="313" y="249" width="1" height="77" fill="url(#c205)"/><rect x="314" y="249" width="1" height="77" fill="url(#c206)"/><rect x="315" y="249" width="1" height="77" fill="url(#c207)"/><rect x="316" y="249" width="1" height="77" fill="url(#c206)"/><rect x="317" y="249" width="1" height="77" fill="url(#c208)"/><rect x="318" y="249" width="1" height="77" fill="url(#c209)"/><rect x="319" y="249" width="1" height="77" fill="url(#c210)"/><rect x="320" y="249" width="1" height="77" fill="url(#c211)"/><rect x="321" y="249" width="1" height="77" fill="url(#c212)"/><rect x="322" y="249" width="1" height="77" fill="url(#c213)"/><rect x="323" y="249" width="1" height="77" fill="url(#c214)"/><rect x="324" y="249" width="1" height="77" fill="url(#c210)"/><rect x="325" y="249" width="1" height="77" fill="url(#c212)"/><rect x="326" y="249" width="1" height="77" fill="url(#c215)"/><rect x="327" y="249" width="27" height="77" fill="url(#c216)"/><rect x="354" y="249" width="6" height="77" fill="url(#c217)"/><rect x="360" y="249" width="22" height="77" fill="url(#c162)"/><rect x="382" y="249" width="1" height="77" fill="url(#c218)"/><rect x="383" y="249" width="1" height="77" fill="url(#c219)"/><rect x="384" y="249" width="1" height="77" fill="url(#c220)"/><rect x="385" y="249" width="1" height="77" fill="url(#c221)"/><rect x="386" y="249" width="1" height="77" fill="url(#c222)"/><rect x="387" y="249" width="1" height="77" fill="url(#c223)"/><rect x="388" y="249" width="1" height="77" fill="url(#c224)"/><rect x="389" y="249" width="1" height="77" fill="url(#c225)"/><rect x="390" y="249" width="1" height="77" fill="url(#c226)"/><rect x="391" y="249" width="1" height="77" fill="url(#c227)"/><rect x="392" y="249" width="1" height="77" fill="url(#c228)"/><rect x="393" y="249" width="1" height="77" fill="url(#c229)"/><rect x="394" y="249" width="1" height="77" fill="url(#c227)"/><rect x="395" y="249" width="19" height="77" fill="url(#c230)"/><rect x="414" y="249" width="3" height="77" fill="url(#c231)"/><rect x="417" y="249" width="3" height="77" fill="url(#c232)"/><rect x="420" y="249" width="16" height="77" fill="url(#c233)"/><rect x="436" y="249" width="1" height="77" fill="url(#c234)"/><rect x="437" y="249" width="1" height="77" fill="url(#c235)"/><rect x="438" y="249" width="1" height="77" fill="url(#c236)"/><rect x="439" y="249" width="1" height="77" fill="url(#c235)"/><rect x="440" y="249" width="1" height="77" fill="url(#c237)"/><rect x="441" y="249" width="2" height="77" fill="url(#c233)"/><rect x="443" y="249" width="1" height="77" fill="url(#c235)"/><rect x="444" y="249" width="1" height="77" fill="url(#c238)"/><rect x="445" y="249" width="1" height="77" fill="url(#c239)"/><rect x="446" y="249" width="1" height="77" fill="url(#c240)"/><rect x="447" y="249" width="1" height="77" fill="url(#c241)"/><rect x="448" y="249" width="1" height="77" fill="url(#c242)"/><rect x="449" y="249" width="1" height="77" fill="url(#c237)"/><rect x="450" y="249" width="1" height="77" fill="url(#c243)"/><rect x="451" y="249" width="1" height="77" fill="url(#c244)"/><rect x="452" y="249" width="1" height="77" fill="url(#c243)"/><rect x="453" y="249" width="1" height="77" fill="url(#c236)"/><rect x="454" y="249" width="1" height="77" fill="url(#c243)"/><rect x="455" y="249" width="1" height="77" fill="url(#c235)"/><rect x="456" y="249" width="1" height="77" fill="url(#c245)"/><rect x="457" y="249" width="2" height="77" fill="url(#c243)"/><rect x="459" y="249" width="1" height="77" fill="url(#c246)"/><rect x="460" y="249" width="1" height="77" fill="url(#c235)"/><rect x="461" y="249" width="3" height="77" fill="url(#c233)"/><rect x="464" y="249" width="1" height="77" fill="url(#c244)"/><rect x="465" y="249" width="1" height="77" fill="url(#c243)"/><rect x="466" y="249" width="1" height="77" fill="url(#c247)"/><rect x="467" y="249" width="1" height="77" fill="url(#c236)"/><rect x="468" y="249" width="1" height="77" fill="url(#c237)"/><rect x="469" y="249" width="15" height="77" fill="url(#c233)"/><rect x="484" y="249" width="1" height="77" fill="url(#c248)"/><rect x="485" y="249" width="2" height="77" fill="url(#c249)"/><rect x="487" y="249" width="2" height="77" fill="url(#c250)"/><rect x="489" y="249" width="3" height="77" fill="url(#c248)"/><rect x="492" y="249" width="1" height="77" fill="url(#c251)"/><rect x="493" y="249" width="1" height="77" fill="url(#c252)"/><rect x="494" y="249" width="1" height="77" fill="url(#c253)"/><rect x="495" y="249" width="1" height="77" fill="url(#c254)"/><rect x="496" y="249" width="1" height="77" fill="url(#c253)"/><rect x="497" y="249" width="1" height="77" fill="url(#c255)"/><rect x="498" y="249" width="1" height="77" fill="url(#c256)"/><rect x="499" y="249" width="1" height="77" fill="url(#c254)"/><rect x="500" y="249" width="1" height="77" fill="url(#c248)"/><path d="M81 299 L83 317 L86 326 L81 326 Z" fill="#f5f5f5"/><path d="M381 326 L383 317 L386 307 L391 307 L395 315 L397 326 Z" fill="#f9f9f9"/><rect x="81" y="324.25" width="420" height="1" fill="#000" opacity="0.13"/><rect x="81" y="321.70" width="420" height="1" fill="#000" opacity="0.13"/><rect x="81" y="319.15" width="420" height="1" fill="#000" opacity="0.13"/><rect x="81" y="316.60" width="420" height="1" fill="#000" opacity="0.13"/><rect x="81" y="314.05" width="420" height="1" fill="#000" opacity="0.13"/><rect x="81" y="311.50" width="420" height="1" fill="#000" opacity="0.13"/><rect x="81" y="308.95" width="420" height="1" fill="#000" opacity="0.13"/><rect x="81" y="306.40" width="420" height="1" fill="#000" opacity="0.13"/><rect x="81" y="303.85" width="420" height="1" fill="#000" opacity="0.13"/><rect x="81" y="301.30" width="420" height="1" fill="#000" opacity="0.13"/><rect x="81" y="298.75" width="420" height="1" fill="#000" opacity="0.13"/><rect x="81" y="296.20" width="420" height="1" fill="#000" opacity="0.13"/><rect x="81" y="293.65" width="420" height="1" fill="#000" opacity="0.13"/><rect x="93" y="260.6" width="32" height="3.2" fill="#8c8c8c"/><rect x="334" y="260.6" width="38" height="3.2" fill="#8c8c8c"/><rect x="389" y="260.6" width="25" height="3.2" fill="#8c8c8c"/><rect x="437" y="260.6" width="28" height="3.2" fill="#8c8c8c"/></g><g filter="url(#f4)"><rect x="81" y="364" width="420" height="77" fill="url(#bb0)"/><rect x="93" y="375.9" width="7" height="2.6" fill="#7f7f7f"/><rect x="101" y="375.9" width="4" height="2.6" fill="#7f7f7f"/><rect x="106" y="375.9" width="6" height="2.6" fill="#7f7f7f"/><rect x="114" y="375.9" width="10" height="2.6" fill="#7f7f7f"/><rect x="334" y="375.9" width="12" height="2.6" fill="#7f7f7f"/><rect x="348" y="375.9" width="14" height="2.6" fill="#7f7f7f"/><rect x="364" y="375.9" width="8" height="2.6" fill="#7f7f7f"/><rect x="389" y="375.9" width="6" height="2.6" fill="#7f7f7f"/><rect x="397" y="375.9" width="17" height="2.6" fill="#7f7f7f"/><rect x="437" y="375.9" width="17" height="2.6" fill="#7f7f7f"/><rect x="456" y="375.9" width="9" height="2.6" fill="#7f7f7f"/><rect x="284" y="364" width="1" height="60" fill="#737373"/></g><g filter="url(#f5)"><rect x="81" y="460" width="420" height="77" fill="url(#bb1)"/><rect x="93" y="471.8" width="7" height="3.0" fill="#7f7f7f"/><rect x="101" y="471.8" width="4" height="3.0" fill="#7f7f7f"/><rect x="106" y="471.8" width="6" height="3.0" fill="#7f7f7f"/><rect x="114" y="471.8" width="10" height="3.0" fill="#7f7f7f"/><rect x="334" y="471.8" width="12" height="3.0" fill="#7f7f7f"/><rect x="348" y="471.8" width="14" height="3.0" fill="#7f7f7f"/><rect x="364" y="471.8" width="8" height="3.0" fill="#7f7f7f"/><rect x="389" y="471.8" width="6" height="3.0" fill="#7f7f7f"/><rect x="397" y="471.8" width="17" height="3.0" fill="#7f7f7f"/><rect x="437" y="471.8" width="17" height="3.0" fill="#7f7f7f"/><rect x="456" y="471.8" width="9" height="3.0" fill="#7f7f7f"/><rect x="284" y="460" width="1" height="70" fill="url(#ln5)"/></g><g filter="url(#f6)"><rect x="81" y="556" width="420" height="77" fill="url(#bb2)"/><rect x="93" y="568.2" width="32" height="2.0" fill="#737373"/><rect x="334" y="568.2" width="38" height="2.0" fill="#737373"/><rect x="389" y="568.2" width="25" height="2.0" fill="#737373"/><rect x="437" y="568.2" width="28" height="2.0" fill="#737373"/></g><g fill="#000"><rect x="80" y="57" width="421" height="1"/><rect x="80" y="133" width="421" height="2"/><rect x="80" y="57" width="1" height="78"/><rect x="500" y="57" width="1" height="78"/><rect x="71.4" y="133.50" width="8.6" height="1"/><rect x="501" y="133.50" width="8.6" height="1"/><rect x="75.6" y="130.95" width="4.4" height="1"/><rect x="501" y="130.95" width="4.4" height="1"/><rect x="75.6" y="128.40" width="4.4" height="1"/><rect x="501" y="128.40" width="4.4" height="1"/><rect x="75.6" y="125.85" width="4.4" height="1"/><rect x="501" y="125.85" width="4.4" height="1"/><rect x="75.6" y="123.30" width="4.4" height="1"/><rect x="501" y="123.30" width="4.4" height="1"/><rect x="71.4" y="120.75" width="8.6" height="1"/><rect x="501" y="120.75" width="8.6" height="1"/><rect x="75.6" y="118.20" width="4.4" height="1"/><rect x="501" y="118.20" width="4.4" height="1"/><rect x="75.6" y="115.65" width="4.4" height="1"/><rect x="501" y="115.65" width="4.4" height="1"/><rect x="75.6" y="113.10" width="4.4" height="1"/><rect x="501" y="113.10" width="4.4" height="1"/><rect x="75.6" y="110.55" width="4.4" height="1"/><rect x="501" y="110.55" width="4.4" height="1"/><rect x="71.4" y="108.00" width="8.6" height="1"/><rect x="501" y="108.00" width="8.6" height="1"/><rect x="75.6" y="105.45" width="4.4" height="1"/><rect x="501" y="105.45" width="4.4" height="1"/><rect x="75.6" y="102.90" width="4.4" height="1"/><rect x="501" y="102.90" width="4.4" height="1"/><rect x="75.6" y="100.35" width="4.4" height="1"/><rect x="501" y="100.35" width="4.4" height="1"/><rect x="75.6" y="97.80" width="4.4" height="1"/><rect x="501" y="97.80" width="4.4" height="1"/><rect x="71.4" y="95.25" width="8.6" height="1"/><rect x="501" y="95.25" width="8.6" height="1"/><rect x="75.6" y="92.70" width="4.4" height="1"/><rect x="501" y="92.70" width="4.4" height="1"/><rect x="75.6" y="90.15" width="4.4" height="1"/><rect x="501" y="90.15" width="4.4" height="1"/><rect x="75.6" y="87.60" width="4.4" height="1"/><rect x="501" y="87.60" width="4.4" height="1"/><rect x="75.6" y="85.05" width="4.4" height="1"/><rect x="501" y="85.05" width="4.4" height="1"/><rect x="71.4" y="82.50" width="8.6" height="1"/><rect x="501" y="82.50" width="8.6" height="1"/><rect x="75.6" y="79.95" width="4.4" height="1"/><rect x="501" y="79.95" width="4.4" height="1"/><rect x="75.6" y="77.40" width="4.4" height="1"/><rect x="501" y="77.40" width="4.4" height="1"/><rect x="75.6" y="74.85" width="4.4" height="1"/><rect x="501" y="74.85" width="4.4" height="1"/><rect x="75.6" y="72.30" width="4.4" height="1"/><rect x="501" y="72.30" width="4.4" height="1"/><rect x="71.4" y="69.75" width="8.6" height="1"/><rect x="501" y="69.75" width="8.6" height="1"/><rect x="75.6" y="67.20" width="4.4" height="1"/><rect x="501" y="67.20" width="4.4" height="1"/><rect x="75.6" y="64.65" width="4.4" height="1"/><rect x="501" y="64.65" width="4.4" height="1"/><rect x="75.6" y="62.10" width="4.4" height="1"/><rect x="501" y="62.10" width="4.4" height="1"/><rect x="75.6" y="59.55" width="4.4" height="1"/><rect x="501" y="59.55" width="4.4" height="1"/><rect x="71.4" y="57.00" width="8.6" height="1"/><rect x="501" y="57.00" width="8.6" height="1"/><rect x="80.0" y="135" width="1" height="2.5"/><rect x="115.0" y="135" width="1" height="2.5"/><rect x="150.0" y="135" width="1" height="2.5"/><rect x="185.0" y="135" width="1" height="2.5"/><rect x="185.0" y="55.0" width="1" height="2"/><rect x="220.0" y="135" width="1" height="2.5"/><rect x="255.0" y="135" width="1" height="2.5"/><rect x="290.0" y="135" width="1" height="2.5"/><rect x="290.0" y="55.0" width="1" height="2"/><rect x="325.0" y="135" width="1" height="2.5"/><rect x="360.0" y="135" width="1" height="2.5"/><rect x="395.0" y="135" width="1" height="2.5"/><rect x="395.0" y="55.0" width="1" height="2"/><rect x="430.0" y="135" width="1" height="2.5"/><rect x="465.0" y="135" width="1" height="2.5"/><rect x="500.0" y="135" width="1" height="2.5"/><rect x="80" y="153" width="421" height="1"/><rect x="80" y="229" width="421" height="2"/><rect x="80" y="153" width="1" height="78"/><rect x="500" y="153" width="1" height="78"/><rect x="71.4" y="229.50" width="8.6" height="1"/><rect x="501" y="229.50" width="8.6" height="1"/><rect x="75.6" y="226.95" width="4.4" height="1"/><rect x="501" y="226.95" width="4.4" height="1"/><rect x="75.6" y="224.40" width="4.4" height="1"/><rect x="501" y="224.40" width="4.4" height="1"/><rect x="75.6" y="221.85" width="4.4" height="1"/><rect x="501" y="221.85" width="4.4" height="1"/><rect x="75.6" y="219.30" width="4.4" height="1"/><rect x="501" y="219.30" width="4.4" height="1"/><rect x="71.4" y="216.75" width="8.6" height="1"/><rect x="501" y="216.75" width="8.6" height="1"/><rect x="75.6" y="214.20" width="4.4" height="1"/><rect x="501" y="214.20" width="4.4" height="1"/><rect x="75.6" y="211.65" width="4.4" height="1"/><rect x="501" y="211.65" width="4.4" height="1"/><rect x="75.6" y="209.10" width="4.4" height="1"/><rect x="501" y="209.10" width="4.4" height="1"/><rect x="75.6" y="206.55" width="4.4" height="1"/><rect x="501" y="206.55" width="4.4" height="1"/><rect x="71.4" y="204.00" width="8.6" height="1"/><rect x="501" y="204.00" width="8.6" height="1"/><rect x="75.6" y="201.45" width="4.4" height="1"/><rect x="501" y="201.45" width="4.4" height="1"/><rect x="75.6" y="198.90" width="4.4" height="1"/><rect x="501" y="198.90" width="4.4" height="1"/><rect x="75.6" y="196.35" width="4.4" height="1"/><rect x="501" y="196.35" width="4.4" height="1"/><rect x="75.6" y="193.80" width="4.4" height="1"/><rect x="501" y="193.80" width="4.4" height="1"/><rect x="71.4" y="191.25" width="8.6" height="1"/><rect x="501" y="191.25" width="8.6" height="1"/><rect x="75.6" y="188.70" width="4.4" height="1"/><rect x="501" y="188.70" width="4.4" height="1"/><rect x="75.6" y="186.15" width="4.4" height="1"/><rect x="501" y="186.15" width="4.4" height="1"/><rect x="75.6" y="183.60" width="4.4" height="1"/><rect x="501" y="183.60" width="4.4" height="1"/><rect x="75.6" y="181.05" width="4.4" height="1"/><rect x="501" y="181.05" width="4.4" height="1"/><rect x="71.4" y="178.50" width="8.6" height="1"/><rect x="501" y="178.50" width="8.6" height="1"/><rect x="75.6" y="175.95" width="4.4" height="1"/><rect x="501" y="175.95" width="4.4" height="1"/><rect x="75.6" y="173.40" width="4.4" height="1"/><rect x="501" y="173.40" width="4.4" height="1"/><rect x="75.6" y="170.85" width="4.4" height="1"/><rect x="501" y="170.85" width="4.4" height="1"/><rect x="75.6" y="168.30" width="4.4" height="1"/><rect x="501" y="168.30" width="4.4" height="1"/><rect x="71.4" y="165.75" width="8.6" height="1"/><rect x="501" y="165.75" width="8.6" height="1"/><rect x="75.6" y="163.20" width="4.4" height="1"/><rect x="501" y="163.20" width="4.4" height="1"/><rect x="75.6" y="160.65" width="4.4" height="1"/><rect x="501" y="160.65" width="4.4" height="1"/><rect x="75.6" y="158.10" width="4.4" height="1"/><rect x="501" y="158.10" width="4.4" height="1"/><rect x="75.6" y="155.55" width="4.4" height="1"/><rect x="501" y="155.55" width="4.4" height="1"/><rect x="71.4" y="153.00" width="8.6" height="1"/><rect x="501" y="153.00" width="8.6" height="1"/><rect x="80.0" y="231" width="1" height="2.5"/><rect x="115.0" y="231" width="1" height="2.5"/><rect x="150.0" y="231" width="1" height="2.5"/><rect x="185.0" y="231" width="1" height="2.5"/><rect x="185.0" y="151.0" width="1" height="2"/><rect x="220.0" y="231" width="1" height="2.5"/><rect x="255.0" y="231" width="1" height="2.5"/><rect x="290.0" y="231" width="1" height="2.5"/><rect x="290.0" y="151.0" width="1" height="2"/><rect x="325.0" y="231" width="1" height="2.5"/><rect x="360.0" y="231" width="1" height="2.5"/><rect x="395.0" y="231" width="1" height="2.5"/><rect x="395.0" y="151.0" width="1" height="2"/><rect x="430.0" y="231" width="1" height="2.5"/><rect x="465.0" y="231" width="1" height="2.5"/><rect x="500.0" y="231" width="1" height="2.5"/><rect x="80" y="249" width="421" height="1"/><rect x="80" y="325" width="421" height="2"/><rect x="80" y="249" width="1" height="78"/><rect x="500" y="249" width="1" height="78"/><rect x="71.4" y="325.50" width="8.6" height="1"/><rect x="501" y="325.50" width="8.6" height="1"/><rect x="75.6" y="322.95" width="4.4" height="1"/><rect x="501" y="322.95" width="4.4" height="1"/><rect x="75.6" y="320.40" width="4.4" height="1"/><rect x="501" y="320.40" width="4.4" height="1"/><rect x="75.6" y="317.85" width="4.4" height="1"/><rect x="501" y="317.85" width="4.4" height="1"/><rect x="75.6" y="315.30" width="4.4" height="1"/><rect x="501" y="315.30" width="4.4" height="1"/><rect x="71.4" y="312.75" width="8.6" height="1"/><rect x="501" y="312.75" width="8.6" height="1"/><rect x="75.6" y="310.20" width="4.4" height="1"/><rect x="501" y="310.20" width="4.4" height="1"/><rect x="75.6" y="307.65" width="4.4" height="1"/><rect x="501" y="307.65" width="4.4" height="1"/><rect x="75.6" y="305.10" width="4.4" height="1"/><rect x="501" y="305.10" width="4.4" height="1"/><rect x="75.6" y="302.55" width="4.4" height="1"/><rect x="501" y="302.55" width="4.4" height="1"/><rect x="71.4" y="300.00" width="8.6" height="1"/><rect x="501" y="300.00" width="8.6" height="1"/><rect x="75.6" y="297.45" width="4.4" height="1"/><rect x="501" y="297.45" width="4.4" height="1"/><rect x="75.6" y="294.90" width="4.4" height="1"/><rect x="501" y="294.90" width="4.4" height="1"/><rect x="75.6" y="292.35" width="4.4" height="1"/><rect x="501" y="292.35" width="4.4" height="1"/><rect x="75.6" y="289.80" width="4.4" height="1"/><rect x="501" y="289.80" width="4.4" height="1"/><rect x="71.4" y="287.25" width="8.6" height="1"/><rect x="501" y="287.25" width="8.6" height="1"/><rect x="75.6" y="284.70" width="4.4" height="1"/><rect x="501" y="284.70" width="4.4" height="1"/><rect x="75.6" y="282.15" width="4.4" height="1"/><rect x="501" y="282.15" width="4.4" height="1"/><rect x="75.6" y="279.60" width="4.4" height="1"/><rect x="501" y="279.60" width="4.4" height="1"/><rect x="75.6" y="277.05" width="4.4" height="1"/><rect x="501" y="277.05" width="4.4" height="1"/><rect x="71.4" y="274.50" width="8.6" height="1"/><rect x="501" y="274.50" width="8.6" height="1"/><rect x="75.6" y="271.95" width="4.4" height="1"/><rect x="501" y="271.95" width="4.4" height="1"/><rect x="75.6" y="269.40" width="4.4" height="1"/><rect x="501" y="269.40" width="4.4" height="1"/><rect x="75.6" y="266.85" width="4.4" height="1"/><rect x="501" y="266.85" width="4.4" height="1"/><rect x="75.6" y="264.30" width="4.4" height="1"/><rect x="501" y="264.30" width="4.4" height="1"/><rect x="71.4" y="261.75" width="8.6" height="1"/><rect x="501" y="261.75" width="8.6" height="1"/><rect x="75.6" y="259.20" width="4.4" height="1"/><rect x="501" y="259.20" width="4.4" height="1"/><rect x="75.6" y="256.65" width="4.4" height="1"/><rect x="501" y="256.65" width="4.4" height="1"/><rect x="75.6" y="254.10" width="4.4" height="1"/><rect x="501" y="254.10" width="4.4" height="1"/><rect x="75.6" y="251.55" width="4.4" height="1"/><rect x="501" y="251.55" width="4.4" height="1"/><rect x="71.4" y="249.00" width="8.6" height="1"/><rect x="501" y="249.00" width="8.6" height="1"/><rect x="80.0" y="327" width="1" height="2.5"/><rect x="115.0" y="327" width="1" height="2.5"/><rect x="150.0" y="327" width="1" height="2.5"/><rect x="185.0" y="327" width="1" height="2.5"/><rect x="185.0" y="247.0" width="1" height="2"/><rect x="220.0" y="327" width="1" height="2.5"/><rect x="255.0" y="327" width="1" height="2.5"/><rect x="290.0" y="327" width="1" height="2.5"/><rect x="290.0" y="247.0" width="1" height="2"/><rect x="325.0" y="327" width="1" height="2.5"/><rect x="360.0" y="327" width="1" height="2.5"/><rect x="395.0" y="327" width="1" height="2.5"/><rect x="395.0" y="247.0" width="1" height="2"/><rect x="430.0" y="327" width="1" height="2.5"/><rect x="465.0" y="327" width="1" height="2.5"/><rect x="500.0" y="327" width="1" height="2.5"/><rect x="80" y="364" width="421" height="1"/><rect x="80" y="440" width="421" height="2"/><rect x="80" y="364" width="1" height="78"/><rect x="500" y="364" width="1" height="78"/><rect x="71.4" y="440.50" width="8.6" height="1"/><rect x="501" y="440.50" width="8.6" height="1"/><rect x="75.6" y="437.95" width="4.4" height="1"/><rect x="501" y="437.95" width="4.4" height="1"/><rect x="75.6" y="435.40" width="4.4" height="1"/><rect x="501" y="435.40" width="4.4" height="1"/><rect x="75.6" y="432.85" width="4.4" height="1"/><rect x="501" y="432.85" width="4.4" height="1"/><rect x="75.6" y="430.30" width="4.4" height="1"/><rect x="501" y="430.30" width="4.4" height="1"/><rect x="71.4" y="427.75" width="8.6" height="1"/><rect x="501" y="427.75" width="8.6" height="1"/><rect x="75.6" y="425.20" width="4.4" height="1"/><rect x="501" y="425.20" width="4.4" height="1"/><rect x="75.6" y="422.65" width="4.4" height="1"/><rect x="501" y="422.65" width="4.4" height="1"/><rect x="75.6" y="420.10" width="4.4" height="1"/><rect x="501" y="420.10" width="4.4" height="1"/><rect x="75.6" y="417.55" width="4.4" height="1"/><rect x="501" y="417.55" width="4.4" height="1"/><rect x="71.4" y="415.00" width="8.6" height="1"/><rect x="501" y="415.00" width="8.6" height="1"/><rect x="75.6" y="412.45" width="4.4" height="1"/><rect x="501" y="412.45" width="4.4" height="1"/><rect x="75.6" y="409.90" width="4.4" height="1"/><rect x="501" y="409.90" width="4.4" height="1"/><rect x="75.6" y="407.35" width="4.4" height="1"/><rect x="501" y="407.35" width="4.4" height="1"/><rect x="75.6" y="404.80" width="4.4" height="1"/><rect x="501" y="404.80" width="4.4" height="1"/><rect x="71.4" y="402.25" width="8.6" height="1"/><rect x="501" y="402.25" width="8.6" height="1"/><rect x="75.6" y="399.70" width="4.4" height="1"/><rect x="501" y="399.70" width="4.4" height="1"/><rect x="75.6" y="397.15" width="4.4" height="1"/><rect x="501" y="397.15" width="4.4" height="1"/><rect x="75.6" y="394.60" width="4.4" height="1"/><rect x="501" y="394.60" width="4.4" height="1"/><rect x="75.6" y="392.05" width="4.4" height="1"/><rect x="501" y="392.05" width="4.4" height="1"/><rect x="71.4" y="389.50" width="8.6" height="1"/><rect x="501" y="389.50" width="8.6" height="1"/><rect x="75.6" y="386.95" width="4.4" height="1"/><rect x="501" y="386.95" width="4.4" height="1"/><rect x="75.6" y="384.40" width="4.4" height="1"/><rect x="501" y="384.40" width="4.4" height="1"/><rect x="75.6" y="381.85" width="4.4" height="1"/><rect x="501" y="381.85" width="4.4" height="1"/><rect x="75.6" y="379.30" width="4.4" height="1"/><rect x="501" y="379.30" width="4.4" height="1"/><rect x="71.4" y="376.75" width="8.6" height="1"/><rect x="501" y="376.75" width="8.6" height="1"/><rect x="75.6" y="374.20" width="4.4" height="1"/><rect x="501" y="374.20" width="4.4" height="1"/><rect x="75.6" y="371.65" width="4.4" height="1"/><rect x="501" y="371.65" width="4.4" height="1"/><rect x="75.6" y="369.10" width="4.4" height="1"/><rect x="501" y="369.10" width="4.4" height="1"/><rect x="75.6" y="366.55" width="4.4" height="1"/><rect x="501" y="366.55" width="4.4" height="1"/><rect x="71.4" y="364.00" width="8.6" height="1"/><rect x="501" y="364.00" width="8.6" height="1"/><rect x="80.0" y="442" width="1" height="2.5"/><rect x="115.0" y="442" width="1" height="2.5"/><rect x="150.0" y="442" width="1" height="2.5"/><rect x="185.0" y="442" width="1" height="2.5"/><rect x="185.0" y="362.0" width="1" height="2"/><rect x="220.0" y="442" width="1" height="2.5"/><rect x="255.0" y="442" width="1" height="2.5"/><rect x="290.0" y="442" width="1" height="2.5"/><rect x="290.0" y="362.0" width="1" height="2"/><rect x="325.0" y="442" width="1" height="2.5"/><rect x="360.0" y="442" width="1" height="2.5"/><rect x="395.0" y="442" width="1" height="2.5"/><rect x="395.0" y="362.0" width="1" height="2"/><rect x="430.0" y="442" width="1" height="2.5"/><rect x="465.0" y="442" width="1" height="2.5"/><rect x="500.0" y="442" width="1" height="2.5"/><rect x="80" y="460" width="421" height="1"/><rect x="80" y="536" width="421" height="2"/><rect x="80" y="460" width="1" height="78"/><rect x="500" y="460" width="1" height="78"/><rect x="71.4" y="536.50" width="8.6" height="1"/><rect x="501" y="536.50" width="8.6" height="1"/><rect x="75.6" y="533.95" width="4.4" height="1"/><rect x="501" y="533.95" width="4.4" height="1"/><rect x="75.6" y="531.40" width="4.4" height="1"/><rect x="501" y="531.40" width="4.4" height="1"/><rect x="75.6" y="528.85" width="4.4" height="1"/><rect x="501" y="528.85" width="4.4" height="1"/><rect x="75.6" y="526.30" width="4.4" height="1"/><rect x="501" y="526.30" width="4.4" height="1"/><rect x="71.4" y="523.75" width="8.6" height="1"/><rect x="501" y="523.75" width="8.6" height="1"/><rect x="75.6" y="521.20" width="4.4" height="1"/><rect x="501" y="521.20" width="4.4" height="1"/><rect x="75.6" y="518.65" width="4.4" height="1"/><rect x="501" y="518.65" width="4.4" height="1"/><rect x="75.6" y="516.10" width="4.4" height="1"/><rect x="501" y="516.10" width="4.4" height="1"/><rect x="75.6" y="513.55" width="4.4" height="1"/><rect x="501" y="513.55" width="4.4" height="1"/><rect x="71.4" y="511.00" width="8.6" height="1"/><rect x="501" y="511.00" width="8.6" height="1"/><rect x="75.6" y="508.45" width="4.4" height="1"/><rect x="501" y="508.45" width="4.4" height="1"/><rect x="75.6" y="505.90" width="4.4" height="1"/><rect x="501" y="505.90" width="4.4" height="1"/><rect x="75.6" y="503.35" width="4.4" height="1"/><rect x="501" y="503.35" width="4.4" height="1"/><rect x="75.6" y="500.80" width="4.4" height="1"/><rect x="501" y="500.80" width="4.4" height="1"/><rect x="71.4" y="498.25" width="8.6" height="1"/><rect x="501" y="498.25" width="8.6" height="1"/><rect x="75.6" y="495.70" width="4.4" height="1"/><rect x="501" y="495.70" width="4.4" height="1"/><rect x="75.6" y="493.15" width="4.4" height="1"/><rect x="501" y="493.15" width="4.4" height="1"/><rect x="75.6" y="490.60" width="4.4" height="1"/><rect x="501" y="490.60" width="4.4" height="1"/><rect x="75.6" y="488.05" width="4.4" height="1"/><rect x="501" y="488.05" width="4.4" height="1"/><rect x="71.4" y="485.50" width="8.6" height="1"/><rect x="501" y="485.50" width="8.6" height="1"/><rect x="75.6" y="482.95" width="4.4" height="1"/><rect x="501" y="482.95" width="4.4" height="1"/><rect x="75.6" y="480.40" width="4.4" height="1"/><rect x="501" y="480.40" width="4.4" height="1"/><rect x="75.6" y="477.85" width="4.4" height="1"/><rect x="501" y="477.85" width="4.4" height="1"/><rect x="75.6" y="475.30" width="4.4" height="1"/><rect x="501" y="475.30" width="4.4" height="1"/><rect x="71.4" y="472.75" width="8.6" height="1"/><rect x="501" y="472.75" width="8.6" height="1"/><rect x="75.6" y="470.20" width="4.4" height="1"/><rect x="501" y="470.20" width="4.4" height="1"/><rect x="75.6" y="467.65" width="4.4" height="1"/><rect x="501" y="467.65" width="4.4" height="1"/><rect x="75.6" y="465.10" width="4.4" height="1"/><rect x="501" y="465.10" width="4.4" height="1"/><rect x="75.6" y="462.55" width="4.4" height="1"/><rect x="501" y="462.55" width="4.4" height="1"/><rect x="71.4" y="460.00" width="8.6" height="1"/><rect x="501" y="460.00" width="8.6" height="1"/><rect x="80.0" y="538" width="1" height="2.5"/><rect x="115.0" y="538" width="1" height="2.5"/><rect x="150.0" y="538" width="1" height="2.5"/><rect x="185.0" y="538" width="1" height="2.5"/><rect x="185.0" y="458.0" width="1" height="2"/><rect x="220.0" y="538" width="1" height="2.5"/><rect x="255.0" y="538" width="1" height="2.5"/><rect x="290.0" y="538" width="1" height="2.5"/><rect x="290.0" y="458.0" width="1" height="2"/><rect x="325.0" y="538" width="1" height="2.5"/><rect x="360.0" y="538" width="1" height="2.5"/><rect x="395.0" y="538" width="1" height="2.5"/><rect x="395.0" y="458.0" width="1" height="2"/><rect x="430.0" y="538" width="1" height="2.5"/><rect x="465.0" y="538" width="1" height="2.5"/><rect x="500.0" y="538" width="1" height="2.5"/><rect x="80" y="556" width="421" height="1"/><rect x="80" y="632" width="421" height="2"/><rect x="80" y="556" width="1" height="78"/><rect x="500" y="556" width="1" height="78"/><rect x="71.4" y="632.50" width="8.6" height="1"/><rect x="501" y="632.50" width="8.6" height="1"/><rect x="75.6" y="629.95" width="4.4" height="1"/><rect x="501" y="629.95" width="4.4" height="1"/><rect x="75.6" y="627.40" width="4.4" height="1"/><rect x="501" y="627.40" width="4.4" height="1"/><rect x="75.6" y="624.85" width="4.4" height="1"/><rect x="501" y="624.85" width="4.4" height="1"/><rect x="75.6" y="622.30" width="4.4" height="1"/><rect x="501" y="622.30" width="4.4" height="1"/><rect x="71.4" y="619.75" width="8.6" height="1"/><rect x="501" y="619.75" width="8.6" height="1"/><rect x="75.6" y="617.20" width="4.4" height="1"/><rect x="501" y="617.20" width="4.4" height="1"/><rect x="75.6" y="614.65" width="4.4" height="1"/><rect x="501" y="614.65" width="4.4" height="1"/><rect x="75.6" y="612.10" width="4.4" height="1"/><rect x="501" y="612.10" width="4.4" height="1"/><rect x="75.6" y="609.55" width="4.4" height="1"/><rect x="501" y="609.55" width="4.4" height="1"/><rect x="71.4" y="607.00" width="8.6" height="1"/><rect x="501" y="607.00" width="8.6" height="1"/><rect x="75.6" y="604.45" width="4.4" height="1"/><rect x="501" y="604.45" width="4.4" height="1"/><rect x="75.6" y="601.90" width="4.4" height="1"/><rect x="501" y="601.90" width="4.4" height="1"/><rect x="75.6" y="599.35" width="4.4" height="1"/><rect x="501" y="599.35" width="4.4" height="1"/><rect x="75.6" y="596.80" width="4.4" height="1"/><rect x="501" y="596.80" width="4.4" height="1"/><rect x="71.4" y="594.25" width="8.6" height="1"/><rect x="501" y="594.25" width="8.6" height="1"/><rect x="75.6" y="591.70" width="4.4" height="1"/><rect x="501" y="591.70" width="4.4" height="1"/><rect x="75.6" y="589.15" width="4.4" height="1"/><rect x="501" y="589.15" width="4.4" height="1"/><rect x="75.6" y="586.60" width="4.4" height="1"/><rect x="501" y="586.60" width="4.4" height="1"/><rect x="75.6" y="584.05" width="4.4" height="1"/><rect x="501" y="584.05" width="4.4" height="1"/><rect x="71.4" y="581.50" width="8.6" height="1"/><rect x="501" y="581.50" width="8.6" height="1"/><rect x="75.6" y="578.95" width="4.4" height="1"/><rect x="501" y="578.95" width="4.4" height="1"/><rect x="75.6" y="576.40" width="4.4" height="1"/><rect x="501" y="576.40" width="4.4" height="1"/><rect x="75.6" y="573.85" width="4.4" height="1"/><rect x="501" y="573.85" width="4.4" height="1"/><rect x="75.6" y="571.30" width="4.4" height="1"/><rect x="501" y="571.30" width="4.4" height="1"/><rect x="71.4" y="568.75" width="8.6" height="1"/><rect x="501" y="568.75" width="8.6" height="1"/><rect x="75.6" y="566.20" width="4.4" height="1"/><rect x="501" y="566.20" width="4.4" height="1"/><rect x="75.6" y="563.65" width="4.4" height="1"/><rect x="501" y="563.65" width="4.4" height="1"/><rect x="75.6" y="561.10" width="4.4" height="1"/><rect x="501" y="561.10" width="4.4" height="1"/><rect x="75.6" y="558.55" width="4.4" height="1"/><rect x="501" y="558.55" width="4.4" height="1"/><rect x="71.4" y="556.00" width="8.6" height="1"/><rect x="501" y="556.00" width="8.6" height="1"/><rect x="80.0" y="634" width="1" height="2.5"/><rect x="115.0" y="634" width="1" height="2.5"/><rect x="150.0" y="634" width="1" height="2.5"/><rect x="185.0" y="634" width="1" height="2.5"/><rect x="185.0" y="554.0" width="1" height="2"/><rect x="220.0" y="634" width="1" height="2.5"/><rect x="255.0" y="634" width="1" height="2.5"/><rect x="290.0" y="634" width="1" height="2.5"/><rect x="290.0" y="554.0" width="1" height="2"/><rect x="325.0" y="634" width="1" height="2.5"/><rect x="360.0" y="634" width="1" height="2.5"/><rect x="395.0" y="634" width="1" height="2.5"/><rect x="395.0" y="554.0" width="1" height="2"/><rect x="430.0" y="634" width="1" height="2.5"/><rect x="465.0" y="634" width="1" height="2.5"/><rect x="500.0" y="634" width="1" height="2.5"/></g><rect x="581" y="58" width="19" height="76" fill="url(#cb)"/><rect x="579.6" y="57" width="1.6" height="78" fill="#000"/><rect x="599.8" y="57" width="1.6" height="78" fill="#000"/><rect x="576" y="133.6" width="29" height="1.3" fill="#000"/><rect x="576" y="57.00" width="5" height="1.2" fill="#000"/><rect x="600" y="57.00" width="5" height="1.2" fill="#000"/><rect x="578" y="70.47" width="3" height="0.8" fill="#000"/><rect x="600" y="70.47" width="3" height="0.8" fill="#000"/><rect x="578" y="67.10" width="3" height="0.8" fill="#000"/><rect x="600" y="67.10" width="3" height="0.8" fill="#000"/><rect x="578" y="64.71" width="3" height="0.8" fill="#000"/><rect x="600" y="64.71" width="3" height="0.8" fill="#000"/><rect x="578" y="62.86" width="3" height="0.8" fill="#000"/><rect x="600" y="62.86" width="3" height="0.8" fill="#000"/><rect x="578" y="61.34" width="3" height="0.8" fill="#000"/><rect x="600" y="61.34" width="3" height="0.8" fill="#000"/><rect x="578" y="60.06" width="3" height="0.8" fill="#000"/><rect x="600" y="60.06" width="3" height="0.8" fill="#000"/><rect x="578" y="58.95" width="3" height="0.8" fill="#000"/><rect x="600" y="58.95" width="3" height="0.8" fill="#000"/><rect x="578" y="57.98" width="3" height="0.8" fill="#000"/><rect x="600" y="57.98" width="3" height="0.8" fill="#000"/><rect x="576" y="76.12" width="5" height="1.2" fill="#000"/><rect x="600" y="76.12" width="5" height="1.2" fill="#000"/><rect x="578" y="89.59" width="3" height="0.8" fill="#000"/><rect x="600" y="89.59" width="3" height="0.8" fill="#000"/><rect x="578" y="86.23" width="3" height="0.8" fill="#000"/><rect x="600" y="86.23" width="3" height="0.8" fill="#000"/><rect x="578" y="83.84" width="3" height="0.8" fill="#000"/><rect x="600" y="83.84" width="3" height="0.8" fill="#000"/><rect x="578" y="81.98" width="3" height="0.8" fill="#000"/><rect x="600" y="81.98" width="3" height="0.8" fill="#000"/><rect x="578" y="80.47" width="3" height="0.8" fill="#000"/><rect x="600" y="80.47" width="3" height="0.8" fill="#000"/><rect x="578" y="79.19" width="3" height="0.8" fill="#000"/><rect x="600" y="79.19" width="3" height="0.8" fill="#000"/><rect x="578" y="78.08" width="3" height="0.8" fill="#000"/><rect x="600" y="78.08" width="3" height="0.8" fill="#000"/><rect x="578" y="77.10" width="3" height="0.8" fill="#000"/><rect x="600" y="77.10" width="3" height="0.8" fill="#000"/><rect x="576" y="95.25" width="5" height="1.2" fill="#000"/><rect x="600" y="95.25" width="5" height="1.2" fill="#000"/><rect x="578" y="108.72" width="3" height="0.8" fill="#000"/><rect x="600" y="108.72" width="3" height="0.8" fill="#000"/><rect x="578" y="105.35" width="3" height="0.8" fill="#000"/><rect x="600" y="105.35" width="3" height="0.8" fill="#000"/><rect x="578" y="102.96" width="3" height="0.8" fill="#000"/><rect x="600" y="102.96" width="3" height="0.8" fill="#000"/><rect x="578" y="101.11" width="3" height="0.8" fill="#000"/><rect x="600" y="101.11" width="3" height="0.8" fill="#000"/><rect x="578" y="99.59" width="3" height="0.8" fill="#000"/><rect x="600" y="99.59" width="3" height="0.8" fill="#000"/><rect x="578" y="98.31" width="3" height="0.8" fill="#000"/><rect x="600" y="98.31" width="3" height="0.8" fill="#000"/><rect x="578" y="97.20" width="3" height="0.8" fill="#000"/><rect x="600" y="97.20" width="3" height="0.8" fill="#000"/><rect x="578" y="96.23" width="3" height="0.8" fill="#000"/><rect x="600" y="96.23" width="3" height="0.8" fill="#000"/><rect x="576" y="114.38" width="5" height="1.2" fill="#000"/><rect x="600" y="114.38" width="5" height="1.2" fill="#000"/><rect x="578" y="127.84" width="3" height="0.8" fill="#000"/><rect x="600" y="127.84" width="3" height="0.8" fill="#000"/><rect x="578" y="124.48" width="3" height="0.8" fill="#000"/><rect x="600" y="124.48" width="3" height="0.8" fill="#000"/><rect x="578" y="122.09" width="3" height="0.8" fill="#000"/><rect x="600" y="122.09" width="3" height="0.8" fill="#000"/><rect x="578" y="120.23" width="3" height="0.8" fill="#000"/><rect x="600" y="120.23" width="3" height="0.8" fill="#000"/><rect x="578" y="118.72" width="3" height="0.8" fill="#000"/><rect x="600" y="118.72" width="3" height="0.8" fill="#000"/><rect x="578" y="117.44" width="3" height="0.8" fill="#000"/><rect x="600" y="117.44" width="3" height="0.8" fill="#000"/><rect x="578" y="116.33" width="3" height="0.8" fill="#000"/><rect x="600" y="116.33" width="3" height="0.8" fill="#000"/><rect x="578" y="115.35" width="3" height="0.8" fill="#000"/><rect x="600" y="115.35" width="3" height="0.8" fill="#000"/><rect x="576" y="133.50" width="5" height="1.2" fill="#000"/><rect x="600" y="133.50" width="5" height="1.2" fill="#000"/><rect x="581" y="154" width="19" height="76" fill="url(#cb)"/><rect x="579.6" y="153" width="1.6" height="78" fill="#000"/><rect x="599.8" y="153" width="1.6" height="78" fill="#000"/><rect x="576" y="229.6" width="29" height="1.3" fill="#000"/><rect x="576" y="153.00" width="5" height="1.2" fill="#000"/><rect x="600" y="153.00" width="5" height="1.2" fill="#000"/><rect x="578" y="166.47" width="3" height="0.8" fill="#000"/><rect x="600" y="166.47" width="3" height="0.8" fill="#000"/><rect x="578" y="163.10" width="3" height="0.8" fill="#000"/><rect x="600" y="163.10" width="3" height="0.8" fill="#000"/><rect x="578" y="160.71" width="3" height="0.8" fill="#000"/><rect x="600" y="160.71" width="3" height="0.8" fill="#000"/><rect x="578" y="158.86" width="3" height="0.8" fill="#000"/><rect x="600" y="158.86" width="3" height="0.8" fill="#000"/><rect x="578" y="157.34" width="3" height="0.8" fill="#000"/><rect x="600" y="157.34" width="3" height="0.8" fill="#000"/><rect x="578" y="156.06" width="3" height="0.8" fill="#000"/><rect x="600" y="156.06" width="3" height="0.8" fill="#000"/><rect x="578" y="154.95" width="3" height="0.8" fill="#000"/><rect x="600" y="154.95" width="3" height="0.8" fill="#000"/><rect x="578" y="153.98" width="3" height="0.8" fill="#000"/><rect x="600" y="153.98" width="3" height="0.8" fill="#000"/><rect x="576" y="172.12" width="5" height="1.2" fill="#000"/><rect x="600" y="172.12" width="5" height="1.2" fill="#000"/><rect x="578" y="185.59" width="3" height="0.8" fill="#000"/><rect x="600" y="185.59" width="3" height="0.8" fill="#000"/><rect x="578" y="182.23" width="3" height="0.8" fill="#000"/><rect x="600" y="182.23" width="3" height="0.8" fill="#000"/><rect x="578" y="179.84" width="3" height="0.8" fill="#000"/><rect x="600" y="179.84" width="3" height="0.8" fill="#000"/><rect x="578" y="177.98" width="3" height="0.8" fill="#000"/><rect x="600" y="177.98" width="3" height="0.8" fill="#000"/><rect x="578" y="176.47" width="3" height="0.8" fill="#000"/><rect x="600" y="176.47" width="3" height="0.8" fill="#000"/><rect x="578" y="175.19" width="3" height="0.8" fill="#000"/><rect x="600" y="175.19" width="3" height="0.8" fill="#000"/><rect x="578" y="174.08" width="3" height="0.8" fill="#000"/><rect x="600" y="174.08" width="3" height="0.8" fill="#000"/><rect x="578" y="173.10" width="3" height="0.8" fill="#000"/><rect x="600" y="173.10" width="3" height="0.8" fill="#000"/><rect x="576" y="191.25" width="5" height="1.2" fill="#000"/><rect x="600" y="191.25" width="5" height="1.2" fill="#000"/><rect x="578" y="204.72" width="3" height="0.8" fill="#000"/><rect x="600" y="204.72" width="3" height="0.8" fill="#000"/><rect x="578" y="201.35" width="3" height="0.8" fill="#000"/><rect x="600" y="201.35" width="3" height="0.8" fill="#000"/><rect x="578" y="198.96" width="3" height="0.8" fill="#000"/><rect x="600" y="198.96" width="3" height="0.8" fill="#000"/><rect x="578" y="197.11" width="3" height="0.8" fill="#000"/><rect x="600" y="197.11" width="3" height="0.8" fill="#000"/><rect x="578" y="195.59" width="3" height="0.8" fill="#000"/><rect x="600" y="195.59" width="3" height="0.8" fill="#000"/><rect x="578" y="194.31" width="3" height="0.8" fill="#000"/><rect x="600" y="194.31" width="3" height="0.8" fill="#000"/><rect x="578" y="193.20" width="3" height="0.8" fill="#000"/><rect x="600" y="193.20" width="3" height="0.8" fill="#000"/><rect x="578" y="192.23" width="3" height="0.8" fill="#000"/><rect x="600" y="192.23" width="3" height="0.8" fill="#000"/><rect x="576" y="210.38" width="5" height="1.2" fill="#000"/><rect x="600" y="210.38" width="5" height="1.2" fill="#000"/><rect x="578" y="223.84" width="3" height="0.8" fill="#000"/><rect x="600" y="223.84" width="3" height="0.8" fill="#000"/><rect x="578" y="220.48" width="3" height="0.8" fill="#000"/><rect x="600" y="220.48" width="3" height="0.8" fill="#000"/><rect x="578" y="218.09" width="3" height="0.8" fill="#000"/><rect x="600" y="218.09" width="3" height="0.8" fill="#000"/><rect x="578" y="216.23" width="3" height="0.8" fill="#000"/><rect x="600" y="216.23" width="3" height="0.8" fill="#000"/><rect x="578" y="214.72" width="3" height="0.8" fill="#000"/><rect x="600" y="214.72" width="3" height="0.8" fill="#000"/><rect x="578" y="213.44" width="3" height="0.8" fill="#000"/><rect x="600" y="213.44" width="3" height="0.8" fill="#000"/><rect x="578" y="212.33" width="3" height="0.8" fill="#000"/><rect x="600" y="212.33" width="3" height="0.8" fill="#000"/><rect x="578" y="211.35" width="3" height="0.8" fill="#000"/><rect x="600" y="211.35" width="3" height="0.8" fill="#000"/><rect x="576" y="229.50" width="5" height="1.2" fill="#000"/><rect x="600" y="229.50" width="5" height="1.2" fill="#000"/><rect x="581" y="250" width="19" height="76" fill="url(#cb)"/><rect x="579.6" y="249" width="1.6" height="78" fill="#000"/><rect x="599.8" y="249" width="1.6" height="78" fill="#000"/><rect x="576" y="325.6" width="29" height="1.3" fill="#000"/><rect x="576" y="249.00" width="5" height="1.2" fill="#000"/><rect x="600" y="249.00" width="5" height="1.2" fill="#000"/><rect x="578" y="266.92" width="3" height="0.8" fill="#000"/><rect x="600" y="266.92" width="3" height="0.8" fill="#000"/><rect x="578" y="262.43" width="3" height="0.8" fill="#000"/><rect x="600" y="262.43" width="3" height="0.8" fill="#000"/><rect x="578" y="259.25" width="3" height="0.8" fill="#000"/><rect x="600" y="259.25" width="3" height="0.8" fill="#000"/><rect x="578" y="256.78" width="3" height="0.8" fill="#000"/><rect x="600" y="256.78" width="3" height="0.8" fill="#000"/><rect x="578" y="254.76" width="3" height="0.8" fill="#000"/><rect x="600" y="254.76" width="3" height="0.8" fill="#000"/><rect x="578" y="253.05" width="3" height="0.8" fill="#000"/><rect x="600" y="253.05" width="3" height="0.8" fill="#000"/><rect x="578" y="251.57" width="3" height="0.8" fill="#000"/><rect x="600" y="251.57" width="3" height="0.8" fill="#000"/><rect x="578" y="250.27" width="3" height="0.8" fill="#000"/><rect x="600" y="250.27" width="3" height="0.8" fill="#000"/><rect x="576" y="274.50" width="5" height="1.2" fill="#000"/><rect x="600" y="274.50" width="5" height="1.2" fill="#000"/><rect x="578" y="292.42" width="3" height="0.8" fill="#000"/><rect x="600" y="292.42" width="3" height="0.8" fill="#000"/><rect x="578" y="287.93" width="3" height="0.8" fill="#000"/><rect x="600" y="287.93" width="3" height="0.8" fill="#000"/><rect x="578" y="284.75" width="3" height="0.8" fill="#000"/><rect x="600" y="284.75" width="3" height="0.8" fill="#000"/><rect x="578" y="282.28" width="3" height="0.8" fill="#000"/><rect x="600" y="282.28" width="3" height="0.8" fill="#000"/><rect x="578" y="280.26" width="3" height="0.8" fill="#000"/><rect x="600" y="280.26" width="3" height="0.8" fill="#000"/><rect x="578" y="278.55" width="3" height="0.8" fill="#000"/><rect x="600" y="278.55" width="3" height="0.8" fill="#000"/><rect x="578" y="277.07" width="3" height="0.8" fill="#000"/><rect x="600" y="277.07" width="3" height="0.8" fill="#000"/><rect x="578" y="275.77" width="3" height="0.8" fill="#000"/><rect x="600" y="275.77" width="3" height="0.8" fill="#000"/><rect x="576" y="300.00" width="5" height="1.2" fill="#000"/><rect x="600" y="300.00" width="5" height="1.2" fill="#000"/><rect x="578" y="317.92" width="3" height="0.8" fill="#000"/><rect x="600" y="317.92" width="3" height="0.8" fill="#000"/><rect x="578" y="313.43" width="3" height="0.8" fill="#000"/><rect x="600" y="313.43" width="3" height="0.8" fill="#000"/><rect x="578" y="310.25" width="3" height="0.8" fill="#000"/><rect x="600" y="310.25" width="3" height="0.8" fill="#000"/><rect x="578" y="307.78" width="3" height="0.8" fill="#000"/><rect x="600" y="307.78" width="3" height="0.8" fill="#000"/><rect x="578" y="305.76" width="3" height="0.8" fill="#000"/><rect x="600" y="305.76" width="3" height="0.8" fill="#000"/><rect x="578" y="304.05" width="3" height="0.8" fill="#000"/><rect x="600" y="304.05" width="3" height="0.8" fill="#000"/><rect x="578" y="302.57" width="3" height="0.8" fill="#000"/><rect x="600" y="302.57" width="3" height="0.8" fill="#000"/><rect x="578" y="301.27" width="3" height="0.8" fill="#000"/><rect x="600" y="301.27" width="3" height="0.8" fill="#000"/><rect x="576" y="325.50" width="5" height="1.2" fill="#000"/><rect x="600" y="325.50" width="5" height="1.2" fill="#000"/><rect x="581" y="365" width="19" height="76" fill="url(#cb)"/><rect x="579.6" y="364" width="1.6" height="78" fill="#000"/><rect x="599.8" y="364" width="1.6" height="78" fill="#000"/><rect x="576" y="440.6" width="29" height="1.3" fill="#000"/><rect x="576" y="364.00" width="5" height="1.2" fill="#000"/><rect x="600" y="364.00" width="5" height="1.2" fill="#000"/><rect x="578" y="374.79" width="3" height="0.8" fill="#000"/><rect x="600" y="374.79" width="3" height="0.8" fill="#000"/><rect x="578" y="372.10" width="3" height="0.8" fill="#000"/><rect x="600" y="372.10" width="3" height="0.8" fill="#000"/><rect x="578" y="370.19" width="3" height="0.8" fill="#000"/><rect x="600" y="370.19" width="3" height="0.8" fill="#000"/><rect x="578" y="368.71" width="3" height="0.8" fill="#000"/><rect x="600" y="368.71" width="3" height="0.8" fill="#000"/><rect x="578" y="367.49" width="3" height="0.8" fill="#000"/><rect x="600" y="367.49" width="3" height="0.8" fill="#000"/><rect x="578" y="366.47" width="3" height="0.8" fill="#000"/><rect x="600" y="366.47" width="3" height="0.8" fill="#000"/><rect x="578" y="365.58" width="3" height="0.8" fill="#000"/><rect x="600" y="365.58" width="3" height="0.8" fill="#000"/><rect x="578" y="364.80" width="3" height="0.8" fill="#000"/><rect x="600" y="364.80" width="3" height="0.8" fill="#000"/><rect x="576" y="379.30" width="5" height="1.2" fill="#000"/><rect x="600" y="379.30" width="5" height="1.2" fill="#000"/><rect x="578" y="390.09" width="3" height="0.8" fill="#000"/><rect x="600" y="390.09" width="3" height="0.8" fill="#000"/><rect x="578" y="387.40" width="3" height="0.8" fill="#000"/><rect x="600" y="387.40" width="3" height="0.8" fill="#000"/><rect x="578" y="385.49" width="3" height="0.8" fill="#000"/><rect x="600" y="385.49" width="3" height="0.8" fill="#000"/><rect x="578" y="384.01" width="3" height="0.8" fill="#000"/><rect x="600" y="384.01" width="3" height="0.8" fill="#000"/><rect x="578" y="382.79" width="3" height="0.8" fill="#000"/><rect x="600" y="382.79" width="3" height="0.8" fill="#000"/><rect x="578" y="381.77" width="3" height="0.8" fill="#000"/><rect x="600" y="381.77" width="3" height="0.8" fill="#000"/><rect x="578" y="380.88" width="3" height="0.8" fill="#000"/><rect x="600" y="380.88" width="3" height="0.8" fill="#000"/><rect x="578" y="380.10" width="3" height="0.8" fill="#000"/><rect x="600" y="380.10" width="3" height="0.8" fill="#000"/><rect x="576" y="394.60" width="5" height="1.2" fill="#000"/><rect x="600" y="394.60" width="5" height="1.2" fill="#000"/><rect x="578" y="405.39" width="3" height="0.8" fill="#000"/><rect x="600" y="405.39" width="3" height="0.8" fill="#000"/><rect x="578" y="402.70" width="3" height="0.8" fill="#000"/><rect x="600" y="402.70" width="3" height="0.8" fill="#000"/><rect x="578" y="400.79" width="3" height="0.8" fill="#000"/><rect x="600" y="400.79" width="3" height="0.8" fill="#000"/><rect x="578" y="399.31" width="3" height="0.8" fill="#000"/><rect x="600" y="399.31" width="3" height="0.8" fill="#000"/><rect x="578" y="398.09" width="3" height="0.8" fill="#000"/><rect x="600" y="398.09" width="3" height="0.8" fill="#000"/><rect x="578" y="397.07" width="3" height="0.8" fill="#000"/><rect x="600" y="397.07" width="3" height="0.8" fill="#000"/><rect x="578" y="396.18" width="3" height="0.8" fill="#000"/><rect x="600" y="396.18" width="3" height="0.8" fill="#000"/><rect x="578" y="395.40" width="3" height="0.8" fill="#000"/><rect x="600" y="395.40" width="3" height="0.8" fill="#000"/><rect x="576" y="409.90" width="5" height="1.2" fill="#000"/><rect x="600" y="409.90" width="5" height="1.2" fill="#000"/><rect x="578" y="420.69" width="3" height="0.8" fill="#000"/><rect x="600" y="420.69" width="3" height="0.8" fill="#000"/><rect x="578" y="418.00" width="3" height="0.8" fill="#000"/><rect x="600" y="418.00" width="3" height="0.8" fill="#000"/><rect x="578" y="416.09" width="3" height="0.8" fill="#000"/><rect x="600" y="416.09" width="3" height="0.8" fill="#000"/><rect x="578" y="414.61" width="3" height="0.8" fill="#000"/><rect x="600" y="414.61" width="3" height="0.8" fill="#000"/><rect x="578" y="413.39" width="3" height="0.8" fill="#000"/><rect x="600" y="413.39" width="3" height="0.8" fill="#000"/><rect x="578" y="412.37" width="3" height="0.8" fill="#000"/><rect x="600" y="412.37" width="3" height="0.8" fill="#000"/><rect x="578" y="411.48" width="3" height="0.8" fill="#000"/><rect x="600" y="411.48" width="3" height="0.8" fill="#000"/><rect x="578" y="410.70" width="3" height="0.8" fill="#000"/><rect x="600" y="410.70" width="3" height="0.8" fill="#000"/><rect x="576" y="425.20" width="5" height="1.2" fill="#000"/><rect x="600" y="425.20" width="5" height="1.2" fill="#000"/><rect x="578" y="435.99" width="3" height="0.8" fill="#000"/><rect x="600" y="435.99" width="3" height="0.8" fill="#000"/><rect x="578" y="433.30" width="3" height="0.8" fill="#000"/><rect x="600" y="433.30" width="3" height="0.8" fill="#000"/><rect x="578" y="431.39" width="3" height="0.8" fill="#000"/><rect x="600" y="431.39" width="3" height="0.8" fill="#000"/><rect x="578" y="429.91" width="3" height="0.8" fill="#000"/><rect x="600" y="429.91" width="3" height="0.8" fill="#000"/><rect x="578" y="428.69" width="3" height="0.8" fill="#000"/><rect x="600" y="428.69" width="3" height="0.8" fill="#000"/><rect x="578" y="427.67" width="3" height="0.8" fill="#000"/><rect x="600" y="427.67" width="3" height="0.8" fill="#000"/><rect x="578" y="426.78" width="3" height="0.8" fill="#000"/><rect x="600" y="426.78" width="3" height="0.8" fill="#000"/><rect x="578" y="426.00" width="3" height="0.8" fill="#000"/><rect x="600" y="426.00" width="3" height="0.8" fill="#000"/><rect x="576" y="440.50" width="5" height="1.2" fill="#000"/><rect x="600" y="440.50" width="5" height="1.2" fill="#000"/><rect x="581" y="461" width="19" height="76" fill="url(#cb)"/><rect x="579.6" y="460" width="1.6" height="78" fill="#000"/><rect x="599.8" y="460" width="1.6" height="78" fill="#000"/><rect x="576" y="536.6" width="29" height="1.3" fill="#000"/><rect x="576" y="460.00" width="5" height="1.2" fill="#000"/><rect x="600" y="460.00" width="5" height="1.2" fill="#000"/><rect x="578" y="470.79" width="3" height="0.8" fill="#000"/><rect x="600" y="470.79" width="3" height="0.8" fill="#000"/><rect x="578" y="468.10" width="3" height="0.8" fill="#000"/><rect x="600" y="468.10" width="3" height="0.8" fill="#000"/><rect x="578" y="466.19" width="3" height="0.8" fill="#000"/><rect x="600" y="466.19" width="3" height="0.8" fill="#000"/><rect x="578" y="464.71" width="3" height="0.8" fill="#000"/><rect x="600" y="464.71" width="3" height="0.8" fill="#000"/><rect x="578" y="463.49" width="3" height="0.8" fill="#000"/><rect x="600" y="463.49" width="3" height="0.8" fill="#000"/><rect x="578" y="462.47" width="3" height="0.8" fill="#000"/><rect x="600" y="462.47" width="3" height="0.8" fill="#000"/><rect x="578" y="461.58" width="3" height="0.8" fill="#000"/><rect x="600" y="461.58" width="3" height="0.8" fill="#000"/><rect x="578" y="460.80" width="3" height="0.8" fill="#000"/><rect x="600" y="460.80" width="3" height="0.8" fill="#000"/><rect x="576" y="475.30" width="5" height="1.2" fill="#000"/><rect x="600" y="475.30" width="5" height="1.2" fill="#000"/><rect x="578" y="486.09" width="3" height="0.8" fill="#000"/><rect x="600" y="486.09" width="3" height="0.8" fill="#000"/><rect x="578" y="483.40" width="3" height="0.8" fill="#000"/><rect x="600" y="483.40" width="3" height="0.8" fill="#000"/><rect x="578" y="481.49" width="3" height="0.8" fill="#000"/><rect x="600" y="481.49" width="3" height="0.8" fill="#000"/><rect x="578" y="480.01" width="3" height="0.8" fill="#000"/><rect x="600" y="480.01" width="3" height="0.8" fill="#000"/><rect x="578" y="478.79" width="3" height="0.8" fill="#000"/><rect x="600" y="478.79" width="3" height="0.8" fill="#000"/><rect x="578" y="477.77" width="3" height="0.8" fill="#000"/><rect x="600" y="477.77" width="3" height="0.8" fill="#000"/><rect x="578" y="476.88" width="3" height="0.8" fill="#000"/><rect x="600" y="476.88" width="3" height="0.8" fill="#000"/><rect x="578" y="476.10" width="3" height="0.8" fill="#000"/><rect x="600" y="476.10" width="3" height="0.8" fill="#000"/><rect x="576" y="490.60" width="5" height="1.2" fill="#000"/><rect x="600" y="490.60" width="5" height="1.2" fill="#000"/><rect x="578" y="501.39" width="3" height="0.8" fill="#000"/><rect x="600" y="501.39" width="3" height="0.8" fill="#000"/><rect x="578" y="498.70" width="3" height="0.8" fill="#000"/><rect x="600" y="498.70" width="3" height="0.8" fill="#000"/><rect x="578" y="496.79" width="3" height="0.8" fill="#000"/><rect x="600" y="496.79" width="3" height="0.8" fill="#000"/><rect x="578" y="495.31" width="3" height="0.8" fill="#000"/><rect x="600" y="495.31" width="3" height="0.8" fill="#000"/><rect x="578" y="494.09" width="3" height="0.8" fill="#000"/><rect x="600" y="494.09" width="3" height="0.8" fill="#000"/><rect x="578" y="493.07" width="3" height="0.8" fill="#000"/><rect x="600" y="493.07" width="3" height="0.8" fill="#000"/><rect x="578" y="492.18" width="3" height="0.8" fill="#000"/><rect x="600" y="492.18" width="3" height="0.8" fill="#000"/><rect x="578" y="491.40" width="3" height="0.8" fill="#000"/><rect x="600" y="491.40" width="3" height="0.8" fill="#000"/><rect x="576" y="505.90" width="5" height="1.2" fill="#000"/><rect x="600" y="505.90" width="5" height="1.2" fill="#000"/><rect x="578" y="516.69" width="3" height="0.8" fill="#000"/><rect x="600" y="516.69" width="3" height="0.8" fill="#000"/><rect x="578" y="514.00" width="3" height="0.8" fill="#000"/><rect x="600" y="514.00" width="3" height="0.8" fill="#000"/><rect x="578" y="512.09" width="3" height="0.8" fill="#000"/><rect x="600" y="512.09" width="3" height="0.8" fill="#000"/><rect x="578" y="510.61" width="3" height="0.8" fill="#000"/><rect x="600" y="510.61" width="3" height="0.8" fill="#000"/><rect x="578" y="509.39" width="3" height="0.8" fill="#000"/><rect x="600" y="509.39" width="3" height="0.8" fill="#000"/><rect x="578" y="508.37" width="3" height="0.8" fill="#000"/><rect x="600" y="508.37" width="3" height="0.8" fill="#000"/><rect x="578" y="507.48" width="3" height="0.8" fill="#000"/><rect x="600" y="507.48" width="3" height="0.8" fill="#000"/><rect x="578" y="506.70" width="3" height="0.8" fill="#000"/><rect x="600" y="506.70" width="3" height="0.8" fill="#000"/><rect x="576" y="521.20" width="5" height="1.2" fill="#000"/><rect x="600" y="521.20" width="5" height="1.2" fill="#000"/><rect x="578" y="531.99" width="3" height="0.8" fill="#000"/><rect x="600" y="531.99" width="3" height="0.8" fill="#000"/><rect x="578" y="529.30" width="3" height="0.8" fill="#000"/><rect x="600" y="529.30" width="3" height="0.8" fill="#000"/><rect x="578" y="527.39" width="3" height="0.8" fill="#000"/><rect x="600" y="527.39" width="3" height="0.8" fill="#000"/><rect x="578" y="525.91" width="3" height="0.8" fill="#000"/><rect x="600" y="525.91" width="3" height="0.8" fill="#000"/><rect x="578" y="524.69" width="3" height="0.8" fill="#000"/><rect x="600" y="524.69" width="3" height="0.8" fill="#000"/><rect x="578" y="523.67" width="3" height="0.8" fill="#000"/><rect x="600" y="523.67" width="3" height="0.8" fill="#000"/><rect x="578" y="522.78" width="3" height="0.8" fill="#000"/><rect x="600" y="522.78" width="3" height="0.8" fill="#000"/><rect x="578" y="522.00" width="3" height="0.8" fill="#000"/><rect x="600" y="522.00" width="3" height="0.8" fill="#000"/><rect x="576" y="536.50" width="5" height="1.2" fill="#000"/><rect x="600" y="536.50" width="5" height="1.2" fill="#000"/><rect x="581" y="557" width="19" height="76" fill="url(#cb)"/><rect x="579.6" y="556" width="1.6" height="78" fill="#000"/><rect x="599.8" y="556" width="1.6" height="78" fill="#000"/><rect x="576" y="632.6" width="29" height="1.3" fill="#000"/><rect x="576" y="556.00" width="5" height="1.2" fill="#000"/><rect x="600" y="556.00" width="5" height="1.2" fill="#000"/><rect x="578" y="566.79" width="3" height="0.8" fill="#000"/><rect x="600" y="566.79" width="3" height="0.8" fill="#000"/><rect x="578" y="564.10" width="3" height="0.8" fill="#000"/><rect x="600" y="564.10" width="3" height="0.8" fill="#000"/><rect x="578" y="562.19" width="3" height="0.8" fill="#000"/><rect x="600" y="562.19" width="3" height="0.8" fill="#000"/><rect x="578" y="560.71" width="3" height="0.8" fill="#000"/><rect x="600" y="560.71" width="3" height="0.8" fill="#000"/><rect x="578" y="559.49" width="3" height="0.8" fill="#000"/><rect x="600" y="559.49" width="3" height="0.8" fill="#000"/><rect x="578" y="558.47" width="3" height="0.8" fill="#000"/><rect x="600" y="558.47" width="3" height="0.8" fill="#000"/><rect x="578" y="557.58" width="3" height="0.8" fill="#000"/><rect x="600" y="557.58" width="3" height="0.8" fill="#000"/><rect x="578" y="556.80" width="3" height="0.8" fill="#000"/><rect x="600" y="556.80" width="3" height="0.8" fill="#000"/><rect x="576" y="571.30" width="5" height="1.2" fill="#000"/><rect x="600" y="571.30" width="5" height="1.2" fill="#000"/><rect x="578" y="582.09" width="3" height="0.8" fill="#000"/><rect x="600" y="582.09" width="3" height="0.8" fill="#000"/><rect x="578" y="579.40" width="3" height="0.8" fill="#000"/><rect x="600" y="579.40" width="3" height="0.8" fill="#000"/><rect x="578" y="577.49" width="3" height="0.8" fill="#000"/><rect x="600" y="577.49" width="3" height="0.8" fill="#000"/><rect x="578" y="576.01" width="3" height="0.8" fill="#000"/><rect x="600" y="576.01" width="3" height="0.8" fill="#000"/><rect x="578" y="574.79" width="3" height="0.8" fill="#000"/><rect x="600" y="574.79" width="3" height="0.8" fill="#000"/><rect x="578" y="573.77" width="3" height="0.8" fill="#000"/><rect x="600" y="573.77" width="3" height="0.8" fill="#000"/><rect x="578" y="572.88" width="3" height="0.8" fill="#000"/><rect x="600" y="572.88" width="3" height="0.8" fill="#000"/><rect x="578" y="572.10" width="3" height="0.8" fill="#000"/><rect x="600" y="572.10" width="3" height="0.8" fill="#000"/><rect x="576" y="586.60" width="5" height="1.2" fill="#000"/><rect x="600" y="586.60" width="5" height="1.2" fill="#000"/><rect x="578" y="597.39" width="3" height="0.8" fill="#000"/><rect x="600" y="597.39" width="3" height="0.8" fill="#000"/><rect x="578" y="594.70" width="3" height="0.8" fill="#000"/><rect x="600" y="594.70" width="3" height="0.8" fill="#000"/><rect x="578" y="592.79" width="3" height="0.8" fill="#000"/><rect x="600" y="592.79" width="3" height="0.8" fill="#000"/><rect x="578" y="591.31" width="3" height="0.8" fill="#000"/><rect x="600" y="591.31" width="3" height="0.8" fill="#000"/><rect x="578" y="590.09" width="3" height="0.8" fill="#000"/><rect x="600" y="590.09" width="3" height="0.8" fill="#000"/><rect x="578" y="589.07" width="3" height="0.8" fill="#000"/><rect x="600" y="589.07" width="3" height="0.8" fill="#000"/><rect x="578" y="588.18" width="3" height="0.8" fill="#000"/><rect x="600" y="588.18" width="3" height="0.8" fill="#000"/><rect x="578" y="587.40" width="3" height="0.8" fill="#000"/><rect x="600" y="587.40" width="3" height="0.8" fill="#000"/><rect x="576" y="601.90" width="5" height="1.2" fill="#000"/><rect x="600" y="601.90" width="5" height="1.2" fill="#000"/><rect x="578" y="612.69" width="3" height="0.8" fill="#000"/><rect x="600" y="612.69" width="3" height="0.8" fill="#000"/><rect x="578" y="610.00" width="3" height="0.8" fill="#000"/><rect x="600" y="610.00" width="3" height="0.8" fill="#000"/><rect x="578" y="608.09" width="3" height="0.8" fill="#000"/><rect x="600" y="608.09" width="3" height="0.8" fill="#000"/><rect x="578" y="606.61" width="3" height="0.8" fill="#000"/><rect x="600" y="606.61" width="3" height="0.8" fill="#000"/><rect x="578" y="605.39" width="3" height="0.8" fill="#000"/><rect x="600" y="605.39" width="3" height="0.8" fill="#000"/><rect x="578" y="604.37" width="3" height="0.8" fill="#000"/><rect x="600" y="604.37" width="3" height="0.8" fill="#000"/><rect x="578" y="603.48" width="3" height="0.8" fill="#000"/><rect x="600" y="603.48" width="3" height="0.8" fill="#000"/><rect x="578" y="602.70" width="3" height="0.8" fill="#000"/><rect x="600" y="602.70" width="3" height="0.8" fill="#000"/><rect x="576" y="617.20" width="5" height="1.2" fill="#000"/><rect x="600" y="617.20" width="5" height="1.2" fill="#000"/><rect x="578" y="627.99" width="3" height="0.8" fill="#000"/><rect x="600" y="627.99" width="3" height="0.8" fill="#000"/><rect x="578" y="625.30" width="3" height="0.8" fill="#000"/><rect x="600" y="625.30" width="3" height="0.8" fill="#000"/><rect x="578" y="623.39" width="3" height="0.8" fill="#000"/><rect x="600" y="623.39" width="3" height="0.8" fill="#000"/><rect x="578" y="621.91" width="3" height="0.8" fill="#000"/><rect x="600" y="621.91" width="3" height="0.8" fill="#000"/><rect x="578" y="620.69" width="3" height="0.8" fill="#000"/><rect x="600" y="620.69" width="3" height="0.8" fill="#000"/><rect x="578" y="619.67" width="3" height="0.8" fill="#000"/><rect x="600" y="619.67" width="3" height="0.8" fill="#000"/><rect x="578" y="618.78" width="3" height="0.8" fill="#000"/><rect x="600" y="618.78" width="3" height="0.8" fill="#000"/><rect x="578" y="618.00" width="3" height="0.8" fill="#000"/><rect x="600" y="618.00" width="3" height="0.8" fill="#000"/><rect x="576" y="632.50" width="5" height="1.2" fill="#000"/><rect x="600" y="632.50" width="5" height="1.2" fill="#000"/><g font-family="Liberation Sans, sans-serif" fill="#000"><text x="122.0" y="33.3" font-size="16.5" textLength="39.3" lengthAdjust="spacingAndGlyphs">Polar</text><text x="172.0" y="33.3" font-size="16.5" textLength="25.5" lengthAdjust="spacingAndGlyphs">PWI</text><text x="208.0" y="33.3" font-size="16.5" textLength="39.5" lengthAdjust="spacingAndGlyphs">LFWR</text><text x="258.0" y="33.3" font-size="16.5" textLength="72.0" lengthAdjust="spacingAndGlyphs">Channels</text><text x="341.2" y="33.3" font-size="16.5" textLength="5.8" lengthAdjust="spacingAndGlyphs">1</text><text x="382.0" y="33.3" font-size="16.5" textLength="7.5" lengthAdjust="spacingAndGlyphs">6</text><text x="400.0" y="33.3" font-size="16.5" textLength="58.5" lengthAdjust="spacingAndGlyphs">Despun</text><rect x="355" y="28.1" width="14" height="1.3"/><text x="38.8" y="140.0" font-size="14.0" textLength="86.0" lengthAdjust="spacing" transform="rotate(-90 38.8 140.0)">Ex' freq (Hz)</text><text x="66.6" y="66.4" font-size="12.5" text-anchor="end" textLength="15.0" lengthAdjust="spacing">30</text><text x="66.6" y="76.1" font-size="12.5" text-anchor="end" textLength="15.0" lengthAdjust="spacing">25</text><text x="66.6" y="88.5" font-size="12.5" text-anchor="end" textLength="15.0" lengthAdjust="spacing">20</text><text x="66.6" y="101.4" font-size="12.5" text-anchor="end" textLength="15.0" lengthAdjust="spacing">15</text><text x="66.6" y="114.1" font-size="12.5" text-anchor="end" textLength="15.0" lengthAdjust="spacing">10</text><text x="66.6" y="126.4" font-size="12.5" text-anchor="end">5</text><text x="66.6" y="135.0" font-size="12.5" text-anchor="end">0</text><text x="38.8" y="236.0" font-size="14.0" textLength="86.0" lengthAdjust="spacing" transform="rotate(-90 38.8 236.0)">Ey' freq (Hz)</text><text x="66.6" y="162.4" font-size="12.5" text-anchor="end" textLength="15.0" lengthAdjust="spacing">30</text><text x="66.6" y="172.1" font-size="12.5" text-anchor="end" textLength="15.0" lengthAdjust="spacing">25</text><text x="66.6" y="184.5" font-size="12.5" text-anchor="end" textLength="15.0" lengthAdjust="spacing">20</text><text x="66.6" y="197.4" font-size="12.5" text-anchor="end" textLength="15.0" lengthAdjust="spacing">15</text><text x="66.6" y="210.1" font-size="12.5" text-anchor="end" textLength="15.0" lengthAdjust="spacing">10</text><text x="66.6" y="222.4" font-size="12.5" text-anchor="end">5</text><text x="66.6" y="231.0" font-size="12.5" text-anchor="end">0</text><text x="38.8" y="332.0" font-size="14.0" textLength="86.0" lengthAdjust="spacing" transform="rotate(-90 38.8 332.0)">Ez freq (Hz)</text><text x="66.6" y="258.4" font-size="12.5" text-anchor="end" textLength="15.0" lengthAdjust="spacing">30</text><text x="66.6" y="268.1" font-size="12.5" text-anchor="end" textLength="15.0" lengthAdjust="spacing">25</text><text x="66.6" y="280.5" font-size="12.5" text-anchor="end" textLength="15.0" lengthAdjust="spacing">20</text><text x="66.6" y="293.4" font-size="12.5" text-anchor="end" textLength="15.0" lengthAdjust="spacing">15</text><text x="66.6" y="306.1" font-size="12.5" text-anchor="end" textLength="15.0" lengthAdjust="spacing">10</text><text x="66.6" y="318.4" font-size="12.5" text-anchor="end">5</text><text x="66.6" y="327.0" font-size="12.5" text-anchor="end">0</text><text x="38.8" y="447.0" font-size="14.0" textLength="86.0" lengthAdjust="spacing" transform="rotate(-90 38.8 447.0)">Bx' freq (Hz)</text><text x="66.6" y="373.4" font-size="12.5" text-anchor="end" textLength="15.0" lengthAdjust="spacing">30</text><text x="66.6" y="383.1" font-size="12.5" text-anchor="end" textLength="15.0" lengthAdjust="spacing">25</text><text x="66.6" y="395.5" font-size="12.5" text-anchor="end" textLength="15.0" lengthAdjust="spacing">20</text><text x="66.6" y="408.4" font-size="12.5" text-anchor="end" textLength="15.0" lengthAdjust="spacing">15</text><text x="66.6" y="421.1" font-size="12.5" text-anchor="end" textLength="15.0" lengthAdjust="spacing">10</text><text x="66.6" y="433.4" font-size="12.5" text-anchor="end">5</text><text x="66.6" y="442.0" font-size="12.5" text-anchor="end">0</text><text x="38.8" y="543.0" font-size="14.0" textLength="86.0" lengthAdjust="spacing" transform="rotate(-90 38.8 543.0)">By' freq (Hz)</text><text x="66.6" y="469.4" font-size="12.5" text-anchor="end" textLength="15.0" lengthAdjust="spacing">30</text><text x="66.6" y="479.1" font-size="12.5" text-anchor="end" textLength="15.0" lengthAdjust="spacing">25</text><text x="66.6" y="491.5" font-size="12.5" text-anchor="end" textLength="15.0" lengthAdjust="spacing">20</text><text x="66.6" y="504.4" font-size="12.5" text-anchor="end" textLength="15.0" lengthAdjust="spacing">15</text><text x="66.6" y="517.1" font-size="12.5" text-anchor="end" textLength="15.0" lengthAdjust="spacing">10</text><text x="66.6" y="529.4" font-size="12.5" text-anchor="end">5</text><text x="66.6" y="538.0" font-size="12.5" text-anchor="end">0</text><text x="38.8" y="639.0" font-size="14.0" textLength="86.0" lengthAdjust="spacing" transform="rotate(-90 38.8 639.0)">Bz freq (Hz)</text><text x="66.6" y="565.4" font-size="12.5" text-anchor="end" textLength="15.0" lengthAdjust="spacing">30</text><text x="66.6" y="575.1" font-size="12.5" text-anchor="end" textLength="15.0" lengthAdjust="spacing">25</text><text x="66.6" y="587.5" font-size="12.5" text-anchor="end" textLength="15.0" lengthAdjust="spacing">20</text><text x="66.6" y="600.4" font-size="12.5" text-anchor="end" textLength="15.0" lengthAdjust="spacing">15</text><text x="66.6" y="613.1" font-size="12.5" text-anchor="end" textLength="15.0" lengthAdjust="spacing">10</text><text x="66.6" y="625.4" font-size="12.5" text-anchor="end">5</text><text x="66.6" y="634.0" font-size="12.5" text-anchor="end">0</text><text x="536.0" y="66.5" font-size="12.5" textLength="15.5" lengthAdjust="spacing">10</text><text x="552.5" y="59.5" font-size="12.5" textLength="18.0" lengthAdjust="spacing">–6</text><text x="536.0" y="82.2" font-size="12.5" textLength="15.5" lengthAdjust="spacing">10</text><text x="552.5" y="75.2" font-size="12.5" textLength="18.0" lengthAdjust="spacing">–7</text><text x="536.0" y="100.8" font-size="12.5" textLength="15.5" lengthAdjust="spacing">10</text><text x="552.5" y="93.8" font-size="12.5" textLength="18.0" lengthAdjust="spacing">–8</text><text x="536.0" y="120.0" font-size="12.5" textLength="15.5" lengthAdjust="spacing">10</text><text x="552.5" y="113.0" font-size="12.5" textLength="18.0" lengthAdjust="spacing">–9</text><text x="528.5" y="134.9" font-size="12.5" textLength="15.5" lengthAdjust="spacing">10</text><text x="545.5" y="127.9" font-size="12.5" textLength="26.0" lengthAdjust="spacing">–10</text><text x="536.0" y="162.5" font-size="12.5" textLength="15.5" lengthAdjust="spacing">10</text><text x="552.5" y="155.5" font-size="12.5" textLength="18.0" lengthAdjust="spacing">–6</text><text x="536.0" y="178.2" font-size="12.5" textLength="15.5" lengthAdjust="spacing">10</text><text x="552.5" y="171.2" font-size="12.5" textLength="18.0" lengthAdjust="spacing">–7</text><text x="536.0" y="196.8" font-size="12.5" textLength="15.5" lengthAdjust="spacing">10</text><text x="552.5" y="189.8" font-size="12.5" textLength="18.0" lengthAdjust="spacing">–8</text><text x="536.0" y="216.0" font-size="12.5" textLength="15.5" lengthAdjust="spacing">10</text><text x="552.5" y="209.0" font-size="12.5" textLength="18.0" lengthAdjust="spacing">–9</text><text x="528.5" y="230.9" font-size="12.5" textLength="15.5" lengthAdjust="spacing">10</text><text x="545.5" y="223.9" font-size="12.5" textLength="26.0" lengthAdjust="spacing">–10</text><text x="536.0" y="259.1" font-size="12.5" textLength="15.5" lengthAdjust="spacing">10</text><text x="552.5" y="252.1" font-size="12.5" textLength="18.0" lengthAdjust="spacing">–6</text><text x="536.0" y="279.9" font-size="12.5" textLength="15.5" lengthAdjust="spacing">10</text><text x="552.5" y="272.9" font-size="12.5" textLength="18.0" lengthAdjust="spacing">–7</text><text x="536.0" y="306.5" font-size="12.5" textLength="15.5" lengthAdjust="spacing">10</text><text x="552.5" y="299.5" font-size="12.5" textLength="18.0" lengthAdjust="spacing">–8</text><text x="536.0" y="326.5" font-size="12.5" textLength="15.5" lengthAdjust="spacing">10</text><text x="552.5" y="319.5" font-size="12.5" textLength="18.0" lengthAdjust="spacing">–9</text><text x="536.0" y="373.5" font-size="12.5" textLength="15.5" lengthAdjust="spacing">10</text><text x="552.5" y="366.5" font-size="12.5" textLength="18.0" lengthAdjust="spacing">–1</text><text x="536.0" y="385.3" font-size="12.5" textLength="15.5" lengthAdjust="spacing">10</text><text x="552.5" y="378.3" font-size="12.5" textLength="18.0" lengthAdjust="spacing">–2</text><text x="536.0" y="400.9" font-size="12.5" textLength="15.5" lengthAdjust="spacing">10</text><text x="552.5" y="393.9" font-size="12.5" textLength="18.0" lengthAdjust="spacing">–3</text><text x="536.0" y="416.5" font-size="12.5" textLength="15.5" lengthAdjust="spacing">10</text><text x="552.5" y="409.5" font-size="12.5" textLength="18.0" lengthAdjust="spacing">–4</text><text x="536.0" y="431.4" font-size="12.5" textLength="15.5" lengthAdjust="spacing">10</text><text x="552.5" y="424.4" font-size="12.5" textLength="18.0" lengthAdjust="spacing">–5</text><text x="536.0" y="441.3" font-size="12.5" textLength="15.5" lengthAdjust="spacing">10</text><text x="552.5" y="434.3" font-size="12.5" textLength="18.0" lengthAdjust="spacing">–6</text><text x="536.0" y="469.5" font-size="12.5" textLength="15.5" lengthAdjust="spacing">10</text><text x="552.5" y="462.5" font-size="12.5" textLength="18.0" lengthAdjust="spacing">–1</text><text x="536.0" y="481.3" font-size="12.5" textLength="15.5" lengthAdjust="spacing">10</text><text x="552.5" y="474.3" font-size="12.5" textLength="18.0" lengthAdjust="spacing">–2</text><text x="536.0" y="496.9" font-size="12.5" textLength="15.5" lengthAdjust="spacing">10</text><text x="552.5" y="489.9" font-size="12.5" textLength="18.0" lengthAdjust="spacing">–3</text><text x="536.0" y="512.5" font-size="12.5" textLength="15.5" lengthAdjust="spacing">10</text><text x="552.5" y="505.5" font-size="12.5" textLength="18.0" lengthAdjust="spacing">–4</text><text x="536.0" y="527.4" font-size="12.5" textLength="15.5" lengthAdjust="spacing">10</text><text x="552.5" y="520.4" font-size="12.5" textLength="18.0" lengthAdjust="spacing">–5</text><text x="536.0" y="537.3" font-size="12.5" textLength="15.5" lengthAdjust="spacing">10</text><text x="552.5" y="530.3" font-size="12.5" textLength="18.0" lengthAdjust="spacing">–6</text><text x="536.0" y="565.5" font-size="12.5" textLength="15.5" lengthAdjust="spacing">10</text><text x="552.5" y="558.5" font-size="12.5" textLength="18.0" lengthAdjust="spacing">–1</text><text x="536.0" y="577.3" font-size="12.5" textLength="15.5" lengthAdjust="spacing">10</text><text x="552.5" y="570.3" font-size="12.5" textLength="18.0" lengthAdjust="spacing">–2</text><text x="536.0" y="592.9" font-size="12.5" textLength="15.5" lengthAdjust="spacing">10</text><text x="552.5" y="585.9" font-size="12.5" textLength="18.0" lengthAdjust="spacing">–3</text><text x="536.0" y="608.5" font-size="12.5" textLength="15.5" lengthAdjust="spacing">10</text><text x="552.5" y="601.5" font-size="12.5" textLength="18.0" lengthAdjust="spacing">–4</text><text x="536.0" y="623.4" font-size="12.5" textLength="15.5" lengthAdjust="spacing">10</text><text x="552.5" y="616.4" font-size="12.5" textLength="18.0" lengthAdjust="spacing">–5</text><text x="536.0" y="633.3" font-size="12.5" textLength="15.5" lengthAdjust="spacing">10</text><text x="552.5" y="626.3" font-size="12.5" textLength="18.0" lengthAdjust="spacing">–6</text><text x="562.5" y="37.8" font-size="10.5" textLength="55.0" lengthAdjust="spacing">(V/m)²/Hz</text><text x="573.0" y="345.0" font-size="10.5" textLength="33.0" lengthAdjust="spacing">nT²/Hz</text><text x="16.0" y="653.3" font-size="12.5" textLength="30.5" lengthAdjust="spacing">SCET</text><text x="34.0" y="671.8" font-size="12.5">R</text><text x="42.2" y="675.3" font-size="9.0">E</text><text x="33.0" y="690.0" font-size="12.5">λ</text><text x="39.5" y="693.5" font-size="9.0">m</text><text x="25.0" y="707.8" font-size="12.5" textLength="21.5" lengthAdjust="spacing">MLT</text><text x="41.5" y="726.0" font-size="12.5">L</text><text x="51.0" y="653.3" font-size="12.5" textLength="36.0" lengthAdjust="spacing">00:00</text><text x="101.5" y="653.3" font-size="12.5">5</text><text x="101.2" y="671.8" font-size="12.5" text-anchor="end" textLength="27.6" lengthAdjust="spacing">1.97</text><text x="101.2" y="690.0" font-size="12.5" text-anchor="end" textLength="42.4" lengthAdjust="spacing">–65.16</text><text x="101.2" y="707.8" font-size="12.5" text-anchor="end" textLength="27.6" lengthAdjust="spacing">0.06</text><text x="101.2" y="726.0" font-size="12.5" text-anchor="end" textLength="35.0" lengthAdjust="spacing">11.43</text><text x="156.0" y="653.3" font-size="12.5" textLength="36.0" lengthAdjust="spacing">06:00</text><text x="206.5" y="653.3" font-size="12.5">5</text><text x="206.2" y="671.8" font-size="12.5" text-anchor="end" textLength="27.6" lengthAdjust="spacing">8.37</text><text x="206.2" y="690.0" font-size="12.5" text-anchor="end" textLength="35.0" lengthAdjust="spacing">76.65</text><text x="206.2" y="707.8" font-size="12.5" text-anchor="end" textLength="27.6" lengthAdjust="spacing">4.50</text><text x="206.2" y="726.0" font-size="12.5" text-anchor="end" textLength="42.4" lengthAdjust="spacing">157.07</text><text x="261.0" y="653.3" font-size="12.5" textLength="36.0" lengthAdjust="spacing">12:00</text><text x="311.5" y="653.3" font-size="12.5">5</text><text x="311.2" y="671.8" font-size="12.5" text-anchor="end" textLength="27.6" lengthAdjust="spacing">7.98</text><text x="311.2" y="690.0" font-size="12.5" text-anchor="end" textLength="35.0" lengthAdjust="spacing">70.48</text><text x="311.2" y="707.8" font-size="12.5" text-anchor="end" textLength="35.0" lengthAdjust="spacing">15.49</text><text x="311.2" y="726.0" font-size="12.5" text-anchor="end" textLength="35.0" lengthAdjust="spacing">71.33</text><text x="366.0" y="653.3" font-size="12.5" textLength="36.0" lengthAdjust="spacing">18:00</text><text x="416.5" y="653.3" font-size="12.5">5</text><text x="416.2" y="671.8" font-size="12.5" text-anchor="end" textLength="27.6" lengthAdjust="spacing">2.33</text><text x="416.2" y="690.0" font-size="12.5" text-anchor="end" textLength="42.4" lengthAdjust="spacing">–48.23</text><text x="416.2" y="707.8" font-size="12.5" text-anchor="end" textLength="27.6" lengthAdjust="spacing">2.43</text><text x="416.2" y="726.0" font-size="12.5" text-anchor="end" textLength="27.6" lengthAdjust="spacing">5.16</text><text x="471.0" y="653.3" font-size="12.5" textLength="36.0" lengthAdjust="spacing">00:00</text><text x="521.5" y="653.3" font-size="12.5">6</text><text x="521.2" y="671.8" font-size="12.5" text-anchor="end" textLength="27.6" lengthAdjust="spacing">8.50</text><text x="521.2" y="690.0" font-size="12.5" text-anchor="end" textLength="35.0" lengthAdjust="spacing">64.06</text><text x="521.2" y="707.8" font-size="12.5" text-anchor="end" textLength="27.6" lengthAdjust="spacing">4.44</text><text x="521.2" y="726.0" font-size="12.5" text-anchor="end" textLength="35.0" lengthAdjust="spacing">44.28</text><text x="147.8" y="743.4" font-size="12.5" textLength="286.0" lengthAdjust="spacing">1997/09/05 00:00 to 1997/09/06 00:00</text><text x="570.6" y="765.6" font-size="8.0" textLength="66.5" lengthAdjust="spacing" font-weight="bold">UIowa 19980823</text></g></svg></body></html>
